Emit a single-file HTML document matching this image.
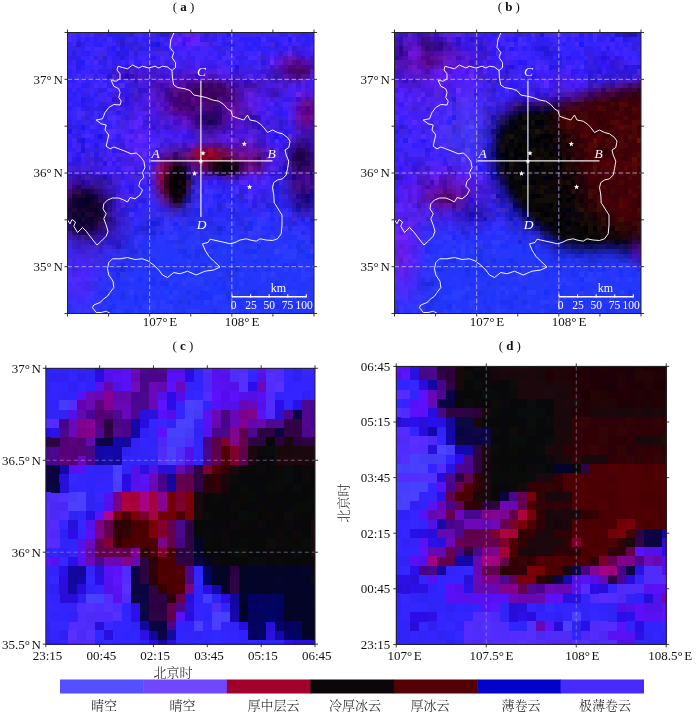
<!DOCTYPE html>
<html lang="zh"><head><meta charset="utf-8"><title>figure</title>
<style>html,body{margin:0;padding:0;background:#fff}body{width:700px;height:714px;overflow:hidden}</style></head>
<body>
<svg width="700" height="714" viewBox="0 0 700 714" style="display:block">
<rect width="700" height="714" fill="#fff"/>
<g shape-rendering="crispEdges"><path fill="#482afc" d="M67.5 32.5h4.7v4.91h-4.7zM89.51 32.5h4.7v4.91h-4.7zM67.5 37.11h4.7v4.91h-4.7zM261.18 37.11h4.7v4.91h-4.7zM291.99 37.11h4.7v4.91h-4.7zM225.96 50.93h4.7v4.91h-4.7zM256.78 50.93h4.7v4.91h-4.7zM159.94 55.53h4.7v4.91h-4.7zM221.56 55.53h4.7v4.91h-4.7zM225.96 55.53h4.7v4.91h-4.7zM247.97 55.53h4.7v4.91h-4.7zM252.38 55.53h4.7v4.91h-4.7zM93.91 60.14h4.7v4.91h-4.7zM85.11 73.96h4.7v4.91h-4.7zM76.3 78.57h4.7v4.91h-4.7zM98.31 78.57h4.7v4.91h-4.7zM93.91 83.17h4.7v4.91h-4.7zM102.71 83.17h4.7v4.91h-4.7zM107.12 87.78h4.7v4.91h-4.7zM76.3 110.81h4.7v4.91h-4.7zM107.12 115.42h4.7v4.91h-4.7zM111.52 120.02h4.7v4.91h-4.7zM89.51 124.63h4.7v4.91h-4.7zM85.11 133.84h4.7v4.91h-4.7zM247.97 189.12h4.7v4.91h-4.7zM71.9 276.65h4.7v4.91h-4.7zM85.11 276.65h4.7v4.91h-4.7zM89.51 276.65h4.7v4.91h-4.7zM80.71 290.47h4.7v4.91h-4.7z"/>
<path fill="#422afc" d="M71.9 32.5h4.7v4.91h-4.7zM80.71 32.5h4.7v4.91h-4.7zM137.93 32.5h4.7v4.91h-4.7zM287.59 32.5h4.7v4.91h-4.7zM107.12 37.11h4.7v4.91h-4.7zM217.16 37.11h4.7v4.91h-4.7zM71.9 41.71h4.7v4.91h-4.7zM85.11 46.32h4.7v4.91h-4.7zM93.91 46.32h4.7v4.91h-4.7zM98.31 46.32h4.7v4.91h-4.7zM89.51 55.53h4.7v4.91h-4.7zM85.11 60.14h4.7v4.91h-4.7zM76.3 73.96h4.7v4.91h-4.7zM76.3 106.2h4.7v4.91h-4.7zM93.91 110.81h4.7v4.91h-4.7zM76.3 115.42h4.7v4.91h-4.7zM93.91 115.42h4.7v4.91h-4.7zM98.31 120.02h4.7v4.91h-4.7zM234.77 184.52h4.7v4.91h-4.7zM247.97 198.34h4.7v4.91h-4.7zM137.93 202.94h4.7v4.91h-4.7zM89.51 267.43h4.7v4.91h-4.7zM89.51 272.04h4.7v4.91h-4.7zM67.5 281.25h4.7v4.91h-4.7zM67.5 285.86h4.7v4.91h-4.7zM85.11 290.47h4.7v4.91h-4.7zM80.71 295.07h4.7v4.91h-4.7z"/>
<path fill="#3624fc" d="M76.3 32.5h4.7v4.91h-4.7zM102.71 32.5h4.7v4.91h-4.7zM142.33 32.5h4.7v4.91h-4.7zM221.56 32.5h4.7v4.91h-4.7zM234.77 32.5h4.7v4.91h-4.7zM261.18 32.5h4.7v4.91h-4.7zM265.58 32.5h4.7v4.91h-4.7zM291.99 32.5h4.7v4.91h-4.7zM309.6 32.5h4.7v4.91h-4.7zM89.51 37.11h4.7v4.91h-4.7zM278.79 37.11h4.7v4.91h-4.7zM300.79 37.11h4.7v4.91h-4.7zM67.5 41.71h4.7v4.91h-4.7zM85.11 41.71h4.7v4.91h-4.7zM89.51 41.71h4.7v4.91h-4.7zM234.77 41.71h4.7v4.91h-4.7zM247.97 41.71h4.7v4.91h-4.7zM309.6 41.71h4.7v4.91h-4.7zM234.77 46.32h4.7v4.91h-4.7zM239.17 46.32h4.7v4.91h-4.7zM252.38 46.32h4.7v4.91h-4.7zM89.51 50.93h4.7v4.91h-4.7zM85.11 55.53h4.7v4.91h-4.7zM107.12 55.53h4.7v4.91h-4.7zM67.5 64.75h4.7v4.91h-4.7zM85.11 64.75h4.7v4.91h-4.7zM89.51 64.75h4.7v4.91h-4.7zM80.71 73.96h4.7v4.91h-4.7zM93.91 78.57h4.7v4.91h-4.7zM67.5 92.39h4.7v4.91h-4.7zM76.3 92.39h4.7v4.91h-4.7zM76.3 96.99h4.7v4.91h-4.7zM93.91 96.99h4.7v4.91h-4.7zM71.9 106.2h4.7v4.91h-4.7zM67.5 110.81h4.7v4.91h-4.7zM98.31 110.81h4.7v4.91h-4.7zM71.9 115.42h4.7v4.91h-4.7zM71.9 120.02h4.7v4.91h-4.7zM98.31 129.24h4.7v4.91h-4.7zM137.93 189.12h4.7v4.91h-4.7zM142.33 189.12h4.7v4.91h-4.7zM146.73 193.73h4.7v4.91h-4.7zM151.13 202.94h4.7v4.91h-4.7z"/>
<path fill="#3c24fc" d="M85.11 32.5h4.7v4.91h-4.7zM217.16 32.5h4.7v4.91h-4.7zM239.17 32.5h4.7v4.91h-4.7zM243.57 32.5h4.7v4.91h-4.7zM252.38 32.5h4.7v4.91h-4.7zM256.78 32.5h4.7v4.91h-4.7zM269.98 32.5h4.7v4.91h-4.7zM274.38 32.5h4.7v4.91h-4.7zM80.71 37.11h4.7v4.91h-4.7zM137.93 37.11h4.7v4.91h-4.7zM234.77 37.11h4.7v4.91h-4.7zM283.19 37.11h4.7v4.91h-4.7zM102.71 41.71h4.7v4.91h-4.7zM107.12 41.71h4.7v4.91h-4.7zM111.52 41.71h4.7v4.91h-4.7zM217.16 41.71h4.7v4.91h-4.7zM239.17 41.71h4.7v4.91h-4.7zM261.18 41.71h4.7v4.91h-4.7zM265.58 41.71h4.7v4.91h-4.7zM291.99 41.71h4.7v4.91h-4.7zM89.51 46.32h4.7v4.91h-4.7zM102.71 46.32h4.7v4.91h-4.7zM208.36 46.32h4.7v4.91h-4.7zM230.37 46.32h4.7v4.91h-4.7zM93.91 50.93h4.7v4.91h-4.7zM212.76 50.93h4.7v4.91h-4.7zM234.77 50.93h4.7v4.91h-4.7zM252.38 50.93h4.7v4.91h-4.7zM80.71 55.53h4.7v4.91h-4.7zM129.12 55.53h4.7v4.91h-4.7zM212.76 55.53h4.7v4.91h-4.7zM89.51 60.14h4.7v4.91h-4.7zM120.32 60.14h4.7v4.91h-4.7zM98.31 64.75h4.7v4.91h-4.7zM71.9 69.35h4.7v4.91h-4.7zM80.71 69.35h4.7v4.91h-4.7zM85.11 69.35h4.7v4.91h-4.7zM80.71 78.57h4.7v4.91h-4.7zM67.5 83.17h4.7v4.91h-4.7zM71.9 83.17h4.7v4.91h-4.7zM76.3 83.17h4.7v4.91h-4.7zM71.9 87.78h4.7v4.91h-4.7zM89.51 87.78h4.7v4.91h-4.7zM89.51 92.39h4.7v4.91h-4.7zM98.31 96.99h4.7v4.91h-4.7zM102.71 96.99h4.7v4.91h-4.7zM71.9 110.81h4.7v4.91h-4.7zM107.12 120.02h4.7v4.91h-4.7zM93.91 124.63h4.7v4.91h-4.7zM102.71 124.63h4.7v4.91h-4.7zM85.11 129.24h4.7v4.91h-4.7zM80.71 133.84h4.7v4.91h-4.7zM98.31 143.06h4.7v4.91h-4.7zM133.53 184.52h4.7v4.91h-4.7zM265.58 184.52h4.7v4.91h-4.7zM269.98 184.52h4.7v4.91h-4.7zM142.33 193.73h4.7v4.91h-4.7z"/>
<path fill="#361ef6" d="M93.91 32.5h4.7v4.91h-4.7zM212.76 32.5h4.7v4.91h-4.7zM155.54 37.11h4.7v4.91h-4.7zM296.39 37.11h4.7v4.91h-4.7zM265.58 50.93h4.7v4.91h-4.7zM234.77 55.53h4.7v4.91h-4.7zM239.17 60.14h4.7v4.91h-4.7zM252.38 60.14h4.7v4.91h-4.7zM120.32 64.75h4.7v4.91h-4.7zM102.71 133.84h4.7v4.91h-4.7zM111.52 138.45h4.7v4.91h-4.7zM89.51 143.06h4.7v4.91h-4.7zM67.5 147.66h4.7v4.91h-4.7zM129.12 179.91h4.7v4.91h-4.7zM256.78 189.12h4.7v4.91h-4.7z"/>
<path fill="#361eea" d="M98.31 32.5h4.7v4.91h-4.7zM159.94 41.71h4.7v4.91h-4.7zM129.12 46.32h4.7v4.91h-4.7zM151.13 46.32h4.7v4.91h-4.7zM261.18 50.93h4.7v4.91h-4.7zM98.31 60.14h4.7v4.91h-4.7zM102.71 101.6h4.7v4.91h-4.7zM107.12 106.2h4.7v4.91h-4.7zM120.32 110.81h4.7v4.91h-4.7zM261.18 189.12h4.7v4.91h-4.7zM261.18 193.73h4.7v4.91h-4.7z"/>
<path fill="#2a1ef6" d="M107.12 32.5h4.7v4.91h-4.7zM93.91 92.39h4.7v4.91h-4.7zM133.53 207.55h4.7v4.91h-4.7z"/>
<path fill="#301eea" d="M111.52 32.5h4.7v4.91h-4.7zM120.32 32.5h4.7v4.91h-4.7zM155.54 32.5h4.7v4.91h-4.7zM300.79 32.5h4.7v4.91h-4.7zM80.71 41.71h4.7v4.91h-4.7zM225.96 41.71h4.7v4.91h-4.7zM107.12 46.32h4.7v4.91h-4.7zM274.38 46.32h4.7v4.91h-4.7zM115.92 55.53h4.7v4.91h-4.7zM239.17 55.53h4.7v4.91h-4.7zM102.71 60.14h4.7v4.91h-4.7zM111.52 60.14h4.7v4.91h-4.7zM98.31 101.6h4.7v4.91h-4.7zM93.91 106.2h4.7v4.91h-4.7zM67.5 120.02h4.7v4.91h-4.7z"/>
<path fill="#2a1ef0" d="M115.92 32.5h4.7v4.91h-4.7zM124.72 46.32h4.7v4.91h-4.7zM67.5 55.53h4.7v4.91h-4.7zM261.18 198.34h4.7v4.91h-4.7z"/>
<path fill="#301ef6" d="M124.72 32.5h4.7v4.91h-4.7zM305.2 32.5h4.7v4.91h-4.7zM93.91 37.11h4.7v4.91h-4.7zM212.76 37.11h4.7v4.91h-4.7zM243.57 37.11h4.7v4.91h-4.7zM247.97 37.11h4.7v4.91h-4.7zM93.91 41.71h4.7v4.91h-4.7zM243.57 41.71h4.7v4.91h-4.7zM278.79 41.71h4.7v4.91h-4.7zM300.79 41.71h4.7v4.91h-4.7zM305.2 41.71h4.7v4.91h-4.7zM80.71 46.32h4.7v4.91h-4.7zM142.33 46.32h4.7v4.91h-4.7zM221.56 50.93h4.7v4.91h-4.7zM93.91 55.53h4.7v4.91h-4.7zM67.5 73.96h4.7v4.91h-4.7zM93.91 73.96h4.7v4.91h-4.7zM67.5 96.99h4.7v4.91h-4.7zM80.71 106.2h4.7v4.91h-4.7zM98.31 115.42h4.7v4.91h-4.7zM89.51 120.02h4.7v4.91h-4.7zM71.9 133.84h4.7v4.91h-4.7zM85.11 138.45h4.7v4.91h-4.7zM98.31 138.45h4.7v4.91h-4.7zM225.96 184.52h4.7v4.91h-4.7zM243.57 189.12h4.7v4.91h-4.7z"/>
<path fill="#2a1ed8" d="M129.12 32.5h4.7v4.91h-4.7zM102.71 55.53h4.7v4.91h-4.7zM287.59 202.94h4.7v4.91h-4.7zM124.72 207.55h4.7v4.91h-4.7zM120.32 235.19h4.7v4.91h-4.7z"/>
<path fill="#3c24f6" d="M133.53 32.5h4.7v4.91h-4.7zM247.97 32.5h4.7v4.91h-4.7zM142.33 50.93h4.7v4.91h-4.7zM146.73 50.93h4.7v4.91h-4.7zM71.9 60.14h4.7v4.91h-4.7zM107.12 64.75h4.7v4.91h-4.7zM93.91 69.35h4.7v4.91h-4.7zM111.52 83.17h4.7v4.91h-4.7zM67.5 101.6h4.7v4.91h-4.7zM93.91 101.6h4.7v4.91h-4.7zM102.71 120.02h4.7v4.91h-4.7zM133.53 189.12h4.7v4.91h-4.7zM137.93 193.73h4.7v4.91h-4.7zM151.13 198.34h4.7v4.91h-4.7z"/>
<path fill="#3624ea" d="M146.73 32.5h4.7v4.91h-4.7zM124.72 37.11h4.7v4.91h-4.7zM71.9 46.32h4.7v4.91h-4.7zM80.71 120.02h4.7v4.91h-4.7zM217.16 184.52h4.7v4.91h-4.7z"/>
<path fill="#3c24f0" d="M151.13 32.5h4.7v4.91h-4.7zM208.36 32.5h4.7v4.91h-4.7zM76.3 46.32h4.7v4.91h-4.7zM137.93 50.93h4.7v4.91h-4.7zM243.57 60.14h4.7v4.91h-4.7zM89.51 83.17h4.7v4.91h-4.7zM111.52 110.81h4.7v4.91h-4.7zM89.51 115.42h4.7v4.91h-4.7zM133.53 193.73h4.7v4.91h-4.7zM67.5 249.01h4.7v4.91h-4.7zM71.9 258.22h4.7v4.91h-4.7z"/>
<path fill="#2a18de" d="M159.94 32.5h4.7v4.91h-4.7zM164.34 32.5h4.7v4.91h-4.7zM76.3 41.71h4.7v4.91h-4.7zM120.32 55.53h4.7v4.91h-4.7zM76.3 138.45h4.7v4.91h-4.7z"/>
<path fill="#421ef0" d="M168.74 32.5h4.7v4.91h-4.7zM177.54 60.14h4.7v4.91h-4.7zM120.32 106.2h4.7v4.91h-4.7zM120.32 124.63h4.7v4.91h-4.7zM269.98 129.24h4.7v4.91h-4.7zM274.38 129.24h4.7v4.91h-4.7zM274.38 143.06h4.7v4.91h-4.7zM278.79 143.06h4.7v4.91h-4.7zM111.52 166.09h4.7v4.91h-4.7zM137.93 166.09h4.7v4.91h-4.7z"/>
<path fill="#4e24fc" d="M173.14 32.5h4.7v4.91h-4.7zM168.74 41.71h4.7v4.91h-4.7zM186.35 46.32h4.7v4.91h-4.7zM195.15 60.14h4.7v4.91h-4.7zM221.56 64.75h4.7v4.91h-4.7zM120.32 133.84h4.7v4.91h-4.7zM124.72 143.06h4.7v4.91h-4.7zM146.73 147.66h4.7v4.91h-4.7zM142.33 156.88h4.7v4.91h-4.7zM129.12 166.09h4.7v4.91h-4.7zM265.58 175.3h4.7v4.91h-4.7zM252.38 179.91h4.7v4.91h-4.7zM80.71 272.04h4.7v4.91h-4.7z"/>
<path fill="#4218fc" d="M177.54 32.5h4.7v4.91h-4.7zM129.12 138.45h4.7v4.91h-4.7zM146.73 138.45h4.7v4.91h-4.7z"/>
<path fill="#5a1ef6" d="M181.95 32.5h4.7v4.91h-4.7z"/>
<path fill="#6024ea" d="M186.35 32.5h4.7v4.91h-4.7z"/>
<path fill="#541ef0" d="M190.75 32.5h4.7v4.91h-4.7zM291.99 83.17h4.7v4.91h-4.7zM256.78 106.2h4.7v4.91h-4.7z"/>
<path fill="#5a24f6" d="M195.15 32.5h4.7v4.91h-4.7zM129.12 133.84h4.7v4.91h-4.7zM137.93 147.66h4.7v4.91h-4.7zM142.33 147.66h4.7v4.91h-4.7z"/>
<path fill="#421efc" d="M199.55 32.5h4.7v4.91h-4.7zM177.54 46.32h4.7v4.91h-4.7zM199.55 60.14h4.7v4.91h-4.7zM283.19 106.2h4.7v4.91h-4.7zM151.13 133.84h4.7v4.91h-4.7zM278.79 133.84h4.7v4.91h-4.7zM107.12 166.09h4.7v4.91h-4.7zM247.97 179.91h4.7v4.91h-4.7zM120.32 184.52h4.7v4.91h-4.7zM247.97 184.52h4.7v4.91h-4.7zM252.38 184.52h4.7v4.91h-4.7z"/>
<path fill="#3018ea" d="M203.96 32.5h4.7v4.91h-4.7zM124.72 64.75h4.7v4.91h-4.7zM115.92 110.81h4.7v4.91h-4.7zM67.5 161.48h4.7v4.91h-4.7z"/>
<path fill="#2418fc" d="M225.96 32.5h4.7v4.91h-4.7zM287.59 37.11h4.7v4.91h-4.7zM111.52 46.32h4.7v4.91h-4.7zM80.71 60.14h4.7v4.91h-4.7z"/>
<path fill="#301efc" d="M230.37 32.5h4.7v4.91h-4.7zM278.79 32.5h4.7v4.91h-4.7zM283.19 32.5h4.7v4.91h-4.7zM76.3 37.11h4.7v4.91h-4.7zM85.11 37.11h4.7v4.91h-4.7zM102.71 37.11h4.7v4.91h-4.7zM221.56 37.11h4.7v4.91h-4.7zM239.17 37.11h4.7v4.91h-4.7zM252.38 37.11h4.7v4.91h-4.7zM274.38 37.11h4.7v4.91h-4.7zM256.78 41.71h4.7v4.91h-4.7zM146.73 46.32h4.7v4.91h-4.7zM243.57 46.32h4.7v4.91h-4.7zM261.18 46.32h4.7v4.91h-4.7zM265.58 46.32h4.7v4.91h-4.7zM80.71 50.93h4.7v4.91h-4.7zM107.12 50.93h4.7v4.91h-4.7zM111.52 50.93h4.7v4.91h-4.7zM230.37 50.93h4.7v4.91h-4.7zM217.16 55.53h4.7v4.91h-4.7zM124.72 60.14h4.7v4.91h-4.7zM133.53 60.14h4.7v4.91h-4.7zM225.96 60.14h4.7v4.91h-4.7zM80.71 64.75h4.7v4.91h-4.7zM67.5 69.35h4.7v4.91h-4.7zM76.3 69.35h4.7v4.91h-4.7zM89.51 69.35h4.7v4.91h-4.7zM67.5 78.57h4.7v4.91h-4.7zM71.9 78.57h4.7v4.91h-4.7zM107.12 83.17h4.7v4.91h-4.7zM67.5 87.78h4.7v4.91h-4.7zM76.3 87.78h4.7v4.91h-4.7zM71.9 101.6h4.7v4.91h-4.7zM76.3 101.6h4.7v4.91h-4.7zM85.11 101.6h4.7v4.91h-4.7zM89.51 101.6h4.7v4.91h-4.7zM102.71 115.42h4.7v4.91h-4.7zM76.3 120.02h4.7v4.91h-4.7zM85.11 124.63h4.7v4.91h-4.7zM98.31 124.63h4.7v4.91h-4.7zM107.12 124.63h4.7v4.91h-4.7zM89.51 129.24h4.7v4.91h-4.7zM93.91 129.24h4.7v4.91h-4.7zM89.51 138.45h4.7v4.91h-4.7zM142.33 184.52h4.7v4.91h-4.7z"/>
<path fill="#3c24e4" d="M296.39 32.5h4.7v4.91h-4.7zM151.13 37.11h4.7v4.91h-4.7zM221.56 46.32h4.7v4.91h-4.7zM265.58 189.12h4.7v4.91h-4.7zM256.78 198.34h4.7v4.91h-4.7zM155.54 202.94h4.7v4.91h-4.7zM93.91 249.01h4.7v4.91h-4.7z"/>
<path fill="#3c2afc" d="M71.9 37.11h4.7v4.91h-4.7zM203.96 184.52h4.7v4.91h-4.7zM212.76 189.12h4.7v4.91h-4.7zM230.37 189.12h4.7v4.91h-4.7zM269.98 189.12h4.7v4.91h-4.7zM199.55 193.73h4.7v4.91h-4.7zM230.37 193.73h4.7v4.91h-4.7zM146.73 198.34h4.7v4.91h-4.7zM247.97 202.94h4.7v4.91h-4.7zM133.53 216.76h4.7v4.91h-4.7zM93.91 267.43h4.7v4.91h-4.7zM93.91 272.04h4.7v4.91h-4.7zM71.9 295.07h4.7v4.91h-4.7zM76.3 295.07h4.7v4.91h-4.7zM80.71 299.68h4.7v4.91h-4.7z"/>
<path fill="#3624f0" d="M98.31 37.11h4.7v4.91h-4.7zM67.5 50.93h4.7v4.91h-4.7zM71.9 73.96h4.7v4.91h-4.7zM93.91 87.78h4.7v4.91h-4.7zM85.11 110.81h4.7v4.91h-4.7zM67.5 133.84h4.7v4.91h-4.7z"/>
<path fill="#361efc" d="M111.52 37.11h4.7v4.91h-4.7zM142.33 37.11h4.7v4.91h-4.7zM265.58 37.11h4.7v4.91h-4.7zM309.6 37.11h4.7v4.91h-4.7zM287.59 41.71h4.7v4.91h-4.7zM186.35 50.93h4.7v4.91h-4.7zM133.53 55.53h4.7v4.91h-4.7zM155.54 55.53h4.7v4.91h-4.7zM67.5 60.14h4.7v4.91h-4.7zM115.92 60.14h4.7v4.91h-4.7zM137.93 60.14h4.7v4.91h-4.7zM230.37 60.14h4.7v4.91h-4.7zM85.11 78.57h4.7v4.91h-4.7zM102.71 78.57h4.7v4.91h-4.7zM107.12 92.39h4.7v4.91h-4.7zM71.9 96.99h4.7v4.91h-4.7zM102.71 110.81h4.7v4.91h-4.7zM67.5 115.42h4.7v4.91h-4.7zM80.71 129.24h4.7v4.91h-4.7zM67.5 138.45h4.7v4.91h-4.7zM93.91 138.45h4.7v4.91h-4.7zM71.9 147.66h4.7v4.91h-4.7zM102.71 147.66h4.7v4.91h-4.7zM102.71 152.27h4.7v4.91h-4.7zM137.93 184.52h4.7v4.91h-4.7zM239.17 184.52h4.7v4.91h-4.7z"/>
<path fill="#2a1eea" d="M115.92 37.11h4.7v4.91h-4.7zM71.9 50.93h4.7v4.91h-4.7zM76.3 60.14h4.7v4.91h-4.7zM85.11 96.99h4.7v4.91h-4.7zM221.56 184.52h4.7v4.91h-4.7zM199.55 189.12h4.7v4.91h-4.7zM133.53 202.94h4.7v4.91h-4.7zM129.12 207.55h4.7v4.91h-4.7z"/>
<path fill="#2a1ecc" d="M120.32 37.11h4.7v4.91h-4.7zM296.39 212.16h4.7v4.91h-4.7z"/>
<path fill="#4224de" d="M129.12 37.11h4.7v4.91h-4.7zM89.51 249.01h4.7v4.91h-4.7zM85.11 253.61h4.7v4.91h-4.7zM71.9 267.43h4.7v4.91h-4.7z"/>
<path fill="#2a1efc" d="M133.53 37.11h4.7v4.91h-4.7zM256.78 37.11h4.7v4.91h-4.7zM305.2 37.11h4.7v4.91h-4.7zM98.31 41.71h4.7v4.91h-4.7zM252.38 41.71h4.7v4.91h-4.7zM247.97 46.32h4.7v4.91h-4.7zM85.11 50.93h4.7v4.91h-4.7zM80.71 83.17h4.7v4.91h-4.7zM102.71 87.78h4.7v4.91h-4.7zM71.9 92.39h4.7v4.91h-4.7zM89.51 96.99h4.7v4.91h-4.7zM67.5 106.2h4.7v4.91h-4.7zM221.56 189.12h4.7v4.91h-4.7zM243.57 198.34h4.7v4.91h-4.7z"/>
<path fill="#3624de" d="M146.73 37.11h4.7v4.91h-4.7zM265.58 193.73h4.7v4.91h-4.7zM278.79 193.73h4.7v4.91h-4.7zM129.12 202.94h4.7v4.91h-4.7zM120.32 225.98h4.7v4.91h-4.7zM124.72 225.98h4.7v4.91h-4.7z"/>
<path fill="#4224f0" d="M159.94 37.11h4.7v4.91h-4.7zM296.39 41.71h4.7v4.91h-4.7zM115.92 46.32h4.7v4.91h-4.7zM159.94 50.93h4.7v4.91h-4.7zM173.14 55.53h4.7v4.91h-4.7zM256.78 55.53h4.7v4.91h-4.7zM221.56 60.14h4.7v4.91h-4.7zM252.38 64.75h4.7v4.91h-4.7zM98.31 92.39h4.7v4.91h-4.7zM115.92 124.63h4.7v4.91h-4.7zM80.71 152.27h4.7v4.91h-4.7zM142.33 175.3h4.7v4.91h-4.7zM71.9 262.83h4.7v4.91h-4.7zM89.51 262.83h4.7v4.91h-4.7zM85.11 285.86h4.7v4.91h-4.7z"/>
<path fill="#3c1eea" d="M164.34 37.11h4.7v4.91h-4.7zM181.95 60.14h4.7v4.91h-4.7zM208.36 60.14h4.7v4.91h-4.7zM111.52 78.57h4.7v4.91h-4.7zM278.79 129.24h4.7v4.91h-4.7zM98.31 147.66h4.7v4.91h-4.7z"/>
<path fill="#5424fc" d="M168.74 37.11h4.7v4.91h-4.7zM199.55 41.71h4.7v4.91h-4.7zM269.98 55.53h4.7v4.91h-4.7zM269.98 101.6h4.7v4.91h-4.7zM129.12 124.63h4.7v4.91h-4.7zM142.33 133.84h4.7v4.91h-4.7zM124.72 138.45h4.7v4.91h-4.7zM129.12 152.27h4.7v4.91h-4.7zM124.72 166.09h4.7v4.91h-4.7zM239.17 179.91h4.7v4.91h-4.7zM243.57 179.91h4.7v4.91h-4.7z"/>
<path fill="#541efc" d="M173.14 37.11h4.7v4.91h-4.7zM133.53 143.06h4.7v4.91h-4.7zM137.93 143.06h4.7v4.91h-4.7z"/>
<path fill="#6624fc" d="M177.54 37.11h4.7v4.91h-4.7z"/>
<path fill="#4812fc" d="M181.95 37.11h4.7v4.91h-4.7z"/>
<path fill="#5412fc" d="M186.35 37.11h4.7v4.91h-4.7z"/>
<path fill="#661efc" d="M190.75 37.11h4.7v4.91h-4.7z"/>
<path fill="#6024fc" d="M195.15 37.11h4.7v4.91h-4.7zM190.75 41.71h4.7v4.91h-4.7zM137.93 115.42h4.7v4.91h-4.7zM133.53 124.63h4.7v4.91h-4.7zM137.93 138.45h4.7v4.91h-4.7z"/>
<path fill="#3c18f6" d="M199.55 37.11h4.7v4.91h-4.7zM265.58 60.14h4.7v4.91h-4.7zM120.32 78.57h4.7v4.91h-4.7zM129.12 129.24h4.7v4.91h-4.7z"/>
<path fill="#3c18e4" d="M203.96 37.11h4.7v4.91h-4.7zM300.79 50.93h4.7v4.91h-4.7zM168.74 64.75h4.7v4.91h-4.7zM212.76 64.75h4.7v4.91h-4.7zM256.78 69.35h4.7v4.91h-4.7zM129.12 101.6h4.7v4.91h-4.7zM129.12 106.2h4.7v4.91h-4.7zM142.33 120.02h4.7v4.91h-4.7zM261.18 124.63h4.7v4.91h-4.7zM155.54 129.24h4.7v4.91h-4.7zM93.91 166.09h4.7v4.91h-4.7zM98.31 166.09h4.7v4.91h-4.7zM107.12 170.7h4.7v4.91h-4.7zM115.92 170.7h4.7v4.91h-4.7z"/>
<path fill="#3c1ee4" d="M208.36 37.11h4.7v4.91h-4.7zM208.36 41.71h4.7v4.91h-4.7zM278.79 46.32h4.7v4.91h-4.7zM296.39 46.32h4.7v4.91h-4.7zM239.17 64.75h4.7v4.91h-4.7zM247.97 64.75h4.7v4.91h-4.7zM261.18 64.75h4.7v4.91h-4.7zM247.97 69.35h4.7v4.91h-4.7zM252.38 69.35h4.7v4.91h-4.7zM120.32 115.42h4.7v4.91h-4.7zM274.38 115.42h4.7v4.91h-4.7zM274.38 124.63h4.7v4.91h-4.7zM283.19 124.63h4.7v4.91h-4.7zM115.92 143.06h4.7v4.91h-4.7zM80.71 161.48h4.7v4.91h-4.7z"/>
<path fill="#4224f6" d="M225.96 37.11h4.7v4.91h-4.7zM230.37 37.11h4.7v4.91h-4.7zM212.76 41.71h4.7v4.91h-4.7zM243.57 50.93h4.7v4.91h-4.7zM107.12 60.14h4.7v4.91h-4.7zM107.12 138.45h4.7v4.91h-4.7zM146.73 184.52h4.7v4.91h-4.7zM243.57 184.52h4.7v4.91h-4.7zM261.18 184.52h4.7v4.91h-4.7zM129.12 193.73h4.7v4.91h-4.7zM80.71 258.22h4.7v4.91h-4.7z"/>
<path fill="#301ef0" d="M269.98 37.11h4.7v4.91h-4.7zM221.56 41.71h4.7v4.91h-4.7zM256.78 46.32h4.7v4.91h-4.7zM76.3 55.53h4.7v4.91h-4.7zM111.52 55.53h4.7v4.91h-4.7zM98.31 69.35h4.7v4.91h-4.7zM85.11 83.17h4.7v4.91h-4.7zM89.51 110.81h4.7v4.91h-4.7zM76.3 124.63h4.7v4.91h-4.7zM76.3 129.24h4.7v4.91h-4.7zM93.91 133.84h4.7v4.91h-4.7zM67.5 143.06h4.7v4.91h-4.7zM252.38 198.34h4.7v4.91h-4.7z"/>
<path fill="#361ede" d="M115.92 41.71h4.7v4.91h-4.7zM155.54 46.32h4.7v4.91h-4.7zM71.9 55.53h4.7v4.91h-4.7zM85.11 115.42h4.7v4.91h-4.7zM278.79 115.42h4.7v4.91h-4.7zM274.38 175.3h4.7v4.91h-4.7zM278.79 175.3h4.7v4.91h-4.7z"/>
<path fill="#2a18d2" d="M120.32 41.71h4.7v4.91h-4.7z"/>
<path fill="#361ee4" d="M124.72 41.71h4.7v4.91h-4.7zM159.94 46.32h4.7v4.91h-4.7zM217.16 46.32h4.7v4.91h-4.7zM300.79 46.32h4.7v4.91h-4.7zM107.12 69.35h4.7v4.91h-4.7zM85.11 92.39h4.7v4.91h-4.7zM89.51 106.2h4.7v4.91h-4.7zM102.71 138.45h4.7v4.91h-4.7zM85.11 147.66h4.7v4.91h-4.7z"/>
<path fill="#301ee4" d="M129.12 41.71h4.7v4.91h-4.7zM98.31 87.78h4.7v4.91h-4.7zM98.31 106.2h4.7v4.91h-4.7zM71.9 124.63h4.7v4.91h-4.7zM93.91 147.66h4.7v4.91h-4.7zM124.72 212.16h4.7v4.91h-4.7z"/>
<path fill="#301ed8" d="M133.53 41.71h4.7v4.91h-4.7zM67.5 124.63h4.7v4.91h-4.7zM278.79 189.12h4.7v4.91h-4.7zM98.31 249.01h4.7v4.91h-4.7z"/>
<path fill="#3624e4" d="M137.93 41.71h4.7v4.91h-4.7zM93.91 253.61h4.7v4.91h-4.7z"/>
<path fill="#3624f6" d="M142.33 41.71h4.7v4.91h-4.7zM67.5 46.32h4.7v4.91h-4.7zM225.96 46.32h4.7v4.91h-4.7zM76.3 50.93h4.7v4.91h-4.7zM80.71 87.78h4.7v4.91h-4.7zM71.9 129.24h4.7v4.91h-4.7zM199.55 184.52h4.7v4.91h-4.7zM212.76 184.52h4.7v4.91h-4.7z"/>
<path fill="#361ef0" d="M146.73 41.71h4.7v4.91h-4.7zM212.76 46.32h4.7v4.91h-4.7zM269.98 46.32h4.7v4.91h-4.7zM168.74 50.93h4.7v4.91h-4.7zM217.16 50.93h4.7v4.91h-4.7zM239.17 50.93h4.7v4.91h-4.7zM124.72 55.53h4.7v4.91h-4.7zM190.75 55.53h4.7v4.91h-4.7zM243.57 55.53h4.7v4.91h-4.7zM164.34 60.14h4.7v4.91h-4.7zM102.71 64.75h4.7v4.91h-4.7zM111.52 64.75h4.7v4.91h-4.7zM102.71 69.35h4.7v4.91h-4.7zM80.71 92.39h4.7v4.91h-4.7zM107.12 143.06h4.7v4.91h-4.7zM89.51 147.66h4.7v4.91h-4.7zM269.98 175.3h4.7v4.91h-4.7zM269.98 179.91h4.7v4.91h-4.7zM124.72 184.52h4.7v4.91h-4.7zM252.38 193.73h4.7v4.91h-4.7z"/>
<path fill="#2418e4" d="M151.13 41.71h4.7v4.91h-4.7zM80.71 143.06h4.7v4.91h-4.7z"/>
<path fill="#1e12ea" d="M155.54 41.71h4.7v4.91h-4.7z"/>
<path fill="#4224fc" d="M164.34 41.71h4.7v4.91h-4.7zM283.19 41.71h4.7v4.91h-4.7zM203.96 46.32h4.7v4.91h-4.7zM177.54 50.93h4.7v4.91h-4.7zM190.75 50.93h4.7v4.91h-4.7zM195.15 50.93h4.7v4.91h-4.7zM199.55 50.93h4.7v4.91h-4.7zM203.96 50.93h4.7v4.91h-4.7zM247.97 50.93h4.7v4.91h-4.7zM269.98 50.93h4.7v4.91h-4.7zM137.93 55.53h4.7v4.91h-4.7zM142.33 55.53h4.7v4.91h-4.7zM164.34 55.53h4.7v4.91h-4.7zM199.55 55.53h4.7v4.91h-4.7zM234.77 60.14h4.7v4.91h-4.7zM71.9 64.75h4.7v4.91h-4.7zM93.91 64.75h4.7v4.91h-4.7zM98.31 73.96h4.7v4.91h-4.7zM98.31 83.17h4.7v4.91h-4.7zM115.92 83.17h4.7v4.91h-4.7zM115.92 87.78h4.7v4.91h-4.7zM102.71 92.39h4.7v4.91h-4.7zM107.12 110.81h4.7v4.91h-4.7zM115.92 115.42h4.7v4.91h-4.7zM93.91 120.02h4.7v4.91h-4.7zM111.52 124.63h4.7v4.91h-4.7zM102.71 129.24h4.7v4.91h-4.7zM89.51 133.84h4.7v4.91h-4.7zM111.52 133.84h4.7v4.91h-4.7zM71.9 138.45h4.7v4.91h-4.7zM71.9 143.06h4.7v4.91h-4.7zM102.71 143.06h4.7v4.91h-4.7zM107.12 147.66h4.7v4.91h-4.7zM67.5 152.27h4.7v4.91h-4.7zM67.5 156.88h4.7v4.91h-4.7zM133.53 179.91h4.7v4.91h-4.7zM256.78 184.52h4.7v4.91h-4.7zM124.72 189.12h4.7v4.91h-4.7zM146.73 189.12h4.7v4.91h-4.7zM252.38 189.12h4.7v4.91h-4.7z"/>
<path fill="#5a24fc" d="M173.14 41.71h4.7v4.91h-4.7zM195.15 41.71h4.7v4.91h-4.7zM133.53 120.02h4.7v4.91h-4.7zM137.93 120.02h4.7v4.91h-4.7zM124.72 133.84h4.7v4.91h-4.7zM133.53 138.45h4.7v4.91h-4.7zM142.33 138.45h4.7v4.91h-4.7zM133.53 152.27h4.7v4.91h-4.7z"/>
<path fill="#4e1efc" d="M177.54 41.71h4.7v4.91h-4.7zM221.56 69.35h4.7v4.91h-4.7zM137.93 110.81h4.7v4.91h-4.7zM287.59 110.81h4.7v4.91h-4.7zM146.73 133.84h4.7v4.91h-4.7zM129.12 143.06h4.7v4.91h-4.7zM137.93 152.27h4.7v4.91h-4.7zM137.93 156.88h4.7v4.91h-4.7z"/>
<path fill="#3c12fc" d="M181.95 41.71h4.7v4.91h-4.7zM181.95 133.84h4.7v4.91h-4.7z"/>
<path fill="#601efc" d="M186.35 41.71h4.7v4.91h-4.7z"/>
<path fill="#4e24f0" d="M203.96 41.71h4.7v4.91h-4.7zM129.12 120.02h4.7v4.91h-4.7zM155.54 143.06h4.7v4.91h-4.7zM120.32 152.27h4.7v4.91h-4.7zM133.53 156.88h4.7v4.91h-4.7z"/>
<path fill="#2a18f0" d="M230.37 41.71h4.7v4.91h-4.7zM274.38 41.71h4.7v4.91h-4.7zM120.32 46.32h4.7v4.91h-4.7zM124.72 50.93h4.7v4.91h-4.7zM151.13 55.53h4.7v4.91h-4.7zM80.71 101.6h4.7v4.91h-4.7z"/>
<path fill="#4224e4" d="M269.98 41.71h4.7v4.91h-4.7zM98.31 55.53h4.7v4.91h-4.7zM111.52 143.06h4.7v4.91h-4.7zM98.31 152.27h4.7v4.91h-4.7zM278.79 179.91h4.7v4.91h-4.7zM71.9 253.61h4.7v4.91h-4.7zM80.71 253.61h4.7v4.91h-4.7z"/>
<path fill="#3c24de" d="M133.53 46.32h4.7v4.91h-4.7zM80.71 115.42h4.7v4.91h-4.7zM133.53 198.34h4.7v4.91h-4.7zM67.5 244.4h4.7v4.91h-4.7zM102.71 244.4h4.7v4.91h-4.7zM107.12 244.4h4.7v4.91h-4.7zM71.9 249.01h4.7v4.91h-4.7z"/>
<path fill="#301ede" d="M137.93 46.32h4.7v4.91h-4.7zM133.53 50.93h4.7v4.91h-4.7zM76.3 133.84h4.7v4.91h-4.7zM278.79 184.52h4.7v4.91h-4.7zM239.17 189.12h4.7v4.91h-4.7zM159.94 207.55h4.7v4.91h-4.7z"/>
<path fill="#3018fc" d="M164.34 46.32h4.7v4.91h-4.7zM283.19 46.32h4.7v4.91h-4.7zM120.32 87.78h4.7v4.91h-4.7zM278.79 106.2h4.7v4.91h-4.7zM278.79 138.45h4.7v4.91h-4.7z"/>
<path fill="#4e2afc" d="M168.74 46.32h4.7v4.91h-4.7zM230.37 55.53h4.7v4.91h-4.7zM111.52 115.42h4.7v4.91h-4.7zM107.12 129.24h4.7v4.91h-4.7zM111.52 129.24h4.7v4.91h-4.7zM107.12 133.84h4.7v4.91h-4.7zM274.38 138.45h4.7v4.91h-4.7zM71.9 281.25h4.7v4.91h-4.7z"/>
<path fill="#3c1efc" d="M173.14 46.32h4.7v4.91h-4.7zM195.15 46.32h4.7v4.91h-4.7zM208.36 50.93h4.7v4.91h-4.7zM177.54 55.53h4.7v4.91h-4.7zM203.96 55.53h4.7v4.91h-4.7zM247.97 60.14h4.7v4.91h-4.7zM102.71 73.96h4.7v4.91h-4.7zM71.9 152.27h4.7v4.91h-4.7zM111.52 152.27h4.7v4.91h-4.7zM137.93 179.91h4.7v4.91h-4.7z"/>
<path fill="#481ef6" d="M181.95 46.32h4.7v4.91h-4.7zM287.59 87.78h4.7v4.91h-4.7zM124.72 124.63h4.7v4.91h-4.7zM146.73 161.48h4.7v4.91h-4.7z"/>
<path fill="#481efc" d="M190.75 46.32h4.7v4.91h-4.7zM265.58 101.6h4.7v4.91h-4.7zM124.72 129.24h4.7v4.91h-4.7zM146.73 129.24h4.7v4.91h-4.7zM164.34 133.84h4.7v4.91h-4.7zM177.54 133.84h4.7v4.91h-4.7zM142.33 143.06h4.7v4.91h-4.7zM146.73 143.06h4.7v4.91h-4.7zM146.73 152.27h4.7v4.91h-4.7zM146.73 156.88h4.7v4.91h-4.7zM137.93 161.48h4.7v4.91h-4.7z"/>
<path fill="#4824fc" d="M199.55 46.32h4.7v4.91h-4.7zM309.6 46.32h4.7v4.91h-4.7zM181.95 50.93h4.7v4.91h-4.7zM181.95 55.53h4.7v4.91h-4.7zM195.15 55.53h4.7v4.91h-4.7zM208.36 55.53h4.7v4.91h-4.7zM142.33 60.14h4.7v4.91h-4.7zM225.96 64.75h4.7v4.91h-4.7zM111.52 87.78h4.7v4.91h-4.7zM107.12 96.99h4.7v4.91h-4.7zM151.13 138.45h4.7v4.91h-4.7zM107.12 152.27h4.7v4.91h-4.7zM142.33 161.48h4.7v4.91h-4.7zM120.32 179.91h4.7v4.91h-4.7zM142.33 179.91h4.7v4.91h-4.7zM212.76 179.91h4.7v4.91h-4.7zM265.58 179.91h4.7v4.91h-4.7zM124.72 193.73h4.7v4.91h-4.7zM76.3 258.22h4.7v4.91h-4.7zM80.71 267.43h4.7v4.91h-4.7zM85.11 267.43h4.7v4.91h-4.7zM85.11 272.04h4.7v4.91h-4.7zM80.71 276.65h4.7v4.91h-4.7zM76.3 281.25h4.7v4.91h-4.7zM80.71 285.86h4.7v4.91h-4.7z"/>
<path fill="#4824f0" d="M287.59 46.32h4.7v4.91h-4.7zM159.94 133.84h4.7v4.91h-4.7zM115.92 152.27h4.7v4.91h-4.7zM85.11 262.83h4.7v4.91h-4.7z"/>
<path fill="#3618de" d="M291.99 46.32h4.7v4.91h-4.7zM159.94 64.75h4.7v4.91h-4.7zM129.12 83.17h4.7v4.91h-4.7zM265.58 120.02h4.7v4.91h-4.7zM283.19 120.02h4.7v4.91h-4.7zM76.3 161.48h4.7v4.91h-4.7zM93.91 161.48h4.7v4.91h-4.7zM274.38 170.7h4.7v4.91h-4.7z"/>
<path fill="#3c1ef6" d="M305.2 46.32h4.7v4.91h-4.7zM173.14 50.93h4.7v4.91h-4.7zM146.73 55.53h4.7v4.91h-4.7zM168.74 55.53h4.7v4.91h-4.7zM190.75 60.14h4.7v4.91h-4.7zM212.76 60.14h4.7v4.91h-4.7zM230.37 64.75h4.7v4.91h-4.7zM107.12 78.57h4.7v4.91h-4.7zM107.12 101.6h4.7v4.91h-4.7zM115.92 120.02h4.7v4.91h-4.7zM142.33 170.7h4.7v4.91h-4.7zM124.72 179.91h4.7v4.91h-4.7z"/>
<path fill="#4224ea" d="M98.31 50.93h4.7v4.91h-4.7zM102.71 50.93h4.7v4.91h-4.7zM129.12 50.93h4.7v4.91h-4.7zM146.73 60.14h4.7v4.91h-4.7zM256.78 60.14h4.7v4.91h-4.7zM76.3 147.66h4.7v4.91h-4.7zM89.51 152.27h4.7v4.91h-4.7zM137.93 175.3h4.7v4.91h-4.7zM203.96 179.91h4.7v4.91h-4.7zM120.32 193.73h4.7v4.91h-4.7zM256.78 193.73h4.7v4.91h-4.7zM124.72 198.34h4.7v4.91h-4.7zM76.3 253.61h4.7v4.91h-4.7zM85.11 258.22h4.7v4.91h-4.7zM76.3 267.43h4.7v4.91h-4.7zM85.11 281.25h4.7v4.91h-4.7z"/>
<path fill="#2418ea" d="M115.92 50.93h4.7v4.91h-4.7zM80.71 96.99h4.7v4.91h-4.7z"/>
<path fill="#2a1ee4" d="M120.32 50.93h4.7v4.91h-4.7zM85.11 106.2h4.7v4.91h-4.7zM137.93 198.34h4.7v4.91h-4.7zM142.33 198.34h4.7v4.91h-4.7zM283.19 198.34h4.7v4.91h-4.7zM252.38 202.94h4.7v4.91h-4.7z"/>
<path fill="#3c24ea" d="M151.13 50.93h4.7v4.91h-4.7zM89.51 78.57h4.7v4.91h-4.7zM85.11 87.78h4.7v4.91h-4.7zM85.11 120.02h4.7v4.91h-4.7zM76.3 143.06h4.7v4.91h-4.7zM199.55 179.91h4.7v4.91h-4.7zM129.12 198.34h4.7v4.91h-4.7zM67.5 253.61h4.7v4.91h-4.7zM89.51 253.61h4.7v4.91h-4.7z"/>
<path fill="#4824ea" d="M155.54 50.93h4.7v4.91h-4.7zM168.74 60.14h4.7v4.91h-4.7zM217.16 60.14h4.7v4.91h-4.7zM115.92 106.2h4.7v4.91h-4.7zM115.92 161.48h4.7v4.91h-4.7zM71.9 272.04h4.7v4.91h-4.7z"/>
<path fill="#4824e4" d="M164.34 50.93h4.7v4.91h-4.7zM159.94 138.45h4.7v4.91h-4.7zM102.71 156.88h4.7v4.91h-4.7zM120.32 202.94h4.7v4.91h-4.7z"/>
<path fill="#421eea" d="M274.38 50.93h4.7v4.91h-4.7zM309.6 50.93h4.7v4.91h-4.7zM151.13 60.14h4.7v4.91h-4.7zM186.35 60.14h4.7v4.91h-4.7zM142.33 64.75h4.7v4.91h-4.7zM164.34 64.75h4.7v4.91h-4.7zM278.79 101.6h4.7v4.91h-4.7zM265.58 115.42h4.7v4.91h-4.7zM269.98 124.63h4.7v4.91h-4.7zM155.54 133.84h4.7v4.91h-4.7zM120.32 138.45h4.7v4.91h-4.7zM124.72 147.66h4.7v4.91h-4.7zM80.71 156.88h4.7v4.91h-4.7zM278.79 156.88h4.7v4.91h-4.7zM98.31 161.48h4.7v4.91h-4.7zM120.32 161.48h4.7v4.91h-4.7zM124.72 161.48h4.7v4.91h-4.7zM129.12 161.48h4.7v4.91h-4.7z"/>
<path fill="#3618d2" d="M278.79 50.93h4.7v4.91h-4.7zM155.54 64.75h4.7v4.91h-4.7zM111.52 69.35h4.7v4.91h-4.7z"/>
<path fill="#4e1ed8" d="M283.19 50.93h4.7v4.91h-4.7zM225.96 73.96h4.7v4.91h-4.7zM142.33 92.39h4.7v4.91h-4.7zM146.73 101.6h4.7v4.91h-4.7z"/>
<path fill="#6024e4" d="M287.59 50.93h4.7v4.91h-4.7z"/>
<path fill="#4818cc" d="M291.99 50.93h4.7v4.91h-4.7zM278.79 78.57h4.7v4.91h-4.7zM261.18 83.17h4.7v4.91h-4.7zM261.18 87.78h4.7v4.91h-4.7zM159.94 115.42h4.7v4.91h-4.7zM155.54 152.27h4.7v4.91h-4.7zM239.17 175.3h4.7v4.91h-4.7z"/>
<path fill="#3c12d8" d="M296.39 50.93h4.7v4.91h-4.7zM309.6 55.53h4.7v4.91h-4.7zM230.37 73.96h4.7v4.91h-4.7zM256.78 120.02h4.7v4.91h-4.7zM291.99 120.02h4.7v4.91h-4.7z"/>
<path fill="#4218f0" d="M305.2 50.93h4.7v4.91h-4.7zM252.38 73.96h4.7v4.91h-4.7zM261.18 110.81h4.7v4.91h-4.7zM151.13 156.88h4.7v4.91h-4.7z"/>
<path fill="#421ee4" d="M186.35 55.53h4.7v4.91h-4.7zM265.58 55.53h4.7v4.91h-4.7zM181.95 64.75h4.7v4.91h-4.7zM278.79 96.99h4.7v4.91h-4.7zM115.92 101.6h4.7v4.91h-4.7zM133.53 166.09h4.7v4.91h-4.7zM146.73 166.09h4.7v4.91h-4.7zM111.52 170.7h4.7v4.91h-4.7z"/>
<path fill="#3c1ecc" d="M261.18 55.53h4.7v4.91h-4.7zM151.13 64.75h4.7v4.91h-4.7zM89.51 156.88h4.7v4.91h-4.7zM120.32 216.76h4.7v4.91h-4.7z"/>
<path fill="#4818ea" d="M274.38 55.53h4.7v4.91h-4.7zM164.34 69.35h4.7v4.91h-4.7zM269.98 83.17h4.7v4.91h-4.7zM256.78 110.81h4.7v4.91h-4.7zM261.18 120.02h4.7v4.91h-4.7zM177.54 129.24h4.7v4.91h-4.7z"/>
<path fill="#4e18cc" d="M278.79 55.53h4.7v4.91h-4.7zM151.13 87.78h4.7v4.91h-4.7zM164.34 115.42h4.7v4.91h-4.7z"/>
<path fill="#4e12c0" d="M283.19 55.53h4.7v4.91h-4.7z"/>
<path fill="#6018cc" d="M287.59 55.53h4.7v4.91h-4.7z"/>
<path fill="#6018b4" d="M291.99 55.53h4.7v4.91h-4.7z"/>
<path fill="#4e12b4" d="M296.39 55.53h4.7v4.91h-4.7zM177.54 78.57h4.7v4.91h-4.7zM243.57 106.2h4.7v4.91h-4.7zM261.18 166.09h4.7v4.91h-4.7z"/>
<path fill="#3c0cd2" d="M300.79 55.53h4.7v4.91h-4.7zM269.98 147.66h4.7v4.91h-4.7z"/>
<path fill="#4e18d8" d="M305.2 55.53h4.7v4.91h-4.7zM168.74 73.96h4.7v4.91h-4.7zM217.16 73.96h4.7v4.91h-4.7zM256.78 92.39h4.7v4.91h-4.7zM291.99 110.81h4.7v4.91h-4.7z"/>
<path fill="#542af6" d="M129.12 60.14h4.7v4.91h-4.7z"/>
<path fill="#3c1ef0" d="M155.54 60.14h4.7v4.91h-4.7zM203.96 60.14h4.7v4.91h-4.7zM243.57 64.75h4.7v4.91h-4.7zM243.57 69.35h4.7v4.91h-4.7zM111.52 106.2h4.7v4.91h-4.7zM274.38 106.2h4.7v4.91h-4.7zM124.72 110.81h4.7v4.91h-4.7zM283.19 115.42h4.7v4.91h-4.7zM287.59 124.63h4.7v4.91h-4.7zM107.12 156.88h4.7v4.91h-4.7zM120.32 156.88h4.7v4.91h-4.7zM124.72 175.3h4.7v4.91h-4.7z"/>
<path fill="#4e24f6" d="M159.94 60.14h4.7v4.91h-4.7zM173.14 60.14h4.7v4.91h-4.7zM225.96 69.35h4.7v4.91h-4.7zM287.59 115.42h4.7v4.91h-4.7zM120.32 129.24h4.7v4.91h-4.7zM155.54 138.45h4.7v4.91h-4.7zM111.52 156.88h4.7v4.91h-4.7zM107.12 161.48h4.7v4.91h-4.7zM120.32 166.09h4.7v4.91h-4.7z"/>
<path fill="#3018e4" d="M261.18 60.14h4.7v4.91h-4.7zM124.72 92.39h4.7v4.91h-4.7zM283.19 129.24h4.7v4.91h-4.7zM129.12 184.52h4.7v4.91h-4.7zM129.12 189.12h4.7v4.91h-4.7z"/>
<path fill="#662af0" d="M269.98 60.14h4.7v4.91h-4.7z"/>
<path fill="#5418de" d="M274.38 60.14h4.7v4.91h-4.7zM252.38 92.39h4.7v4.91h-4.7zM155.54 106.2h4.7v4.91h-4.7zM291.99 115.42h4.7v4.91h-4.7zM168.74 120.02h4.7v4.91h-4.7zM269.98 156.88h4.7v4.91h-4.7zM243.57 175.3h4.7v4.91h-4.7z"/>
<path fill="#6618cc" d="M278.79 60.14h4.7v4.91h-4.7z"/>
<path fill="#5a0cae" d="M283.19 60.14h4.7v4.91h-4.7zM164.34 101.6h4.7v4.91h-4.7zM305.2 124.63h4.7v4.91h-4.7z"/>
<path fill="#6612a2" d="M287.59 60.14h4.7v4.91h-4.7z"/>
<path fill="#540c96" d="M291.99 60.14h4.7v4.91h-4.7z"/>
<path fill="#4e0690" d="M296.39 60.14h4.7v4.91h-4.7zM168.74 101.6h4.7v4.91h-4.7z"/>
<path fill="#5a0ca2" d="M300.79 60.14h4.7v4.91h-4.7zM225.96 110.81h4.7v4.91h-4.7z"/>
<path fill="#540cba" d="M305.2 60.14h4.7v4.91h-4.7z"/>
<path fill="#4812b4" d="M309.6 60.14h4.7v4.91h-4.7zM239.17 87.78h4.7v4.91h-4.7zM243.57 115.42h4.7v4.91h-4.7zM199.55 129.24h4.7v4.91h-4.7z"/>
<path fill="#2a18f6" d="M76.3 64.75h4.7v4.91h-4.7z"/>
<path fill="#3018f0" d="M115.92 64.75h4.7v4.91h-4.7zM278.79 147.66h4.7v4.91h-4.7zM76.3 152.27h4.7v4.91h-4.7zM71.9 156.88h4.7v4.91h-4.7zM208.36 179.91h4.7v4.91h-4.7zM217.16 179.91h4.7v4.91h-4.7z"/>
<path fill="#3018de" d="M129.12 64.75h4.7v4.91h-4.7zM129.12 92.39h4.7v4.91h-4.7z"/>
<path fill="#421ede" d="M133.53 64.75h4.7v4.91h-4.7zM239.17 69.35h4.7v4.91h-4.7zM137.93 83.17h4.7v4.91h-4.7zM111.52 92.39h4.7v4.91h-4.7zM274.38 120.02h4.7v4.91h-4.7zM283.19 138.45h4.7v4.91h-4.7zM124.72 156.88h4.7v4.91h-4.7zM278.79 161.48h4.7v4.91h-4.7zM129.12 170.7h4.7v4.91h-4.7zM115.92 179.91h4.7v4.91h-4.7z"/>
<path fill="#3018f6" d="M137.93 64.75h4.7v4.91h-4.7zM278.79 110.81h4.7v4.91h-4.7zM111.52 147.66h4.7v4.91h-4.7z"/>
<path fill="#3c1ed8" d="M146.73 64.75h4.7v4.91h-4.7zM85.11 156.88h4.7v4.91h-4.7zM76.3 249.01h4.7v4.91h-4.7z"/>
<path fill="#4e1ef6" d="M173.14 64.75h4.7v4.91h-4.7zM291.99 87.78h4.7v4.91h-4.7zM261.18 106.2h4.7v4.91h-4.7zM133.53 110.81h4.7v4.91h-4.7zM137.93 124.63h4.7v4.91h-4.7zM142.33 129.24h4.7v4.91h-4.7z"/>
<path fill="#481eea" d="M177.54 64.75h4.7v4.91h-4.7zM217.16 64.75h4.7v4.91h-4.7zM243.57 73.96h4.7v4.91h-4.7zM151.13 147.66h4.7v4.91h-4.7zM274.38 156.88h4.7v4.91h-4.7zM274.38 166.09h4.7v4.91h-4.7z"/>
<path fill="#4218e4" d="M186.35 64.75h4.7v4.91h-4.7zM173.14 69.35h4.7v4.91h-4.7zM305.2 83.17h4.7v4.91h-4.7zM137.93 101.6h4.7v4.91h-4.7zM159.94 124.63h4.7v4.91h-4.7zM291.99 129.24h4.7v4.91h-4.7zM168.74 138.45h4.7v4.91h-4.7zM269.98 143.06h4.7v4.91h-4.7z"/>
<path fill="#4218f6" d="M190.75 64.75h4.7v4.91h-4.7zM203.96 64.75h4.7v4.91h-4.7zM164.34 129.24h4.7v4.91h-4.7z"/>
<path fill="#5424f0" d="M195.15 64.75h4.7v4.91h-4.7zM142.33 110.81h4.7v4.91h-4.7zM274.38 147.66h4.7v4.91h-4.7z"/>
<path fill="#3c18ea" d="M199.55 64.75h4.7v4.91h-4.7zM208.36 64.75h4.7v4.91h-4.7zM129.12 96.99h4.7v4.91h-4.7zM269.98 115.42h4.7v4.91h-4.7zM142.33 124.63h4.7v4.91h-4.7zM173.14 133.84h4.7v4.91h-4.7zM164.34 138.45h4.7v4.91h-4.7zM278.79 152.27h4.7v4.91h-4.7zM85.11 161.48h4.7v4.91h-4.7z"/>
<path fill="#1e12e4" d="M234.77 64.75h4.7v4.91h-4.7zM98.31 133.84h4.7v4.91h-4.7zM80.71 138.45h4.7v4.91h-4.7zM80.71 147.66h4.7v4.91h-4.7z"/>
<path fill="#4824f6" d="M256.78 64.75h4.7v4.91h-4.7zM283.19 101.6h4.7v4.91h-4.7zM115.92 129.24h4.7v4.91h-4.7zM85.11 143.06h4.7v4.91h-4.7zM76.3 262.83h4.7v4.91h-4.7zM80.71 262.83h4.7v4.91h-4.7zM76.3 272.04h4.7v4.91h-4.7zM80.71 281.25h4.7v4.91h-4.7z"/>
<path fill="#4e1eea" d="M265.58 64.75h4.7v4.91h-4.7zM300.79 83.17h4.7v4.91h-4.7zM291.99 92.39h4.7v4.91h-4.7zM261.18 115.42h4.7v4.91h-4.7zM146.73 124.63h4.7v4.91h-4.7zM137.93 129.24h4.7v4.91h-4.7zM173.14 138.45h4.7v4.91h-4.7zM265.58 138.45h4.7v4.91h-4.7zM151.13 152.27h4.7v4.91h-4.7z"/>
<path fill="#4212d2" d="M269.98 64.75h4.7v4.91h-4.7zM239.17 78.57h4.7v4.91h-4.7zM265.58 87.78h4.7v4.91h-4.7zM186.35 129.24h4.7v4.91h-4.7z"/>
<path fill="#5418c0" d="M274.38 64.75h4.7v4.91h-4.7zM243.57 87.78h4.7v4.91h-4.7zM247.97 87.78h4.7v4.91h-4.7zM164.34 147.66h4.7v4.91h-4.7z"/>
<path fill="#4e0cae" d="M278.79 64.75h4.7v4.91h-4.7zM181.95 78.57h4.7v4.91h-4.7zM155.54 83.17h4.7v4.91h-4.7zM168.74 110.81h4.7v4.91h-4.7z"/>
<path fill="#540c90" d="M283.19 64.75h4.7v4.91h-4.7zM221.56 106.2h4.7v4.91h-4.7z"/>
<path fill="#4e0684" d="M287.59 64.75h4.7v4.91h-4.7z"/>
<path fill="#4e0678" d="M291.99 64.75h4.7v4.91h-4.7zM300.79 64.75h4.7v4.91h-4.7zM252.38 156.88h4.7v4.91h-4.7z"/>
<path fill="#540c72" d="M296.39 64.75h4.7v4.91h-4.7zM217.16 96.99h4.7v4.91h-4.7z"/>
<path fill="#48068a" d="M305.2 64.75h4.7v4.91h-4.7zM230.37 92.39h4.7v4.91h-4.7z"/>
<path fill="#420ca2" d="M309.6 64.75h4.7v4.91h-4.7z"/>
<path fill="#421ed2" d="M115.92 69.35h4.7v4.91h-4.7zM155.54 124.63h4.7v4.91h-4.7zM287.59 138.45h4.7v4.91h-4.7zM129.12 156.88h4.7v4.91h-4.7zM71.9 166.09h4.7v4.91h-4.7zM146.73 175.3h4.7v4.91h-4.7zM80.71 244.4h4.7v4.91h-4.7zM89.51 244.4h4.7v4.91h-4.7z"/>
<path fill="#4218d2" d="M120.32 69.35h4.7v4.91h-4.7zM265.58 69.35h4.7v4.91h-4.7zM142.33 73.96h4.7v4.91h-4.7zM155.54 73.96h4.7v4.91h-4.7zM239.17 73.96h4.7v4.91h-4.7zM137.93 96.99h4.7v4.91h-4.7zM291.99 124.63h4.7v4.91h-4.7zM199.55 175.3h4.7v4.91h-4.7z"/>
<path fill="#3612c6" d="M124.72 69.35h4.7v4.91h-4.7z"/>
<path fill="#4e1ecc" d="M129.12 69.35h4.7v4.91h-4.7zM265.58 78.57h4.7v4.91h-4.7zM177.54 143.06h4.7v4.91h-4.7z"/>
<path fill="#3c18c6" d="M133.53 69.35h4.7v4.91h-4.7zM137.93 92.39h4.7v4.91h-4.7zM133.53 96.99h4.7v4.91h-4.7zM195.15 175.3h4.7v4.91h-4.7z"/>
<path fill="#4818de" d="M137.93 69.35h4.7v4.91h-4.7zM199.55 69.35h4.7v4.91h-4.7zM278.79 87.78h4.7v4.91h-4.7zM261.18 92.39h4.7v4.91h-4.7zM151.13 115.42h4.7v4.91h-4.7zM173.14 129.24h4.7v4.91h-4.7zM252.38 133.84h4.7v4.91h-4.7zM190.75 138.45h4.7v4.91h-4.7z"/>
<path fill="#4218d8" d="M142.33 69.35h4.7v4.91h-4.7zM142.33 106.2h4.7v4.91h-4.7zM151.13 120.02h4.7v4.91h-4.7zM164.34 120.02h4.7v4.91h-4.7zM291.99 133.84h4.7v4.91h-4.7zM159.94 143.06h4.7v4.91h-4.7zM93.91 170.7h4.7v4.91h-4.7z"/>
<path fill="#481ed2" d="M146.73 69.35h4.7v4.91h-4.7zM155.54 69.35h4.7v4.91h-4.7zM133.53 87.78h4.7v4.91h-4.7zM129.12 115.42h4.7v4.91h-4.7z"/>
<path fill="#4218c6" d="M151.13 69.35h4.7v4.91h-4.7zM283.19 83.17h4.7v4.91h-4.7zM274.38 87.78h4.7v4.91h-4.7zM115.92 96.99h4.7v4.91h-4.7zM173.14 143.06h4.7v4.91h-4.7zM76.3 170.7h4.7v4.91h-4.7zM203.96 175.3h4.7v4.91h-4.7zM208.36 175.3h4.7v4.91h-4.7z"/>
<path fill="#4218de" d="M159.94 69.35h4.7v4.91h-4.7zM269.98 96.99h4.7v4.91h-4.7zM155.54 115.42h4.7v4.91h-4.7zM181.95 138.45h4.7v4.91h-4.7z"/>
<path fill="#481ed8" d="M168.74 69.35h4.7v4.91h-4.7zM129.12 78.57h4.7v4.91h-4.7zM283.19 87.78h4.7v4.91h-4.7zM256.78 129.24h4.7v4.91h-4.7zM164.34 143.06h4.7v4.91h-4.7zM98.31 170.7h4.7v4.91h-4.7zM146.73 170.7h4.7v4.91h-4.7zM115.92 193.73h4.7v4.91h-4.7z"/>
<path fill="#3c12de" d="M177.54 69.35h4.7v4.91h-4.7zM164.34 73.96h4.7v4.91h-4.7zM243.57 129.24h4.7v4.91h-4.7z"/>
<path fill="#4818e4" d="M181.95 69.35h4.7v4.91h-4.7zM142.33 78.57h4.7v4.91h-4.7zM142.33 83.17h4.7v4.91h-4.7zM291.99 96.99h4.7v4.91h-4.7zM142.33 101.6h4.7v4.91h-4.7zM186.35 138.45h4.7v4.91h-4.7zM265.58 170.7h4.7v4.91h-4.7z"/>
<path fill="#4e18de" d="M186.35 69.35h4.7v4.91h-4.7zM305.2 78.57h4.7v4.91h-4.7zM274.38 83.17h4.7v4.91h-4.7zM146.73 92.39h4.7v4.91h-4.7zM252.38 101.6h4.7v4.91h-4.7zM234.77 133.84h4.7v4.91h-4.7zM239.17 133.84h4.7v4.91h-4.7zM265.58 143.06h4.7v4.91h-4.7z"/>
<path fill="#541ede" d="M190.75 69.35h4.7v4.91h-4.7zM203.96 69.35h4.7v4.91h-4.7zM278.79 83.17h4.7v4.91h-4.7zM120.32 96.99h4.7v4.91h-4.7zM291.99 101.6h4.7v4.91h-4.7z"/>
<path fill="#541eea" d="M195.15 69.35h4.7v4.91h-4.7zM300.79 87.78h4.7v4.91h-4.7zM265.58 96.99h4.7v4.91h-4.7zM256.78 101.6h4.7v4.91h-4.7zM181.95 129.24h4.7v4.91h-4.7zM247.97 133.84h4.7v4.91h-4.7z"/>
<path fill="#4e1ede" d="M208.36 69.35h4.7v4.91h-4.7zM212.76 69.35h4.7v4.91h-4.7zM287.59 83.17h4.7v4.91h-4.7zM146.73 110.81h4.7v4.91h-4.7z"/>
<path fill="#5a24f0" d="M217.16 69.35h4.7v4.91h-4.7z"/>
<path fill="#3618ea" d="M230.37 69.35h4.7v4.91h-4.7zM115.92 78.57h4.7v4.91h-4.7zM124.72 83.17h4.7v4.91h-4.7zM120.32 92.39h4.7v4.91h-4.7zM274.38 101.6h4.7v4.91h-4.7zM115.92 156.88h4.7v4.91h-4.7zM120.32 170.7h4.7v4.91h-4.7zM120.32 175.3h4.7v4.91h-4.7z"/>
<path fill="#3012d8" d="M234.77 69.35h4.7v4.91h-4.7zM111.52 96.99h4.7v4.91h-4.7zM124.72 101.6h4.7v4.91h-4.7z"/>
<path fill="#3618d8" d="M261.18 69.35h4.7v4.91h-4.7zM115.92 184.52h4.7v4.91h-4.7zM115.92 189.12h4.7v4.91h-4.7z"/>
<path fill="#3c12cc" d="M269.98 69.35h4.7v4.91h-4.7zM256.78 78.57h4.7v4.91h-4.7z"/>
<path fill="#4212ae" d="M274.38 69.35h4.7v4.91h-4.7z"/>
<path fill="#4e0ca8" d="M278.79 69.35h4.7v4.91h-4.7z"/>
<path fill="#4e0696" d="M283.19 69.35h4.7v4.91h-4.7z"/>
<path fill="#48007e" d="M287.59 69.35h4.7v4.91h-4.7zM186.35 87.78h4.7v4.91h-4.7zM195.15 101.6h4.7v4.91h-4.7z"/>
<path fill="#48066c" d="M291.99 69.35h4.7v4.91h-4.7z"/>
<path fill="#480666" d="M296.39 69.35h4.7v4.91h-4.7z"/>
<path fill="#420666" d="M300.79 69.35h4.7v4.91h-4.7z"/>
<path fill="#480684" d="M305.2 69.35h4.7v4.91h-4.7zM230.37 96.99h4.7v4.91h-4.7zM195.15 110.81h4.7v4.91h-4.7z"/>
<path fill="#5a18a8" d="M309.6 69.35h4.7v4.91h-4.7z"/>
<path fill="#482aea" d="M89.51 73.96h4.7v4.91h-4.7zM89.51 258.22h4.7v4.91h-4.7zM67.5 267.43h4.7v4.91h-4.7z"/>
<path fill="#2a12de" d="M107.12 73.96h4.7v4.91h-4.7z"/>
<path fill="#5424d8" d="M111.52 73.96h4.7v4.91h-4.7z"/>
<path fill="#4218cc" d="M115.92 73.96h4.7v4.91h-4.7zM146.73 73.96h4.7v4.91h-4.7zM234.77 73.96h4.7v4.91h-4.7zM269.98 78.57h4.7v4.91h-4.7zM168.74 124.63h4.7v4.91h-4.7z"/>
<path fill="#360ccc" d="M120.32 73.96h4.7v4.91h-4.7zM247.97 78.57h4.7v4.91h-4.7z"/>
<path fill="#2406ba" d="M124.72 73.96h4.7v4.91h-4.7z"/>
<path fill="#360cc6" d="M129.12 73.96h4.7v4.91h-4.7z"/>
<path fill="#4212c0" d="M133.53 73.96h4.7v4.91h-4.7zM269.98 87.78h4.7v4.91h-4.7z"/>
<path fill="#4e18d2" d="M137.93 73.96h4.7v4.91h-4.7zM291.99 106.2h4.7v4.91h-4.7zM173.14 124.63h4.7v4.91h-4.7zM265.58 166.09h4.7v4.91h-4.7z"/>
<path fill="#4818d2" d="M151.13 73.96h4.7v4.91h-4.7zM146.73 78.57h4.7v4.91h-4.7z"/>
<path fill="#3c12d2" d="M159.94 73.96h4.7v4.91h-4.7zM164.34 124.63h4.7v4.91h-4.7zM190.75 133.84h4.7v4.91h-4.7zM261.18 138.45h4.7v4.91h-4.7z"/>
<path fill="#4812d2" d="M173.14 73.96h4.7v4.91h-4.7zM146.73 83.17h4.7v4.91h-4.7z"/>
<path fill="#4812cc" d="M177.54 73.96h4.7v4.91h-4.7zM243.57 124.63h4.7v4.91h-4.7zM230.37 129.24h4.7v4.91h-4.7zM265.58 161.48h4.7v4.91h-4.7z"/>
<path fill="#5418c6" d="M181.95 73.96h4.7v4.91h-4.7zM155.54 78.57h4.7v4.91h-4.7zM296.39 129.24h4.7v4.91h-4.7zM203.96 138.45h4.7v4.91h-4.7zM217.16 138.45h4.7v4.91h-4.7z"/>
<path fill="#4812c6" d="M186.35 73.96h4.7v4.91h-4.7zM239.17 138.45h4.7v4.91h-4.7z"/>
<path fill="#4e12c6" d="M190.75 73.96h4.7v4.91h-4.7zM159.94 110.81h4.7v4.91h-4.7zM186.35 124.63h4.7v4.91h-4.7zM151.13 179.91h4.7v4.91h-4.7z"/>
<path fill="#3606d2" d="M195.15 73.96h4.7v4.91h-4.7z"/>
<path fill="#4e12cc" d="M199.55 73.96h4.7v4.91h-4.7zM225.96 129.24h4.7v4.91h-4.7z"/>
<path fill="#5a18cc" d="M203.96 73.96h4.7v4.91h-4.7zM168.74 78.57h4.7v4.91h-4.7zM151.13 92.39h4.7v4.91h-4.7zM247.97 106.2h4.7v4.91h-4.7zM168.74 115.42h4.7v4.91h-4.7z"/>
<path fill="#4812ba" d="M208.36 73.96h4.7v4.91h-4.7zM212.76 73.96h4.7v4.91h-4.7zM151.13 83.17h4.7v4.91h-4.7zM247.97 110.81h4.7v4.91h-4.7zM208.36 133.84h4.7v4.91h-4.7z"/>
<path fill="#5418e4" d="M221.56 73.96h4.7v4.91h-4.7z"/>
<path fill="#5424ea" d="M247.97 73.96h4.7v4.91h-4.7zM265.58 110.81h4.7v4.91h-4.7z"/>
<path fill="#3c18f0" d="M256.78 73.96h4.7v4.91h-4.7zM274.38 161.48h4.7v4.91h-4.7z"/>
<path fill="#5424e4" d="M261.18 73.96h4.7v4.91h-4.7z"/>
<path fill="#3612cc" d="M265.58 73.96h4.7v4.91h-4.7zM80.71 170.7h4.7v4.91h-4.7z"/>
<path fill="#4218c0" d="M269.98 73.96h4.7v4.91h-4.7zM107.12 184.52h4.7v4.91h-4.7z"/>
<path fill="#3612ae" d="M274.38 73.96h4.7v4.91h-4.7zM309.6 133.84h4.7v4.91h-4.7zM287.59 170.7h4.7v4.91h-4.7zM80.71 175.3h4.7v4.91h-4.7zM111.52 207.55h4.7v4.91h-4.7z"/>
<path fill="#4212b4" d="M278.79 73.96h4.7v4.91h-4.7zM269.98 92.39h4.7v4.91h-4.7zM256.78 143.06h4.7v4.91h-4.7zM67.5 179.91h4.7v4.91h-4.7z"/>
<path fill="#5a12ae" d="M283.19 73.96h4.7v4.91h-4.7zM173.14 83.17h4.7v4.91h-4.7zM309.6 96.99h4.7v4.91h-4.7z"/>
<path fill="#4e0c9c" d="M287.59 73.96h4.7v4.91h-4.7zM234.77 92.39h4.7v4.91h-4.7zM300.79 124.63h4.7v4.91h-4.7z"/>
<path fill="#4e0c8a" d="M291.99 73.96h4.7v4.91h-4.7zM168.74 87.78h4.7v4.91h-4.7zM217.16 143.06h4.7v4.91h-4.7z"/>
<path fill="#42067e" d="M296.39 73.96h4.7v4.91h-4.7zM190.75 83.17h4.7v4.91h-4.7zM199.55 106.2h4.7v4.91h-4.7z"/>
<path fill="#54128a" d="M300.79 73.96h4.7v4.91h-4.7z"/>
<path fill="#480ca2" d="M305.2 73.96h4.7v4.91h-4.7zM186.35 78.57h4.7v4.91h-4.7z"/>
<path fill="#5418d8" d="M309.6 73.96h4.7v4.91h-4.7zM181.95 124.63h4.7v4.91h-4.7zM239.17 124.63h4.7v4.91h-4.7z"/>
<path fill="#4e24e4" d="M124.72 78.57h4.7v4.91h-4.7zM287.59 101.6h4.7v4.91h-4.7zM133.53 106.2h4.7v4.91h-4.7zM265.58 124.63h4.7v4.91h-4.7z"/>
<path fill="#3012c6" d="M133.53 78.57h4.7v4.91h-4.7z"/>
<path fill="#5424de" d="M137.93 78.57h4.7v4.91h-4.7zM274.38 152.27h4.7v4.91h-4.7zM269.98 166.09h4.7v4.91h-4.7z"/>
<path fill="#420cc6" d="M151.13 78.57h4.7v4.91h-4.7z"/>
<path fill="#5a18c6" d="M159.94 78.57h4.7v4.91h-4.7zM159.94 106.2h4.7v4.91h-4.7z"/>
<path fill="#5412cc" d="M164.34 78.57h4.7v4.91h-4.7zM239.17 120.02h4.7v4.91h-4.7z"/>
<path fill="#480cc6" d="M173.14 78.57h4.7v4.91h-4.7zM155.54 92.39h4.7v4.91h-4.7z"/>
<path fill="#4e0c96" d="M190.75 78.57h4.7v4.91h-4.7z"/>
<path fill="#54129c" d="M195.15 78.57h4.7v4.91h-4.7zM234.77 101.6h4.7v4.91h-4.7zM243.57 170.7h4.7v4.91h-4.7z"/>
<path fill="#480c90" d="M199.55 78.57h4.7v4.91h-4.7z"/>
<path fill="#4e1290" d="M203.96 78.57h4.7v4.91h-4.7z"/>
<path fill="#420c84" d="M208.36 78.57h4.7v4.91h-4.7z"/>
<path fill="#4e128a" d="M212.76 78.57h4.7v4.91h-4.7zM168.74 152.27h4.7v4.91h-4.7z"/>
<path fill="#480c9c" d="M217.16 78.57h4.7v4.91h-4.7z"/>
<path fill="#5412a8" d="M221.56 78.57h4.7v4.91h-4.7zM225.96 143.06h4.7v4.91h-4.7z"/>
<path fill="#3c0cae" d="M225.96 78.57h4.7v4.91h-4.7zM243.57 83.17h4.7v4.91h-4.7z"/>
<path fill="#4812ae" d="M230.37 78.57h4.7v4.91h-4.7z"/>
<path fill="#4212ba" d="M234.77 78.57h4.7v4.91h-4.7zM287.59 78.57h4.7v4.91h-4.7zM296.39 78.57h4.7v4.91h-4.7zM247.97 120.02h4.7v4.91h-4.7zM190.75 129.24h4.7v4.91h-4.7z"/>
<path fill="#3006cc" d="M243.57 78.57h4.7v4.91h-4.7z"/>
<path fill="#541ed8" d="M252.38 78.57h4.7v4.91h-4.7zM252.38 110.81h4.7v4.91h-4.7zM159.94 120.02h4.7v4.91h-4.7zM247.97 129.24h4.7v4.91h-4.7z"/>
<path fill="#4818c6" d="M261.18 78.57h4.7v4.91h-4.7z"/>
<path fill="#4212c6" d="M274.38 78.57h4.7v4.91h-4.7zM243.57 120.02h4.7v4.91h-4.7zM256.78 138.45h4.7v4.91h-4.7z"/>
<path fill="#4818c0" d="M283.19 78.57h4.7v4.91h-4.7zM256.78 83.17h4.7v4.91h-4.7z"/>
<path fill="#4e18c0" d="M291.99 78.57h4.7v4.91h-4.7zM247.97 124.63h4.7v4.91h-4.7zM269.98 152.27h4.7v4.91h-4.7z"/>
<path fill="#601ecc" d="M300.79 78.57h4.7v4.91h-4.7zM265.58 147.66h4.7v4.91h-4.7z"/>
<path fill="#4818fc" d="M309.6 78.57h4.7v4.91h-4.7zM129.12 147.66h4.7v4.91h-4.7z"/>
<path fill="#542afc" d="M120.32 83.17h4.7v4.91h-4.7zM151.13 143.06h4.7v4.91h-4.7zM261.18 179.91h4.7v4.91h-4.7zM76.3 276.65h4.7v4.91h-4.7z"/>
<path fill="#3c18d2" d="M133.53 83.17h4.7v4.91h-4.7zM256.78 133.84h4.7v4.91h-4.7zM261.18 133.84h4.7v4.91h-4.7zM133.53 170.7h4.7v4.91h-4.7zM115.92 202.94h4.7v4.91h-4.7z"/>
<path fill="#4206b4" d="M159.94 83.17h4.7v4.91h-4.7z"/>
<path fill="#4e0cb4" d="M164.34 83.17h4.7v4.91h-4.7zM239.17 96.99h4.7v4.91h-4.7zM225.96 120.02h4.7v4.91h-4.7zM234.77 143.06h4.7v4.91h-4.7z"/>
<path fill="#6018ae" d="M168.74 83.17h4.7v4.91h-4.7zM239.17 110.81h4.7v4.91h-4.7z"/>
<path fill="#4e06a8" d="M177.54 83.17h4.7v4.91h-4.7zM186.35 115.42h4.7v4.91h-4.7z"/>
<path fill="#600ca2" d="M181.95 83.17h4.7v4.91h-4.7z"/>
<path fill="#420090" d="M186.35 83.17h4.7v4.91h-4.7z"/>
<path fill="#420678" d="M195.15 83.17h4.7v4.91h-4.7zM208.36 106.2h4.7v4.91h-4.7z"/>
<path fill="#360066" d="M199.55 83.17h4.7v4.91h-4.7z"/>
<path fill="#42066c" d="M203.96 83.17h4.7v4.91h-4.7zM212.76 83.17h4.7v4.91h-4.7zM256.78 161.48h4.7v4.91h-4.7z"/>
<path fill="#3c006c" d="M208.36 83.17h4.7v4.91h-4.7zM181.95 101.6h4.7v4.91h-4.7z"/>
<path fill="#36006c" d="M217.16 83.17h4.7v4.91h-4.7zM190.75 87.78h4.7v4.91h-4.7z"/>
<path fill="#3c067e" d="M221.56 83.17h4.7v4.91h-4.7zM168.74 92.39h4.7v4.91h-4.7zM305.2 170.7h4.7v4.91h-4.7z"/>
<path fill="#541290" d="M225.96 83.17h4.7v4.91h-4.7z"/>
<path fill="#3c0696" d="M230.37 83.17h4.7v4.91h-4.7zM164.34 87.78h4.7v4.91h-4.7zM164.34 92.39h4.7v4.91h-4.7z"/>
<path fill="#3c0ca8" d="M234.77 83.17h4.7v4.91h-4.7z"/>
<path fill="#4e12ba" d="M239.17 83.17h4.7v4.91h-4.7zM155.54 87.78h4.7v4.91h-4.7z"/>
<path fill="#42129c" d="M247.97 83.17h4.7v4.91h-4.7z"/>
<path fill="#4212a8" d="M252.38 83.17h4.7v4.91h-4.7zM203.96 129.24h4.7v4.91h-4.7zM195.15 170.7h4.7v4.91h-4.7z"/>
<path fill="#4e18e4" d="M265.58 83.17h4.7v4.91h-4.7zM151.13 106.2h4.7v4.91h-4.7zM151.13 110.81h4.7v4.91h-4.7zM269.98 161.48h4.7v4.91h-4.7z"/>
<path fill="#4212ea" d="M296.39 83.17h4.7v4.91h-4.7z"/>
<path fill="#481ef0" d="M309.6 83.17h4.7v4.91h-4.7zM287.59 92.39h4.7v4.91h-4.7zM287.59 106.2h4.7v4.91h-4.7zM269.98 110.81h4.7v4.91h-4.7zM142.33 115.42h4.7v4.91h-4.7zM159.94 129.24h4.7v4.91h-4.7zM102.71 166.09h4.7v4.91h-4.7zM261.18 175.3h4.7v4.91h-4.7z"/>
<path fill="#3618e4" d="M124.72 87.78h4.7v4.91h-4.7zM120.32 101.6h4.7v4.91h-4.7zM124.72 115.42h4.7v4.91h-4.7zM265.58 129.24h4.7v4.91h-4.7zM98.31 156.88h4.7v4.91h-4.7zM137.93 170.7h4.7v4.91h-4.7z"/>
<path fill="#3c1ede" d="M129.12 87.78h4.7v4.91h-4.7zM115.92 92.39h4.7v4.91h-4.7zM85.11 152.27h4.7v4.91h-4.7zM225.96 179.91h4.7v4.91h-4.7zM230.37 179.91h4.7v4.91h-4.7zM234.77 179.91h4.7v4.91h-4.7z"/>
<path fill="#3012cc" d="M137.93 87.78h4.7v4.91h-4.7zM107.12 175.3h4.7v4.91h-4.7z"/>
<path fill="#3612d2" d="M142.33 87.78h4.7v4.91h-4.7z"/>
<path fill="#4212d8" d="M146.73 87.78h4.7v4.91h-4.7zM151.13 101.6h4.7v4.91h-4.7z"/>
<path fill="#420cb4" d="M159.94 87.78h4.7v4.91h-4.7zM239.17 115.42h4.7v4.91h-4.7zM225.96 124.63h4.7v4.91h-4.7z"/>
<path fill="#5a0c96" d="M173.14 87.78h4.7v4.91h-4.7z"/>
<path fill="#5a0696" d="M177.54 87.78h4.7v4.91h-4.7z"/>
<path fill="#5a0c8a" d="M181.95 87.78h4.7v4.91h-4.7zM173.14 106.2h4.7v4.91h-4.7zM199.55 143.06h4.7v4.91h-4.7z"/>
<path fill="#30005a" d="M195.15 87.78h4.7v4.91h-4.7zM212.76 96.99h4.7v4.91h-4.7z"/>
<path fill="#3c0654" d="M199.55 87.78h4.7v4.91h-4.7z"/>
<path fill="#300060" d="M203.96 87.78h4.7v4.91h-4.7z"/>
<path fill="#3c0066" d="M208.36 87.78h4.7v4.91h-4.7zM221.56 87.78h4.7v4.91h-4.7zM221.56 92.39h4.7v4.91h-4.7zM256.78 156.88h4.7v4.91h-4.7z"/>
<path fill="#420660" d="M212.76 87.78h4.7v4.91h-4.7zM217.16 87.78h4.7v4.91h-4.7zM239.17 166.09h4.7v4.91h-4.7z"/>
<path fill="#4e0c7e" d="M225.96 87.78h4.7v4.91h-4.7z"/>
<path fill="#420690" d="M230.37 87.78h4.7v4.91h-4.7zM300.79 175.3h4.7v4.91h-4.7z"/>
<path fill="#5412a2" d="M234.77 87.78h4.7v4.91h-4.7z"/>
<path fill="#4e18c6" d="M252.38 87.78h4.7v4.91h-4.7zM195.15 133.84h4.7v4.91h-4.7zM195.15 138.45h4.7v4.91h-4.7zM261.18 170.7h4.7v4.91h-4.7z"/>
<path fill="#4212cc" d="M256.78 87.78h4.7v4.91h-4.7z"/>
<path fill="#4818f0" d="M296.39 87.78h4.7v4.91h-4.7zM309.6 87.78h4.7v4.91h-4.7zM142.33 96.99h4.7v4.91h-4.7z"/>
<path fill="#4e18ea" d="M305.2 87.78h4.7v4.91h-4.7zM261.18 96.99h4.7v4.91h-4.7z"/>
<path fill="#481ecc" d="M133.53 92.39h4.7v4.91h-4.7z"/>
<path fill="#5412ba" d="M159.94 92.39h4.7v4.91h-4.7zM239.17 106.2h4.7v4.91h-4.7zM164.34 110.81h4.7v4.91h-4.7zM252.38 170.7h4.7v4.91h-4.7z"/>
<path fill="#5a0c84" d="M173.14 92.39h4.7v4.91h-4.7z"/>
<path fill="#42007e" d="M177.54 92.39h4.7v4.91h-4.7zM173.14 101.6h4.7v4.91h-4.7zM177.54 106.2h4.7v4.91h-4.7z"/>
<path fill="#4e066c" d="M181.95 92.39h4.7v4.91h-4.7zM164.34 156.88h4.7v4.91h-4.7z"/>
<path fill="#4e0072" d="M186.35 92.39h4.7v4.91h-4.7z"/>
<path fill="#3c0072" d="M190.75 92.39h4.7v4.91h-4.7z"/>
<path fill="#3c0060" d="M195.15 92.39h4.7v4.91h-4.7zM208.36 92.39h4.7v4.91h-4.7z"/>
<path fill="#36005a" d="M199.55 92.39h4.7v4.91h-4.7z"/>
<path fill="#420066" d="M203.96 92.39h4.7v4.91h-4.7zM217.16 92.39h4.7v4.91h-4.7zM203.96 96.99h4.7v4.91h-4.7z"/>
<path fill="#360060" d="M212.76 92.39h4.7v4.91h-4.7z"/>
<path fill="#480672" d="M225.96 92.39h4.7v4.91h-4.7zM208.36 101.6h4.7v4.91h-4.7zM212.76 101.6h4.7v4.91h-4.7zM186.35 106.2h4.7v4.91h-4.7zM186.35 161.48h4.7v4.91h-4.7z"/>
<path fill="#480cb4" d="M239.17 92.39h4.7v4.91h-4.7zM159.94 152.27h4.7v4.91h-4.7z"/>
<path fill="#5a18d2" d="M243.57 92.39h4.7v4.91h-4.7z"/>
<path fill="#661ede" d="M247.97 92.39h4.7v4.91h-4.7z"/>
<path fill="#4212de" d="M265.58 92.39h4.7v4.91h-4.7z"/>
<path fill="#3612ba" d="M274.38 92.39h4.7v4.91h-4.7zM217.16 175.3h4.7v4.91h-4.7zM111.52 189.12h4.7v4.91h-4.7z"/>
<path fill="#3c18de" d="M278.79 92.39h4.7v4.91h-4.7zM155.54 120.02h4.7v4.91h-4.7zM120.32 143.06h4.7v4.91h-4.7zM102.71 170.7h4.7v4.91h-4.7z"/>
<path fill="#481ee4" d="M283.19 92.39h4.7v4.91h-4.7zM274.38 96.99h4.7v4.91h-4.7zM137.93 106.2h4.7v4.91h-4.7zM269.98 120.02h4.7v4.91h-4.7zM287.59 120.02h4.7v4.91h-4.7zM151.13 129.24h4.7v4.91h-4.7zM265.58 133.84h4.7v4.91h-4.7zM133.53 161.48h4.7v4.91h-4.7zM256.78 179.91h4.7v4.91h-4.7z"/>
<path fill="#6c24e4" d="M296.39 92.39h4.7v4.91h-4.7z"/>
<path fill="#6018d8" d="M300.79 92.39h4.7v4.91h-4.7z"/>
<path fill="#5412d8" d="M305.2 92.39h4.7v4.91h-4.7zM225.96 138.45h4.7v4.91h-4.7z"/>
<path fill="#5a18e4" d="M309.6 92.39h4.7v4.91h-4.7zM252.38 106.2h4.7v4.91h-4.7z"/>
<path fill="#3012de" d="M124.72 96.99h4.7v4.91h-4.7zM269.98 170.7h4.7v4.91h-4.7z"/>
<path fill="#601eea" d="M146.73 96.99h4.7v4.91h-4.7zM252.38 175.3h4.7v4.91h-4.7z"/>
<path fill="#5418d2" d="M151.13 96.99h4.7v4.91h-4.7zM217.16 133.84h4.7v4.91h-4.7z"/>
<path fill="#5412c0" d="M155.54 96.99h4.7v4.91h-4.7z"/>
<path fill="#5a12ba" d="M159.94 96.99h4.7v4.91h-4.7zM239.17 101.6h4.7v4.91h-4.7zM173.14 115.42h4.7v4.91h-4.7zM186.35 120.02h4.7v4.91h-4.7z"/>
<path fill="#4e06a2" d="M164.34 96.99h4.7v4.91h-4.7zM225.96 106.2h4.7v4.91h-4.7z"/>
<path fill="#36008a" d="M168.74 96.99h4.7v4.91h-4.7z"/>
<path fill="#420078" d="M173.14 96.99h4.7v4.91h-4.7z"/>
<path fill="#420072" d="M177.54 96.99h4.7v4.91h-4.7z"/>
<path fill="#4e0672" d="M181.95 96.99h4.7v4.91h-4.7z"/>
<path fill="#480078" d="M186.35 96.99h4.7v4.91h-4.7zM195.15 96.99h4.7v4.91h-4.7z"/>
<path fill="#600684" d="M190.75 96.99h4.7v4.91h-4.7zM234.77 152.27h4.7v4.91h-4.7z"/>
<path fill="#480072" d="M199.55 96.99h4.7v4.91h-4.7zM177.54 101.6h4.7v4.91h-4.7z"/>
<path fill="#42065a" d="M208.36 96.99h4.7v4.91h-4.7z"/>
<path fill="#480084" d="M221.56 96.99h4.7v4.91h-4.7z"/>
<path fill="#3c0084" d="M225.96 96.99h4.7v4.91h-4.7z"/>
<path fill="#4e129c" d="M234.77 96.99h4.7v4.91h-4.7z"/>
<path fill="#5a12cc" d="M243.57 96.99h4.7v4.91h-4.7zM243.57 101.6h4.7v4.91h-4.7z"/>
<path fill="#5a18ea" d="M247.97 96.99h4.7v4.91h-4.7zM221.56 133.84h4.7v4.91h-4.7z"/>
<path fill="#5a18f0" d="M252.38 96.99h4.7v4.91h-4.7z"/>
<path fill="#5a1ef0" d="M256.78 96.99h4.7v4.91h-4.7z"/>
<path fill="#3618f6" d="M283.19 96.99h4.7v4.91h-4.7zM287.59 129.24h4.7v4.91h-4.7zM115.92 133.84h4.7v4.91h-4.7zM269.98 133.84h4.7v4.91h-4.7zM115.92 147.66h4.7v4.91h-4.7zM111.52 161.48h4.7v4.91h-4.7zM115.92 166.09h4.7v4.91h-4.7zM142.33 166.09h4.7v4.91h-4.7z"/>
<path fill="#3618f0" d="M287.59 96.99h4.7v4.91h-4.7zM124.72 106.2h4.7v4.91h-4.7zM274.38 110.81h4.7v4.91h-4.7zM115.92 138.45h4.7v4.91h-4.7zM269.98 138.45h4.7v4.91h-4.7z"/>
<path fill="#420ccc" d="M296.39 96.99h4.7v4.91h-4.7z"/>
<path fill="#6012ba" d="M300.79 96.99h4.7v4.91h-4.7zM181.95 115.42h4.7v4.91h-4.7z"/>
<path fill="#540ca2" d="M305.2 96.99h4.7v4.91h-4.7z"/>
<path fill="#421ef6" d="M111.52 101.6h4.7v4.91h-4.7zM269.98 106.2h4.7v4.91h-4.7zM133.53 115.42h4.7v4.91h-4.7zM124.72 120.02h4.7v4.91h-4.7zM124.72 152.27h4.7v4.91h-4.7zM124.72 170.7h4.7v4.91h-4.7zM120.32 189.12h4.7v4.91h-4.7z"/>
<path fill="#4e1ee4" d="M133.53 101.6h4.7v4.91h-4.7z"/>
<path fill="#6018d2" d="M155.54 101.6h4.7v4.91h-4.7zM181.95 120.02h4.7v4.91h-4.7z"/>
<path fill="#4e0cc6" d="M159.94 101.6h4.7v4.91h-4.7zM252.38 143.06h4.7v4.91h-4.7z"/>
<path fill="#42006c" d="M186.35 101.6h4.7v4.91h-4.7z"/>
<path fill="#540678" d="M190.75 101.6h4.7v4.91h-4.7z"/>
<path fill="#540c78" d="M199.55 101.6h4.7v4.91h-4.7zM243.57 166.09h4.7v4.91h-4.7z"/>
<path fill="#48067e" d="M203.96 101.6h4.7v4.91h-4.7zM217.16 101.6h4.7v4.91h-4.7zM203.96 106.2h4.7v4.91h-4.7z"/>
<path fill="#5a0c90" d="M221.56 101.6h4.7v4.91h-4.7zM155.54 184.52h4.7v4.91h-4.7z"/>
<path fill="#600c9c" d="M225.96 101.6h4.7v4.91h-4.7zM309.6 101.6h4.7v4.91h-4.7zM234.77 147.66h4.7v4.91h-4.7z"/>
<path fill="#4e069c" d="M230.37 101.6h4.7v4.91h-4.7zM186.35 147.66h4.7v4.91h-4.7z"/>
<path fill="#661ee4" d="M247.97 101.6h4.7v4.91h-4.7z"/>
<path fill="#4818f6" d="M261.18 101.6h4.7v4.91h-4.7z"/>
<path fill="#6012c6" d="M296.39 101.6h4.7v4.91h-4.7z"/>
<path fill="#6c0c9c" d="M300.79 101.6h4.7v4.91h-4.7z"/>
<path fill="#72128a" d="M305.2 101.6h4.7v4.91h-4.7z"/>
<path fill="#2a18e4" d="M102.71 106.2h4.7v4.91h-4.7zM283.19 133.84h4.7v4.91h-4.7z"/>
<path fill="#4818d8" d="M146.73 106.2h4.7v4.91h-4.7zM256.78 175.3h4.7v4.91h-4.7z"/>
<path fill="#4806b4" d="M164.34 106.2h4.7v4.91h-4.7z"/>
<path fill="#6012a2" d="M168.74 106.2h4.7v4.91h-4.7z"/>
<path fill="#4e067e" d="M181.95 106.2h4.7v4.91h-4.7z"/>
<path fill="#360072" d="M190.75 106.2h4.7v4.91h-4.7z"/>
<path fill="#4e0c78" d="M195.15 106.2h4.7v4.91h-4.7z"/>
<path fill="#300078" d="M212.76 106.2h4.7v4.91h-4.7zM203.96 110.81h4.7v4.91h-4.7z"/>
<path fill="#36007e" d="M217.16 106.2h4.7v4.91h-4.7zM195.15 115.42h4.7v4.91h-4.7z"/>
<path fill="#6c12a8" d="M230.37 106.2h4.7v4.91h-4.7z"/>
<path fill="#5a0ca8" d="M234.77 106.2h4.7v4.91h-4.7z"/>
<path fill="#4218ea" d="M265.58 106.2h4.7v4.91h-4.7zM168.74 129.24h4.7v4.91h-4.7z"/>
<path fill="#5406ae" d="M296.39 106.2h4.7v4.91h-4.7z"/>
<path fill="#66068a" d="M300.79 106.2h4.7v4.91h-4.7z"/>
<path fill="#540084" d="M305.2 106.2h4.7v4.91h-4.7z"/>
<path fill="#600696" d="M309.6 106.2h4.7v4.91h-4.7z"/>
<path fill="#482af6" d="M80.71 110.81h4.7v4.91h-4.7zM76.3 285.86h4.7v4.91h-4.7zM76.3 290.47h4.7v4.91h-4.7z"/>
<path fill="#421ed8" d="M129.12 110.81h4.7v4.91h-4.7zM85.11 166.09h4.7v4.91h-4.7zM111.52 175.3h4.7v4.91h-4.7zM115.92 175.3h4.7v4.91h-4.7z"/>
<path fill="#4812d8" d="M155.54 110.81h4.7v4.91h-4.7zM234.77 129.24h4.7v4.91h-4.7zM151.13 161.48h4.7v4.91h-4.7z"/>
<path fill="#4806a8" d="M173.14 110.81h4.7v4.91h-4.7z"/>
<path fill="#54069c" d="M177.54 110.81h4.7v4.91h-4.7zM181.95 110.81h4.7v4.91h-4.7z"/>
<path fill="#4e0090" d="M186.35 110.81h4.7v4.91h-4.7z"/>
<path fill="#4e068a" d="M190.75 110.81h4.7v4.91h-4.7z"/>
<path fill="#360084" d="M199.55 110.81h4.7v4.91h-4.7z"/>
<path fill="#30006c" d="M208.36 110.81h4.7v4.91h-4.7z"/>
<path fill="#2a006c" d="M212.76 110.81h4.7v4.91h-4.7zM203.96 120.02h4.7v4.91h-4.7z"/>
<path fill="#300072" d="M217.16 110.81h4.7v4.91h-4.7z"/>
<path fill="#42068a" d="M221.56 110.81h4.7v4.91h-4.7z"/>
<path fill="#7218a8" d="M230.37 110.81h4.7v4.91h-4.7z"/>
<path fill="#5a12a8" d="M234.77 110.81h4.7v4.91h-4.7zM243.57 143.06h4.7v4.91h-4.7z"/>
<path fill="#4e12ae" d="M243.57 110.81h4.7v4.91h-4.7zM296.39 124.63h4.7v4.91h-4.7zM217.16 129.24h4.7v4.91h-4.7z"/>
<path fill="#3618fc" d="M283.19 110.81h4.7v4.91h-4.7z"/>
<path fill="#660cae" d="M296.39 110.81h4.7v4.91h-4.7z"/>
<path fill="#600090" d="M300.79 110.81h4.7v4.91h-4.7z"/>
<path fill="#600084" d="M305.2 110.81h4.7v4.91h-4.7z"/>
<path fill="#60068a" d="M309.6 110.81h4.7v4.91h-4.7z"/>
<path fill="#3c18d8" d="M146.73 115.42h4.7v4.91h-4.7zM146.73 120.02h4.7v4.91h-4.7zM120.32 147.66h4.7v4.91h-4.7zM155.54 147.66h4.7v4.91h-4.7zM76.3 166.09h4.7v4.91h-4.7zM89.51 166.09h4.7v4.91h-4.7zM115.92 198.34h4.7v4.91h-4.7z"/>
<path fill="#540cb4" d="M177.54 115.42h4.7v4.91h-4.7z"/>
<path fill="#420696" d="M190.75 115.42h4.7v4.91h-4.7z"/>
<path fill="#24006c" d="M199.55 115.42h4.7v4.91h-4.7z"/>
<path fill="#240060" d="M203.96 115.42h4.7v4.91h-4.7zM296.39 166.09h4.7v4.91h-4.7z"/>
<path fill="#2a065a" d="M208.36 115.42h4.7v4.91h-4.7zM212.76 115.42h4.7v4.91h-4.7zM212.76 170.7h4.7v4.91h-4.7z"/>
<path fill="#2a0072" d="M217.16 115.42h4.7v4.91h-4.7z"/>
<path fill="#4e0c90" d="M221.56 115.42h4.7v4.91h-4.7z"/>
<path fill="#5406a8" d="M225.96 115.42h4.7v4.91h-4.7z"/>
<path fill="#600cb4" d="M230.37 115.42h4.7v4.91h-4.7z"/>
<path fill="#6012ae" d="M234.77 115.42h4.7v4.91h-4.7z"/>
<path fill="#360cae" d="M247.97 115.42h4.7v4.91h-4.7z"/>
<path fill="#360cba" d="M252.38 115.42h4.7v4.91h-4.7z"/>
<path fill="#360cd2" d="M256.78 115.42h4.7v4.91h-4.7z"/>
<path fill="#6c12ae" d="M296.39 115.42h4.7v4.91h-4.7z"/>
<path fill="#6c0c90" d="M300.79 115.42h4.7v4.91h-4.7z"/>
<path fill="#6c0690" d="M305.2 115.42h4.7v4.91h-4.7z"/>
<path fill="#720c9c" d="M309.6 115.42h4.7v4.91h-4.7zM247.97 152.27h4.7v4.91h-4.7z"/>
<path fill="#4824de" d="M120.32 120.02h4.7v4.91h-4.7z"/>
<path fill="#420cd2" d="M173.14 120.02h4.7v4.91h-4.7z"/>
<path fill="#480ccc" d="M177.54 120.02h4.7v4.91h-4.7z"/>
<path fill="#480c96" d="M190.75 120.02h4.7v4.91h-4.7zM221.56 120.02h4.7v4.91h-4.7zM217.16 124.63h4.7v4.91h-4.7zM305.2 175.3h4.7v4.91h-4.7zM305.2 179.91h4.7v4.91h-4.7z"/>
<path fill="#36067e" d="M195.15 120.02h4.7v4.91h-4.7z"/>
<path fill="#300672" d="M199.55 120.02h4.7v4.91h-4.7zM186.35 166.09h4.7v4.91h-4.7z"/>
<path fill="#180060" d="M208.36 120.02h4.7v4.91h-4.7z"/>
<path fill="#240066" d="M212.76 120.02h4.7v4.91h-4.7zM291.99 152.27h4.7v4.91h-4.7z"/>
<path fill="#300678" d="M217.16 120.02h4.7v4.91h-4.7zM296.39 143.06h4.7v4.91h-4.7zM305.2 147.66h4.7v4.91h-4.7zM309.6 156.88h4.7v4.91h-4.7z"/>
<path fill="#4e0cba" d="M230.37 120.02h4.7v4.91h-4.7z"/>
<path fill="#5412c6" d="M234.77 120.02h4.7v4.91h-4.7z"/>
<path fill="#300cc0" d="M252.38 120.02h4.7v4.91h-4.7z"/>
<path fill="#3018d2" d="M278.79 120.02h4.7v4.91h-4.7zM278.79 124.63h4.7v4.91h-4.7zM283.19 143.06h4.7v4.91h-4.7zM93.91 156.88h4.7v4.91h-4.7z"/>
<path fill="#5a12b4" d="M296.39 120.02h4.7v4.91h-4.7z"/>
<path fill="#600c90" d="M300.79 120.02h4.7v4.91h-4.7zM203.96 143.06h4.7v4.91h-4.7z"/>
<path fill="#66069c" d="M305.2 120.02h4.7v4.91h-4.7z"/>
<path fill="#5406a2" d="M309.6 120.02h4.7v4.91h-4.7z"/>
<path fill="#1e18e4" d="M80.71 124.63h4.7v4.91h-4.7z"/>
<path fill="#3612de" d="M151.13 124.63h4.7v4.91h-4.7z"/>
<path fill="#5418cc" d="M177.54 124.63h4.7v4.91h-4.7zM234.77 124.63h4.7v4.91h-4.7zM186.35 143.06h4.7v4.91h-4.7z"/>
<path fill="#4e12a8" d="M190.75 124.63h4.7v4.91h-4.7z"/>
<path fill="#3c0c96" d="M195.15 124.63h4.7v4.91h-4.7z"/>
<path fill="#3c0c90" d="M199.55 124.63h4.7v4.91h-4.7zM291.99 179.91h4.7v4.91h-4.7z"/>
<path fill="#360690" d="M203.96 124.63h4.7v4.91h-4.7zM212.76 124.63h4.7v4.91h-4.7zM300.79 179.91h4.7v4.91h-4.7zM309.6 179.91h4.7v4.91h-4.7z"/>
<path fill="#3c0c84" d="M208.36 124.63h4.7v4.91h-4.7zM305.2 184.52h4.7v4.91h-4.7zM296.39 189.12h4.7v4.91h-4.7z"/>
<path fill="#420c9c" d="M221.56 124.63h4.7v4.91h-4.7z"/>
<path fill="#480cba" d="M230.37 124.63h4.7v4.91h-4.7z"/>
<path fill="#3c12c6" d="M252.38 124.63h4.7v4.91h-4.7zM261.18 143.06h4.7v4.91h-4.7z"/>
<path fill="#2a0cd8" d="M256.78 124.63h4.7v4.91h-4.7z"/>
<path fill="#4e12a2" d="M309.6 124.63h4.7v4.91h-4.7z"/>
<path fill="#1e12f6" d="M67.5 129.24h4.7v4.91h-4.7z"/>
<path fill="#4e1ef0" d="M133.53 129.24h4.7v4.91h-4.7zM133.53 133.84h4.7v4.91h-4.7zM168.74 133.84h4.7v4.91h-4.7zM177.54 138.45h4.7v4.91h-4.7z"/>
<path fill="#4e18ba" d="M195.15 129.24h4.7v4.91h-4.7zM199.55 133.84h4.7v4.91h-4.7z"/>
<path fill="#3c0ca2" d="M208.36 129.24h4.7v4.91h-4.7z"/>
<path fill="#4812a8" d="M212.76 129.24h4.7v4.91h-4.7zM300.79 133.84h4.7v4.91h-4.7zM177.54 147.66h4.7v4.91h-4.7z"/>
<path fill="#3c0cba" d="M221.56 129.24h4.7v4.91h-4.7z"/>
<path fill="#4812de" d="M239.17 129.24h4.7v4.91h-4.7z"/>
<path fill="#541ed2" d="M252.38 129.24h4.7v4.91h-4.7zM252.38 138.45h4.7v4.91h-4.7z"/>
<path fill="#3612d8" d="M261.18 129.24h4.7v4.91h-4.7z"/>
<path fill="#3c0cb4" d="M300.79 129.24h4.7v4.91h-4.7z"/>
<path fill="#480cae" d="M305.2 129.24h4.7v4.91h-4.7z"/>
<path fill="#3c12a2" d="M309.6 129.24h4.7v4.91h-4.7z"/>
<path fill="#662af6" d="M137.93 133.84h4.7v4.91h-4.7z"/>
<path fill="#3c12e4" d="M186.35 133.84h4.7v4.91h-4.7z"/>
<path fill="#4e18b4" d="M203.96 133.84h4.7v4.91h-4.7zM168.74 147.66h4.7v4.91h-4.7z"/>
<path fill="#4812c0" d="M212.76 133.84h4.7v4.91h-4.7z"/>
<path fill="#601ede" d="M225.96 133.84h4.7v4.91h-4.7z"/>
<path fill="#420cd8" d="M230.37 133.84h4.7v4.91h-4.7z"/>
<path fill="#5418ea" d="M243.57 133.84h4.7v4.91h-4.7z"/>
<path fill="#2412f6" d="M274.38 133.84h4.7v4.91h-4.7z"/>
<path fill="#5a2ae4" d="M287.59 133.84h4.7v4.91h-4.7z"/>
<path fill="#3c12c0" d="M296.39 133.84h4.7v4.91h-4.7z"/>
<path fill="#4212a2" d="M305.2 133.84h4.7v4.91h-4.7zM190.75 170.7h4.7v4.91h-4.7z"/>
<path fill="#5418ba" d="M199.55 138.45h4.7v4.91h-4.7zM151.13 166.09h4.7v4.91h-4.7z"/>
<path fill="#6018c0" d="M208.36 138.45h4.7v4.91h-4.7zM247.97 143.06h4.7v4.91h-4.7z"/>
<path fill="#5418b4" d="M212.76 138.45h4.7v4.91h-4.7z"/>
<path fill="#5a18d8" d="M221.56 138.45h4.7v4.91h-4.7z"/>
<path fill="#661ed8" d="M230.37 138.45h4.7v4.91h-4.7z"/>
<path fill="#601ed8" d="M234.77 138.45h4.7v4.91h-4.7z"/>
<path fill="#5a1ed2" d="M243.57 138.45h4.7v4.91h-4.7z"/>
<path fill="#6624de" d="M247.97 138.45h4.7v4.91h-4.7z"/>
<path fill="#4218ba" d="M291.99 138.45h4.7v4.91h-4.7z"/>
<path fill="#3c1296" d="M296.39 138.45h4.7v4.91h-4.7z"/>
<path fill="#300c90" d="M300.79 138.45h4.7v4.91h-4.7z"/>
<path fill="#360c96" d="M305.2 138.45h4.7v4.91h-4.7zM76.3 179.91h4.7v4.91h-4.7zM291.99 184.52h4.7v4.91h-4.7z"/>
<path fill="#3612a8" d="M309.6 138.45h4.7v4.91h-4.7z"/>
<path fill="#2a18ea" d="M93.91 143.06h4.7v4.91h-4.7zM93.91 152.27h4.7v4.91h-4.7z"/>
<path fill="#3c18c0" d="M168.74 143.06h4.7v4.91h-4.7zM67.5 175.3h4.7v4.91h-4.7zM67.5 235.19h4.7v4.91h-4.7z"/>
<path fill="#3c12ba" d="M181.95 143.06h4.7v4.91h-4.7zM89.51 175.3h4.7v4.91h-4.7z"/>
<path fill="#6618c6" d="M190.75 143.06h4.7v4.91h-4.7z"/>
<path fill="#60129c" d="M195.15 143.06h4.7v4.91h-4.7z"/>
<path fill="#600c8a" d="M208.36 143.06h4.7v4.91h-4.7zM252.38 166.09h4.7v4.91h-4.7z"/>
<path fill="#540c84" d="M212.76 143.06h4.7v4.91h-4.7zM256.78 152.27h4.7v4.91h-4.7zM195.15 166.09h4.7v4.91h-4.7z"/>
<path fill="#601296" d="M221.56 143.06h4.7v4.91h-4.7z"/>
<path fill="#540cc0" d="M230.37 143.06h4.7v4.91h-4.7z"/>
<path fill="#5a189c" d="M239.17 143.06h4.7v4.91h-4.7z"/>
<path fill="#2a12ba" d="M287.59 143.06h4.7v4.91h-4.7z"/>
<path fill="#360ca2" d="M291.99 143.06h4.7v4.91h-4.7z"/>
<path fill="#360c7e" d="M300.79 143.06h4.7v4.91h-4.7z"/>
<path fill="#2a0690" d="M305.2 143.06h4.7v4.91h-4.7z"/>
<path fill="#300ca8" d="M309.6 143.06h4.7v4.91h-4.7z"/>
<path fill="#602afc" d="M133.53 147.66h4.7v4.91h-4.7zM142.33 152.27h4.7v4.91h-4.7z"/>
<path fill="#541ecc" d="M159.94 147.66h4.7v4.91h-4.7z"/>
<path fill="#4e18ae" d="M173.14 147.66h4.7v4.91h-4.7z"/>
<path fill="#420ca8" d="M181.95 147.66h4.7v4.91h-4.7z"/>
<path fill="#720c7e" d="M190.75 147.66h4.7v4.91h-4.7z"/>
<path fill="#840c5a" d="M195.15 147.66h4.7v4.91h-4.7z"/>
<path fill="#7e064e" d="M199.55 147.66h4.7v4.91h-4.7z"/>
<path fill="#720042" d="M203.96 147.66h4.7v4.91h-4.7z"/>
<path fill="#900c48" d="M208.36 147.66h4.7v4.91h-4.7z"/>
<path fill="#720654" d="M212.76 147.66h4.7v4.91h-4.7z"/>
<path fill="#72125a" d="M217.16 147.66h4.7v4.91h-4.7z"/>
<path fill="#660c66" d="M221.56 147.66h4.7v4.91h-4.7z"/>
<path fill="#5a0c72" d="M225.96 147.66h4.7v4.91h-4.7z"/>
<path fill="#661290" d="M230.37 147.66h4.7v4.91h-4.7z"/>
<path fill="#5a0c9c" d="M239.17 147.66h4.7v4.91h-4.7z"/>
<path fill="#660ca2" d="M243.57 147.66h4.7v4.91h-4.7z"/>
<path fill="#6c12b4" d="M247.97 147.66h4.7v4.91h-4.7z"/>
<path fill="#6612a8" d="M252.38 147.66h4.7v4.91h-4.7z"/>
<path fill="#5a12a2" d="M256.78 147.66h4.7v4.91h-4.7zM164.34 152.27h4.7v4.91h-4.7z"/>
<path fill="#5a18b4" d="M261.18 147.66h4.7v4.91h-4.7z"/>
<path fill="#3618c6" d="M283.19 147.66h4.7v4.91h-4.7zM71.9 170.7h4.7v4.91h-4.7z"/>
<path fill="#2a0ca8" d="M287.59 147.66h4.7v4.91h-4.7zM76.3 175.3h4.7v4.91h-4.7zM85.11 179.91h4.7v4.91h-4.7z"/>
<path fill="#300c7e" d="M291.99 147.66h4.7v4.91h-4.7zM89.51 184.52h4.7v4.91h-4.7z"/>
<path fill="#2a0060" d="M296.39 147.66h4.7v4.91h-4.7zM300.79 147.66h4.7v4.91h-4.7zM305.2 152.27h4.7v4.91h-4.7z"/>
<path fill="#3c0c9c" d="M309.6 147.66h4.7v4.91h-4.7zM71.9 179.91h4.7v4.91h-4.7z"/>
<path fill="#360678" d="M173.14 152.27h4.7v4.91h-4.7zM71.9 184.52h4.7v4.91h-4.7z"/>
<path fill="#4e127e" d="M177.54 152.27h4.7v4.91h-4.7z"/>
<path fill="#5a1284" d="M181.95 152.27h4.7v4.91h-4.7z"/>
<path fill="#721278" d="M186.35 152.27h4.7v4.91h-4.7z"/>
<path fill="#7e0c54" d="M190.75 152.27h4.7v4.91h-4.7z"/>
<path fill="#960636" d="M195.15 152.27h4.7v4.91h-4.7z"/>
<path fill="#960624" d="M199.55 152.27h4.7v4.91h-4.7zM203.96 156.88h4.7v4.91h-4.7z"/>
<path fill="#84001e" d="M203.96 152.27h4.7v4.91h-4.7z"/>
<path fill="#9c0624" d="M208.36 152.27h4.7v4.91h-4.7z"/>
<path fill="#8a0030" d="M212.76 152.27h4.7v4.91h-4.7zM199.55 156.88h4.7v4.91h-4.7z"/>
<path fill="#7e003c" d="M217.16 152.27h4.7v4.91h-4.7z"/>
<path fill="#78064e" d="M221.56 152.27h4.7v4.91h-4.7z"/>
<path fill="#780c5a" d="M225.96 152.27h4.7v4.91h-4.7z"/>
<path fill="#6c0c6c" d="M230.37 152.27h4.7v4.91h-4.7z"/>
<path fill="#7e1290" d="M239.17 152.27h4.7v4.91h-4.7z"/>
<path fill="#720c90" d="M243.57 152.27h4.7v4.91h-4.7z"/>
<path fill="#6c1290" d="M252.38 152.27h4.7v4.91h-4.7z"/>
<path fill="#480ca8" d="M261.18 152.27h4.7v4.91h-4.7z"/>
<path fill="#420cba" d="M265.58 152.27h4.7v4.91h-4.7z"/>
<path fill="#421ecc" d="M283.19 152.27h4.7v4.91h-4.7zM115.92 207.55h4.7v4.91h-4.7z"/>
<path fill="#300c9c" d="M287.59 152.27h4.7v4.91h-4.7z"/>
<path fill="#18004e" d="M296.39 152.27h4.7v4.91h-4.7zM300.79 156.88h4.7v4.91h-4.7zM80.71 189.12h4.7v4.91h-4.7zM85.11 189.12h4.7v4.91h-4.7zM67.5 207.55h4.7v4.91h-4.7z"/>
<path fill="#1e004e" d="M300.79 152.27h4.7v4.91h-4.7z"/>
<path fill="#2a067e" d="M309.6 152.27h4.7v4.91h-4.7zM300.79 189.12h4.7v4.91h-4.7z"/>
<path fill="#2a12ea" d="M76.3 156.88h4.7v4.91h-4.7z"/>
<path fill="#6018c6" d="M155.54 156.88h4.7v4.91h-4.7z"/>
<path fill="#4e0c84" d="M159.94 156.88h4.7v4.91h-4.7zM256.78 166.09h4.7v4.91h-4.7z"/>
<path fill="#541260" d="M168.74 156.88h4.7v4.91h-4.7z"/>
<path fill="#36065a" d="M173.14 156.88h4.7v4.91h-4.7zM71.9 189.12h4.7v4.91h-4.7z"/>
<path fill="#420c60" d="M177.54 156.88h4.7v4.91h-4.7z"/>
<path fill="#480c6c" d="M181.95 156.88h4.7v4.91h-4.7z"/>
<path fill="#600c66" d="M186.35 156.88h4.7v4.91h-4.7z"/>
<path fill="#600054" d="M190.75 156.88h4.7v4.91h-4.7z"/>
<path fill="#84063c" d="M195.15 156.88h4.7v4.91h-4.7z"/>
<path fill="#78001e" d="M208.36 156.88h4.7v4.91h-4.7z"/>
<path fill="#7e061e" d="M212.76 156.88h4.7v4.91h-4.7z"/>
<path fill="#780c24" d="M217.16 156.88h4.7v4.91h-4.7z"/>
<path fill="#4e0030" d="M221.56 156.88h4.7v4.91h-4.7z"/>
<path fill="#4e0042" d="M225.96 156.88h4.7v4.91h-4.7z"/>
<path fill="#5a0c4e" d="M230.37 156.88h4.7v4.91h-4.7z"/>
<path fill="#600c60" d="M234.77 156.88h4.7v4.91h-4.7z"/>
<path fill="#720c6c" d="M239.17 156.88h4.7v4.91h-4.7z"/>
<path fill="#660672" d="M243.57 156.88h4.7v4.91h-4.7z"/>
<path fill="#720c84" d="M247.97 156.88h4.7v4.91h-4.7zM155.54 170.7h4.7v4.91h-4.7z"/>
<path fill="#540c9c" d="M261.18 156.88h4.7v4.91h-4.7z"/>
<path fill="#6c1ec6" d="M265.58 156.88h4.7v4.91h-4.7z"/>
<path fill="#421ec6" d="M283.19 156.88h4.7v4.91h-4.7zM111.52 179.91h4.7v4.91h-4.7zM151.13 189.12h4.7v4.91h-4.7z"/>
<path fill="#2a0c9c" d="M287.59 156.88h4.7v4.91h-4.7z"/>
<path fill="#1e0060" d="M291.99 156.88h4.7v4.91h-4.7z"/>
<path fill="#1e0048" d="M296.39 156.88h4.7v4.91h-4.7z"/>
<path fill="#30065a" d="M305.2 156.88h4.7v4.91h-4.7z"/>
<path fill="#3018d8" d="M71.9 161.48h4.7v4.91h-4.7zM278.79 166.09h4.7v4.91h-4.7z"/>
<path fill="#4824d8" d="M89.51 161.48h4.7v4.91h-4.7zM129.12 175.3h4.7v4.91h-4.7zM151.13 193.73h4.7v4.91h-4.7z"/>
<path fill="#2a12e4" d="M102.71 161.48h4.7v4.91h-4.7z"/>
<path fill="#6c18a8" d="M155.54 161.48h4.7v4.91h-4.7z"/>
<path fill="#780c72" d="M159.94 161.48h4.7v4.91h-4.7z"/>
<path fill="#660654" d="M164.34 161.48h4.7v4.91h-4.7z"/>
<path fill="#4e0c42" d="M168.74 161.48h4.7v4.91h-4.7z"/>
<path fill="#300630" d="M173.14 161.48h4.7v4.91h-4.7z"/>
<path fill="#2a0636" d="M177.54 161.48h4.7v4.91h-4.7z"/>
<path fill="#36064e" d="M181.95 161.48h4.7v4.91h-4.7z"/>
<path fill="#600c6c" d="M190.75 161.48h4.7v4.91h-4.7z"/>
<path fill="#6c0660" d="M195.15 161.48h4.7v4.91h-4.7z"/>
<path fill="#7e0c4e" d="M199.55 161.48h4.7v4.91h-4.7z"/>
<path fill="#660036" d="M203.96 161.48h4.7v4.91h-4.7z"/>
<path fill="#420024" d="M208.36 161.48h4.7v4.91h-4.7z"/>
<path fill="#240012" d="M212.76 161.48h4.7v4.91h-4.7z"/>
<path fill="#12000c" d="M217.16 161.48h4.7v4.91h-4.7zM230.37 166.09h4.7v4.91h-4.7zM173.14 170.7h4.7v4.91h-4.7z"/>
<path fill="#0c000c" d="M221.56 161.48h4.7v4.91h-4.7zM173.14 166.09h4.7v4.91h-4.7zM177.54 175.3h4.7v4.91h-4.7zM168.74 189.12h4.7v4.91h-4.7zM173.14 189.12h4.7v4.91h-4.7zM177.54 193.73h4.7v4.91h-4.7z"/>
<path fill="#180012" d="M225.96 161.48h4.7v4.91h-4.7z"/>
<path fill="#2a0618" d="M230.37 161.48h4.7v4.91h-4.7z"/>
<path fill="#240030" d="M234.77 161.48h4.7v4.91h-4.7z"/>
<path fill="#42005a" d="M239.17 161.48h4.7v4.91h-4.7z"/>
<path fill="#5a066c" d="M243.57 161.48h4.7v4.91h-4.7z"/>
<path fill="#6c0c84" d="M247.97 161.48h4.7v4.91h-4.7z"/>
<path fill="#5a0678" d="M252.38 161.48h4.7v4.91h-4.7z"/>
<path fill="#5412ae" d="M261.18 161.48h4.7v4.91h-4.7z"/>
<path fill="#3618b4" d="M283.19 161.48h4.7v4.91h-4.7zM107.12 230.58h4.7v4.91h-4.7z"/>
<path fill="#3c129c" d="M287.59 161.48h4.7v4.91h-4.7z"/>
<path fill="#300c66" d="M291.99 161.48h4.7v4.91h-4.7z"/>
<path fill="#2a064e" d="M296.39 161.48h4.7v4.91h-4.7z"/>
<path fill="#1e005a" d="M300.79 161.48h4.7v4.91h-4.7z"/>
<path fill="#1e0066" d="M305.2 161.48h4.7v4.91h-4.7z"/>
<path fill="#360c78" d="M309.6 161.48h4.7v4.91h-4.7zM291.99 166.09h4.7v4.91h-4.7zM208.36 170.7h4.7v4.91h-4.7z"/>
<path fill="#481ede" d="M67.5 166.09h4.7v4.91h-4.7zM80.71 166.09h4.7v4.91h-4.7z"/>
<path fill="#7e1890" d="M155.54 166.09h4.7v4.91h-4.7z"/>
<path fill="#840660" d="M159.94 166.09h4.7v4.91h-4.7z"/>
<path fill="#60003c" d="M164.34 166.09h4.7v4.91h-4.7z"/>
<path fill="#36061e" d="M168.74 166.09h4.7v4.91h-4.7z"/>
<path fill="#12060c" d="M177.54 166.09h4.7v4.91h-4.7zM177.54 189.12h4.7v4.91h-4.7z"/>
<path fill="#180030" d="M181.95 166.09h4.7v4.91h-4.7z"/>
<path fill="#5a128a" d="M190.75 166.09h4.7v4.91h-4.7z"/>
<path fill="#540672" d="M199.55 166.09h4.7v4.91h-4.7z"/>
<path fill="#4e0c54" d="M203.96 166.09h4.7v4.91h-4.7z"/>
<path fill="#300036" d="M208.36 166.09h4.7v4.91h-4.7z"/>
<path fill="#0c0012" d="M212.76 166.09h4.7v4.91h-4.7zM181.95 189.12h4.7v4.91h-4.7z"/>
<path fill="#18060c" d="M217.16 166.09h4.7v4.91h-4.7zM177.54 179.91h4.7v4.91h-4.7zM181.95 184.52h4.7v4.91h-4.7z"/>
<path fill="#06000c" d="M221.56 166.09h4.7v4.91h-4.7zM225.96 166.09h4.7v4.91h-4.7zM181.95 175.3h4.7v4.91h-4.7zM181.95 179.91h4.7v4.91h-4.7zM173.14 184.52h4.7v4.91h-4.7z"/>
<path fill="#180024" d="M234.77 166.09h4.7v4.91h-4.7z"/>
<path fill="#721890" d="M247.97 166.09h4.7v4.91h-4.7z"/>
<path fill="#240cba" d="M283.19 166.09h4.7v4.91h-4.7z"/>
<path fill="#4218a8" d="M287.59 166.09h4.7v4.91h-4.7zM221.56 175.3h4.7v4.91h-4.7z"/>
<path fill="#300666" d="M300.79 166.09h4.7v4.91h-4.7z"/>
<path fill="#36066c" d="M305.2 166.09h4.7v4.91h-4.7z"/>
<path fill="#3c0c72" d="M309.6 166.09h4.7v4.91h-4.7z"/>
<path fill="#3012d2" d="M67.5 170.7h4.7v4.91h-4.7z"/>
<path fill="#3012ba" d="M85.11 170.7h4.7v4.91h-4.7zM93.91 175.3h4.7v4.91h-4.7zM107.12 179.91h4.7v4.91h-4.7zM107.12 189.12h4.7v4.91h-4.7z"/>
<path fill="#3012c0" d="M89.51 170.7h4.7v4.91h-4.7z"/>
<path fill="#601eba" d="M151.13 170.7h4.7v4.91h-4.7zM151.13 175.3h4.7v4.91h-4.7z"/>
<path fill="#840054" d="M159.94 170.7h4.7v4.91h-4.7z"/>
<path fill="#5a0030" d="M164.34 170.7h4.7v4.91h-4.7z"/>
<path fill="#18000c" d="M168.74 170.7h4.7v4.91h-4.7z"/>
<path fill="#060006" d="M177.54 170.7h4.7v4.91h-4.7zM173.14 175.3h4.7v4.91h-4.7zM173.14 179.91h4.7v4.91h-4.7z"/>
<path fill="#060012" d="M181.95 170.7h4.7v4.91h-4.7z"/>
<path fill="#300c6c" d="M186.35 170.7h4.7v4.91h-4.7z"/>
<path fill="#5418a2" d="M199.55 170.7h4.7v4.91h-4.7z"/>
<path fill="#3c0c8a" d="M203.96 170.7h4.7v4.91h-4.7z"/>
<path fill="#24063c" d="M217.16 170.7h4.7v4.91h-4.7z"/>
<path fill="#0c0030" d="M221.56 170.7h4.7v4.91h-4.7zM80.71 221.37h4.7v4.91h-4.7z"/>
<path fill="#240636" d="M225.96 170.7h4.7v4.91h-4.7z"/>
<path fill="#180048" d="M230.37 170.7h4.7v4.91h-4.7zM71.9 193.73h4.7v4.91h-4.7zM71.9 221.37h4.7v4.91h-4.7z"/>
<path fill="#2a066c" d="M234.77 170.7h4.7v4.91h-4.7z"/>
<path fill="#420c8a" d="M239.17 170.7h4.7v4.91h-4.7z"/>
<path fill="#5a12c6" d="M247.97 170.7h4.7v4.91h-4.7z"/>
<path fill="#5a18ae" d="M256.78 170.7h4.7v4.91h-4.7z"/>
<path fill="#2a12d8" d="M278.79 170.7h4.7v4.91h-4.7z"/>
<path fill="#3618ba" d="M283.19 170.7h4.7v4.91h-4.7zM98.31 239.8h4.7v4.91h-4.7z"/>
<path fill="#360684" d="M291.99 170.7h4.7v4.91h-4.7z"/>
<path fill="#420c7e" d="M296.39 170.7h4.7v4.91h-4.7z"/>
<path fill="#3c0684" d="M300.79 170.7h4.7v4.91h-4.7z"/>
<path fill="#240078" d="M309.6 170.7h4.7v4.91h-4.7z"/>
<path fill="#3612b4" d="M71.9 175.3h4.7v4.91h-4.7z"/>
<path fill="#4218ae" d="M85.11 175.3h4.7v4.91h-4.7zM164.34 202.94h4.7v4.91h-4.7z"/>
<path fill="#3012b4" d="M98.31 175.3h4.7v4.91h-4.7z"/>
<path fill="#240cb4" d="M102.71 175.3h4.7v4.91h-4.7z"/>
<path fill="#4824d2" d="M133.53 175.3h4.7v4.91h-4.7z"/>
<path fill="#720684" d="M155.54 175.3h4.7v4.91h-4.7z"/>
<path fill="#900648" d="M159.94 175.3h4.7v4.91h-4.7z"/>
<path fill="#3c001e" d="M164.34 175.3h4.7v4.91h-4.7z"/>
<path fill="#0c0006" d="M168.74 175.3h4.7v4.91h-4.7zM168.74 184.52h4.7v4.91h-4.7z"/>
<path fill="#180654" d="M186.35 175.3h4.7v4.91h-4.7zM71.9 225.98h4.7v4.91h-4.7z"/>
<path fill="#3618a8" d="M190.75 175.3h4.7v4.91h-4.7z"/>
<path fill="#3c18cc" d="M212.76 175.3h4.7v4.91h-4.7z"/>
<path fill="#4218a2" d="M225.96 175.3h4.7v4.91h-4.7z"/>
<path fill="#4818a2" d="M230.37 175.3h4.7v4.91h-4.7z"/>
<path fill="#300cae" d="M234.77 175.3h4.7v4.91h-4.7z"/>
<path fill="#4e18f0" d="M247.97 175.3h4.7v4.91h-4.7z"/>
<path fill="#2a12c0" d="M283.19 175.3h4.7v4.91h-4.7z"/>
<path fill="#300ca2" d="M287.59 175.3h4.7v4.91h-4.7zM102.71 189.12h4.7v4.91h-4.7z"/>
<path fill="#1e0084" d="M291.99 175.3h4.7v4.91h-4.7z"/>
<path fill="#36068a" d="M296.39 175.3h4.7v4.91h-4.7zM309.6 175.3h4.7v4.91h-4.7z"/>
<path fill="#240696" d="M80.71 179.91h4.7v4.91h-4.7zM309.6 189.12h4.7v4.91h-4.7z"/>
<path fill="#3c12ae" d="M89.51 179.91h4.7v4.91h-4.7zM102.71 184.52h4.7v4.91h-4.7z"/>
<path fill="#36129c" d="M93.91 179.91h4.7v4.91h-4.7z"/>
<path fill="#30129c" d="M98.31 179.91h4.7v4.91h-4.7zM107.12 225.98h4.7v4.91h-4.7z"/>
<path fill="#3c18a8" d="M102.71 179.91h4.7v4.91h-4.7zM291.99 193.73h4.7v4.91h-4.7z"/>
<path fill="#3012e4" d="M146.73 179.91h4.7v4.91h-4.7z"/>
<path fill="#781284" d="M155.54 179.91h4.7v4.91h-4.7z"/>
<path fill="#720048" d="M159.94 179.91h4.7v4.91h-4.7z"/>
<path fill="#36001e" d="M164.34 179.91h4.7v4.91h-4.7z"/>
<path fill="#000006" d="M168.74 179.91h4.7v4.91h-4.7z"/>
<path fill="#30124e" d="M186.35 179.91h4.7v4.91h-4.7z"/>
<path fill="#2412ae" d="M190.75 179.91h4.7v4.91h-4.7z"/>
<path fill="#361ed8" d="M195.15 179.91h4.7v4.91h-4.7zM221.56 179.91h4.7v4.91h-4.7z"/>
<path fill="#2a18d8" d="M274.38 179.91h4.7v4.91h-4.7zM120.32 207.55h4.7v4.91h-4.7z"/>
<path fill="#361ed2" d="M283.19 179.91h4.7v4.91h-4.7zM164.34 207.55h4.7v4.91h-4.7z"/>
<path fill="#3c18ae" d="M287.59 179.91h4.7v4.91h-4.7zM76.3 239.8h4.7v4.91h-4.7z"/>
<path fill="#480c84" d="M296.39 179.91h4.7v4.91h-4.7z"/>
<path fill="#48129c" d="M67.5 184.52h4.7v4.91h-4.7z"/>
<path fill="#1e006c" d="M76.3 184.52h4.7v4.91h-4.7z"/>
<path fill="#300c72" d="M80.71 184.52h4.7v4.91h-4.7z"/>
<path fill="#300c78" d="M85.11 184.52h4.7v4.91h-4.7z"/>
<path fill="#3c127e" d="M93.91 184.52h4.7v4.91h-4.7z"/>
<path fill="#361290" d="M98.31 184.52h4.7v4.91h-4.7z"/>
<path fill="#3618c0" d="M111.52 184.52h4.7v4.91h-4.7z"/>
<path fill="#541eba" d="M151.13 184.52h4.7v4.91h-4.7z"/>
<path fill="#72065a" d="M159.94 184.52h4.7v4.91h-4.7z"/>
<path fill="#360024" d="M164.34 184.52h4.7v4.91h-4.7z"/>
<path fill="#00000c" d="M177.54 184.52h4.7v4.91h-4.7zM173.14 193.73h4.7v4.91h-4.7z"/>
<path fill="#301260" d="M186.35 184.52h4.7v4.91h-4.7z"/>
<path fill="#3c24c6" d="M190.75 184.52h4.7v4.91h-4.7z"/>
<path fill="#3024ea" d="M195.15 184.52h4.7v4.91h-4.7z"/>
<path fill="#3024fc" d="M208.36 184.52h4.7v4.91h-4.7zM230.37 184.52h4.7v4.91h-4.7zM239.17 202.94h4.7v4.91h-4.7zM133.53 212.16h4.7v4.91h-4.7zM137.93 212.16h4.7v4.91h-4.7z"/>
<path fill="#1e18d8" d="M274.38 184.52h4.7v4.91h-4.7z"/>
<path fill="#3c1ec6" d="M283.19 184.52h4.7v4.91h-4.7z"/>
<path fill="#3618ae" d="M287.59 184.52h4.7v4.91h-4.7zM300.79 207.55h4.7v4.91h-4.7zM85.11 239.8h4.7v4.91h-4.7z"/>
<path fill="#48127e" d="M296.39 184.52h4.7v4.91h-4.7z"/>
<path fill="#30067e" d="M300.79 184.52h4.7v4.91h-4.7z"/>
<path fill="#421296" d="M309.6 184.52h4.7v4.91h-4.7z"/>
<path fill="#3c0c78" d="M67.5 189.12h4.7v4.91h-4.7z"/>
<path fill="#300c4e" d="M76.3 189.12h4.7v4.91h-4.7z"/>
<path fill="#1e0654" d="M89.51 189.12h4.7v4.91h-4.7zM93.91 225.98h4.7v4.91h-4.7z"/>
<path fill="#2a0c60" d="M93.91 189.12h4.7v4.91h-4.7zM102.71 216.76h4.7v4.91h-4.7z"/>
<path fill="#2a0c7e" d="M98.31 189.12h4.7v4.91h-4.7z"/>
<path fill="#5a18a2" d="M155.54 189.12h4.7v4.91h-4.7z"/>
<path fill="#540666" d="M159.94 189.12h4.7v4.91h-4.7z"/>
<path fill="#420630" d="M164.34 189.12h4.7v4.91h-4.7z"/>
<path fill="#2a1278" d="M186.35 189.12h4.7v4.91h-4.7z"/>
<path fill="#2418cc" d="M190.75 189.12h4.7v4.91h-4.7z"/>
<path fill="#422ae4" d="M195.15 189.12h4.7v4.91h-4.7z"/>
<path fill="#4830fc" d="M203.96 189.12h4.7v4.91h-4.7zM234.77 189.12h4.7v4.91h-4.7zM129.12 212.16h4.7v4.91h-4.7zM67.5 276.65h4.7v4.91h-4.7z"/>
<path fill="#4230fc" d="M208.36 189.12h4.7v4.91h-4.7zM93.91 276.65h4.7v4.91h-4.7zM89.51 290.47h4.7v4.91h-4.7zM85.11 295.07h4.7v4.91h-4.7z"/>
<path fill="#362af0" d="M217.16 189.12h4.7v4.91h-4.7zM195.15 198.34h4.7v4.91h-4.7zM146.73 207.55h4.7v4.91h-4.7zM93.91 281.25h4.7v4.91h-4.7z"/>
<path fill="#3024f0" d="M225.96 189.12h4.7v4.91h-4.7zM155.54 207.55h4.7v4.91h-4.7zM296.39 216.76h4.7v4.91h-4.7z"/>
<path fill="#2a1ede" d="M274.38 189.12h4.7v4.91h-4.7zM283.19 202.94h4.7v4.91h-4.7z"/>
<path fill="#3018c6" d="M283.19 189.12h4.7v4.91h-4.7zM111.52 235.19h4.7v4.91h-4.7z"/>
<path fill="#3018ae" d="M287.59 189.12h4.7v4.91h-4.7z"/>
<path fill="#361296" d="M291.99 189.12h4.7v4.91h-4.7zM107.12 212.16h4.7v4.91h-4.7zM93.91 235.19h4.7v4.91h-4.7z"/>
<path fill="#3c0c7e" d="M305.2 189.12h4.7v4.91h-4.7z"/>
<path fill="#3c0c60" d="M67.5 193.73h4.7v4.91h-4.7z"/>
<path fill="#1e0636" d="M76.3 193.73h4.7v4.91h-4.7zM93.91 221.37h4.7v4.91h-4.7z"/>
<path fill="#180630" d="M80.71 193.73h4.7v4.91h-4.7zM93.91 198.34h4.7v4.91h-4.7zM80.71 207.55h4.7v4.91h-4.7zM76.3 212.16h4.7v4.91h-4.7zM80.71 216.76h4.7v4.91h-4.7zM93.91 216.76h4.7v4.91h-4.7z"/>
<path fill="#0c002a" d="M85.11 193.73h4.7v4.91h-4.7zM76.3 198.34h4.7v4.91h-4.7zM89.51 207.55h4.7v4.91h-4.7zM93.91 207.55h4.7v4.91h-4.7z"/>
<path fill="#060036" d="M89.51 193.73h4.7v4.91h-4.7z"/>
<path fill="#0c0048" d="M93.91 193.73h4.7v4.91h-4.7z"/>
<path fill="#24066c" d="M98.31 193.73h4.7v4.91h-4.7zM89.51 230.58h4.7v4.91h-4.7z"/>
<path fill="#300c8a" d="M102.71 193.73h4.7v4.91h-4.7z"/>
<path fill="#301290" d="M107.12 193.73h4.7v4.91h-4.7zM296.39 198.34h4.7v4.91h-4.7zM107.12 221.37h4.7v4.91h-4.7zM76.3 235.19h4.7v4.91h-4.7z"/>
<path fill="#2a12ae" d="M111.52 193.73h4.7v4.91h-4.7z"/>
<path fill="#4818ae" d="M155.54 193.73h4.7v4.91h-4.7z"/>
<path fill="#60188a" d="M159.94 193.73h4.7v4.91h-4.7z"/>
<path fill="#480c4e" d="M164.34 193.73h4.7v4.91h-4.7z"/>
<path fill="#180018" d="M168.74 193.73h4.7v4.91h-4.7z"/>
<path fill="#1e0c24" d="M181.95 193.73h4.7v4.91h-4.7z"/>
<path fill="#1e1284" d="M186.35 193.73h4.7v4.91h-4.7z"/>
<path fill="#3624d2" d="M190.75 193.73h4.7v4.91h-4.7zM173.14 212.16h4.7v4.91h-4.7zM291.99 212.16h4.7v4.91h-4.7z"/>
<path fill="#2a24ea" d="M195.15 193.73h4.7v4.91h-4.7zM221.56 198.34h4.7v4.91h-4.7zM278.79 202.94h4.7v4.91h-4.7zM159.94 216.76h4.7v4.91h-4.7z"/>
<path fill="#302afc" d="M203.96 193.73h4.7v4.91h-4.7zM203.96 198.34h4.7v4.91h-4.7zM212.76 198.34h4.7v4.91h-4.7zM225.96 198.34h4.7v4.91h-4.7zM212.76 202.94h4.7v4.91h-4.7zM230.37 202.94h4.7v4.91h-4.7zM256.78 212.16h4.7v4.91h-4.7zM177.54 216.76h4.7v4.91h-4.7zM296.39 221.37h4.7v4.91h-4.7zM305.2 225.98h4.7v4.91h-4.7z"/>
<path fill="#362afc" d="M208.36 193.73h4.7v4.91h-4.7zM221.56 193.73h4.7v4.91h-4.7zM269.98 193.73h4.7v4.91h-4.7zM199.55 198.34h4.7v4.91h-4.7zM146.73 202.94h4.7v4.91h-4.7zM208.36 202.94h4.7v4.91h-4.7zM243.57 202.94h4.7v4.91h-4.7zM287.59 212.16h4.7v4.91h-4.7zM133.53 221.37h4.7v4.91h-4.7zM76.3 299.68h4.7v4.91h-4.7z"/>
<path fill="#2424fc" d="M212.76 193.73h4.7v4.91h-4.7z"/>
<path fill="#1e1efc" d="M217.16 193.73h4.7v4.91h-4.7zM230.37 198.34h4.7v4.91h-4.7z"/>
<path fill="#2a24fc" d="M225.96 193.73h4.7v4.91h-4.7z"/>
<path fill="#2a24e4" d="M234.77 193.73h4.7v4.91h-4.7zM239.17 198.34h4.7v4.91h-4.7zM190.75 207.55h4.7v4.91h-4.7z"/>
<path fill="#3024c6" d="M239.17 193.73h4.7v4.91h-4.7z"/>
<path fill="#422af6" d="M243.57 193.73h4.7v4.91h-4.7zM67.5 262.83h4.7v4.91h-4.7zM67.5 290.47h4.7v4.91h-4.7zM71.9 290.47h4.7v4.91h-4.7z"/>
<path fill="#4e30fc" d="M247.97 193.73h4.7v4.91h-4.7z"/>
<path fill="#241ef0" d="M274.38 193.73h4.7v4.91h-4.7z"/>
<path fill="#3624d8" d="M283.19 193.73h4.7v4.91h-4.7zM120.32 239.8h4.7v4.91h-4.7z"/>
<path fill="#3018c0" d="M287.59 193.73h4.7v4.91h-4.7z"/>
<path fill="#240690" d="M296.39 193.73h4.7v4.91h-4.7z"/>
<path fill="#240678" d="M300.79 193.73h4.7v4.91h-4.7z"/>
<path fill="#12007e" d="M305.2 193.73h4.7v4.91h-4.7z"/>
<path fill="#1e069c" d="M309.6 193.73h4.7v4.91h-4.7z"/>
<path fill="#24064e" d="M67.5 198.34h4.7v4.91h-4.7z"/>
<path fill="#120036" d="M71.9 198.34h4.7v4.91h-4.7zM98.31 212.16h4.7v4.91h-4.7zM71.9 216.76h4.7v4.91h-4.7zM76.3 221.37h4.7v4.91h-4.7zM85.11 221.37h4.7v4.91h-4.7zM89.51 221.37h4.7v4.91h-4.7z"/>
<path fill="#06002a" d="M80.71 198.34h4.7v4.91h-4.7zM76.3 202.94h4.7v4.91h-4.7zM80.71 202.94h4.7v4.91h-4.7z"/>
<path fill="#00002a" d="M85.11 198.34h4.7v4.91h-4.7z"/>
<path fill="#12002a" d="M89.51 198.34h4.7v4.91h-4.7zM85.11 207.55h4.7v4.91h-4.7zM93.91 212.16h4.7v4.91h-4.7z"/>
<path fill="#2a0c54" d="M98.31 198.34h4.7v4.91h-4.7z"/>
<path fill="#240c72" d="M102.71 198.34h4.7v4.91h-4.7z"/>
<path fill="#240c7e" d="M107.12 198.34h4.7v4.91h-4.7zM300.79 198.34h4.7v4.91h-4.7zM107.12 216.76h4.7v4.91h-4.7zM102.71 221.37h4.7v4.91h-4.7z"/>
<path fill="#3012a2" d="M111.52 198.34h4.7v4.91h-4.7zM98.31 235.19h4.7v4.91h-4.7z"/>
<path fill="#4e24ea" d="M120.32 198.34h4.7v4.91h-4.7z"/>
<path fill="#4824cc" d="M155.54 198.34h4.7v4.91h-4.7z"/>
<path fill="#5418ae" d="M159.94 198.34h4.7v4.91h-4.7z"/>
<path fill="#54127e" d="M164.34 198.34h4.7v4.91h-4.7z"/>
<path fill="#300c42" d="M168.74 198.34h4.7v4.91h-4.7z"/>
<path fill="#120018" d="M173.14 198.34h4.7v4.91h-4.7z"/>
<path fill="#18061e" d="M177.54 198.34h4.7v4.91h-4.7z"/>
<path fill="#1e0c5a" d="M181.95 198.34h4.7v4.91h-4.7z"/>
<path fill="#1812a2" d="M186.35 198.34h4.7v4.91h-4.7z"/>
<path fill="#3024d8" d="M190.75 198.34h4.7v4.91h-4.7zM177.54 212.16h4.7v4.91h-4.7zM124.72 221.37h4.7v4.91h-4.7zM120.32 230.58h4.7v4.91h-4.7z"/>
<path fill="#3c30fc" d="M208.36 198.34h4.7v4.91h-4.7zM203.96 202.94h4.7v4.91h-4.7zM261.18 212.16h4.7v4.91h-4.7zM164.34 216.76h4.7v4.91h-4.7zM89.51 295.07h4.7v4.91h-4.7zM71.9 299.68h4.7v4.91h-4.7zM85.11 299.68h4.7v4.91h-4.7zM76.3 304.29h4.7v4.91h-4.7z"/>
<path fill="#2a24f6" d="M217.16 198.34h4.7v4.91h-4.7zM129.12 216.76h4.7v4.91h-4.7z"/>
<path fill="#302aea" d="M234.77 198.34h4.7v4.91h-4.7zM190.75 202.94h4.7v4.91h-4.7zM221.56 202.94h4.7v4.91h-4.7zM212.76 207.55h4.7v4.91h-4.7zM142.33 216.76h4.7v4.91h-4.7zM146.73 216.76h4.7v4.91h-4.7zM137.93 230.58h4.7v4.91h-4.7z"/>
<path fill="#362aea" d="M265.58 198.34h4.7v4.91h-4.7zM256.78 202.94h4.7v4.91h-4.7zM142.33 207.55h4.7v4.91h-4.7zM159.94 212.16h4.7v4.91h-4.7zM129.12 221.37h4.7v4.91h-4.7zM102.71 249.01h4.7v4.91h-4.7zM111.52 249.01h4.7v4.91h-4.7zM102.71 258.22h4.7v4.91h-4.7z"/>
<path fill="#362ade" d="M269.98 198.34h4.7v4.91h-4.7zM124.72 230.58h4.7v4.91h-4.7z"/>
<path fill="#241eea" d="M274.38 198.34h4.7v4.91h-4.7z"/>
<path fill="#3024e4" d="M278.79 198.34h4.7v4.91h-4.7z"/>
<path fill="#3018cc" d="M287.59 198.34h4.7v4.91h-4.7zM115.92 212.16h4.7v4.91h-4.7zM120.32 212.16h4.7v4.91h-4.7z"/>
<path fill="#2a12a8" d="M291.99 198.34h4.7v4.91h-4.7zM102.71 235.19h4.7v4.91h-4.7z"/>
<path fill="#18067e" d="M305.2 198.34h4.7v4.91h-4.7z"/>
<path fill="#240c9c" d="M309.6 198.34h4.7v4.91h-4.7z"/>
<path fill="#1e064e" d="M67.5 202.94h4.7v4.91h-4.7z"/>
<path fill="#120030" d="M71.9 202.94h4.7v4.91h-4.7zM76.3 207.55h4.7v4.91h-4.7zM71.9 212.16h4.7v4.91h-4.7zM85.11 216.76h4.7v4.91h-4.7z"/>
<path fill="#120024" d="M85.11 202.94h4.7v4.91h-4.7z"/>
<path fill="#120624" d="M89.51 202.94h4.7v4.91h-4.7z"/>
<path fill="#18062a" d="M93.91 202.94h4.7v4.91h-4.7z"/>
<path fill="#180042" d="M98.31 202.94h4.7v4.91h-4.7z"/>
<path fill="#240660" d="M102.71 202.94h4.7v4.91h-4.7z"/>
<path fill="#2a0c84" d="M107.12 202.94h4.7v4.91h-4.7z"/>
<path fill="#3012ae" d="M111.52 202.94h4.7v4.91h-4.7zM89.51 239.8h4.7v4.91h-4.7z"/>
<path fill="#3c1ed2" d="M124.72 202.94h4.7v4.91h-4.7zM85.11 244.4h4.7v4.91h-4.7zM80.71 249.01h4.7v4.91h-4.7z"/>
<path fill="#3024f6" d="M142.33 202.94h4.7v4.91h-4.7zM137.93 207.55h4.7v4.91h-4.7z"/>
<path fill="#421ec0" d="M159.94 202.94h4.7v4.91h-4.7z"/>
<path fill="#36127e" d="M168.74 202.94h4.7v4.91h-4.7z"/>
<path fill="#36125a" d="M173.14 202.94h4.7v4.91h-4.7z"/>
<path fill="#2a1266" d="M177.54 202.94h4.7v4.91h-4.7z"/>
<path fill="#24189c" d="M181.95 202.94h4.7v4.91h-4.7z"/>
<path fill="#3c2acc" d="M186.35 202.94h4.7v4.91h-4.7z"/>
<path fill="#3630fc" d="M195.15 202.94h4.7v4.91h-4.7zM203.96 207.55h4.7v4.91h-4.7zM278.79 212.16h4.7v4.91h-4.7zM283.19 212.16h4.7v4.91h-4.7zM247.97 216.76h4.7v4.91h-4.7zM274.38 216.76h4.7v4.91h-4.7zM291.99 225.98h4.7v4.91h-4.7zM300.79 225.98h4.7v4.91h-4.7zM107.12 258.22h4.7v4.91h-4.7zM102.71 276.65h4.7v4.91h-4.7zM93.91 290.47h4.7v4.91h-4.7zM67.5 299.68h4.7v4.91h-4.7zM89.51 299.68h4.7v4.91h-4.7zM93.91 299.68h4.7v4.91h-4.7zM71.9 304.29h4.7v4.91h-4.7zM80.71 304.29h4.7v4.91h-4.7zM85.11 304.29h4.7v4.91h-4.7zM80.71 308.89h4.7v4.91h-4.7z"/>
<path fill="#302af0" d="M199.55 202.94h4.7v4.91h-4.7zM256.78 207.55h4.7v4.91h-4.7zM261.18 207.55h4.7v4.91h-4.7zM203.96 212.16h4.7v4.91h-4.7zM168.74 216.76h4.7v4.91h-4.7zM102.71 253.61h4.7v4.91h-4.7zM102.71 262.83h4.7v4.91h-4.7z"/>
<path fill="#2424de" d="M217.16 202.94h4.7v4.91h-4.7zM217.16 207.55h4.7v4.91h-4.7zM124.72 239.8h4.7v4.91h-4.7z"/>
<path fill="#4236fc" d="M225.96 202.94h4.7v4.91h-4.7z"/>
<path fill="#362af6" d="M234.77 202.94h4.7v4.91h-4.7zM283.19 207.55h4.7v4.91h-4.7zM98.31 267.43h4.7v4.91h-4.7zM93.91 285.86h4.7v4.91h-4.7zM67.5 295.07h4.7v4.91h-4.7z"/>
<path fill="#3c2af0" d="M261.18 202.94h4.7v4.91h-4.7zM107.12 249.01h4.7v4.91h-4.7zM93.91 262.83h4.7v4.91h-4.7zM98.31 262.83h4.7v4.91h-4.7z"/>
<path fill="#241ede" d="M265.58 202.94h4.7v4.91h-4.7z"/>
<path fill="#2a24d8" d="M269.98 202.94h4.7v4.91h-4.7zM120.32 244.4h4.7v4.91h-4.7z"/>
<path fill="#2424f0" d="M274.38 202.94h4.7v4.91h-4.7zM269.98 207.55h4.7v4.91h-4.7zM208.36 212.16h4.7v4.91h-4.7zM305.2 221.37h4.7v4.91h-4.7zM133.53 225.98h4.7v4.91h-4.7z"/>
<path fill="#2a18b4" d="M291.99 202.94h4.7v4.91h-4.7z"/>
<path fill="#1e0c90" d="M296.39 202.94h4.7v4.91h-4.7z"/>
<path fill="#2a1290" d="M300.79 202.94h4.7v4.91h-4.7z"/>
<path fill="#240c96" d="M305.2 202.94h4.7v4.91h-4.7zM102.71 230.58h4.7v4.91h-4.7z"/>
<path fill="#2412a8" d="M309.6 202.94h4.7v4.91h-4.7z"/>
<path fill="#240c30" d="M71.9 207.55h4.7v4.91h-4.7z"/>
<path fill="#0c0036" d="M98.31 207.55h4.7v4.91h-4.7z"/>
<path fill="#1e0660" d="M102.71 207.55h4.7v4.91h-4.7z"/>
<path fill="#2a0c8a" d="M107.12 207.55h4.7v4.91h-4.7z"/>
<path fill="#3c2ae4" d="M151.13 207.55h4.7v4.91h-4.7zM164.34 212.16h4.7v4.91h-4.7zM291.99 216.76h4.7v4.91h-4.7zM305.2 216.76h4.7v4.91h-4.7zM93.91 258.22h4.7v4.91h-4.7z"/>
<path fill="#3c1eb4" d="M168.74 207.55h4.7v4.91h-4.7z"/>
<path fill="#3c1ea2" d="M173.14 207.55h4.7v4.91h-4.7z"/>
<path fill="#3c24a8" d="M177.54 207.55h4.7v4.91h-4.7z"/>
<path fill="#2a1eb4" d="M181.95 207.55h4.7v4.91h-4.7z"/>
<path fill="#2a24cc" d="M186.35 207.55h4.7v4.91h-4.7z"/>
<path fill="#1e24f6" d="M195.15 207.55h4.7v4.91h-4.7z"/>
<path fill="#302ae4" d="M199.55 207.55h4.7v4.91h-4.7zM146.73 212.16h4.7v4.91h-4.7zM142.33 221.37h4.7v4.91h-4.7zM129.12 230.58h4.7v4.91h-4.7z"/>
<path fill="#1e24fc" d="M208.36 207.55h4.7v4.91h-4.7zM173.14 221.37h4.7v4.91h-4.7z"/>
<path fill="#2a2af6" d="M221.56 207.55h4.7v4.91h-4.7zM225.96 212.16h4.7v4.91h-4.7zM239.17 212.16h4.7v4.91h-4.7zM243.57 212.16h4.7v4.91h-4.7zM283.19 216.76h4.7v4.91h-4.7zM212.76 221.37h4.7v4.91h-4.7zM98.31 276.65h4.7v4.91h-4.7z"/>
<path fill="#2a2afc" d="M225.96 207.55h4.7v4.91h-4.7zM239.17 207.55h4.7v4.91h-4.7zM243.57 207.55h4.7v4.91h-4.7zM265.58 207.55h4.7v4.91h-4.7zM274.38 207.55h4.7v4.91h-4.7zM278.79 207.55h4.7v4.91h-4.7zM217.16 212.16h4.7v4.91h-4.7zM221.56 212.16h4.7v4.91h-4.7zM269.98 212.16h4.7v4.91h-4.7zM300.79 221.37h4.7v4.91h-4.7z"/>
<path fill="#1e24e4" d="M230.37 207.55h4.7v4.91h-4.7z"/>
<path fill="#3630ea" d="M234.77 207.55h4.7v4.91h-4.7zM199.55 212.16h4.7v4.91h-4.7zM181.95 216.76h4.7v4.91h-4.7z"/>
<path fill="#2424f6" d="M247.97 207.55h4.7v4.91h-4.7zM195.15 212.16h4.7v4.91h-4.7zM278.79 216.76h4.7v4.91h-4.7z"/>
<path fill="#3c2aea" d="M252.38 207.55h4.7v4.91h-4.7zM89.51 285.86h4.7v4.91h-4.7z"/>
<path fill="#2a24f0" d="M287.59 207.55h4.7v4.91h-4.7zM287.59 216.76h4.7v4.91h-4.7z"/>
<path fill="#2418c6" d="M291.99 207.55h4.7v4.91h-4.7z"/>
<path fill="#1812ae" d="M296.39 207.55h4.7v4.91h-4.7z"/>
<path fill="#2a12b4" d="M305.2 207.55h4.7v4.91h-4.7z"/>
<path fill="#361eba" d="M309.6 207.55h4.7v4.91h-4.7z"/>
<path fill="#1e0648" d="M67.5 212.16h4.7v4.91h-4.7z"/>
<path fill="#000030" d="M80.71 212.16h4.7v4.91h-4.7z"/>
<path fill="#1e0630" d="M85.11 212.16h4.7v4.91h-4.7zM89.51 212.16h4.7v4.91h-4.7z"/>
<path fill="#240c60" d="M102.71 212.16h4.7v4.91h-4.7z"/>
<path fill="#4218b4" d="M111.52 212.16h4.7v4.91h-4.7z"/>
<path fill="#362ae4" d="M142.33 212.16h4.7v4.91h-4.7zM151.13 212.16h4.7v4.91h-4.7zM129.12 225.98h4.7v4.91h-4.7zM98.31 258.22h4.7v4.91h-4.7z"/>
<path fill="#3c30f6" d="M155.54 212.16h4.7v4.91h-4.7z"/>
<path fill="#422acc" d="M168.74 212.16h4.7v4.91h-4.7z"/>
<path fill="#1e1ed2" d="M181.95 212.16h4.7v4.91h-4.7z"/>
<path fill="#2a24de" d="M186.35 212.16h4.7v4.91h-4.7zM124.72 235.19h4.7v4.91h-4.7z"/>
<path fill="#2a2ae4" d="M190.75 212.16h4.7v4.91h-4.7z"/>
<path fill="#242af6" d="M212.76 212.16h4.7v4.91h-4.7zM195.15 221.37h4.7v4.91h-4.7zM177.54 225.98h4.7v4.91h-4.7zM203.96 225.98h4.7v4.91h-4.7zM111.52 267.43h4.7v4.91h-4.7z"/>
<path fill="#2424e4" d="M230.37 212.16h4.7v4.91h-4.7zM155.54 216.76h4.7v4.91h-4.7zM291.99 221.37h4.7v4.91h-4.7zM309.6 221.37h4.7v4.91h-4.7zM137.93 225.98h4.7v4.91h-4.7zM309.6 225.98h4.7v4.91h-4.7zM133.53 230.58h4.7v4.91h-4.7z"/>
<path fill="#242aea" d="M234.77 212.16h4.7v4.91h-4.7zM203.96 221.37h4.7v4.91h-4.7zM151.13 225.98h4.7v4.91h-4.7zM287.59 225.98h4.7v4.91h-4.7zM217.16 230.58h4.7v4.91h-4.7zM115.92 267.43h4.7v4.91h-4.7z"/>
<path fill="#2a2af0" d="M247.97 212.16h4.7v4.91h-4.7zM186.35 216.76h4.7v4.91h-4.7zM199.55 216.76h4.7v4.91h-4.7zM208.36 216.76h4.7v4.91h-4.7zM137.93 221.37h4.7v4.91h-4.7zM159.94 221.37h4.7v4.91h-4.7zM278.79 221.37h4.7v4.91h-4.7zM98.31 290.47h4.7v4.91h-4.7z"/>
<path fill="#302af6" d="M252.38 212.16h4.7v4.91h-4.7zM137.93 216.76h4.7v4.91h-4.7zM107.12 253.61h4.7v4.91h-4.7zM102.71 267.43h4.7v4.91h-4.7z"/>
<path fill="#3c36fc" d="M265.58 212.16h4.7v4.91h-4.7zM164.34 221.37h4.7v4.91h-4.7zM168.74 225.98h4.7v4.91h-4.7zM89.51 304.29h4.7v4.91h-4.7z"/>
<path fill="#3030fc" d="M274.38 212.16h4.7v4.91h-4.7zM212.76 216.76h4.7v4.91h-4.7zM217.16 216.76h4.7v4.91h-4.7zM221.56 216.76h4.7v4.91h-4.7zM265.58 216.76h4.7v4.91h-4.7zM168.74 221.37h4.7v4.91h-4.7zM225.96 221.37h4.7v4.91h-4.7zM265.58 221.37h4.7v4.91h-4.7zM186.35 225.98h4.7v4.91h-4.7zM296.39 225.98h4.7v4.91h-4.7zM137.93 239.8h4.7v4.91h-4.7zM111.52 253.61h4.7v4.91h-4.7zM111.52 258.22h4.7v4.91h-4.7zM107.12 262.83h4.7v4.91h-4.7zM102.71 272.04h4.7v4.91h-4.7zM98.31 285.86h4.7v4.91h-4.7zM102.71 285.86h4.7v4.91h-4.7zM93.91 295.07h4.7v4.91h-4.7zM93.91 304.29h4.7v4.91h-4.7zM71.9 308.89h4.7v4.91h-4.7z"/>
<path fill="#361ec6" d="M300.79 212.16h4.7v4.91h-4.7zM305.2 212.16h4.7v4.91h-4.7zM102.71 239.8h4.7v4.91h-4.7zM98.31 244.4h4.7v4.91h-4.7z"/>
<path fill="#3624c0" d="M309.6 212.16h4.7v4.91h-4.7z"/>
<path fill="#240654" d="M67.5 216.76h4.7v4.91h-4.7z"/>
<path fill="#060030" d="M76.3 216.76h4.7v4.91h-4.7z"/>
<path fill="#000036" d="M89.51 216.76h4.7v4.91h-4.7z"/>
<path fill="#240642" d="M98.31 216.76h4.7v4.91h-4.7z"/>
<path fill="#2a129c" d="M111.52 216.76h4.7v4.91h-4.7z"/>
<path fill="#3c1ec0" d="M115.92 216.76h4.7v4.91h-4.7z"/>
<path fill="#3c24d8" d="M124.72 216.76h4.7v4.91h-4.7z"/>
<path fill="#2a2aea" d="M151.13 216.76h4.7v4.91h-4.7zM203.96 216.76h4.7v4.91h-4.7zM239.17 216.76h4.7v4.91h-4.7zM283.19 221.37h4.7v4.91h-4.7zM309.6 230.58h4.7v4.91h-4.7zM129.12 239.8h4.7v4.91h-4.7z"/>
<path fill="#3630f6" d="M173.14 216.76h4.7v4.91h-4.7zM177.54 221.37h4.7v4.91h-4.7zM98.31 272.04h4.7v4.91h-4.7z"/>
<path fill="#2a2ade" d="M190.75 216.76h4.7v4.91h-4.7zM129.12 235.19h4.7v4.91h-4.7zM115.92 249.01h4.7v4.91h-4.7z"/>
<path fill="#3030f0" d="M195.15 216.76h4.7v4.91h-4.7zM274.38 221.37h4.7v4.91h-4.7zM159.94 225.98h4.7v4.91h-4.7zM305.2 230.58h4.7v4.91h-4.7zM115.92 253.61h4.7v4.91h-4.7zM120.32 253.61h4.7v4.91h-4.7zM98.31 295.07h4.7v4.91h-4.7z"/>
<path fill="#242afc" d="M225.96 216.76h4.7v4.91h-4.7zM230.37 216.76h4.7v4.91h-4.7zM269.98 225.98h4.7v4.91h-4.7zM107.12 267.43h4.7v4.91h-4.7z"/>
<path fill="#242af0" d="M234.77 216.76h4.7v4.91h-4.7zM186.35 221.37h4.7v4.91h-4.7zM309.6 235.19h4.7v4.91h-4.7zM129.12 244.4h4.7v4.91h-4.7zM124.72 253.61h4.7v4.91h-4.7z"/>
<path fill="#3630f0" d="M243.57 216.76h4.7v4.91h-4.7zM98.31 281.25h4.7v4.91h-4.7z"/>
<path fill="#2a30fc" d="M252.38 216.76h4.7v4.91h-4.7zM217.16 221.37h4.7v4.91h-4.7zM221.56 221.37h4.7v4.91h-4.7zM252.38 221.37h4.7v4.91h-4.7zM173.14 225.98h4.7v4.91h-4.7zM195.15 225.98h4.7v4.91h-4.7zM234.77 225.98h4.7v4.91h-4.7zM265.58 225.98h4.7v4.91h-4.7zM278.79 225.98h4.7v4.91h-4.7zM168.74 230.58h4.7v4.91h-4.7zM181.95 230.58h4.7v4.91h-4.7zM221.56 230.58h4.7v4.91h-4.7zM225.96 230.58h4.7v4.91h-4.7zM265.58 230.58h4.7v4.91h-4.7zM269.98 230.58h4.7v4.91h-4.7zM274.38 230.58h4.7v4.91h-4.7zM283.19 230.58h4.7v4.91h-4.7zM287.59 230.58h4.7v4.91h-4.7zM142.33 235.19h4.7v4.91h-4.7zM146.73 235.19h4.7v4.91h-4.7zM107.12 281.25h4.7v4.91h-4.7zM67.5 304.29h4.7v4.91h-4.7zM67.5 308.89h4.7v4.91h-4.7z"/>
<path fill="#3636fc" d="M256.78 216.76h4.7v4.91h-4.7zM261.18 216.76h4.7v4.91h-4.7zM230.37 221.37h4.7v4.91h-4.7zM256.78 221.37h4.7v4.91h-4.7zM164.34 225.98h4.7v4.91h-4.7zM252.38 225.98h4.7v4.91h-4.7zM283.19 225.98h4.7v4.91h-4.7zM296.39 230.58h4.7v4.91h-4.7zM173.14 235.19h4.7v4.91h-4.7zM111.52 262.83h4.7v4.91h-4.7zM107.12 276.65h4.7v4.91h-4.7zM76.3 308.89h4.7v4.91h-4.7zM85.11 308.89h4.7v4.91h-4.7z"/>
<path fill="#1e2afc" d="M269.98 216.76h4.7v4.91h-4.7zM247.97 221.37h4.7v4.91h-4.7zM159.94 230.58h4.7v4.91h-4.7zM300.79 230.58h4.7v4.91h-4.7z"/>
<path fill="#241ee4" d="M300.79 216.76h4.7v4.91h-4.7z"/>
<path fill="#1e1ecc" d="M309.6 216.76h4.7v4.91h-4.7z"/>
<path fill="#240c6c" d="M67.5 221.37h4.7v4.91h-4.7z"/>
<path fill="#300c5a" d="M98.31 221.37h4.7v4.91h-4.7z"/>
<path fill="#2a1296" d="M111.52 221.37h4.7v4.91h-4.7z"/>
<path fill="#3018ba" d="M115.92 221.37h4.7v4.91h-4.7z"/>
<path fill="#301ed2" d="M120.32 221.37h4.7v4.91h-4.7zM111.52 244.4h4.7v4.91h-4.7z"/>
<path fill="#181ede" d="M146.73 221.37h4.7v4.91h-4.7zM151.13 221.37h4.7v4.91h-4.7z"/>
<path fill="#1e24de" d="M155.54 221.37h4.7v4.91h-4.7zM146.73 225.98h4.7v4.91h-4.7z"/>
<path fill="#3030e4" d="M181.95 221.37h4.7v4.91h-4.7zM155.54 225.98h4.7v4.91h-4.7z"/>
<path fill="#1e2aea" d="M190.75 221.37h4.7v4.91h-4.7zM120.32 262.83h4.7v4.91h-4.7zM115.92 272.04h4.7v4.91h-4.7z"/>
<path fill="#1e2af0" d="M199.55 221.37h4.7v4.91h-4.7z"/>
<path fill="#242ade" d="M208.36 221.37h4.7v4.91h-4.7zM239.17 221.37h4.7v4.91h-4.7zM146.73 230.58h4.7v4.91h-4.7zM124.72 244.4h4.7v4.91h-4.7z"/>
<path fill="#2a30ea" d="M234.77 221.37h4.7v4.91h-4.7zM199.55 230.58h4.7v4.91h-4.7zM124.72 249.01h4.7v4.91h-4.7zM115.92 262.83h4.7v4.91h-4.7z"/>
<path fill="#3630e4" d="M243.57 221.37h4.7v4.91h-4.7z"/>
<path fill="#3036fc" d="M261.18 221.37h4.7v4.91h-4.7zM190.75 225.98h4.7v4.91h-4.7zM225.96 225.98h4.7v4.91h-4.7zM164.34 230.58h4.7v4.91h-4.7zM173.14 230.58h4.7v4.91h-4.7zM195.15 230.58h4.7v4.91h-4.7zM252.38 230.58h4.7v4.91h-4.7zM256.78 230.58h4.7v4.91h-4.7zM261.18 230.58h4.7v4.91h-4.7zM291.99 230.58h4.7v4.91h-4.7zM137.93 235.19h4.7v4.91h-4.7zM230.37 235.19h4.7v4.91h-4.7zM247.97 235.19h4.7v4.91h-4.7zM296.39 235.19h4.7v4.91h-4.7zM146.73 239.8h4.7v4.91h-4.7zM107.12 272.04h4.7v4.91h-4.7zM107.12 285.86h4.7v4.91h-4.7zM111.52 285.86h4.7v4.91h-4.7zM89.51 308.89h4.7v4.91h-4.7z"/>
<path fill="#2a30f6" d="M269.98 221.37h4.7v4.91h-4.7zM274.38 225.98h4.7v4.91h-4.7zM155.54 230.58h4.7v4.91h-4.7zM186.35 235.19h4.7v4.91h-4.7zM283.19 235.19h4.7v4.91h-4.7zM133.53 253.61h4.7v4.91h-4.7zM124.72 258.22h4.7v4.91h-4.7zM124.72 262.83h4.7v4.91h-4.7zM111.52 272.04h4.7v4.91h-4.7zM98.31 304.29h4.7v4.91h-4.7z"/>
<path fill="#2a2ad8" d="M287.59 221.37h4.7v4.91h-4.7z"/>
<path fill="#1e0c6c" d="M67.5 225.98h4.7v4.91h-4.7z"/>
<path fill="#120042" d="M76.3 225.98h4.7v4.91h-4.7z"/>
<path fill="#18063c" d="M80.71 225.98h4.7v4.91h-4.7z"/>
<path fill="#1e0642" d="M85.11 225.98h4.7v4.91h-4.7z"/>
<path fill="#120048" d="M89.51 225.98h4.7v4.91h-4.7z"/>
<path fill="#2a0c6c" d="M98.31 225.98h4.7v4.91h-4.7z"/>
<path fill="#301284" d="M102.71 225.98h4.7v4.91h-4.7zM85.11 235.19h4.7v4.91h-4.7z"/>
<path fill="#3018a8" d="M111.52 225.98h4.7v4.91h-4.7z"/>
<path fill="#361ecc" d="M115.92 225.98h4.7v4.91h-4.7zM115.92 235.19h4.7v4.91h-4.7zM71.9 244.4h4.7v4.91h-4.7z"/>
<path fill="#1e24d8" d="M142.33 225.98h4.7v4.91h-4.7zM217.16 225.98h4.7v4.91h-4.7z"/>
<path fill="#2a30f0" d="M181.95 225.98h4.7v4.91h-4.7zM208.36 225.98h4.7v4.91h-4.7zM208.36 230.58h4.7v4.91h-4.7zM177.54 235.19h4.7v4.91h-4.7zM129.12 258.22h4.7v4.91h-4.7zM107.12 290.47h4.7v4.91h-4.7z"/>
<path fill="#2430f6" d="M199.55 225.98h4.7v4.91h-4.7zM199.55 235.19h4.7v4.91h-4.7zM239.17 235.19h4.7v4.91h-4.7zM261.18 235.19h4.7v4.91h-4.7zM287.59 235.19h4.7v4.91h-4.7zM168.74 239.8h4.7v4.91h-4.7zM173.14 239.8h4.7v4.91h-4.7zM181.95 239.8h4.7v4.91h-4.7zM296.39 239.8h4.7v4.91h-4.7zM142.33 244.4h4.7v4.91h-4.7zM146.73 244.4h4.7v4.91h-4.7zM305.2 244.4h4.7v4.91h-4.7zM142.33 253.61h4.7v4.91h-4.7zM129.12 262.83h4.7v4.91h-4.7zM133.53 262.83h4.7v4.91h-4.7zM111.52 276.65h4.7v4.91h-4.7zM115.92 281.25h4.7v4.91h-4.7zM120.32 281.25h4.7v4.91h-4.7zM107.12 295.07h4.7v4.91h-4.7zM102.71 299.68h4.7v4.91h-4.7z"/>
<path fill="#2a30e4" d="M212.76 225.98h4.7v4.91h-4.7z"/>
<path fill="#1e2af6" d="M221.56 225.98h4.7v4.91h-4.7zM247.97 225.98h4.7v4.91h-4.7z"/>
<path fill="#2430fc" d="M230.37 225.98h4.7v4.91h-4.7zM261.18 225.98h4.7v4.91h-4.7zM177.54 230.58h4.7v4.91h-4.7zM190.75 230.58h4.7v4.91h-4.7zM230.37 230.58h4.7v4.91h-4.7zM243.57 230.58h4.7v4.91h-4.7zM203.96 235.19h4.7v4.91h-4.7zM243.57 235.19h4.7v4.91h-4.7zM265.58 235.19h4.7v4.91h-4.7zM274.38 235.19h4.7v4.91h-4.7zM291.99 235.19h4.7v4.91h-4.7zM142.33 239.8h4.7v4.91h-4.7zM151.13 239.8h4.7v4.91h-4.7zM164.34 239.8h4.7v4.91h-4.7zM247.97 239.8h4.7v4.91h-4.7zM283.19 239.8h4.7v4.91h-4.7zM133.53 258.22h4.7v4.91h-4.7zM115.92 285.86h4.7v4.91h-4.7zM107.12 304.29h4.7v4.91h-4.7z"/>
<path fill="#3030ea" d="M239.17 225.98h4.7v4.91h-4.7zM120.32 249.01h4.7v4.91h-4.7z"/>
<path fill="#1e2ae4" d="M243.57 225.98h4.7v4.91h-4.7z"/>
<path fill="#363cfc" d="M256.78 225.98h4.7v4.91h-4.7zM247.97 230.58h4.7v4.91h-4.7zM168.74 235.19h4.7v4.91h-4.7zM269.98 235.19h4.7v4.91h-4.7zM256.78 239.8h4.7v4.91h-4.7z"/>
<path fill="#3c1896" d="M67.5 230.58h4.7v4.91h-4.7z"/>
<path fill="#2a0c72" d="M71.9 230.58h4.7v4.91h-4.7z"/>
<path fill="#1e0666" d="M76.3 230.58h4.7v4.91h-4.7z"/>
<path fill="#180666" d="M80.71 230.58h4.7v4.91h-4.7zM85.11 230.58h4.7v4.91h-4.7z"/>
<path fill="#240c78" d="M93.91 230.58h4.7v4.91h-4.7z"/>
<path fill="#240c8a" d="M98.31 230.58h4.7v4.91h-4.7z"/>
<path fill="#361ec0" d="M111.52 230.58h4.7v4.91h-4.7z"/>
<path fill="#301ecc" d="M115.92 230.58h4.7v4.91h-4.7z"/>
<path fill="#302ade" d="M142.33 230.58h4.7v4.91h-4.7z"/>
<path fill="#1824ea" d="M151.13 230.58h4.7v4.91h-4.7z"/>
<path fill="#2430f0" d="M186.35 230.58h4.7v4.91h-4.7zM151.13 235.19h4.7v4.91h-4.7zM137.93 244.4h4.7v4.91h-4.7zM208.36 244.4h4.7v4.91h-4.7zM181.95 253.61h4.7v4.91h-4.7zM151.13 262.83h4.7v4.91h-4.7zM151.13 267.43h4.7v4.91h-4.7zM309.6 276.65h4.7v4.91h-4.7zM102.71 290.47h4.7v4.91h-4.7zM199.55 295.07h4.7v4.91h-4.7zM102.71 308.89h4.7v4.91h-4.7z"/>
<path fill="#3036ea" d="M203.96 230.58h4.7v4.91h-4.7zM137.93 249.01h4.7v4.91h-4.7zM120.32 272.04h4.7v4.91h-4.7z"/>
<path fill="#2430ea" d="M212.76 230.58h4.7v4.91h-4.7zM177.54 239.8h4.7v4.91h-4.7zM146.73 262.83h4.7v4.91h-4.7zM124.72 267.43h4.7v4.91h-4.7zM230.37 267.43h4.7v4.91h-4.7zM225.96 272.04h4.7v4.91h-4.7zM102.71 295.07h4.7v4.91h-4.7zM98.31 308.89h4.7v4.91h-4.7z"/>
<path fill="#2a36fc" d="M234.77 230.58h4.7v4.91h-4.7zM239.17 230.58h4.7v4.91h-4.7zM278.79 230.58h4.7v4.91h-4.7zM155.54 235.19h4.7v4.91h-4.7zM159.94 235.19h4.7v4.91h-4.7zM164.34 235.19h4.7v4.91h-4.7zM190.75 235.19h4.7v4.91h-4.7zM195.15 235.19h4.7v4.91h-4.7zM208.36 235.19h4.7v4.91h-4.7zM212.76 235.19h4.7v4.91h-4.7zM221.56 235.19h4.7v4.91h-4.7zM225.96 235.19h4.7v4.91h-4.7zM234.77 235.19h4.7v4.91h-4.7zM252.38 235.19h4.7v4.91h-4.7zM256.78 235.19h4.7v4.91h-4.7zM278.79 235.19h4.7v4.91h-4.7zM155.54 239.8h4.7v4.91h-4.7zM159.94 239.8h4.7v4.91h-4.7zM186.35 239.8h4.7v4.91h-4.7zM190.75 239.8h4.7v4.91h-4.7zM208.36 239.8h4.7v4.91h-4.7zM212.76 239.8h4.7v4.91h-4.7zM234.77 239.8h4.7v4.91h-4.7zM265.58 239.8h4.7v4.91h-4.7zM274.38 239.8h4.7v4.91h-4.7zM291.99 239.8h4.7v4.91h-4.7zM199.55 244.4h4.7v4.91h-4.7zM252.38 244.4h4.7v4.91h-4.7zM265.58 244.4h4.7v4.91h-4.7zM274.38 244.4h4.7v4.91h-4.7zM278.79 244.4h4.7v4.91h-4.7zM291.99 244.4h4.7v4.91h-4.7zM146.73 249.01h4.7v4.91h-4.7zM151.13 249.01h4.7v4.91h-4.7zM159.94 249.01h4.7v4.91h-4.7zM151.13 253.61h4.7v4.91h-4.7zM155.54 253.61h4.7v4.91h-4.7zM177.54 253.61h4.7v4.91h-4.7zM274.38 253.61h4.7v4.91h-4.7zM173.14 258.22h4.7v4.91h-4.7zM177.54 258.22h4.7v4.91h-4.7zM278.79 258.22h4.7v4.91h-4.7zM283.19 258.22h4.7v4.91h-4.7zM287.59 258.22h4.7v4.91h-4.7zM137.93 262.83h4.7v4.91h-4.7zM142.33 262.83h4.7v4.91h-4.7zM164.34 262.83h4.7v4.91h-4.7zM186.35 262.83h4.7v4.91h-4.7zM274.38 262.83h4.7v4.91h-4.7zM133.53 267.43h4.7v4.91h-4.7zM243.57 267.43h4.7v4.91h-4.7zM133.53 272.04h4.7v4.91h-4.7zM142.33 272.04h4.7v4.91h-4.7zM164.34 272.04h4.7v4.91h-4.7zM265.58 272.04h4.7v4.91h-4.7zM309.6 272.04h4.7v4.91h-4.7zM124.72 276.65h4.7v4.91h-4.7zM142.33 276.65h4.7v4.91h-4.7zM155.54 276.65h4.7v4.91h-4.7zM164.34 276.65h4.7v4.91h-4.7zM212.76 276.65h4.7v4.91h-4.7zM287.59 276.65h4.7v4.91h-4.7zM111.52 281.25h4.7v4.91h-4.7zM142.33 281.25h4.7v4.91h-4.7zM190.75 281.25h4.7v4.91h-4.7zM225.96 281.25h4.7v4.91h-4.7zM256.78 281.25h4.7v4.91h-4.7zM291.99 281.25h4.7v4.91h-4.7zM129.12 285.86h4.7v4.91h-4.7zM151.13 285.86h4.7v4.91h-4.7zM159.94 285.86h4.7v4.91h-4.7zM186.35 285.86h4.7v4.91h-4.7zM265.58 285.86h4.7v4.91h-4.7zM261.18 290.47h4.7v4.91h-4.7zM309.6 290.47h4.7v4.91h-4.7zM129.12 295.07h4.7v4.91h-4.7zM173.14 295.07h4.7v4.91h-4.7zM221.56 295.07h4.7v4.91h-4.7zM247.97 295.07h4.7v4.91h-4.7zM261.18 295.07h4.7v4.91h-4.7zM274.38 295.07h4.7v4.91h-4.7zM305.2 295.07h4.7v4.91h-4.7zM107.12 299.68h4.7v4.91h-4.7zM115.92 299.68h4.7v4.91h-4.7zM190.75 299.68h4.7v4.91h-4.7zM115.92 304.29h4.7v4.91h-4.7zM120.32 304.29h4.7v4.91h-4.7zM124.72 304.29h4.7v4.91h-4.7zM133.53 304.29h4.7v4.91h-4.7zM217.16 304.29h4.7v4.91h-4.7zM234.77 304.29h4.7v4.91h-4.7zM305.2 304.29h4.7v4.91h-4.7zM120.32 308.89h4.7v4.91h-4.7zM247.97 308.89h4.7v4.91h-4.7zM291.99 308.89h4.7v4.91h-4.7z"/>
<path fill="#36189c" d="M71.9 235.19h4.7v4.91h-4.7z"/>
<path fill="#3c1890" d="M80.71 235.19h4.7v4.91h-4.7z"/>
<path fill="#30128a" d="M89.51 235.19h4.7v4.91h-4.7z"/>
<path fill="#2a18ba" d="M107.12 235.19h4.7v4.91h-4.7z"/>
<path fill="#3030f6" d="M133.53 235.19h4.7v4.91h-4.7zM115.92 258.22h4.7v4.91h-4.7zM120.32 258.22h4.7v4.91h-4.7zM102.71 281.25h4.7v4.91h-4.7z"/>
<path fill="#1e30f0" d="M181.95 235.19h4.7v4.91h-4.7zM243.57 239.8h4.7v4.91h-4.7zM212.76 244.4h4.7v4.91h-4.7zM296.39 244.4h4.7v4.91h-4.7zM142.33 249.01h4.7v4.91h-4.7zM199.55 249.01h4.7v4.91h-4.7zM243.57 249.01h4.7v4.91h-4.7zM296.39 249.01h4.7v4.91h-4.7zM208.36 253.61h4.7v4.91h-4.7zM203.96 262.83h4.7v4.91h-4.7zM146.73 267.43h4.7v4.91h-4.7zM115.92 276.65h4.7v4.91h-4.7zM217.16 276.65h4.7v4.91h-4.7zM151.13 281.25h4.7v4.91h-4.7zM221.56 281.25h4.7v4.91h-4.7zM225.96 290.47h4.7v4.91h-4.7zM195.15 295.07h4.7v4.91h-4.7zM225.96 295.07h4.7v4.91h-4.7zM269.98 295.07h4.7v4.91h-4.7zM278.79 304.29h4.7v4.91h-4.7zM124.72 308.89h4.7v4.91h-4.7z"/>
<path fill="#2436fc" d="M217.16 235.19h4.7v4.91h-4.7zM199.55 239.8h4.7v4.91h-4.7zM217.16 239.8h4.7v4.91h-4.7zM225.96 239.8h4.7v4.91h-4.7zM252.38 239.8h4.7v4.91h-4.7zM261.18 239.8h4.7v4.91h-4.7zM269.98 239.8h4.7v4.91h-4.7zM278.79 239.8h4.7v4.91h-4.7zM287.59 239.8h4.7v4.91h-4.7zM151.13 244.4h4.7v4.91h-4.7zM155.54 244.4h4.7v4.91h-4.7zM159.94 244.4h4.7v4.91h-4.7zM164.34 244.4h4.7v4.91h-4.7zM168.74 244.4h4.7v4.91h-4.7zM195.15 244.4h4.7v4.91h-4.7zM217.16 244.4h4.7v4.91h-4.7zM221.56 244.4h4.7v4.91h-4.7zM230.37 244.4h4.7v4.91h-4.7zM269.98 244.4h4.7v4.91h-4.7zM155.54 249.01h4.7v4.91h-4.7zM164.34 249.01h4.7v4.91h-4.7zM168.74 249.01h4.7v4.91h-4.7zM173.14 249.01h4.7v4.91h-4.7zM203.96 249.01h4.7v4.91h-4.7zM212.76 249.01h4.7v4.91h-4.7zM217.16 249.01h4.7v4.91h-4.7zM225.96 249.01h4.7v4.91h-4.7zM230.37 249.01h4.7v4.91h-4.7zM234.77 249.01h4.7v4.91h-4.7zM239.17 249.01h4.7v4.91h-4.7zM305.2 249.01h4.7v4.91h-4.7zM146.73 253.61h4.7v4.91h-4.7zM159.94 253.61h4.7v4.91h-4.7zM164.34 253.61h4.7v4.91h-4.7zM168.74 253.61h4.7v4.91h-4.7zM173.14 253.61h4.7v4.91h-4.7zM217.16 253.61h4.7v4.91h-4.7zM225.96 253.61h4.7v4.91h-4.7zM239.17 253.61h4.7v4.91h-4.7zM256.78 253.61h4.7v4.91h-4.7zM265.58 253.61h4.7v4.91h-4.7zM269.98 253.61h4.7v4.91h-4.7zM278.79 253.61h4.7v4.91h-4.7zM300.79 253.61h4.7v4.91h-4.7zM137.93 258.22h4.7v4.91h-4.7zM142.33 258.22h4.7v4.91h-4.7zM155.54 258.22h4.7v4.91h-4.7zM159.94 258.22h4.7v4.91h-4.7zM164.34 258.22h4.7v4.91h-4.7zM190.75 258.22h4.7v4.91h-4.7zM195.15 258.22h4.7v4.91h-4.7zM203.96 258.22h4.7v4.91h-4.7zM217.16 258.22h4.7v4.91h-4.7zM239.17 258.22h4.7v4.91h-4.7zM243.57 258.22h4.7v4.91h-4.7zM269.98 258.22h4.7v4.91h-4.7zM291.99 258.22h4.7v4.91h-4.7zM296.39 258.22h4.7v4.91h-4.7zM300.79 258.22h4.7v4.91h-4.7zM305.2 258.22h4.7v4.91h-4.7zM309.6 258.22h4.7v4.91h-4.7zM155.54 262.83h4.7v4.91h-4.7zM168.74 262.83h4.7v4.91h-4.7zM181.95 262.83h4.7v4.91h-4.7zM195.15 262.83h4.7v4.91h-4.7zM212.76 262.83h4.7v4.91h-4.7zM221.56 262.83h4.7v4.91h-4.7zM243.57 262.83h4.7v4.91h-4.7zM256.78 262.83h4.7v4.91h-4.7zM269.98 262.83h4.7v4.91h-4.7zM278.79 262.83h4.7v4.91h-4.7zM300.79 262.83h4.7v4.91h-4.7zM305.2 262.83h4.7v4.91h-4.7zM309.6 262.83h4.7v4.91h-4.7zM137.93 267.43h4.7v4.91h-4.7zM142.33 267.43h4.7v4.91h-4.7zM155.54 267.43h4.7v4.91h-4.7zM159.94 267.43h4.7v4.91h-4.7zM173.14 267.43h4.7v4.91h-4.7zM177.54 267.43h4.7v4.91h-4.7zM186.35 267.43h4.7v4.91h-4.7zM190.75 267.43h4.7v4.91h-4.7zM208.36 267.43h4.7v4.91h-4.7zM256.78 267.43h4.7v4.91h-4.7zM269.98 267.43h4.7v4.91h-4.7zM274.38 267.43h4.7v4.91h-4.7zM278.79 267.43h4.7v4.91h-4.7zM305.2 267.43h4.7v4.91h-4.7zM309.6 267.43h4.7v4.91h-4.7zM129.12 272.04h4.7v4.91h-4.7zM137.93 272.04h4.7v4.91h-4.7zM146.73 272.04h4.7v4.91h-4.7zM151.13 272.04h4.7v4.91h-4.7zM155.54 272.04h4.7v4.91h-4.7zM159.94 272.04h4.7v4.91h-4.7zM168.74 272.04h4.7v4.91h-4.7zM173.14 272.04h4.7v4.91h-4.7zM177.54 272.04h4.7v4.91h-4.7zM186.35 272.04h4.7v4.91h-4.7zM190.75 272.04h4.7v4.91h-4.7zM212.76 272.04h4.7v4.91h-4.7zM221.56 272.04h4.7v4.91h-4.7zM243.57 272.04h4.7v4.91h-4.7zM247.97 272.04h4.7v4.91h-4.7zM252.38 272.04h4.7v4.91h-4.7zM256.78 272.04h4.7v4.91h-4.7zM274.38 272.04h4.7v4.91h-4.7zM278.79 272.04h4.7v4.91h-4.7zM283.19 272.04h4.7v4.91h-4.7zM287.59 272.04h4.7v4.91h-4.7zM291.99 272.04h4.7v4.91h-4.7zM296.39 272.04h4.7v4.91h-4.7zM133.53 276.65h4.7v4.91h-4.7zM159.94 276.65h4.7v4.91h-4.7zM168.74 276.65h4.7v4.91h-4.7zM177.54 276.65h4.7v4.91h-4.7zM181.95 276.65h4.7v4.91h-4.7zM203.96 276.65h4.7v4.91h-4.7zM239.17 276.65h4.7v4.91h-4.7zM243.57 276.65h4.7v4.91h-4.7zM265.58 276.65h4.7v4.91h-4.7zM274.38 276.65h4.7v4.91h-4.7zM278.79 276.65h4.7v4.91h-4.7zM283.19 276.65h4.7v4.91h-4.7zM296.39 276.65h4.7v4.91h-4.7zM305.2 276.65h4.7v4.91h-4.7zM129.12 281.25h4.7v4.91h-4.7zM133.53 281.25h4.7v4.91h-4.7zM137.93 281.25h4.7v4.91h-4.7zM177.54 281.25h4.7v4.91h-4.7zM186.35 281.25h4.7v4.91h-4.7zM208.36 281.25h4.7v4.91h-4.7zM230.37 281.25h4.7v4.91h-4.7zM247.97 281.25h4.7v4.91h-4.7zM252.38 281.25h4.7v4.91h-4.7zM261.18 281.25h4.7v4.91h-4.7zM278.79 281.25h4.7v4.91h-4.7zM296.39 281.25h4.7v4.91h-4.7zM309.6 281.25h4.7v4.91h-4.7zM133.53 285.86h4.7v4.91h-4.7zM137.93 285.86h4.7v4.91h-4.7zM142.33 285.86h4.7v4.91h-4.7zM146.73 285.86h4.7v4.91h-4.7zM155.54 285.86h4.7v4.91h-4.7zM168.74 285.86h4.7v4.91h-4.7zM177.54 285.86h4.7v4.91h-4.7zM181.95 285.86h4.7v4.91h-4.7zM190.75 285.86h4.7v4.91h-4.7zM195.15 285.86h4.7v4.91h-4.7zM199.55 285.86h4.7v4.91h-4.7zM208.36 285.86h4.7v4.91h-4.7zM212.76 285.86h4.7v4.91h-4.7zM239.17 285.86h4.7v4.91h-4.7zM243.57 285.86h4.7v4.91h-4.7zM247.97 285.86h4.7v4.91h-4.7zM252.38 285.86h4.7v4.91h-4.7zM261.18 285.86h4.7v4.91h-4.7zM269.98 285.86h4.7v4.91h-4.7zM274.38 285.86h4.7v4.91h-4.7zM287.59 285.86h4.7v4.91h-4.7zM291.99 285.86h4.7v4.91h-4.7zM296.39 285.86h4.7v4.91h-4.7zM300.79 285.86h4.7v4.91h-4.7zM309.6 285.86h4.7v4.91h-4.7zM133.53 290.47h4.7v4.91h-4.7zM146.73 290.47h4.7v4.91h-4.7zM151.13 290.47h4.7v4.91h-4.7zM159.94 290.47h4.7v4.91h-4.7zM177.54 290.47h4.7v4.91h-4.7zM181.95 290.47h4.7v4.91h-4.7zM195.15 290.47h4.7v4.91h-4.7zM212.76 290.47h4.7v4.91h-4.7zM221.56 290.47h4.7v4.91h-4.7zM230.37 290.47h4.7v4.91h-4.7zM239.17 290.47h4.7v4.91h-4.7zM296.39 290.47h4.7v4.91h-4.7zM300.79 290.47h4.7v4.91h-4.7zM111.52 295.07h4.7v4.91h-4.7zM115.92 295.07h4.7v4.91h-4.7zM146.73 295.07h4.7v4.91h-4.7zM151.13 295.07h4.7v4.91h-4.7zM155.54 295.07h4.7v4.91h-4.7zM159.94 295.07h4.7v4.91h-4.7zM164.34 295.07h4.7v4.91h-4.7zM230.37 295.07h4.7v4.91h-4.7zM234.77 295.07h4.7v4.91h-4.7zM278.79 295.07h4.7v4.91h-4.7zM300.79 295.07h4.7v4.91h-4.7zM111.52 299.68h4.7v4.91h-4.7zM120.32 299.68h4.7v4.91h-4.7zM124.72 299.68h4.7v4.91h-4.7zM129.12 299.68h4.7v4.91h-4.7zM142.33 299.68h4.7v4.91h-4.7zM146.73 299.68h4.7v4.91h-4.7zM155.54 299.68h4.7v4.91h-4.7zM164.34 299.68h4.7v4.91h-4.7zM173.14 299.68h4.7v4.91h-4.7zM195.15 299.68h4.7v4.91h-4.7zM208.36 299.68h4.7v4.91h-4.7zM217.16 299.68h4.7v4.91h-4.7zM221.56 299.68h4.7v4.91h-4.7zM230.37 299.68h4.7v4.91h-4.7zM256.78 299.68h4.7v4.91h-4.7zM261.18 299.68h4.7v4.91h-4.7zM265.58 299.68h4.7v4.91h-4.7zM269.98 299.68h4.7v4.91h-4.7zM278.79 299.68h4.7v4.91h-4.7zM287.59 299.68h4.7v4.91h-4.7zM291.99 299.68h4.7v4.91h-4.7zM300.79 299.68h4.7v4.91h-4.7zM129.12 304.29h4.7v4.91h-4.7zM155.54 304.29h4.7v4.91h-4.7zM181.95 304.29h4.7v4.91h-4.7zM186.35 304.29h4.7v4.91h-4.7zM190.75 304.29h4.7v4.91h-4.7zM195.15 304.29h4.7v4.91h-4.7zM199.55 304.29h4.7v4.91h-4.7zM203.96 304.29h4.7v4.91h-4.7zM212.76 304.29h4.7v4.91h-4.7zM252.38 304.29h4.7v4.91h-4.7zM256.78 304.29h4.7v4.91h-4.7zM261.18 304.29h4.7v4.91h-4.7zM265.58 304.29h4.7v4.91h-4.7zM269.98 304.29h4.7v4.91h-4.7zM296.39 304.29h4.7v4.91h-4.7zM300.79 304.29h4.7v4.91h-4.7zM309.6 304.29h4.7v4.91h-4.7zM137.93 308.89h4.7v4.91h-4.7zM142.33 308.89h4.7v4.91h-4.7zM151.13 308.89h4.7v4.91h-4.7zM155.54 308.89h4.7v4.91h-4.7zM159.94 308.89h4.7v4.91h-4.7zM164.34 308.89h4.7v4.91h-4.7zM173.14 308.89h4.7v4.91h-4.7zM177.54 308.89h4.7v4.91h-4.7zM199.55 308.89h4.7v4.91h-4.7zM203.96 308.89h4.7v4.91h-4.7zM217.16 308.89h4.7v4.91h-4.7zM225.96 308.89h4.7v4.91h-4.7zM239.17 308.89h4.7v4.91h-4.7zM261.18 308.89h4.7v4.91h-4.7zM265.58 308.89h4.7v4.91h-4.7zM278.79 308.89h4.7v4.91h-4.7zM283.19 308.89h4.7v4.91h-4.7zM296.39 308.89h4.7v4.91h-4.7zM309.6 308.89h4.7v4.91h-4.7z"/>
<path fill="#3636f6" d="M300.79 235.19h4.7v4.91h-4.7zM133.53 239.8h4.7v4.91h-4.7z"/>
<path fill="#3636f0" d="M305.2 235.19h4.7v4.91h-4.7z"/>
<path fill="#4224d8" d="M67.5 239.8h4.7v4.91h-4.7zM85.11 249.01h4.7v4.91h-4.7z"/>
<path fill="#3c1eba" d="M71.9 239.8h4.7v4.91h-4.7z"/>
<path fill="#3c18b4" d="M80.71 239.8h4.7v4.91h-4.7z"/>
<path fill="#3018b4" d="M93.91 239.8h4.7v4.91h-4.7z"/>
<path fill="#2a18cc" d="M107.12 239.8h4.7v4.91h-4.7z"/>
<path fill="#2a18c6" d="M111.52 239.8h4.7v4.91h-4.7zM115.92 239.8h4.7v4.91h-4.7z"/>
<path fill="#303cfc" d="M195.15 239.8h4.7v4.91h-4.7zM190.75 244.4h4.7v4.91h-4.7zM283.19 244.4h4.7v4.91h-4.7zM291.99 253.61h4.7v4.91h-4.7zM217.16 262.83h4.7v4.91h-4.7zM300.79 267.43h4.7v4.91h-4.7zM269.98 272.04h4.7v4.91h-4.7zM129.12 276.65h4.7v4.91h-4.7zM181.95 281.25h4.7v4.91h-4.7zM129.12 290.47h4.7v4.91h-4.7zM291.99 295.07h4.7v4.91h-4.7zM247.97 304.29h4.7v4.91h-4.7zM190.75 308.89h4.7v4.91h-4.7z"/>
<path fill="#1e30fc" d="M203.96 239.8h4.7v4.91h-4.7zM234.77 244.4h4.7v4.91h-4.7zM151.13 258.22h4.7v4.91h-4.7zM252.38 258.22h4.7v4.91h-4.7zM199.55 262.83h4.7v4.91h-4.7zM129.12 267.43h4.7v4.91h-4.7zM168.74 267.43h4.7v4.91h-4.7zM195.15 267.43h4.7v4.91h-4.7zM252.38 267.43h4.7v4.91h-4.7zM137.93 276.65h4.7v4.91h-4.7zM124.72 281.25h4.7v4.91h-4.7zM212.76 281.25h4.7v4.91h-4.7zM221.56 285.86h4.7v4.91h-4.7zM199.55 290.47h4.7v4.91h-4.7zM203.96 290.47h4.7v4.91h-4.7zM274.38 290.47h4.7v4.91h-4.7zM278.79 290.47h4.7v4.91h-4.7zM142.33 295.07h4.7v4.91h-4.7zM203.96 295.07h4.7v4.91h-4.7zM208.36 295.07h4.7v4.91h-4.7zM133.53 299.68h4.7v4.91h-4.7zM168.74 299.68h4.7v4.91h-4.7zM137.93 304.29h4.7v4.91h-4.7zM239.17 304.29h4.7v4.91h-4.7z"/>
<path fill="#1e36fc" d="M221.56 239.8h4.7v4.91h-4.7zM225.96 244.4h4.7v4.91h-4.7zM287.59 244.4h4.7v4.91h-4.7zM269.98 249.01h4.7v4.91h-4.7zM203.96 253.61h4.7v4.91h-4.7zM230.37 253.61h4.7v4.91h-4.7zM168.74 258.22h4.7v4.91h-4.7zM199.55 258.22h4.7v4.91h-4.7zM225.96 258.22h4.7v4.91h-4.7zM256.78 258.22h4.7v4.91h-4.7zM274.38 258.22h4.7v4.91h-4.7zM159.94 262.83h4.7v4.91h-4.7zM173.14 262.83h4.7v4.91h-4.7zM177.54 262.83h4.7v4.91h-4.7zM190.75 262.83h4.7v4.91h-4.7zM164.34 267.43h4.7v4.91h-4.7zM181.95 267.43h4.7v4.91h-4.7zM212.76 267.43h4.7v4.91h-4.7zM217.16 267.43h4.7v4.91h-4.7zM221.56 267.43h4.7v4.91h-4.7zM239.17 267.43h4.7v4.91h-4.7zM296.39 267.43h4.7v4.91h-4.7zM181.95 272.04h4.7v4.91h-4.7zM195.15 272.04h4.7v4.91h-4.7zM234.77 276.65h4.7v4.91h-4.7zM247.97 276.65h4.7v4.91h-4.7zM291.99 276.65h4.7v4.91h-4.7zM173.14 281.25h4.7v4.91h-4.7zM203.96 281.25h4.7v4.91h-4.7zM234.77 281.25h4.7v4.91h-4.7zM243.57 281.25h4.7v4.91h-4.7zM300.79 281.25h4.7v4.91h-4.7zM164.34 285.86h4.7v4.91h-4.7zM173.14 285.86h4.7v4.91h-4.7zM217.16 285.86h4.7v4.91h-4.7zM234.77 285.86h4.7v4.91h-4.7zM256.78 285.86h4.7v4.91h-4.7zM283.19 285.86h4.7v4.91h-4.7zM168.74 290.47h4.7v4.91h-4.7zM208.36 290.47h4.7v4.91h-4.7zM217.16 290.47h4.7v4.91h-4.7zM247.97 290.47h4.7v4.91h-4.7zM283.19 295.07h4.7v4.91h-4.7zM296.39 295.07h4.7v4.91h-4.7zM199.55 299.68h4.7v4.91h-4.7zM225.96 299.68h4.7v4.91h-4.7zM234.77 299.68h4.7v4.91h-4.7zM274.38 299.68h4.7v4.91h-4.7zM173.14 304.29h4.7v4.91h-4.7zM287.59 304.29h4.7v4.91h-4.7zM291.99 304.29h4.7v4.91h-4.7zM129.12 308.89h4.7v4.91h-4.7zM181.95 308.89h4.7v4.91h-4.7zM243.57 308.89h4.7v4.91h-4.7zM287.59 308.89h4.7v4.91h-4.7z"/>
<path fill="#2a3cfc" d="M230.37 239.8h4.7v4.91h-4.7zM208.36 249.01h4.7v4.91h-4.7zM221.56 249.01h4.7v4.91h-4.7zM278.79 249.01h4.7v4.91h-4.7zM283.19 249.01h4.7v4.91h-4.7zM287.59 249.01h4.7v4.91h-4.7zM291.99 249.01h4.7v4.91h-4.7zM252.38 253.61h4.7v4.91h-4.7zM283.19 253.61h4.7v4.91h-4.7zM287.59 253.61h4.7v4.91h-4.7zM186.35 258.22h4.7v4.91h-4.7zM208.36 262.83h4.7v4.91h-4.7zM239.17 262.83h4.7v4.91h-4.7zM296.39 262.83h4.7v4.91h-4.7zM283.19 267.43h4.7v4.91h-4.7zM291.99 267.43h4.7v4.91h-4.7zM217.16 272.04h4.7v4.91h-4.7zM239.17 272.04h4.7v4.91h-4.7zM261.18 272.04h4.7v4.91h-4.7zM300.79 272.04h4.7v4.91h-4.7zM305.2 272.04h4.7v4.91h-4.7zM146.73 276.65h4.7v4.91h-4.7zM186.35 276.65h4.7v4.91h-4.7zM190.75 276.65h4.7v4.91h-4.7zM199.55 276.65h4.7v4.91h-4.7zM261.18 276.65h4.7v4.91h-4.7zM300.79 276.65h4.7v4.91h-4.7zM168.74 281.25h4.7v4.91h-4.7zM195.15 281.25h4.7v4.91h-4.7zM239.17 281.25h4.7v4.91h-4.7zM283.19 281.25h4.7v4.91h-4.7zM278.79 285.86h4.7v4.91h-4.7zM173.14 290.47h4.7v4.91h-4.7zM234.77 290.47h4.7v4.91h-4.7zM283.19 290.47h4.7v4.91h-4.7zM287.59 290.47h4.7v4.91h-4.7zM291.99 290.47h4.7v4.91h-4.7zM305.2 290.47h4.7v4.91h-4.7zM168.74 295.07h4.7v4.91h-4.7zM212.76 295.07h4.7v4.91h-4.7zM217.16 295.07h4.7v4.91h-4.7zM256.78 295.07h4.7v4.91h-4.7zM151.13 299.68h4.7v4.91h-4.7zM159.94 299.68h4.7v4.91h-4.7zM203.96 299.68h4.7v4.91h-4.7zM212.76 299.68h4.7v4.91h-4.7zM283.19 299.68h4.7v4.91h-4.7zM296.39 299.68h4.7v4.91h-4.7zM142.33 304.29h4.7v4.91h-4.7zM146.73 304.29h4.7v4.91h-4.7zM151.13 304.29h4.7v4.91h-4.7zM159.94 304.29h4.7v4.91h-4.7zM164.34 304.29h4.7v4.91h-4.7zM168.74 304.29h4.7v4.91h-4.7zM230.37 304.29h4.7v4.91h-4.7zM243.57 304.29h4.7v4.91h-4.7zM115.92 308.89h4.7v4.91h-4.7zM133.53 308.89h4.7v4.91h-4.7zM146.73 308.89h4.7v4.91h-4.7zM168.74 308.89h4.7v4.91h-4.7zM195.15 308.89h4.7v4.91h-4.7zM230.37 308.89h4.7v4.91h-4.7zM234.77 308.89h4.7v4.91h-4.7zM252.38 308.89h4.7v4.91h-4.7zM256.78 308.89h4.7v4.91h-4.7zM269.98 308.89h4.7v4.91h-4.7zM274.38 308.89h4.7v4.91h-4.7z"/>
<path fill="#2a36ea" d="M239.17 239.8h4.7v4.91h-4.7z"/>
<path fill="#1e30f6" d="M300.79 239.8h4.7v4.91h-4.7zM177.54 249.01h4.7v4.91h-4.7zM195.15 249.01h4.7v4.91h-4.7zM247.97 249.01h4.7v4.91h-4.7zM300.79 249.01h4.7v4.91h-4.7zM186.35 253.61h4.7v4.91h-4.7zM309.6 253.61h4.7v4.91h-4.7zM146.73 258.22h4.7v4.91h-4.7zM265.58 258.22h4.7v4.91h-4.7zM291.99 262.83h4.7v4.91h-4.7zM225.96 267.43h4.7v4.91h-4.7zM265.58 267.43h4.7v4.91h-4.7zM151.13 276.65h4.7v4.91h-4.7zM159.94 281.25h4.7v4.91h-4.7zM164.34 281.25h4.7v4.91h-4.7zM274.38 281.25h4.7v4.91h-4.7zM120.32 290.47h4.7v4.91h-4.7zM186.35 290.47h4.7v4.91h-4.7zM252.38 290.47h4.7v4.91h-4.7zM120.32 295.07h4.7v4.91h-4.7zM177.54 299.68h4.7v4.91h-4.7zM186.35 299.68h4.7v4.91h-4.7zM247.97 299.68h4.7v4.91h-4.7zM252.38 299.68h4.7v4.91h-4.7zM111.52 304.29h4.7v4.91h-4.7zM274.38 304.29h4.7v4.91h-4.7zM212.76 308.89h4.7v4.91h-4.7z"/>
<path fill="#3036f6" d="M305.2 239.8h4.7v4.91h-4.7zM173.14 244.4h4.7v4.91h-4.7zM98.31 299.68h4.7v4.91h-4.7z"/>
<path fill="#182aea" d="M309.6 239.8h4.7v4.91h-4.7z"/>
<path fill="#3618cc" d="M76.3 244.4h4.7v4.91h-4.7z"/>
<path fill="#4224d2" d="M93.91 244.4h4.7v4.91h-4.7z"/>
<path fill="#1e18c6" d="M115.92 244.4h4.7v4.91h-4.7z"/>
<path fill="#3036f0" d="M133.53 244.4h4.7v4.91h-4.7z"/>
<path fill="#2a36f0" d="M177.54 244.4h4.7v4.91h-4.7zM300.79 244.4h4.7v4.91h-4.7zM309.6 244.4h4.7v4.91h-4.7zM221.56 253.61h4.7v4.91h-4.7zM230.37 285.86h4.7v4.91h-4.7z"/>
<path fill="#2a36f6" d="M181.95 244.4h4.7v4.91h-4.7zM203.96 244.4h4.7v4.91h-4.7zM239.17 244.4h4.7v4.91h-4.7zM247.97 244.4h4.7v4.91h-4.7zM261.18 244.4h4.7v4.91h-4.7zM186.35 249.01h4.7v4.91h-4.7zM190.75 249.01h4.7v4.91h-4.7zM137.93 253.61h4.7v4.91h-4.7zM199.55 253.61h4.7v4.91h-4.7zM234.77 253.61h4.7v4.91h-4.7zM243.57 253.61h4.7v4.91h-4.7zM261.18 267.43h4.7v4.91h-4.7zM124.72 272.04h4.7v4.91h-4.7zM208.36 272.04h4.7v4.91h-4.7zM230.37 276.65h4.7v4.91h-4.7zM256.78 276.65h4.7v4.91h-4.7zM124.72 285.86h4.7v4.91h-4.7zM111.52 290.47h4.7v4.91h-4.7zM137.93 290.47h4.7v4.91h-4.7zM269.98 290.47h4.7v4.91h-4.7zM243.57 299.68h4.7v4.91h-4.7zM102.71 304.29h4.7v4.91h-4.7z"/>
<path fill="#2436f6" d="M186.35 244.4h4.7v4.91h-4.7zM243.57 244.4h4.7v4.91h-4.7zM256.78 249.01h4.7v4.91h-4.7zM212.76 253.61h4.7v4.91h-4.7zM247.97 253.61h4.7v4.91h-4.7zM296.39 253.61h4.7v4.91h-4.7zM181.95 258.22h4.7v4.91h-4.7zM212.76 258.22h4.7v4.91h-4.7zM221.56 258.22h4.7v4.91h-4.7zM234.77 258.22h4.7v4.91h-4.7zM247.97 258.22h4.7v4.91h-4.7zM261.18 258.22h4.7v4.91h-4.7zM225.96 262.83h4.7v4.91h-4.7zM234.77 262.83h4.7v4.91h-4.7zM247.97 262.83h4.7v4.91h-4.7zM252.38 262.83h4.7v4.91h-4.7zM199.55 267.43h4.7v4.91h-4.7zM247.97 267.43h4.7v4.91h-4.7zM287.59 267.43h4.7v4.91h-4.7zM203.96 272.04h4.7v4.91h-4.7zM234.77 272.04h4.7v4.91h-4.7zM120.32 276.65h4.7v4.91h-4.7zM208.36 276.65h4.7v4.91h-4.7zM252.38 276.65h4.7v4.91h-4.7zM269.98 276.65h4.7v4.91h-4.7zM155.54 281.25h4.7v4.91h-4.7zM217.16 281.25h4.7v4.91h-4.7zM265.58 281.25h4.7v4.91h-4.7zM287.59 281.25h4.7v4.91h-4.7zM305.2 281.25h4.7v4.91h-4.7zM120.32 285.86h4.7v4.91h-4.7zM305.2 285.86h4.7v4.91h-4.7zM115.92 290.47h4.7v4.91h-4.7zM124.72 290.47h4.7v4.91h-4.7zM142.33 290.47h4.7v4.91h-4.7zM190.75 290.47h4.7v4.91h-4.7zM243.57 290.47h4.7v4.91h-4.7zM256.78 290.47h4.7v4.91h-4.7zM265.58 290.47h4.7v4.91h-4.7zM137.93 295.07h4.7v4.91h-4.7zM177.54 295.07h4.7v4.91h-4.7zM186.35 295.07h4.7v4.91h-4.7zM239.17 295.07h4.7v4.91h-4.7zM243.57 295.07h4.7v4.91h-4.7zM252.38 295.07h4.7v4.91h-4.7zM265.58 295.07h4.7v4.91h-4.7zM309.6 295.07h4.7v4.91h-4.7zM137.93 299.68h4.7v4.91h-4.7zM239.17 299.68h4.7v4.91h-4.7zM305.2 299.68h4.7v4.91h-4.7zM309.6 299.68h4.7v4.91h-4.7zM177.54 304.29h4.7v4.91h-4.7zM208.36 304.29h4.7v4.91h-4.7zM283.19 304.29h4.7v4.91h-4.7zM111.52 308.89h4.7v4.91h-4.7zM208.36 308.89h4.7v4.91h-4.7zM300.79 308.89h4.7v4.91h-4.7zM305.2 308.89h4.7v4.91h-4.7z"/>
<path fill="#1830f6" d="M256.78 244.4h4.7v4.91h-4.7zM181.95 249.01h4.7v4.91h-4.7z"/>
<path fill="#242ae4" d="M129.12 249.01h4.7v4.91h-4.7zM133.53 249.01h4.7v4.91h-4.7z"/>
<path fill="#1830fc" d="M252.38 249.01h4.7v4.91h-4.7zM305.2 253.61h4.7v4.91h-4.7zM230.37 258.22h4.7v4.91h-4.7zM283.19 262.83h4.7v4.91h-4.7zM146.73 281.25h4.7v4.91h-4.7zM133.53 295.07h4.7v4.91h-4.7z"/>
<path fill="#2436f0" d="M261.18 249.01h4.7v4.91h-4.7zM265.58 249.01h4.7v4.91h-4.7zM190.75 253.61h4.7v4.91h-4.7zM261.18 253.61h4.7v4.91h-4.7zM208.36 258.22h4.7v4.91h-4.7zM230.37 262.83h4.7v4.91h-4.7zM261.18 262.83h4.7v4.91h-4.7zM265.58 262.83h4.7v4.91h-4.7zM287.59 262.83h4.7v4.91h-4.7zM203.96 267.43h4.7v4.91h-4.7zM225.96 276.65h4.7v4.91h-4.7zM269.98 281.25h4.7v4.91h-4.7zM225.96 285.86h4.7v4.91h-4.7zM124.72 295.07h4.7v4.91h-4.7zM181.95 295.07h4.7v4.91h-4.7zM190.75 295.07h4.7v4.91h-4.7zM181.95 299.68h4.7v4.91h-4.7z"/>
<path fill="#3042fc" d="M274.38 249.01h4.7v4.91h-4.7z"/>
<path fill="#303cf6" d="M309.6 249.01h4.7v4.91h-4.7z"/>
<path fill="#3c2ade" d="M98.31 253.61h4.7v4.91h-4.7z"/>
<path fill="#2430e4" d="M129.12 253.61h4.7v4.91h-4.7z"/>
<path fill="#1e30ea" d="M195.15 253.61h4.7v4.91h-4.7z"/>
<path fill="#422aea" d="M67.5 258.22h4.7v4.91h-4.7zM89.51 281.25h4.7v4.91h-4.7z"/>
<path fill="#1e2ade" d="M120.32 267.43h4.7v4.91h-4.7z"/>
<path fill="#1830f0" d="M234.77 267.43h4.7v4.91h-4.7z"/>
<path fill="#482af0" d="M67.5 272.04h4.7v4.91h-4.7zM71.9 285.86h4.7v4.91h-4.7z"/>
<path fill="#1e36f6" d="M199.55 272.04h4.7v4.91h-4.7z"/>
<path fill="#2436e4" d="M230.37 272.04h4.7v4.91h-4.7z"/>
<path fill="#243cfc" d="M173.14 276.65h4.7v4.91h-4.7zM195.15 276.65h4.7v4.91h-4.7zM199.55 281.25h4.7v4.91h-4.7zM203.96 285.86h4.7v4.91h-4.7zM155.54 290.47h4.7v4.91h-4.7zM164.34 290.47h4.7v4.91h-4.7zM287.59 295.07h4.7v4.91h-4.7zM221.56 304.29h4.7v4.91h-4.7zM225.96 304.29h4.7v4.91h-4.7zM186.35 308.89h4.7v4.91h-4.7zM221.56 308.89h4.7v4.91h-4.7z"/>
<path fill="#2436ea" d="M221.56 276.65h4.7v4.91h-4.7z"/>
<path fill="#3636ea" d="M93.91 308.89h4.7v4.91h-4.7z"/>
<path fill="#1e30e4" d="M107.12 308.89h4.7v4.91h-4.7z"/></g>
<g shape-rendering="crispEdges"><path fill="#4218cc" d="M394.5 32.5h4.7v4.91h-4.7zM552.96 92.39h4.7v4.91h-4.7zM473.73 193.73h4.7v4.91h-4.7zM438.52 212.16h4.7v4.91h-4.7z"/>
<path fill="#3c12c0" d="M398.9 32.5h4.7v4.91h-4.7zM412.11 78.57h4.7v4.91h-4.7zM557.37 92.39h4.7v4.91h-4.7z"/>
<path fill="#3c12c6" d="M403.3 32.5h4.7v4.91h-4.7z"/>
<path fill="#5a1ed2" d="M407.71 32.5h4.7v4.91h-4.7z"/>
<path fill="#4812d2" d="M412.11 32.5h4.7v4.91h-4.7z"/>
<path fill="#300cba" d="M416.51 32.5h4.7v4.91h-4.7z"/>
<path fill="#3c12a2" d="M420.91 32.5h4.7v4.91h-4.7z"/>
<path fill="#4212b4" d="M425.31 32.5h4.7v4.91h-4.7zM583.78 87.78h4.7v4.91h-4.7zM632.2 253.61h4.7v4.91h-4.7z"/>
<path fill="#4e18c0" d="M429.71 32.5h4.7v4.91h-4.7zM451.72 46.32h4.7v4.91h-4.7zM420.91 175.3h4.7v4.91h-4.7z"/>
<path fill="#3c0cc6" d="M434.12 32.5h4.7v4.91h-4.7z"/>
<path fill="#4e18d8" d="M438.52 32.5h4.7v4.91h-4.7zM464.93 179.91h4.7v4.91h-4.7z"/>
<path fill="#541ef0" d="M442.92 32.5h4.7v4.91h-4.7zM570.57 78.57h4.7v4.91h-4.7zM398.9 184.52h4.7v4.91h-4.7zM398.9 198.34h4.7v4.91h-4.7zM403.3 198.34h4.7v4.91h-4.7zM425.31 207.55h4.7v4.91h-4.7zM398.9 212.16h4.7v4.91h-4.7z"/>
<path fill="#541eea" d="M447.32 32.5h4.7v4.91h-4.7zM425.31 170.7h4.7v4.91h-4.7zM398.9 216.76h4.7v4.91h-4.7zM403.3 272.04h4.7v4.91h-4.7z"/>
<path fill="#541efc" d="M451.72 32.5h4.7v4.91h-4.7zM456.12 73.96h4.7v4.91h-4.7zM398.9 87.78h4.7v4.91h-4.7zM425.31 96.99h4.7v4.91h-4.7zM434.12 166.09h4.7v4.91h-4.7z"/>
<path fill="#5424fc" d="M456.12 32.5h4.7v4.91h-4.7zM579.38 78.57h4.7v4.91h-4.7zM464.93 87.78h4.7v4.91h-4.7zM469.33 87.78h4.7v4.91h-4.7zM394.5 92.39h4.7v4.91h-4.7zM456.12 92.39h4.7v4.91h-4.7zM398.9 96.99h4.7v4.91h-4.7zM403.3 101.6h4.7v4.91h-4.7zM438.52 101.6h4.7v4.91h-4.7zM403.3 110.81h4.7v4.91h-4.7zM434.12 161.48h4.7v4.91h-4.7zM447.32 161.48h4.7v4.91h-4.7zM394.5 202.94h4.7v4.91h-4.7zM394.5 272.04h4.7v4.91h-4.7zM398.9 276.65h4.7v4.91h-4.7z"/>
<path fill="#481efc" d="M460.53 32.5h4.7v4.91h-4.7zM574.97 78.57h4.7v4.91h-4.7zM394.5 96.99h4.7v4.91h-4.7zM403.3 96.99h4.7v4.91h-4.7zM394.5 101.6h4.7v4.91h-4.7zM442.92 101.6h4.7v4.91h-4.7zM398.9 106.2h4.7v4.91h-4.7zM403.3 106.2h4.7v4.91h-4.7zM438.52 161.48h4.7v4.91h-4.7zM394.5 189.12h4.7v4.91h-4.7z"/>
<path fill="#3c18f6" d="M464.93 32.5h4.7v4.91h-4.7zM486.94 41.71h4.7v4.91h-4.7zM491.34 60.14h4.7v4.91h-4.7zM486.94 64.75h4.7v4.91h-4.7z"/>
<path fill="#481ed8" d="M469.33 32.5h4.7v4.91h-4.7zM561.77 87.78h4.7v4.91h-4.7zM478.13 193.73h4.7v4.91h-4.7zM482.54 193.73h4.7v4.91h-4.7zM434.12 212.16h4.7v4.91h-4.7z"/>
<path fill="#4824e4" d="M473.73 32.5h4.7v4.91h-4.7zM596.98 73.96h4.7v4.91h-4.7zM482.54 92.39h4.7v4.91h-4.7zM425.31 115.42h4.7v4.91h-4.7zM425.31 120.02h4.7v4.91h-4.7zM412.11 249.01h4.7v4.91h-4.7z"/>
<path fill="#3c1efc" d="M478.13 32.5h4.7v4.91h-4.7zM486.94 32.5h4.7v4.91h-4.7zM491.34 37.11h4.7v4.91h-4.7zM508.95 37.11h4.7v4.91h-4.7zM495.74 46.32h4.7v4.91h-4.7zM618.99 50.93h4.7v4.91h-4.7zM500.14 55.53h4.7v4.91h-4.7zM491.34 64.75h4.7v4.91h-4.7zM491.34 69.35h4.7v4.91h-4.7zM539.76 69.35h4.7v4.91h-4.7zM548.56 69.35h4.7v4.91h-4.7zM544.16 73.96h4.7v4.91h-4.7zM530.96 78.57h4.7v4.91h-4.7zM482.54 83.17h4.7v4.91h-4.7zM495.74 83.17h4.7v4.91h-4.7zM500.14 83.17h4.7v4.91h-4.7zM504.54 92.39h4.7v4.91h-4.7zM398.9 115.42h4.7v4.91h-4.7zM416.51 138.45h4.7v4.91h-4.7zM425.31 138.45h4.7v4.91h-4.7zM416.51 143.06h4.7v4.91h-4.7zM438.52 152.27h4.7v4.91h-4.7zM478.13 170.7h4.7v4.91h-4.7z"/>
<path fill="#3618fc" d="M482.54 32.5h4.7v4.91h-4.7zM601.38 64.75h4.7v4.91h-4.7z"/>
<path fill="#3018fc" d="M491.34 32.5h4.7v4.91h-4.7zM495.74 41.71h4.7v4.91h-4.7zM508.95 78.57h4.7v4.91h-4.7zM508.95 83.17h4.7v4.91h-4.7zM398.9 166.09h4.7v4.91h-4.7z"/>
<path fill="#361efc" d="M495.74 32.5h4.7v4.91h-4.7zM513.35 32.5h4.7v4.91h-4.7zM504.54 37.11h4.7v4.91h-4.7zM601.38 37.11h4.7v4.91h-4.7zM513.35 41.71h4.7v4.91h-4.7zM614.59 41.71h4.7v4.91h-4.7zM513.35 46.32h4.7v4.91h-4.7zM592.58 46.32h4.7v4.91h-4.7zM614.59 46.32h4.7v4.91h-4.7zM618.99 46.32h4.7v4.91h-4.7zM610.19 50.93h4.7v4.91h-4.7zM495.74 55.53h4.7v4.91h-4.7zM530.96 55.53h4.7v4.91h-4.7zM627.79 55.53h4.7v4.91h-4.7zM636.6 55.53h4.7v4.91h-4.7zM500.14 60.14h4.7v4.91h-4.7zM513.35 60.14h4.7v4.91h-4.7zM570.57 60.14h4.7v4.91h-4.7zM522.15 64.75h4.7v4.91h-4.7zM530.96 64.75h4.7v4.91h-4.7zM522.15 73.96h4.7v4.91h-4.7zM579.38 73.96h4.7v4.91h-4.7zM526.55 78.57h4.7v4.91h-4.7zM495.74 87.78h4.7v4.91h-4.7zM500.14 87.78h4.7v4.91h-4.7zM394.5 138.45h4.7v4.91h-4.7zM412.11 143.06h4.7v4.91h-4.7zM429.71 143.06h4.7v4.91h-4.7zM394.5 147.66h4.7v4.91h-4.7zM398.9 147.66h4.7v4.91h-4.7zM429.71 147.66h4.7v4.91h-4.7z"/>
<path fill="#4224fc" d="M500.14 32.5h4.7v4.91h-4.7zM508.95 32.5h4.7v4.91h-4.7zM548.56 32.5h4.7v4.91h-4.7zM500.14 37.11h4.7v4.91h-4.7zM552.96 37.11h4.7v4.91h-4.7zM500.14 41.71h4.7v4.91h-4.7zM504.54 41.71h4.7v4.91h-4.7zM610.19 41.71h4.7v4.91h-4.7zM610.19 46.32h4.7v4.91h-4.7zM623.39 46.32h4.7v4.91h-4.7zM504.54 50.93h4.7v4.91h-4.7zM522.15 55.53h4.7v4.91h-4.7zM623.39 55.53h4.7v4.91h-4.7zM632.2 55.53h4.7v4.91h-4.7zM539.76 60.14h4.7v4.91h-4.7zM574.97 60.14h4.7v4.91h-4.7zM632.2 60.14h4.7v4.91h-4.7zM517.75 64.75h4.7v4.91h-4.7zM539.76 64.75h4.7v4.91h-4.7zM570.57 64.75h4.7v4.91h-4.7zM526.55 69.35h4.7v4.91h-4.7zM544.16 69.35h4.7v4.91h-4.7zM495.74 92.39h4.7v4.91h-4.7zM478.13 96.99h4.7v4.91h-4.7zM442.92 110.81h4.7v4.91h-4.7zM438.52 120.02h4.7v4.91h-4.7zM416.51 124.63h4.7v4.91h-4.7zM416.51 129.24h4.7v4.91h-4.7zM403.3 133.84h4.7v4.91h-4.7zM425.31 133.84h4.7v4.91h-4.7zM398.9 138.45h4.7v4.91h-4.7zM407.71 143.06h4.7v4.91h-4.7zM425.31 143.06h4.7v4.91h-4.7zM407.71 147.66h4.7v4.91h-4.7zM412.11 147.66h4.7v4.91h-4.7zM407.71 152.27h4.7v4.91h-4.7zM416.51 152.27h4.7v4.91h-4.7zM434.12 152.27h4.7v4.91h-4.7zM442.92 152.27h4.7v4.91h-4.7zM451.72 161.48h4.7v4.91h-4.7z"/>
<path fill="#4224f6" d="M504.54 32.5h4.7v4.91h-4.7zM544.16 32.5h4.7v4.91h-4.7zM618.99 37.11h4.7v4.91h-4.7zM583.78 73.96h4.7v4.91h-4.7zM513.35 87.78h4.7v4.91h-4.7zM429.71 115.42h4.7v4.91h-4.7zM403.3 147.66h4.7v4.91h-4.7zM420.91 147.66h4.7v4.91h-4.7zM394.5 161.48h4.7v4.91h-4.7z"/>
<path fill="#2a1ef0" d="M517.75 32.5h4.7v4.91h-4.7zM636.6 32.5h4.7v4.91h-4.7zM539.76 37.11h4.7v4.91h-4.7zM552.96 46.32h4.7v4.91h-4.7z"/>
<path fill="#3c24de" d="M522.15 32.5h4.7v4.91h-4.7z"/>
<path fill="#2a1efc" d="M526.55 32.5h4.7v4.91h-4.7zM588.18 32.5h4.7v4.91h-4.7zM544.16 37.11h4.7v4.91h-4.7zM596.98 37.11h4.7v4.91h-4.7zM561.77 41.71h4.7v4.91h-4.7zM557.37 50.93h4.7v4.91h-4.7z"/>
<path fill="#482afc" d="M530.96 32.5h4.7v4.91h-4.7zM570.57 32.5h4.7v4.91h-4.7zM592.58 32.5h4.7v4.91h-4.7zM561.77 37.11h4.7v4.91h-4.7zM522.15 41.71h4.7v4.91h-4.7zM574.97 41.71h4.7v4.91h-4.7zM544.16 64.75h4.7v4.91h-4.7zM566.17 64.75h4.7v4.91h-4.7zM517.75 73.96h4.7v4.91h-4.7zM473.73 96.99h4.7v4.91h-4.7zM478.13 101.6h4.7v4.91h-4.7zM469.33 106.2h4.7v4.91h-4.7zM442.92 120.02h4.7v4.91h-4.7zM434.12 133.84h4.7v4.91h-4.7zM442.92 133.84h4.7v4.91h-4.7zM429.71 138.45h4.7v4.91h-4.7zM434.12 138.45h4.7v4.91h-4.7zM438.52 143.06h4.7v4.91h-4.7zM464.93 161.48h4.7v4.91h-4.7zM416.51 253.61h4.7v4.91h-4.7zM416.51 258.22h4.7v4.91h-4.7zM412.11 276.65h4.7v4.91h-4.7zM407.71 281.25h4.7v4.91h-4.7zM398.9 290.47h4.7v4.91h-4.7z"/>
<path fill="#3624d8" d="M535.36 32.5h4.7v4.91h-4.7z"/>
<path fill="#1e12de" d="M539.76 32.5h4.7v4.91h-4.7z"/>
<path fill="#422afc" d="M552.96 32.5h4.7v4.91h-4.7zM592.58 37.11h4.7v4.91h-4.7zM517.75 41.71h4.7v4.91h-4.7zM557.37 46.32h4.7v4.91h-4.7zM535.36 60.14h4.7v4.91h-4.7zM438.52 138.45h4.7v4.91h-4.7zM478.13 156.88h4.7v4.91h-4.7zM420.91 230.58h4.7v4.91h-4.7zM412.11 281.25h4.7v4.91h-4.7zM407.71 285.86h4.7v4.91h-4.7z"/>
<path fill="#4e30fc" d="M557.37 32.5h4.7v4.91h-4.7zM579.38 64.75h4.7v4.91h-4.7zM460.53 101.6h4.7v4.91h-4.7zM464.93 106.2h4.7v4.91h-4.7zM473.73 106.2h4.7v4.91h-4.7zM473.73 110.81h4.7v4.91h-4.7zM442.92 129.24h4.7v4.91h-4.7zM438.52 133.84h4.7v4.91h-4.7z"/>
<path fill="#3c24fc" d="M561.77 32.5h4.7v4.91h-4.7zM566.17 32.5h4.7v4.91h-4.7zM583.78 32.5h4.7v4.91h-4.7zM522.15 37.11h4.7v4.91h-4.7zM570.57 37.11h4.7v4.91h-4.7zM614.59 37.11h4.7v4.91h-4.7zM557.37 41.71h4.7v4.91h-4.7zM583.78 41.71h4.7v4.91h-4.7zM596.98 41.71h4.7v4.91h-4.7zM601.38 41.71h4.7v4.91h-4.7zM605.79 41.71h4.7v4.91h-4.7zM618.99 41.71h4.7v4.91h-4.7zM517.75 46.32h4.7v4.91h-4.7zM561.77 46.32h4.7v4.91h-4.7zM574.97 46.32h4.7v4.91h-4.7zM579.38 46.32h4.7v4.91h-4.7zM517.75 50.93h4.7v4.91h-4.7zM522.15 50.93h4.7v4.91h-4.7zM526.55 50.93h4.7v4.91h-4.7zM566.17 50.93h4.7v4.91h-4.7zM579.38 50.93h4.7v4.91h-4.7zM623.39 50.93h4.7v4.91h-4.7zM513.35 55.53h4.7v4.91h-4.7zM517.75 55.53h4.7v4.91h-4.7zM535.36 55.53h4.7v4.91h-4.7zM526.55 60.14h4.7v4.91h-4.7zM530.96 60.14h4.7v4.91h-4.7zM526.55 64.75h4.7v4.91h-4.7zM513.35 69.35h4.7v4.91h-4.7zM517.75 69.35h4.7v4.91h-4.7zM522.15 69.35h4.7v4.91h-4.7zM535.36 69.35h4.7v4.91h-4.7zM513.35 73.96h4.7v4.91h-4.7zM522.15 78.57h4.7v4.91h-4.7zM447.32 115.42h4.7v4.91h-4.7zM407.71 133.84h4.7v4.91h-4.7zM394.5 143.06h4.7v4.91h-4.7zM398.9 143.06h4.7v4.91h-4.7zM416.51 147.66h4.7v4.91h-4.7zM442.92 147.66h4.7v4.91h-4.7z"/>
<path fill="#422af6" d="M574.97 32.5h4.7v4.91h-4.7zM451.72 110.81h4.7v4.91h-4.7zM447.32 152.27h4.7v4.91h-4.7zM416.51 249.01h4.7v4.91h-4.7z"/>
<path fill="#2a18f6" d="M579.38 32.5h4.7v4.91h-4.7zM566.17 55.53h4.7v4.91h-4.7zM522.15 60.14h4.7v4.91h-4.7zM583.78 60.14h4.7v4.91h-4.7z"/>
<path fill="#3624fc" d="M596.98 32.5h4.7v4.91h-4.7zM548.56 37.11h4.7v4.91h-4.7zM557.37 37.11h4.7v4.91h-4.7zM583.78 37.11h4.7v4.91h-4.7zM526.55 41.71h4.7v4.91h-4.7zM566.17 41.71h4.7v4.91h-4.7zM570.57 41.71h4.7v4.91h-4.7zM588.18 41.71h4.7v4.91h-4.7zM592.58 41.71h4.7v4.91h-4.7zM526.55 46.32h4.7v4.91h-4.7zM570.57 46.32h4.7v4.91h-4.7zM530.96 50.93h4.7v4.91h-4.7zM561.77 50.93h4.7v4.91h-4.7zM632.2 50.93h4.7v4.91h-4.7zM526.55 55.53h4.7v4.91h-4.7zM552.96 55.53h4.7v4.91h-4.7zM579.38 60.14h4.7v4.91h-4.7zM574.97 64.75h4.7v4.91h-4.7zM473.73 101.6h4.7v4.91h-4.7z"/>
<path fill="#301efc" d="M601.38 32.5h4.7v4.91h-4.7zM526.55 37.11h4.7v4.91h-4.7zM566.17 37.11h4.7v4.91h-4.7zM574.97 37.11h4.7v4.91h-4.7zM579.38 37.11h4.7v4.91h-4.7zM588.18 37.11h4.7v4.91h-4.7zM636.6 37.11h4.7v4.91h-4.7zM623.39 41.71h4.7v4.91h-4.7zM596.98 46.32h4.7v4.91h-4.7zM535.36 50.93h4.7v4.91h-4.7zM570.57 50.93h4.7v4.91h-4.7zM574.97 50.93h4.7v4.91h-4.7zM636.6 50.93h4.7v4.91h-4.7zM570.57 55.53h4.7v4.91h-4.7zM574.97 55.53h4.7v4.91h-4.7zM579.38 55.53h4.7v4.91h-4.7zM508.95 87.78h4.7v4.91h-4.7zM500.14 92.39h4.7v4.91h-4.7zM394.5 156.88h4.7v4.91h-4.7z"/>
<path fill="#301ef0" d="M605.79 32.5h4.7v4.91h-4.7zM535.36 37.11h4.7v4.91h-4.7zM539.76 41.71h4.7v4.91h-4.7zM530.96 46.32h4.7v4.91h-4.7zM583.78 46.32h4.7v4.91h-4.7zM588.18 46.32h4.7v4.91h-4.7zM574.97 69.35h4.7v4.91h-4.7z"/>
<path fill="#3624f6" d="M610.19 32.5h4.7v4.91h-4.7z"/>
<path fill="#1e12e4" d="M614.59 32.5h4.7v4.91h-4.7z"/>
<path fill="#2a18d2" d="M618.99 32.5h4.7v4.91h-4.7zM504.54 69.35h4.7v4.91h-4.7zM491.34 198.34h4.7v4.91h-4.7zM460.53 216.76h4.7v4.91h-4.7z"/>
<path fill="#2a12c0" d="M623.39 32.5h4.7v4.91h-4.7z"/>
<path fill="#1e12b4" d="M627.79 32.5h4.7v4.91h-4.7zM500.14 198.34h4.7v4.91h-4.7z"/>
<path fill="#1e12c0" d="M632.2 32.5h4.7v4.91h-4.7zM486.94 170.7h4.7v4.91h-4.7z"/>
<path fill="#3c12ba" d="M394.5 37.11h4.7v4.91h-4.7z"/>
<path fill="#360cb4" d="M398.9 37.11h4.7v4.91h-4.7zM464.93 202.94h4.7v4.91h-4.7z"/>
<path fill="#4e18c6" d="M403.3 37.11h4.7v4.91h-4.7zM447.32 170.7h4.7v4.91h-4.7zM469.33 193.73h4.7v4.91h-4.7zM416.51 198.34h4.7v4.91h-4.7zM447.32 207.55h4.7v4.91h-4.7z"/>
<path fill="#5a18cc" d="M407.71 37.11h4.7v4.91h-4.7zM407.71 69.35h4.7v4.91h-4.7z"/>
<path fill="#4e12cc" d="M412.11 37.11h4.7v4.91h-4.7z"/>
<path fill="#4212a2" d="M416.51 37.11h4.7v4.91h-4.7z"/>
<path fill="#3c0c84" d="M420.91 37.11h4.7v4.91h-4.7zM429.71 46.32h4.7v4.91h-4.7z"/>
<path fill="#3c0c96" d="M425.31 37.11h4.7v4.91h-4.7z"/>
<path fill="#4212a8" d="M429.71 37.11h4.7v4.91h-4.7z"/>
<path fill="#360cae" d="M434.12 37.11h4.7v4.91h-4.7z"/>
<path fill="#3c0ca8" d="M438.52 37.11h4.7v4.91h-4.7zM398.9 41.71h4.7v4.91h-4.7zM442.92 41.71h4.7v4.91h-4.7zM548.56 96.99h4.7v4.91h-4.7z"/>
<path fill="#4212ba" d="M442.92 37.11h4.7v4.91h-4.7zM623.39 78.57h4.7v4.91h-4.7z"/>
<path fill="#541ed2" d="M447.32 37.11h4.7v4.91h-4.7z"/>
<path fill="#4818e4" d="M451.72 37.11h4.7v4.91h-4.7zM447.32 83.17h4.7v4.91h-4.7zM429.71 87.78h4.7v4.91h-4.7zM403.3 216.76h4.7v4.91h-4.7zM398.9 221.37h4.7v4.91h-4.7z"/>
<path fill="#3012d2" d="M456.12 37.11h4.7v4.91h-4.7zM469.33 37.11h4.7v4.91h-4.7zM544.16 92.39h4.7v4.91h-4.7zM456.12 212.16h4.7v4.91h-4.7z"/>
<path fill="#481ee4" d="M460.53 37.11h4.7v4.91h-4.7zM473.73 50.93h4.7v4.91h-4.7zM566.17 87.78h4.7v4.91h-4.7zM442.92 92.39h4.7v4.91h-4.7zM456.12 166.09h4.7v4.91h-4.7zM394.5 193.73h4.7v4.91h-4.7z"/>
<path fill="#3618de" d="M464.93 37.11h4.7v4.91h-4.7zM478.13 37.11h4.7v4.91h-4.7zM486.94 50.93h4.7v4.91h-4.7zM596.98 78.57h4.7v4.91h-4.7zM425.31 106.2h4.7v4.91h-4.7zM486.94 189.12h4.7v4.91h-4.7z"/>
<path fill="#3618d8" d="M473.73 37.11h4.7v4.91h-4.7zM614.59 64.75h4.7v4.91h-4.7zM416.51 161.48h4.7v4.91h-4.7zM394.5 170.7h4.7v4.91h-4.7zM482.54 189.12h4.7v4.91h-4.7z"/>
<path fill="#421ede" d="M482.54 37.11h4.7v4.91h-4.7zM482.54 73.96h4.7v4.91h-4.7zM632.2 73.96h4.7v4.91h-4.7zM398.9 170.7h4.7v4.91h-4.7z"/>
<path fill="#3618f0" d="M486.94 37.11h4.7v4.91h-4.7zM491.34 46.32h4.7v4.91h-4.7z"/>
<path fill="#4824fc" d="M495.74 37.11h4.7v4.91h-4.7zM504.54 46.32h4.7v4.91h-4.7zM601.38 46.32h4.7v4.91h-4.7zM508.95 50.93h4.7v4.91h-4.7zM614.59 50.93h4.7v4.91h-4.7zM504.54 55.53h4.7v4.91h-4.7zM508.95 55.53h4.7v4.91h-4.7zM495.74 64.75h4.7v4.91h-4.7zM566.17 69.35h4.7v4.91h-4.7zM526.55 73.96h4.7v4.91h-4.7zM535.36 78.57h4.7v4.91h-4.7zM539.76 83.17h4.7v4.91h-4.7zM460.53 87.78h4.7v4.91h-4.7zM442.92 106.2h4.7v4.91h-4.7zM398.9 110.81h4.7v4.91h-4.7zM407.71 115.42h4.7v4.91h-4.7zM434.12 115.42h4.7v4.91h-4.7zM438.52 115.42h4.7v4.91h-4.7zM403.3 120.02h4.7v4.91h-4.7zM407.71 120.02h4.7v4.91h-4.7zM416.51 120.02h4.7v4.91h-4.7zM407.71 124.63h4.7v4.91h-4.7zM412.11 129.24h4.7v4.91h-4.7zM412.11 133.84h4.7v4.91h-4.7zM416.51 133.84h4.7v4.91h-4.7zM429.71 133.84h4.7v4.91h-4.7zM412.11 138.45h4.7v4.91h-4.7zM403.3 143.06h4.7v4.91h-4.7zM412.11 152.27h4.7v4.91h-4.7zM420.91 152.27h4.7v4.91h-4.7zM429.71 152.27h4.7v4.91h-4.7zM434.12 156.88h4.7v4.91h-4.7zM438.52 156.88h4.7v4.91h-4.7z"/>
<path fill="#2418fc" d="M513.35 37.11h4.7v4.91h-4.7zM508.95 46.32h4.7v4.91h-4.7zM557.37 55.53h4.7v4.91h-4.7z"/>
<path fill="#4e2afc" d="M517.75 37.11h4.7v4.91h-4.7zM495.74 50.93h4.7v4.91h-4.7zM513.35 50.93h4.7v4.91h-4.7zM535.36 64.75h4.7v4.91h-4.7zM504.54 87.78h4.7v4.91h-4.7zM447.32 106.2h4.7v4.91h-4.7zM442.92 115.42h4.7v4.91h-4.7zM434.12 129.24h4.7v4.91h-4.7zM438.52 129.24h4.7v4.91h-4.7zM407.71 138.45h4.7v4.91h-4.7zM460.53 161.48h4.7v4.91h-4.7zM394.5 281.25h4.7v4.91h-4.7zM398.9 285.86h4.7v4.91h-4.7zM403.3 285.86h4.7v4.91h-4.7z"/>
<path fill="#3c24f6" d="M530.96 37.11h4.7v4.91h-4.7zM552.96 41.71h4.7v4.91h-4.7zM627.79 41.71h4.7v4.91h-4.7zM627.79 50.93h4.7v4.91h-4.7zM636.6 60.14h4.7v4.91h-4.7zM522.15 83.17h4.7v4.91h-4.7zM394.5 133.84h4.7v4.91h-4.7zM438.52 147.66h4.7v4.91h-4.7zM394.5 152.27h4.7v4.91h-4.7zM478.13 161.48h4.7v4.91h-4.7z"/>
<path fill="#4224ea" d="M605.79 37.11h4.7v4.91h-4.7zM486.94 92.39h4.7v4.91h-4.7zM456.12 156.88h4.7v4.91h-4.7zM482.54 170.7h4.7v4.91h-4.7zM416.51 239.8h4.7v4.91h-4.7z"/>
<path fill="#2418f0" d="M610.19 37.11h4.7v4.91h-4.7z"/>
<path fill="#2a18ea" d="M623.39 37.11h4.7v4.91h-4.7zM500.14 46.32h4.7v4.91h-4.7zM425.31 147.66h4.7v4.91h-4.7z"/>
<path fill="#301ee4" d="M627.79 37.11h4.7v4.91h-4.7zM636.6 41.71h4.7v4.91h-4.7zM632.2 46.32h4.7v4.91h-4.7zM544.16 55.53h4.7v4.91h-4.7zM557.37 64.75h4.7v4.91h-4.7zM491.34 207.55h4.7v4.91h-4.7z"/>
<path fill="#361ef0" d="M632.2 37.11h4.7v4.91h-4.7zM544.16 41.71h4.7v4.91h-4.7zM539.76 50.93h4.7v4.91h-4.7zM592.58 50.93h4.7v4.91h-4.7zM513.35 78.57h4.7v4.91h-4.7zM526.55 83.17h4.7v4.91h-4.7zM495.74 96.99h4.7v4.91h-4.7zM420.91 129.24h4.7v4.91h-4.7zM442.92 156.88h4.7v4.91h-4.7zM442.92 216.76h4.7v4.91h-4.7z"/>
<path fill="#4812b4" d="M394.5 41.71h4.7v4.91h-4.7zM403.3 64.75h4.7v4.91h-4.7zM632.2 78.57h4.7v4.91h-4.7z"/>
<path fill="#5418c0" d="M403.3 41.71h4.7v4.91h-4.7zM451.72 50.93h4.7v4.91h-4.7zM394.5 64.75h4.7v4.91h-4.7zM403.3 69.35h4.7v4.91h-4.7z"/>
<path fill="#4e12c0" d="M407.71 41.71h4.7v4.91h-4.7z"/>
<path fill="#5a12c6" d="M412.11 41.71h4.7v4.91h-4.7z"/>
<path fill="#480ca2" d="M416.51 41.71h4.7v4.91h-4.7zM442.92 179.91h4.7v4.91h-4.7z"/>
<path fill="#3c0c7e" d="M420.91 41.71h4.7v4.91h-4.7z"/>
<path fill="#360c84" d="M425.31 41.71h4.7v4.91h-4.7zM429.71 41.71h4.7v4.91h-4.7zM557.37 96.99h4.7v4.91h-4.7z"/>
<path fill="#360c8a" d="M434.12 41.71h4.7v4.91h-4.7z"/>
<path fill="#2a068a" d="M438.52 41.71h4.7v4.91h-4.7z"/>
<path fill="#4812ba" d="M447.32 41.71h4.7v4.91h-4.7zM398.9 69.35h4.7v4.91h-4.7zM420.91 179.91h4.7v4.91h-4.7z"/>
<path fill="#4212cc" d="M451.72 41.71h4.7v4.91h-4.7zM394.5 73.96h4.7v4.91h-4.7z"/>
<path fill="#300ccc" d="M456.12 41.71h4.7v4.91h-4.7z"/>
<path fill="#3c18ea" d="M460.53 41.71h4.7v4.91h-4.7zM570.57 73.96h4.7v4.91h-4.7z"/>
<path fill="#3618e4" d="M464.93 41.71h4.7v4.91h-4.7z"/>
<path fill="#4218e4" d="M469.33 41.71h4.7v4.91h-4.7zM478.13 69.35h4.7v4.91h-4.7zM412.11 170.7h4.7v4.91h-4.7zM394.5 198.34h4.7v4.91h-4.7z"/>
<path fill="#4e24d8" d="M473.73 41.71h4.7v4.91h-4.7z"/>
<path fill="#3018cc" d="M478.13 41.71h4.7v4.91h-4.7zM618.99 69.35h4.7v4.91h-4.7zM605.79 73.96h4.7v4.91h-4.7zM491.34 87.78h4.7v4.91h-4.7z"/>
<path fill="#421ed2" d="M482.54 41.71h4.7v4.91h-4.7zM500.14 101.6h4.7v4.91h-4.7zM412.11 106.2h4.7v4.91h-4.7z"/>
<path fill="#421ef0" d="M491.34 41.71h4.7v4.91h-4.7zM504.54 60.14h4.7v4.91h-4.7zM623.39 60.14h4.7v4.91h-4.7zM486.94 69.35h4.7v4.91h-4.7zM491.34 73.96h4.7v4.91h-4.7zM583.78 78.57h4.7v4.91h-4.7zM412.11 110.81h4.7v4.91h-4.7zM407.71 161.48h4.7v4.91h-4.7zM482.54 175.3h4.7v4.91h-4.7z"/>
<path fill="#482af0" d="M508.95 41.71h4.7v4.91h-4.7zM486.94 101.6h4.7v4.91h-4.7zM456.12 106.2h4.7v4.91h-4.7zM412.11 267.43h4.7v4.91h-4.7z"/>
<path fill="#301ef6" d="M530.96 41.71h4.7v4.91h-4.7zM548.56 41.71h4.7v4.91h-4.7zM522.15 46.32h4.7v4.91h-4.7zM548.56 60.14h4.7v4.91h-4.7zM552.96 60.14h4.7v4.91h-4.7zM583.78 64.75h4.7v4.91h-4.7z"/>
<path fill="#301eea" d="M535.36 41.71h4.7v4.91h-4.7zM539.76 55.53h4.7v4.91h-4.7z"/>
<path fill="#1e18fc" d="M579.38 41.71h4.7v4.91h-4.7z"/>
<path fill="#361eea" d="M632.2 41.71h4.7v4.91h-4.7zM583.78 50.93h4.7v4.91h-4.7zM500.14 69.35h4.7v4.91h-4.7zM517.75 83.17h4.7v4.91h-4.7zM504.54 96.99h4.7v4.91h-4.7zM407.71 129.24h4.7v4.91h-4.7zM403.3 152.27h4.7v4.91h-4.7zM425.31 152.27h4.7v4.91h-4.7z"/>
<path fill="#420cae" d="M394.5 46.32h4.7v4.91h-4.7zM447.32 46.32h4.7v4.91h-4.7z"/>
<path fill="#2a0690" d="M398.9 46.32h4.7v4.91h-4.7z"/>
<path fill="#4e12a8" d="M403.3 46.32h4.7v4.91h-4.7z"/>
<path fill="#5412ba" d="M407.71 46.32h4.7v4.91h-4.7zM460.53 184.52h4.7v4.91h-4.7zM429.71 202.94h4.7v4.91h-4.7z"/>
<path fill="#6612d8" d="M412.11 46.32h4.7v4.91h-4.7z"/>
<path fill="#6012c0" d="M416.51 46.32h4.7v4.91h-4.7zM412.11 60.14h4.7v4.91h-4.7z"/>
<path fill="#480c90" d="M420.91 46.32h4.7v4.91h-4.7z"/>
<path fill="#36067e" d="M425.31 46.32h4.7v4.91h-4.7z"/>
<path fill="#360690" d="M434.12 46.32h4.7v4.91h-4.7z"/>
<path fill="#300696" d="M438.52 46.32h4.7v4.91h-4.7z"/>
<path fill="#4812a8" d="M442.92 46.32h4.7v4.91h-4.7z"/>
<path fill="#4212d2" d="M456.12 46.32h4.7v4.91h-4.7z"/>
<path fill="#4212e4" d="M460.53 46.32h4.7v4.91h-4.7z"/>
<path fill="#3c12de" d="M464.93 46.32h4.7v4.91h-4.7z"/>
<path fill="#3c18de" d="M469.33 46.32h4.7v4.91h-4.7zM473.73 64.75h4.7v4.91h-4.7z"/>
<path fill="#4218de" d="M473.73 46.32h4.7v4.91h-4.7zM473.73 55.53h4.7v4.91h-4.7z"/>
<path fill="#2a12d8" d="M478.13 46.32h4.7v4.91h-4.7z"/>
<path fill="#3618d2" d="M482.54 46.32h4.7v4.91h-4.7zM618.99 73.96h4.7v4.91h-4.7zM623.39 73.96h4.7v4.91h-4.7zM508.95 96.99h4.7v4.91h-4.7zM486.94 179.91h4.7v4.91h-4.7zM451.72 212.16h4.7v4.91h-4.7z"/>
<path fill="#481eea" d="M486.94 46.32h4.7v4.91h-4.7zM442.92 96.99h4.7v4.91h-4.7zM447.32 96.99h4.7v4.91h-4.7zM412.11 101.6h4.7v4.91h-4.7zM429.71 101.6h4.7v4.91h-4.7zM416.51 106.2h4.7v4.91h-4.7zM429.71 106.2h4.7v4.91h-4.7zM412.11 244.4h4.7v4.91h-4.7z"/>
<path fill="#2a18e4" d="M535.36 46.32h4.7v4.91h-4.7zM592.58 60.14h4.7v4.91h-4.7zM552.96 64.75h4.7v4.91h-4.7z"/>
<path fill="#1e18e4" d="M539.76 46.32h4.7v4.91h-4.7z"/>
<path fill="#2418de" d="M544.16 46.32h4.7v4.91h-4.7z"/>
<path fill="#3624de" d="M548.56 46.32h4.7v4.91h-4.7zM456.12 221.37h4.7v4.91h-4.7zM460.53 221.37h4.7v4.91h-4.7zM478.13 221.37h4.7v4.91h-4.7z"/>
<path fill="#3024fc" d="M566.17 46.32h4.7v4.91h-4.7zM447.32 120.02h4.7v4.91h-4.7z"/>
<path fill="#2a18fc" d="M605.79 46.32h4.7v4.91h-4.7zM548.56 55.53h4.7v4.91h-4.7zM403.3 138.45h4.7v4.91h-4.7zM420.91 138.45h4.7v4.91h-4.7zM478.13 166.09h4.7v4.91h-4.7z"/>
<path fill="#3c24ea" d="M627.79 46.32h4.7v4.91h-4.7zM636.6 46.32h4.7v4.91h-4.7zM451.72 106.2h4.7v4.91h-4.7zM447.32 147.66h4.7v4.91h-4.7z"/>
<path fill="#420ca2" d="M394.5 50.93h4.7v4.91h-4.7zM398.9 55.53h4.7v4.91h-4.7z"/>
<path fill="#30068a" d="M398.9 50.93h4.7v4.91h-4.7z"/>
<path fill="#4206ae" d="M403.3 50.93h4.7v4.91h-4.7z"/>
<path fill="#7218d2" d="M407.71 50.93h4.7v4.91h-4.7z"/>
<path fill="#7212de" d="M412.11 50.93h4.7v4.91h-4.7z"/>
<path fill="#6c12c6" d="M416.51 50.93h4.7v4.91h-4.7z"/>
<path fill="#5a129c" d="M420.91 50.93h4.7v4.91h-4.7z"/>
<path fill="#4e0c8a" d="M425.31 50.93h4.7v4.91h-4.7z"/>
<path fill="#4806a2" d="M429.71 50.93h4.7v4.91h-4.7z"/>
<path fill="#4e0ca8" d="M434.12 50.93h4.7v4.91h-4.7zM460.53 189.12h4.7v4.91h-4.7zM460.53 193.73h4.7v4.91h-4.7z"/>
<path fill="#4e0cb4" d="M438.52 50.93h4.7v4.91h-4.7zM403.3 55.53h4.7v4.91h-4.7z"/>
<path fill="#5a12ba" d="M442.92 50.93h4.7v4.91h-4.7zM434.12 64.75h4.7v4.91h-4.7zM420.91 69.35h4.7v4.91h-4.7zM425.31 198.34h4.7v4.91h-4.7z"/>
<path fill="#5a12c0" d="M447.32 50.93h4.7v4.91h-4.7z"/>
<path fill="#5418c6" d="M456.12 50.93h4.7v4.91h-4.7zM420.91 73.96h4.7v4.91h-4.7zM464.93 184.52h4.7v4.91h-4.7zM469.33 189.12h4.7v4.91h-4.7zM442.92 207.55h4.7v4.91h-4.7z"/>
<path fill="#5418de" d="M460.53 50.93h4.7v4.91h-4.7zM464.93 50.93h4.7v4.91h-4.7zM464.93 60.14h4.7v4.91h-4.7zM403.3 73.96h4.7v4.91h-4.7zM407.71 184.52h4.7v4.91h-4.7z"/>
<path fill="#4818de" d="M469.33 50.93h4.7v4.91h-4.7zM469.33 55.53h4.7v4.91h-4.7zM398.9 83.17h4.7v4.91h-4.7zM403.3 83.17h4.7v4.91h-4.7zM407.71 83.17h4.7v4.91h-4.7zM420.91 87.78h4.7v4.91h-4.7zM442.92 87.78h4.7v4.91h-4.7zM429.71 92.39h4.7v4.91h-4.7z"/>
<path fill="#3c18d2" d="M478.13 50.93h4.7v4.91h-4.7zM478.13 55.53h4.7v4.91h-4.7zM482.54 55.53h4.7v4.91h-4.7zM614.59 60.14h4.7v4.91h-4.7zM539.76 92.39h4.7v4.91h-4.7zM478.13 184.52h4.7v4.91h-4.7z"/>
<path fill="#3618c6" d="M482.54 50.93h4.7v4.91h-4.7zM500.14 106.2h4.7v4.91h-4.7zM398.9 175.3h4.7v4.91h-4.7zM478.13 202.94h4.7v4.91h-4.7zM460.53 212.16h4.7v4.91h-4.7z"/>
<path fill="#3018f0" d="M491.34 50.93h4.7v4.91h-4.7zM583.78 69.35h4.7v4.91h-4.7zM513.35 83.17h4.7v4.91h-4.7zM522.15 87.78h4.7v4.91h-4.7zM412.11 161.48h4.7v4.91h-4.7z"/>
<path fill="#3c1ef0" d="M500.14 50.93h4.7v4.91h-4.7zM508.95 60.14h4.7v4.91h-4.7zM552.96 69.35h4.7v4.91h-4.7zM601.38 69.35h4.7v4.91h-4.7zM495.74 73.96h4.7v4.91h-4.7zM478.13 87.78h4.7v4.91h-4.7zM429.71 124.63h4.7v4.91h-4.7zM420.91 143.06h4.7v4.91h-4.7zM425.31 156.88h4.7v4.91h-4.7zM447.32 216.76h4.7v4.91h-4.7z"/>
<path fill="#2418d8" d="M544.16 50.93h4.7v4.91h-4.7z"/>
<path fill="#2a18d8" d="M548.56 50.93h4.7v4.91h-4.7zM632.2 64.75h4.7v4.91h-4.7zM627.79 69.35h4.7v4.91h-4.7zM588.18 73.96h4.7v4.91h-4.7z"/>
<path fill="#2a1ef6" d="M552.96 50.93h4.7v4.91h-4.7zM451.72 115.42h4.7v4.91h-4.7z"/>
<path fill="#361ede" d="M588.18 50.93h4.7v4.91h-4.7zM592.58 64.75h4.7v4.91h-4.7zM592.58 73.96h4.7v4.91h-4.7zM491.34 92.39h4.7v4.91h-4.7zM491.34 96.99h4.7v4.91h-4.7zM491.34 106.2h4.7v4.91h-4.7zM482.54 166.09h4.7v4.91h-4.7z"/>
<path fill="#361ef6" d="M596.98 50.93h4.7v4.91h-4.7zM605.79 50.93h4.7v4.91h-4.7zM566.17 60.14h4.7v4.91h-4.7zM513.35 64.75h4.7v4.91h-4.7zM561.77 64.75h4.7v4.91h-4.7zM530.96 69.35h4.7v4.91h-4.7zM504.54 83.17h4.7v4.91h-4.7zM398.9 120.02h4.7v4.91h-4.7zM473.73 161.48h4.7v4.91h-4.7z"/>
<path fill="#3018e4" d="M601.38 50.93h4.7v4.91h-4.7zM596.98 64.75h4.7v4.91h-4.7zM627.79 64.75h4.7v4.91h-4.7zM592.58 69.35h4.7v4.91h-4.7z"/>
<path fill="#3006a8" d="M394.5 55.53h4.7v4.91h-4.7z"/>
<path fill="#6012cc" d="M407.71 55.53h4.7v4.91h-4.7zM438.52 64.75h4.7v4.91h-4.7z"/>
<path fill="#6c12d2" d="M412.11 55.53h4.7v4.91h-4.7z"/>
<path fill="#660cba" d="M416.51 55.53h4.7v4.91h-4.7zM429.71 189.12h4.7v4.91h-4.7z"/>
<path fill="#4e069c" d="M420.91 55.53h4.7v4.91h-4.7z"/>
<path fill="#4e0684" d="M425.31 55.53h4.7v4.91h-4.7zM425.31 60.14h4.7v4.91h-4.7z"/>
<path fill="#600c90" d="M429.71 55.53h4.7v4.91h-4.7z"/>
<path fill="#600ca2" d="M434.12 55.53h4.7v4.91h-4.7z"/>
<path fill="#6612ae" d="M438.52 55.53h4.7v4.91h-4.7z"/>
<path fill="#6c18ba" d="M442.92 55.53h4.7v4.91h-4.7z"/>
<path fill="#5a12cc" d="M447.32 55.53h4.7v4.91h-4.7z"/>
<path fill="#6018d2" d="M451.72 55.53h4.7v4.91h-4.7zM451.72 60.14h4.7v4.91h-4.7z"/>
<path fill="#420cc6" d="M456.12 55.53h4.7v4.91h-4.7z"/>
<path fill="#4e12d2" d="M460.53 55.53h4.7v4.91h-4.7zM425.31 175.3h4.7v4.91h-4.7z"/>
<path fill="#5a1ed8" d="M464.93 55.53h4.7v4.91h-4.7z"/>
<path fill="#4e24e4" d="M486.94 55.53h4.7v4.91h-4.7zM460.53 83.17h4.7v4.91h-4.7z"/>
<path fill="#3c1ef6" d="M491.34 55.53h4.7v4.91h-4.7zM579.38 69.35h4.7v4.91h-4.7zM517.75 78.57h4.7v4.91h-4.7zM526.55 87.78h4.7v4.91h-4.7zM394.5 124.63h4.7v4.91h-4.7zM420.91 124.63h4.7v4.91h-4.7z"/>
<path fill="#3624f0" d="M561.77 55.53h4.7v4.91h-4.7zM420.91 225.98h4.7v4.91h-4.7zM425.31 225.98h4.7v4.91h-4.7z"/>
<path fill="#3c24f0" d="M583.78 55.53h4.7v4.91h-4.7zM544.16 60.14h4.7v4.91h-4.7zM561.77 60.14h4.7v4.91h-4.7zM482.54 101.6h4.7v4.91h-4.7zM398.9 133.84h4.7v4.91h-4.7zM434.12 143.06h4.7v4.91h-4.7z"/>
<path fill="#361ee4" d="M588.18 55.53h4.7v4.91h-4.7zM486.94 96.99h4.7v4.91h-4.7zM403.3 124.63h4.7v4.91h-4.7zM403.3 156.88h4.7v4.91h-4.7zM407.71 156.88h4.7v4.91h-4.7zM491.34 202.94h4.7v4.91h-4.7z"/>
<path fill="#3018ea" d="M592.58 55.53h4.7v4.91h-4.7zM596.98 55.53h4.7v4.91h-4.7zM605.79 69.35h4.7v4.91h-4.7zM530.96 87.78h4.7v4.91h-4.7zM473.73 92.39h4.7v4.91h-4.7z"/>
<path fill="#2412d8" d="M601.38 55.53h4.7v4.91h-4.7z"/>
<path fill="#3012e4" d="M605.79 55.53h4.7v4.91h-4.7zM610.19 60.14h4.7v4.91h-4.7z"/>
<path fill="#421eea" d="M610.19 55.53h4.7v4.91h-4.7zM539.76 73.96h4.7v4.91h-4.7zM473.73 87.78h4.7v4.91h-4.7zM530.96 92.39h4.7v4.91h-4.7zM420.91 101.6h4.7v4.91h-4.7zM420.91 156.88h4.7v4.91h-4.7zM394.5 166.09h4.7v4.91h-4.7zM407.71 166.09h4.7v4.91h-4.7zM394.5 179.91h4.7v4.91h-4.7zM416.51 221.37h4.7v4.91h-4.7z"/>
<path fill="#3012ea" d="M614.59 55.53h4.7v4.91h-4.7z"/>
<path fill="#3618f6" d="M618.99 55.53h4.7v4.91h-4.7zM535.36 73.96h4.7v4.91h-4.7zM403.3 161.48h4.7v4.91h-4.7z"/>
<path fill="#5412b4" d="M394.5 60.14h4.7v4.91h-4.7zM398.9 60.14h4.7v4.91h-4.7z"/>
<path fill="#5412ae" d="M403.3 60.14h4.7v4.91h-4.7zM420.91 193.73h4.7v4.91h-4.7zM460.53 198.34h4.7v4.91h-4.7z"/>
<path fill="#540cb4" d="M407.71 60.14h4.7v4.91h-4.7zM438.52 60.14h4.7v4.91h-4.7zM438.52 179.91h4.7v4.91h-4.7z"/>
<path fill="#600cae" d="M416.51 60.14h4.7v4.91h-4.7z"/>
<path fill="#600c9c" d="M420.91 60.14h4.7v4.91h-4.7z"/>
<path fill="#4e068a" d="M429.71 60.14h4.7v4.91h-4.7z"/>
<path fill="#540c96" d="M434.12 60.14h4.7v4.91h-4.7z"/>
<path fill="#6618cc" d="M442.92 60.14h4.7v4.91h-4.7z"/>
<path fill="#6618d8" d="M447.32 60.14h4.7v4.91h-4.7zM456.12 179.91h4.7v4.91h-4.7z"/>
<path fill="#5412d2" d="M456.12 60.14h4.7v4.91h-4.7z"/>
<path fill="#5418d8" d="M460.53 60.14h4.7v4.91h-4.7zM451.72 64.75h4.7v4.91h-4.7z"/>
<path fill="#3c12cc" d="M469.33 60.14h4.7v4.91h-4.7zM574.97 87.78h4.7v4.91h-4.7zM451.72 170.7h4.7v4.91h-4.7z"/>
<path fill="#4e1ed2" d="M473.73 60.14h4.7v4.91h-4.7zM416.51 170.7h4.7v4.91h-4.7zM416.51 207.55h4.7v4.91h-4.7z"/>
<path fill="#3c18e4" d="M478.13 60.14h4.7v4.91h-4.7zM420.91 161.48h4.7v4.91h-4.7zM429.71 212.16h4.7v4.91h-4.7z"/>
<path fill="#481ef6" d="M482.54 60.14h4.7v4.91h-4.7zM473.73 73.96h4.7v4.91h-4.7zM566.17 73.96h4.7v4.91h-4.7zM566.17 83.17h4.7v4.91h-4.7zM526.55 92.39h4.7v4.91h-4.7zM425.31 110.81h4.7v4.91h-4.7zM407.71 170.7h4.7v4.91h-4.7z"/>
<path fill="#3618ea" d="M486.94 60.14h4.7v4.91h-4.7zM596.98 60.14h4.7v4.91h-4.7zM548.56 87.78h4.7v4.91h-4.7zM522.15 92.39h4.7v4.91h-4.7z"/>
<path fill="#421efc" d="M495.74 60.14h4.7v4.91h-4.7zM495.74 69.35h4.7v4.91h-4.7zM539.76 78.57h4.7v4.91h-4.7zM434.12 106.2h4.7v4.91h-4.7zM394.5 110.81h4.7v4.91h-4.7zM407.71 110.81h4.7v4.91h-4.7zM416.51 110.81h4.7v4.91h-4.7zM420.91 110.81h4.7v4.91h-4.7zM438.52 110.81h4.7v4.91h-4.7zM403.3 115.42h4.7v4.91h-4.7zM412.11 115.42h4.7v4.91h-4.7zM416.51 115.42h4.7v4.91h-4.7zM420.91 115.42h4.7v4.91h-4.7zM429.71 120.02h4.7v4.91h-4.7zM412.11 124.63h4.7v4.91h-4.7zM429.71 156.88h4.7v4.91h-4.7zM398.9 161.48h4.7v4.91h-4.7z"/>
<path fill="#2418f6" d="M517.75 60.14h4.7v4.91h-4.7z"/>
<path fill="#2a1eea" d="M557.37 60.14h4.7v4.91h-4.7z"/>
<path fill="#3c1ee4" d="M588.18 60.14h4.7v4.91h-4.7zM486.94 73.96h4.7v4.91h-4.7zM530.96 83.17h4.7v4.91h-4.7zM482.54 179.91h4.7v4.91h-4.7z"/>
<path fill="#3012f6" d="M601.38 60.14h4.7v4.91h-4.7z"/>
<path fill="#3c18f0" d="M605.79 60.14h4.7v4.91h-4.7zM442.92 161.48h4.7v4.91h-4.7z"/>
<path fill="#3c1ede" d="M618.99 60.14h4.7v4.91h-4.7zM614.59 73.96h4.7v4.91h-4.7zM486.94 193.73h4.7v4.91h-4.7zM425.31 216.76h4.7v4.91h-4.7zM438.52 216.76h4.7v4.91h-4.7z"/>
<path fill="#4224f0" d="M627.79 60.14h4.7v4.91h-4.7zM561.77 69.35h4.7v4.91h-4.7zM508.95 73.96h4.7v4.91h-4.7zM434.12 124.63h4.7v4.91h-4.7zM398.9 152.27h4.7v4.91h-4.7zM416.51 225.98h4.7v4.91h-4.7z"/>
<path fill="#4e12ba" d="M398.9 64.75h4.7v4.91h-4.7zM420.91 198.34h4.7v4.91h-4.7z"/>
<path fill="#6018b4" d="M407.71 64.75h4.7v4.91h-4.7z"/>
<path fill="#6c18c6" d="M412.11 64.75h4.7v4.91h-4.7z"/>
<path fill="#540cc0" d="M416.51 64.75h4.7v4.91h-4.7z"/>
<path fill="#5a0cae" d="M420.91 64.75h4.7v4.91h-4.7zM438.52 184.52h4.7v4.91h-4.7z"/>
<path fill="#5a12a2" d="M425.31 64.75h4.7v4.91h-4.7z"/>
<path fill="#540ca8" d="M429.71 64.75h4.7v4.91h-4.7zM429.71 198.34h4.7v4.91h-4.7z"/>
<path fill="#5a12d2" d="M442.92 64.75h4.7v4.91h-4.7z"/>
<path fill="#5412cc" d="M447.32 64.75h4.7v4.91h-4.7z"/>
<path fill="#661ee4" d="M456.12 64.75h4.7v4.91h-4.7zM398.9 253.61h4.7v4.91h-4.7z"/>
<path fill="#5418e4" d="M460.53 64.75h4.7v4.91h-4.7zM425.31 78.57h4.7v4.91h-4.7zM412.11 202.94h4.7v4.91h-4.7z"/>
<path fill="#6024e4" d="M464.93 64.75h4.7v4.91h-4.7zM442.92 166.09h4.7v4.91h-4.7z"/>
<path fill="#4e18cc" d="M469.33 64.75h4.7v4.91h-4.7zM407.71 78.57h4.7v4.91h-4.7zM416.51 78.57h4.7v4.91h-4.7zM412.11 83.17h4.7v4.91h-4.7z"/>
<path fill="#3c12f0" d="M478.13 64.75h4.7v4.91h-4.7z"/>
<path fill="#602afc" d="M482.54 64.75h4.7v4.91h-4.7zM544.16 78.57h4.7v4.91h-4.7zM478.13 175.3h4.7v4.91h-4.7z"/>
<path fill="#421ef6" d="M500.14 64.75h4.7v4.91h-4.7zM548.56 73.96h4.7v4.91h-4.7zM574.97 73.96h4.7v4.91h-4.7zM451.72 92.39h4.7v4.91h-4.7zM416.51 101.6h4.7v4.91h-4.7z"/>
<path fill="#2a18de" d="M504.54 64.75h4.7v4.91h-4.7zM588.18 69.35h4.7v4.91h-4.7zM513.35 92.39h4.7v4.91h-4.7zM451.72 96.99h4.7v4.91h-4.7zM486.94 207.55h4.7v4.91h-4.7z"/>
<path fill="#2412e4" d="M508.95 64.75h4.7v4.91h-4.7zM623.39 64.75h4.7v4.91h-4.7z"/>
<path fill="#2418e4" d="M548.56 64.75h4.7v4.91h-4.7z"/>
<path fill="#361ed8" d="M588.18 64.75h4.7v4.91h-4.7zM504.54 73.96h4.7v4.91h-4.7zM500.14 78.57h4.7v4.91h-4.7zM495.74 101.6h4.7v4.91h-4.7zM486.94 198.34h4.7v4.91h-4.7z"/>
<path fill="#3012fc" d="M605.79 64.75h4.7v4.91h-4.7z"/>
<path fill="#3012d8" d="M610.19 64.75h4.7v4.91h-4.7z"/>
<path fill="#3c1eea" d="M618.99 64.75h4.7v4.91h-4.7zM557.37 69.35h4.7v4.91h-4.7zM517.75 87.78h4.7v4.91h-4.7zM544.16 87.78h4.7v4.91h-4.7zM508.95 92.39h4.7v4.91h-4.7zM412.11 156.88h4.7v4.91h-4.7z"/>
<path fill="#2412ea" d="M636.6 64.75h4.7v4.91h-4.7z"/>
<path fill="#4212c0" d="M394.5 69.35h4.7v4.91h-4.7z"/>
<path fill="#6618d2" d="M412.11 69.35h4.7v4.91h-4.7zM416.51 69.35h4.7v4.91h-4.7z"/>
<path fill="#480cb4" d="M425.31 69.35h4.7v4.91h-4.7z"/>
<path fill="#5a12d8" d="M429.71 69.35h4.7v4.91h-4.7z"/>
<path fill="#6618e4" d="M434.12 69.35h4.7v4.91h-4.7z"/>
<path fill="#6c1ee4" d="M438.52 69.35h4.7v4.91h-4.7zM434.12 175.3h4.7v4.91h-4.7z"/>
<path fill="#5a12de" d="M442.92 69.35h4.7v4.91h-4.7z"/>
<path fill="#4e12de" d="M447.32 69.35h4.7v4.91h-4.7z"/>
<path fill="#5a18ea" d="M451.72 69.35h4.7v4.91h-4.7zM460.53 175.3h4.7v4.91h-4.7z"/>
<path fill="#5a18fc" d="M456.12 69.35h4.7v4.91h-4.7zM398.9 230.58h4.7v4.91h-4.7z"/>
<path fill="#5a1ef6" d="M460.53 69.35h4.7v4.91h-4.7zM438.52 166.09h4.7v4.91h-4.7zM403.3 193.73h4.7v4.91h-4.7zM407.71 207.55h4.7v4.91h-4.7zM403.3 221.37h4.7v4.91h-4.7zM407.71 258.22h4.7v4.91h-4.7z"/>
<path fill="#4818ea" d="M464.93 69.35h4.7v4.91h-4.7z"/>
<path fill="#6024f6" d="M469.33 69.35h4.7v4.91h-4.7zM398.9 202.94h4.7v4.91h-4.7zM407.71 202.94h4.7v4.91h-4.7z"/>
<path fill="#4e1eea" d="M473.73 69.35h4.7v4.91h-4.7zM451.72 83.17h4.7v4.91h-4.7zM561.77 83.17h4.7v4.91h-4.7zM416.51 87.78h4.7v4.91h-4.7zM416.51 92.39h4.7v4.91h-4.7zM447.32 92.39h4.7v4.91h-4.7zM429.71 166.09h4.7v4.91h-4.7zM394.5 212.16h4.7v4.91h-4.7zM394.5 216.76h4.7v4.91h-4.7z"/>
<path fill="#5424f0" d="M482.54 69.35h4.7v4.91h-4.7zM429.71 161.48h4.7v4.91h-4.7zM407.71 267.43h4.7v4.91h-4.7z"/>
<path fill="#3c24e4" d="M508.95 69.35h4.7v4.91h-4.7zM486.94 202.94h4.7v4.91h-4.7zM429.71 221.37h4.7v4.91h-4.7z"/>
<path fill="#3018f6" d="M570.57 69.35h4.7v4.91h-4.7zM530.96 73.96h4.7v4.91h-4.7zM394.5 129.24h4.7v4.91h-4.7z"/>
<path fill="#2a12e4" d="M596.98 69.35h4.7v4.91h-4.7z"/>
<path fill="#3018de" d="M610.19 69.35h4.7v4.91h-4.7zM601.38 73.96h4.7v4.91h-4.7zM535.36 87.78h4.7v4.91h-4.7z"/>
<path fill="#3018d8" d="M614.59 69.35h4.7v4.91h-4.7zM632.2 69.35h4.7v4.91h-4.7zM610.19 73.96h4.7v4.91h-4.7zM495.74 78.57h4.7v4.91h-4.7zM517.75 92.39h4.7v4.91h-4.7z"/>
<path fill="#3018d2" d="M623.39 69.35h4.7v4.91h-4.7zM486.94 78.57h4.7v4.91h-4.7zM398.9 124.63h4.7v4.91h-4.7zM491.34 189.12h4.7v4.91h-4.7z"/>
<path fill="#4824f0" d="M636.6 69.35h4.7v4.91h-4.7zM486.94 83.17h4.7v4.91h-4.7zM478.13 92.39h4.7v4.91h-4.7zM416.51 230.58h4.7v4.91h-4.7z"/>
<path fill="#4812cc" d="M398.9 73.96h4.7v4.91h-4.7z"/>
<path fill="#5412de" d="M407.71 73.96h4.7v4.91h-4.7zM416.51 193.73h4.7v4.91h-4.7z"/>
<path fill="#5418cc" d="M412.11 73.96h4.7v4.91h-4.7zM416.51 73.96h4.7v4.91h-4.7zM451.72 175.3h4.7v4.91h-4.7z"/>
<path fill="#5418ba" d="M425.31 73.96h4.7v4.91h-4.7z"/>
<path fill="#5a18d8" d="M429.71 73.96h4.7v4.91h-4.7zM420.91 78.57h4.7v4.91h-4.7z"/>
<path fill="#6018ea" d="M434.12 73.96h4.7v4.91h-4.7z"/>
<path fill="#6018f0" d="M438.52 73.96h4.7v4.91h-4.7zM442.92 73.96h4.7v4.91h-4.7zM412.11 193.73h4.7v4.91h-4.7z"/>
<path fill="#661ef0" d="M447.32 73.96h4.7v4.91h-4.7zM398.9 239.8h4.7v4.91h-4.7zM403.3 239.8h4.7v4.91h-4.7zM403.3 244.4h4.7v4.91h-4.7zM403.3 262.83h4.7v4.91h-4.7z"/>
<path fill="#5418fc" d="M451.72 73.96h4.7v4.91h-4.7z"/>
<path fill="#4e18fc" d="M460.53 73.96h4.7v4.91h-4.7z"/>
<path fill="#541ef6" d="M464.93 73.96h4.7v4.91h-4.7zM456.12 83.17h4.7v4.91h-4.7zM429.71 96.99h4.7v4.91h-4.7zM412.11 175.3h4.7v4.91h-4.7zM403.3 207.55h4.7v4.91h-4.7z"/>
<path fill="#6c2afc" d="M469.33 73.96h4.7v4.91h-4.7zM407.71 225.98h4.7v4.91h-4.7z"/>
<path fill="#421ecc" d="M478.13 73.96h4.7v4.91h-4.7zM557.37 87.78h4.7v4.91h-4.7zM486.94 184.52h4.7v4.91h-4.7z"/>
<path fill="#3c1ed8" d="M500.14 73.96h4.7v4.91h-4.7zM491.34 83.17h4.7v4.91h-4.7zM486.94 87.78h4.7v4.91h-4.7zM416.51 156.88h4.7v4.91h-4.7zM451.72 216.76h4.7v4.91h-4.7z"/>
<path fill="#421ee4" d="M552.96 73.96h4.7v4.91h-4.7zM535.36 83.17h4.7v4.91h-4.7zM539.76 87.78h4.7v4.91h-4.7zM425.31 124.63h4.7v4.91h-4.7z"/>
<path fill="#481ede" d="M557.37 73.96h4.7v4.91h-4.7zM583.78 83.17h4.7v4.91h-4.7zM447.32 87.78h4.7v4.91h-4.7z"/>
<path fill="#481ef0" d="M561.77 73.96h4.7v4.91h-4.7zM403.3 166.09h4.7v4.91h-4.7zM403.3 170.7h4.7v4.91h-4.7zM420.91 212.16h4.7v4.91h-4.7zM412.11 230.58h4.7v4.91h-4.7z"/>
<path fill="#2412de" d="M627.79 73.96h4.7v4.91h-4.7z"/>
<path fill="#421ed8" d="M636.6 73.96h4.7v4.91h-4.7z"/>
<path fill="#4e1ed8" d="M394.5 78.57h4.7v4.91h-4.7zM570.57 87.78h4.7v4.91h-4.7zM420.91 166.09h4.7v4.91h-4.7zM420.91 170.7h4.7v4.91h-4.7z"/>
<path fill="#4818c6" d="M398.9 78.57h4.7v4.91h-4.7zM579.38 87.78h4.7v4.91h-4.7zM416.51 175.3h4.7v4.91h-4.7z"/>
<path fill="#360ccc" d="M403.3 78.57h4.7v4.91h-4.7z"/>
<path fill="#661eea" d="M429.71 78.57h4.7v4.91h-4.7zM456.12 175.3h4.7v4.91h-4.7z"/>
<path fill="#5a1eea" d="M434.12 78.57h4.7v4.91h-4.7zM403.3 202.94h4.7v4.91h-4.7zM407.71 244.4h4.7v4.91h-4.7zM407.71 249.01h4.7v4.91h-4.7zM398.9 262.83h4.7v4.91h-4.7zM403.3 267.43h4.7v4.91h-4.7z"/>
<path fill="#4812ea" d="M438.52 78.57h4.7v4.91h-4.7z"/>
<path fill="#601ef6" d="M442.92 78.57h4.7v4.91h-4.7zM398.9 225.98h4.7v4.91h-4.7zM407.71 235.19h4.7v4.91h-4.7z"/>
<path fill="#541ee4" d="M447.32 78.57h4.7v4.91h-4.7zM403.3 87.78h4.7v4.91h-4.7zM412.11 87.78h4.7v4.91h-4.7zM438.52 87.78h4.7v4.91h-4.7zM429.71 207.55h4.7v4.91h-4.7zM403.3 212.16h4.7v4.91h-4.7zM394.5 221.37h4.7v4.91h-4.7z"/>
<path fill="#4e1ee4" d="M451.72 78.57h4.7v4.91h-4.7zM438.52 92.39h4.7v4.91h-4.7zM478.13 179.91h4.7v4.91h-4.7zM407.71 212.16h4.7v4.91h-4.7zM442.92 212.16h4.7v4.91h-4.7zM447.32 212.16h4.7v4.91h-4.7z"/>
<path fill="#4e1ef6" d="M456.12 78.57h4.7v4.91h-4.7zM574.97 83.17h4.7v4.91h-4.7zM407.71 92.39h4.7v4.91h-4.7zM412.11 92.39h4.7v4.91h-4.7zM412.11 96.99h4.7v4.91h-4.7zM460.53 170.7h4.7v4.91h-4.7zM398.9 189.12h4.7v4.91h-4.7zM412.11 225.98h4.7v4.91h-4.7z"/>
<path fill="#4e1efc" d="M460.53 78.57h4.7v4.91h-4.7zM469.33 78.57h4.7v4.91h-4.7z"/>
<path fill="#5a24f6" d="M464.93 78.57h4.7v4.91h-4.7zM412.11 207.55h4.7v4.91h-4.7z"/>
<path fill="#4218fc" d="M473.73 78.57h4.7v4.91h-4.7zM548.56 83.17h4.7v4.91h-4.7zM403.3 92.39h4.7v4.91h-4.7zM394.5 184.52h4.7v4.91h-4.7z"/>
<path fill="#4824de" d="M478.13 78.57h4.7v4.91h-4.7zM482.54 78.57h4.7v4.91h-4.7zM504.54 78.57h4.7v4.91h-4.7zM491.34 101.6h4.7v4.91h-4.7zM425.31 129.24h4.7v4.91h-4.7zM429.71 216.76h4.7v4.91h-4.7z"/>
<path fill="#4824c6" d="M491.34 78.57h4.7v4.91h-4.7z"/>
<path fill="#3c12fc" d="M548.56 78.57h4.7v4.91h-4.7z"/>
<path fill="#4218d8" d="M552.96 78.57h4.7v4.91h-4.7zM552.96 83.17h4.7v4.91h-4.7zM416.51 166.09h4.7v4.91h-4.7zM478.13 189.12h4.7v4.91h-4.7z"/>
<path fill="#4818d2" d="M557.37 78.57h4.7v4.91h-4.7zM473.73 184.52h4.7v4.91h-4.7z"/>
<path fill="#4818f6" d="M561.77 78.57h4.7v4.91h-4.7z"/>
<path fill="#4818f0" d="M566.17 78.57h4.7v4.91h-4.7zM469.33 175.3h4.7v4.91h-4.7z"/>
<path fill="#3618c0" d="M588.18 78.57h4.7v4.91h-4.7z"/>
<path fill="#2a12cc" d="M592.58 78.57h4.7v4.91h-4.7z"/>
<path fill="#3c18d8" d="M601.38 78.57h4.7v4.91h-4.7zM425.31 166.09h4.7v4.91h-4.7zM478.13 198.34h4.7v4.91h-4.7z"/>
<path fill="#3618ba" d="M605.79 78.57h4.7v4.91h-4.7zM636.6 258.22h4.7v4.91h-4.7z"/>
<path fill="#3012ba" d="M610.19 78.57h4.7v4.91h-4.7zM517.75 96.99h4.7v4.91h-4.7z"/>
<path fill="#3c18c6" d="M614.59 78.57h4.7v4.91h-4.7z"/>
<path fill="#4218ba" d="M618.99 78.57h4.7v4.91h-4.7zM535.36 96.99h4.7v4.91h-4.7z"/>
<path fill="#4e18ba" d="M627.79 78.57h4.7v4.91h-4.7zM438.52 207.55h4.7v4.91h-4.7z"/>
<path fill="#3c129c" d="M636.6 78.57h4.7v4.91h-4.7z"/>
<path fill="#6024d2" d="M394.5 83.17h4.7v4.91h-4.7z"/>
<path fill="#4212de" d="M416.51 83.17h4.7v4.91h-4.7z"/>
<path fill="#4e18de" d="M420.91 83.17h4.7v4.91h-4.7zM425.31 87.78h4.7v4.91h-4.7zM469.33 179.91h4.7v4.91h-4.7zM403.3 184.52h4.7v4.91h-4.7zM407.71 193.73h4.7v4.91h-4.7z"/>
<path fill="#5418ea" d="M425.31 83.17h4.7v4.91h-4.7z"/>
<path fill="#5418f0" d="M429.71 83.17h4.7v4.91h-4.7zM412.11 179.91h4.7v4.91h-4.7z"/>
<path fill="#5a1ef0" d="M434.12 83.17h4.7v4.91h-4.7zM456.12 170.7h4.7v4.91h-4.7zM403.3 189.12h4.7v4.91h-4.7z"/>
<path fill="#6624ea" d="M438.52 83.17h4.7v4.91h-4.7zM398.9 267.43h4.7v4.91h-4.7z"/>
<path fill="#4e18f0" d="M442.92 83.17h4.7v4.91h-4.7zM407.71 189.12h4.7v4.91h-4.7z"/>
<path fill="#4e24f6" d="M464.93 83.17h4.7v4.91h-4.7zM473.73 175.3h4.7v4.91h-4.7zM420.91 216.76h4.7v4.91h-4.7zM412.11 262.83h4.7v4.91h-4.7zM407.71 272.04h4.7v4.91h-4.7zM403.3 281.25h4.7v4.91h-4.7z"/>
<path fill="#4e24fc" d="M469.33 83.17h4.7v4.91h-4.7zM478.13 83.17h4.7v4.91h-4.7zM460.53 92.39h4.7v4.91h-4.7zM394.5 106.2h4.7v4.91h-4.7zM438.52 106.2h4.7v4.91h-4.7zM460.53 166.09h4.7v4.91h-4.7zM473.73 170.7h4.7v4.91h-4.7z"/>
<path fill="#542afc" d="M473.73 83.17h4.7v4.91h-4.7zM464.93 92.39h4.7v4.91h-4.7zM447.32 101.6h4.7v4.91h-4.7zM394.5 115.42h4.7v4.91h-4.7zM434.12 120.02h4.7v4.91h-4.7zM420.91 133.84h4.7v4.91h-4.7zM394.5 276.65h4.7v4.91h-4.7zM398.9 281.25h4.7v4.91h-4.7z"/>
<path fill="#5a2afc" d="M544.16 83.17h4.7v4.91h-4.7zM412.11 120.02h4.7v4.91h-4.7zM412.11 258.22h4.7v4.91h-4.7z"/>
<path fill="#481ecc" d="M557.37 83.17h4.7v4.91h-4.7z"/>
<path fill="#4218f0" d="M570.57 83.17h4.7v4.91h-4.7zM451.72 87.78h4.7v4.91h-4.7z"/>
<path fill="#4218f6" d="M579.38 83.17h4.7v4.91h-4.7zM394.5 87.78h4.7v4.91h-4.7zM420.91 96.99h4.7v4.91h-4.7z"/>
<path fill="#3612ba" d="M588.18 83.17h4.7v4.91h-4.7z"/>
<path fill="#481eba" d="M592.58 83.17h4.7v4.91h-4.7z"/>
<path fill="#4218c0" d="M596.98 83.17h4.7v4.91h-4.7zM530.96 96.99h4.7v4.91h-4.7z"/>
<path fill="#3612a8" d="M601.38 83.17h4.7v4.91h-4.7z"/>
<path fill="#421290" d="M605.79 83.17h4.7v4.91h-4.7z"/>
<path fill="#360c90" d="M610.19 83.17h4.7v4.91h-4.7z"/>
<path fill="#4e1296" d="M614.59 83.17h4.7v4.91h-4.7z"/>
<path fill="#4e128a" d="M618.99 83.17h4.7v4.91h-4.7z"/>
<path fill="#480c7e" d="M623.39 83.17h4.7v4.91h-4.7z"/>
<path fill="#360672" d="M627.79 83.17h4.7v4.91h-4.7z"/>
<path fill="#480c6c" d="M632.2 83.17h4.7v4.91h-4.7z"/>
<path fill="#3c0c60" d="M636.6 83.17h4.7v4.91h-4.7z"/>
<path fill="#4818d8" d="M407.71 87.78h4.7v4.91h-4.7z"/>
<path fill="#5a1ee4" d="M434.12 87.78h4.7v4.91h-4.7z"/>
<path fill="#6630fc" d="M456.12 87.78h4.7v4.91h-4.7z"/>
<path fill="#4224de" d="M482.54 87.78h4.7v4.91h-4.7zM451.72 101.6h4.7v4.91h-4.7zM398.9 129.24h4.7v4.91h-4.7zM403.3 129.24h4.7v4.91h-4.7z"/>
<path fill="#481ed2" d="M552.96 87.78h4.7v4.91h-4.7zM548.56 92.39h4.7v4.91h-4.7zM482.54 184.52h4.7v4.91h-4.7zM473.73 198.34h4.7v4.91h-4.7z"/>
<path fill="#3c0ca2" d="M588.18 87.78h4.7v4.91h-4.7z"/>
<path fill="#3c0c90" d="M592.58 87.78h4.7v4.91h-4.7z"/>
<path fill="#480c8a" d="M596.98 87.78h4.7v4.91h-4.7z"/>
<path fill="#300072" d="M601.38 87.78h4.7v4.91h-4.7z"/>
<path fill="#4e1260" d="M605.79 87.78h4.7v4.91h-4.7z"/>
<path fill="#480c66" d="M610.19 87.78h4.7v4.91h-4.7z"/>
<path fill="#420660" d="M614.59 87.78h4.7v4.91h-4.7z"/>
<path fill="#36004e" d="M618.99 87.78h4.7v4.91h-4.7z"/>
<path fill="#3c0048" d="M623.39 87.78h4.7v4.91h-4.7z"/>
<path fill="#360048" d="M627.79 87.78h4.7v4.91h-4.7z"/>
<path fill="#42063c" d="M632.2 87.78h4.7v4.91h-4.7z"/>
<path fill="#2a0036" d="M636.6 87.78h4.7v4.91h-4.7z"/>
<path fill="#5a24fc" d="M398.9 92.39h4.7v4.91h-4.7zM407.71 96.99h4.7v4.91h-4.7zM394.5 207.55h4.7v4.91h-4.7zM407.71 262.83h4.7v4.91h-4.7z"/>
<path fill="#6024f0" d="M420.91 92.39h4.7v4.91h-4.7zM398.9 272.04h4.7v4.91h-4.7z"/>
<path fill="#4218ea" d="M425.31 92.39h4.7v4.91h-4.7zM403.3 175.3h4.7v4.91h-4.7zM398.9 179.91h4.7v4.91h-4.7z"/>
<path fill="#5424de" d="M434.12 92.39h4.7v4.91h-4.7zM425.31 101.6h4.7v4.91h-4.7z"/>
<path fill="#542af0" d="M469.33 92.39h4.7v4.91h-4.7zM456.12 96.99h4.7v4.91h-4.7z"/>
<path fill="#2a12d2" d="M535.36 92.39h4.7v4.91h-4.7z"/>
<path fill="#4218a8" d="M561.77 92.39h4.7v4.91h-4.7z"/>
<path fill="#4e18ae" d="M566.17 92.39h4.7v4.91h-4.7zM460.53 202.94h4.7v4.91h-4.7z"/>
<path fill="#4812ae" d="M570.57 92.39h4.7v4.91h-4.7z"/>
<path fill="#480c9c" d="M574.97 92.39h4.7v4.91h-4.7zM636.6 249.01h4.7v4.91h-4.7z"/>
<path fill="#420c8a" d="M579.38 92.39h4.7v4.91h-4.7z"/>
<path fill="#480c72" d="M583.78 92.39h4.7v4.91h-4.7z"/>
<path fill="#360066" d="M588.18 92.39h4.7v4.91h-4.7z"/>
<path fill="#420654" d="M592.58 92.39h4.7v4.91h-4.7z"/>
<path fill="#48064e" d="M596.98 92.39h4.7v4.91h-4.7z"/>
<path fill="#3c0042" d="M601.38 92.39h4.7v4.91h-4.7zM583.78 96.99h4.7v4.91h-4.7z"/>
<path fill="#3c003c" d="M605.79 92.39h4.7v4.91h-4.7z"/>
<path fill="#480630" d="M610.19 92.39h4.7v4.91h-4.7z"/>
<path fill="#36002a" d="M614.59 92.39h4.7v4.91h-4.7z"/>
<path fill="#300024" d="M618.99 92.39h4.7v4.91h-4.7zM561.77 106.2h4.7v4.91h-4.7z"/>
<path fill="#360024" d="M623.39 92.39h4.7v4.91h-4.7z"/>
<path fill="#3c001e" d="M627.79 92.39h4.7v4.91h-4.7z"/>
<path fill="#300018" d="M632.2 92.39h4.7v4.91h-4.7z"/>
<path fill="#360618" d="M636.6 92.39h4.7v4.91h-4.7z"/>
<path fill="#602af0" d="M416.51 96.99h4.7v4.91h-4.7z"/>
<path fill="#4e1ef0" d="M434.12 96.99h4.7v4.91h-4.7zM438.52 96.99h4.7v4.91h-4.7zM464.93 170.7h4.7v4.91h-4.7zM398.9 193.73h4.7v4.91h-4.7zM412.11 212.16h4.7v4.91h-4.7z"/>
<path fill="#5a30fc" d="M460.53 96.99h4.7v4.91h-4.7zM464.93 96.99h4.7v4.91h-4.7zM473.73 166.09h4.7v4.91h-4.7z"/>
<path fill="#4e2af6" d="M469.33 96.99h4.7v4.91h-4.7zM434.12 110.81h4.7v4.91h-4.7zM416.51 244.4h4.7v4.91h-4.7z"/>
<path fill="#4e2af0" d="M482.54 96.99h4.7v4.91h-4.7z"/>
<path fill="#4224e4" d="M500.14 96.99h4.7v4.91h-4.7zM434.12 216.76h4.7v4.91h-4.7z"/>
<path fill="#3012c0" d="M513.35 96.99h4.7v4.91h-4.7zM473.73 202.94h4.7v4.91h-4.7z"/>
<path fill="#240cc0" d="M522.15 96.99h4.7v4.91h-4.7z"/>
<path fill="#4818cc" d="M526.55 96.99h4.7v4.91h-4.7z"/>
<path fill="#3c12b4" d="M539.76 96.99h4.7v4.91h-4.7z"/>
<path fill="#3c12ae" d="M544.16 96.99h4.7v4.91h-4.7z"/>
<path fill="#300c90" d="M552.96 96.99h4.7v4.91h-4.7z"/>
<path fill="#360c78" d="M561.77 96.99h4.7v4.91h-4.7z"/>
<path fill="#3c0672" d="M566.17 96.99h4.7v4.91h-4.7z"/>
<path fill="#4e126c" d="M570.57 96.99h4.7v4.91h-4.7z"/>
<path fill="#480c60" d="M574.97 96.99h4.7v4.91h-4.7z"/>
<path fill="#4e0c4e" d="M579.38 96.99h4.7v4.91h-4.7z"/>
<path fill="#420636" d="M588.18 96.99h4.7v4.91h-4.7z"/>
<path fill="#30002a" d="M592.58 96.99h4.7v4.91h-4.7zM574.97 101.6h4.7v4.91h-4.7z"/>
<path fill="#3c0624" d="M596.98 96.99h4.7v4.91h-4.7z"/>
<path fill="#48061e" d="M601.38 96.99h4.7v4.91h-4.7z"/>
<path fill="#420018" d="M605.79 96.99h4.7v4.91h-4.7z"/>
<path fill="#240012" d="M610.19 96.99h4.7v4.91h-4.7z"/>
<path fill="#300012" d="M614.59 96.99h4.7v4.91h-4.7z"/>
<path fill="#420012" d="M618.99 96.99h4.7v4.91h-4.7z"/>
<path fill="#42000c" d="M623.39 96.99h4.7v4.91h-4.7z"/>
<path fill="#36000c" d="M627.79 96.99h4.7v4.91h-4.7zM636.6 96.99h4.7v4.91h-4.7zM601.38 101.6h4.7v4.91h-4.7zM561.77 110.81h4.7v4.91h-4.7z"/>
<path fill="#3c000c" d="M632.2 96.99h4.7v4.91h-4.7zM592.58 101.6h4.7v4.91h-4.7zM596.98 101.6h4.7v4.91h-4.7zM579.38 106.2h4.7v4.91h-4.7zM583.78 106.2h4.7v4.91h-4.7zM566.17 110.81h4.7v4.91h-4.7zM570.57 110.81h4.7v4.91h-4.7z"/>
<path fill="#3c18fc" d="M398.9 101.6h4.7v4.91h-4.7z"/>
<path fill="#4e24f0" d="M407.71 101.6h4.7v4.91h-4.7zM420.91 106.2h4.7v4.91h-4.7zM420.91 120.02h4.7v4.91h-4.7zM469.33 170.7h4.7v4.91h-4.7zM412.11 235.19h4.7v4.91h-4.7z"/>
<path fill="#5424f6" d="M434.12 101.6h4.7v4.91h-4.7zM416.51 216.76h4.7v4.91h-4.7zM412.11 239.8h4.7v4.91h-4.7z"/>
<path fill="#4e2ae4" d="M456.12 101.6h4.7v4.91h-4.7zM451.72 156.88h4.7v4.91h-4.7z"/>
<path fill="#5430fc" d="M464.93 101.6h4.7v4.91h-4.7zM447.32 110.81h4.7v4.91h-4.7zM438.52 124.63h4.7v4.91h-4.7zM442.92 124.63h4.7v4.91h-4.7zM442.92 143.06h4.7v4.91h-4.7z"/>
<path fill="#4e30f6" d="M469.33 101.6h4.7v4.91h-4.7zM460.53 110.81h4.7v4.91h-4.7zM447.32 124.63h4.7v4.91h-4.7z"/>
<path fill="#3012c6" d="M504.54 101.6h4.7v4.91h-4.7z"/>
<path fill="#3012ae" d="M508.95 101.6h4.7v4.91h-4.7z"/>
<path fill="#421890" d="M513.35 101.6h4.7v4.91h-4.7z"/>
<path fill="#361284" d="M517.75 101.6h4.7v4.91h-4.7zM508.95 106.2h4.7v4.91h-4.7z"/>
<path fill="#24067e" d="M522.15 101.6h4.7v4.91h-4.7z"/>
<path fill="#2a067e" d="M526.55 101.6h4.7v4.91h-4.7z"/>
<path fill="#2a0c78" d="M530.96 101.6h4.7v4.91h-4.7z"/>
<path fill="#360c7e" d="M535.36 101.6h4.7v4.91h-4.7z"/>
<path fill="#361278" d="M539.76 101.6h4.7v4.91h-4.7z"/>
<path fill="#300c6c" d="M544.16 101.6h4.7v4.91h-4.7z"/>
<path fill="#360c6c" d="M548.56 101.6h4.7v4.91h-4.7z"/>
<path fill="#24065a" d="M552.96 101.6h4.7v4.91h-4.7z"/>
<path fill="#300654" d="M557.37 101.6h4.7v4.91h-4.7z"/>
<path fill="#360648" d="M561.77 101.6h4.7v4.91h-4.7z"/>
<path fill="#3c0642" d="M566.17 101.6h4.7v4.91h-4.7z"/>
<path fill="#360036" d="M570.57 101.6h4.7v4.91h-4.7z"/>
<path fill="#3c061e" d="M579.38 101.6h4.7v4.91h-4.7z"/>
<path fill="#3c0018" d="M583.78 101.6h4.7v4.91h-4.7z"/>
<path fill="#3c0012" d="M588.18 101.6h4.7v4.91h-4.7z"/>
<path fill="#360006" d="M605.79 101.6h4.7v4.91h-4.7zM605.79 106.2h4.7v4.91h-4.7zM623.39 106.2h4.7v4.91h-4.7zM588.18 110.81h4.7v4.91h-4.7zM627.79 110.81h4.7v4.91h-4.7zM601.38 115.42h4.7v4.91h-4.7zM579.38 120.02h4.7v4.91h-4.7zM601.38 120.02h4.7v4.91h-4.7zM574.97 124.63h4.7v4.91h-4.7zM627.79 129.24h4.7v4.91h-4.7zM601.38 133.84h4.7v4.91h-4.7zM605.79 133.84h4.7v4.91h-4.7zM623.39 138.45h4.7v4.91h-4.7zM605.79 147.66h4.7v4.91h-4.7zM623.39 147.66h4.7v4.91h-4.7zM605.79 152.27h4.7v4.91h-4.7zM623.39 152.27h4.7v4.91h-4.7zM623.39 156.88h4.7v4.91h-4.7zM588.18 161.48h4.7v4.91h-4.7zM583.78 166.09h4.7v4.91h-4.7zM614.59 175.3h4.7v4.91h-4.7zM592.58 179.91h4.7v4.91h-4.7zM592.58 184.52h4.7v4.91h-4.7zM605.79 189.12h4.7v4.91h-4.7zM623.39 189.12h4.7v4.91h-4.7zM592.58 193.73h4.7v4.91h-4.7zM614.59 193.73h4.7v4.91h-4.7zM592.58 198.34h4.7v4.91h-4.7zM614.59 198.34h4.7v4.91h-4.7zM636.6 198.34h4.7v4.91h-4.7zM605.79 202.94h4.7v4.91h-4.7zM636.6 202.94h4.7v4.91h-4.7zM605.79 207.55h4.7v4.91h-4.7zM610.19 212.16h4.7v4.91h-4.7zM632.2 216.76h4.7v4.91h-4.7zM636.6 216.76h4.7v4.91h-4.7z"/>
<path fill="#420606" d="M610.19 101.6h4.7v4.91h-4.7zM583.78 110.81h4.7v4.91h-4.7zM632.2 110.81h4.7v4.91h-4.7zM570.57 120.02h4.7v4.91h-4.7zM610.19 133.84h4.7v4.91h-4.7zM627.79 138.45h4.7v4.91h-4.7zM618.99 152.27h4.7v4.91h-4.7zM583.78 156.88h4.7v4.91h-4.7zM583.78 170.7h4.7v4.91h-4.7zM592.58 189.12h4.7v4.91h-4.7zM610.19 189.12h4.7v4.91h-4.7zM601.38 202.94h4.7v4.91h-4.7zM636.6 212.16h4.7v4.91h-4.7zM636.6 221.37h4.7v4.91h-4.7z"/>
<path fill="#420006" d="M614.59 101.6h4.7v4.91h-4.7zM574.97 110.81h4.7v4.91h-4.7zM579.38 110.81h4.7v4.91h-4.7zM592.58 110.81h4.7v4.91h-4.7zM601.38 110.81h4.7v4.91h-4.7zM610.19 110.81h4.7v4.91h-4.7zM618.99 115.42h4.7v4.91h-4.7zM627.79 115.42h4.7v4.91h-4.7zM574.97 120.02h4.7v4.91h-4.7zM583.78 120.02h4.7v4.91h-4.7zM588.18 120.02h4.7v4.91h-4.7zM592.58 120.02h4.7v4.91h-4.7zM588.18 124.63h4.7v4.91h-4.7zM592.58 124.63h4.7v4.91h-4.7zM583.78 129.24h4.7v4.91h-4.7zM588.18 129.24h4.7v4.91h-4.7zM596.98 129.24h4.7v4.91h-4.7zM610.19 129.24h4.7v4.91h-4.7zM614.59 129.24h4.7v4.91h-4.7zM636.6 129.24h4.7v4.91h-4.7zM588.18 133.84h4.7v4.91h-4.7zM614.59 133.84h4.7v4.91h-4.7zM623.39 133.84h4.7v4.91h-4.7zM588.18 138.45h4.7v4.91h-4.7zM632.2 138.45h4.7v4.91h-4.7zM601.38 143.06h4.7v4.91h-4.7zM605.79 143.06h4.7v4.91h-4.7zM614.59 143.06h4.7v4.91h-4.7zM636.6 143.06h4.7v4.91h-4.7zM592.58 147.66h4.7v4.91h-4.7zM596.98 147.66h4.7v4.91h-4.7zM632.2 147.66h4.7v4.91h-4.7zM636.6 147.66h4.7v4.91h-4.7zM610.19 152.27h4.7v4.91h-4.7zM596.98 156.88h4.7v4.91h-4.7zM610.19 156.88h4.7v4.91h-4.7zM618.99 156.88h4.7v4.91h-4.7zM614.59 161.48h4.7v4.91h-4.7zM627.79 166.09h4.7v4.91h-4.7zM636.6 166.09h4.7v4.91h-4.7zM601.38 170.7h4.7v4.91h-4.7zM610.19 170.7h4.7v4.91h-4.7zM614.59 170.7h4.7v4.91h-4.7zM623.39 170.7h4.7v4.91h-4.7zM636.6 170.7h4.7v4.91h-4.7zM588.18 175.3h4.7v4.91h-4.7zM592.58 175.3h4.7v4.91h-4.7zM623.39 175.3h4.7v4.91h-4.7zM632.2 175.3h4.7v4.91h-4.7zM596.98 179.91h4.7v4.91h-4.7zM605.79 179.91h4.7v4.91h-4.7zM627.79 179.91h4.7v4.91h-4.7zM632.2 179.91h4.7v4.91h-4.7zM636.6 179.91h4.7v4.91h-4.7zM605.79 184.52h4.7v4.91h-4.7zM610.19 184.52h4.7v4.91h-4.7zM618.99 184.52h4.7v4.91h-4.7zM632.2 184.52h4.7v4.91h-4.7zM601.38 189.12h4.7v4.91h-4.7zM614.59 189.12h4.7v4.91h-4.7zM632.2 189.12h4.7v4.91h-4.7zM636.6 189.12h4.7v4.91h-4.7zM601.38 193.73h4.7v4.91h-4.7zM618.99 193.73h4.7v4.91h-4.7zM627.79 193.73h4.7v4.91h-4.7zM601.38 198.34h4.7v4.91h-4.7zM610.19 198.34h4.7v4.91h-4.7zM614.59 202.94h4.7v4.91h-4.7zM627.79 202.94h4.7v4.91h-4.7zM632.2 202.94h4.7v4.91h-4.7zM614.59 207.55h4.7v4.91h-4.7zM623.39 207.55h4.7v4.91h-4.7zM614.59 212.16h4.7v4.91h-4.7zM618.99 212.16h4.7v4.91h-4.7zM632.2 212.16h4.7v4.91h-4.7zM623.39 216.76h4.7v4.91h-4.7z"/>
<path fill="#540606" d="M618.99 101.6h4.7v4.91h-4.7zM632.2 120.02h4.7v4.91h-4.7zM623.39 124.63h4.7v4.91h-4.7zM592.58 143.06h4.7v4.91h-4.7zM592.58 156.88h4.7v4.91h-4.7zM605.79 161.48h4.7v4.91h-4.7zM623.39 166.09h4.7v4.91h-4.7zM618.99 170.7h4.7v4.91h-4.7zM618.99 202.94h4.7v4.91h-4.7zM636.6 207.55h4.7v4.91h-4.7z"/>
<path fill="#4e0606" d="M623.39 101.6h4.7v4.91h-4.7zM596.98 106.2h4.7v4.91h-4.7zM632.2 106.2h4.7v4.91h-4.7zM623.39 115.42h4.7v4.91h-4.7zM566.17 120.02h4.7v4.91h-4.7zM610.19 120.02h4.7v4.91h-4.7zM614.59 120.02h4.7v4.91h-4.7zM636.6 120.02h4.7v4.91h-4.7zM632.2 124.63h4.7v4.91h-4.7zM605.79 129.24h4.7v4.91h-4.7zM579.38 133.84h4.7v4.91h-4.7zM583.78 133.84h4.7v4.91h-4.7zM596.98 133.84h4.7v4.91h-4.7zM605.79 138.45h4.7v4.91h-4.7zM618.99 138.45h4.7v4.91h-4.7zM588.18 143.06h4.7v4.91h-4.7zM618.99 143.06h4.7v4.91h-4.7zM588.18 147.66h4.7v4.91h-4.7zM614.59 147.66h4.7v4.91h-4.7zM636.6 152.27h4.7v4.91h-4.7zM636.6 161.48h4.7v4.91h-4.7zM610.19 166.09h4.7v4.91h-4.7zM614.59 166.09h4.7v4.91h-4.7zM632.2 166.09h4.7v4.91h-4.7zM592.58 170.7h4.7v4.91h-4.7zM632.2 170.7h4.7v4.91h-4.7zM610.19 175.3h4.7v4.91h-4.7zM627.79 175.3h4.7v4.91h-4.7zM601.38 184.52h4.7v4.91h-4.7zM627.79 189.12h4.7v4.91h-4.7zM632.2 193.73h4.7v4.91h-4.7zM618.99 198.34h4.7v4.91h-4.7z"/>
<path fill="#3c0006" d="M627.79 101.6h4.7v4.91h-4.7zM632.2 101.6h4.7v4.91h-4.7zM588.18 106.2h4.7v4.91h-4.7zM592.58 106.2h4.7v4.91h-4.7zM610.19 106.2h4.7v4.91h-4.7zM627.79 106.2h4.7v4.91h-4.7zM605.79 110.81h4.7v4.91h-4.7zM623.39 110.81h4.7v4.91h-4.7zM566.17 115.42h4.7v4.91h-4.7zM570.57 115.42h4.7v4.91h-4.7zM588.18 115.42h4.7v4.91h-4.7zM596.98 115.42h4.7v4.91h-4.7zM605.79 115.42h4.7v4.91h-4.7zM610.19 115.42h4.7v4.91h-4.7zM614.59 115.42h4.7v4.91h-4.7zM632.2 115.42h4.7v4.91h-4.7zM561.77 120.02h4.7v4.91h-4.7zM605.79 120.02h4.7v4.91h-4.7zM623.39 120.02h4.7v4.91h-4.7zM627.79 120.02h4.7v4.91h-4.7zM596.98 124.63h4.7v4.91h-4.7zM601.38 124.63h4.7v4.91h-4.7zM610.19 124.63h4.7v4.91h-4.7zM636.6 124.63h4.7v4.91h-4.7zM574.97 129.24h4.7v4.91h-4.7zM579.38 129.24h4.7v4.91h-4.7zM592.58 133.84h4.7v4.91h-4.7zM583.78 138.45h4.7v4.91h-4.7zM601.38 138.45h4.7v4.91h-4.7zM614.59 138.45h4.7v4.91h-4.7zM583.78 143.06h4.7v4.91h-4.7zM596.98 143.06h4.7v4.91h-4.7zM627.79 143.06h4.7v4.91h-4.7zM632.2 143.06h4.7v4.91h-4.7zM610.19 147.66h4.7v4.91h-4.7zM618.99 147.66h4.7v4.91h-4.7zM627.79 147.66h4.7v4.91h-4.7zM627.79 152.27h4.7v4.91h-4.7zM588.18 156.88h4.7v4.91h-4.7zM588.18 166.09h4.7v4.91h-4.7zM596.98 166.09h4.7v4.91h-4.7zM588.18 170.7h4.7v4.91h-4.7zM596.98 175.3h4.7v4.91h-4.7zM588.18 179.91h4.7v4.91h-4.7zM601.38 179.91h4.7v4.91h-4.7zM610.19 179.91h4.7v4.91h-4.7zM623.39 179.91h4.7v4.91h-4.7zM614.59 184.52h4.7v4.91h-4.7zM623.39 184.52h4.7v4.91h-4.7zM618.99 189.12h4.7v4.91h-4.7zM605.79 193.73h4.7v4.91h-4.7zM610.19 193.73h4.7v4.91h-4.7zM623.39 193.73h4.7v4.91h-4.7zM636.6 193.73h4.7v4.91h-4.7zM632.2 198.34h4.7v4.91h-4.7zM610.19 207.55h4.7v4.91h-4.7zM632.2 207.55h4.7v4.91h-4.7zM627.79 212.16h4.7v4.91h-4.7zM627.79 216.76h4.7v4.91h-4.7z"/>
<path fill="#480006" d="M636.6 101.6h4.7v4.91h-4.7zM618.99 110.81h4.7v4.91h-4.7zM636.6 110.81h4.7v4.91h-4.7zM636.6 115.42h4.7v4.91h-4.7zM618.99 120.02h4.7v4.91h-4.7zM579.38 124.63h4.7v4.91h-4.7zM583.78 124.63h4.7v4.91h-4.7zM623.39 129.24h4.7v4.91h-4.7zM636.6 133.84h4.7v4.91h-4.7zM610.19 143.06h4.7v4.91h-4.7zM588.18 152.27h4.7v4.91h-4.7zM592.58 152.27h4.7v4.91h-4.7zM596.98 152.27h4.7v4.91h-4.7zM614.59 152.27h4.7v4.91h-4.7zM632.2 152.27h4.7v4.91h-4.7zM601.38 156.88h4.7v4.91h-4.7zM605.79 156.88h4.7v4.91h-4.7zM627.79 156.88h4.7v4.91h-4.7zM636.6 156.88h4.7v4.91h-4.7zM596.98 161.48h4.7v4.91h-4.7zM610.19 161.48h4.7v4.91h-4.7zM618.99 161.48h4.7v4.91h-4.7zM605.79 166.09h4.7v4.91h-4.7zM618.99 166.09h4.7v4.91h-4.7zM596.98 170.7h4.7v4.91h-4.7zM627.79 170.7h4.7v4.91h-4.7zM601.38 175.3h4.7v4.91h-4.7zM605.79 175.3h4.7v4.91h-4.7zM618.99 175.3h4.7v4.91h-4.7zM636.6 175.3h4.7v4.91h-4.7zM614.59 179.91h4.7v4.91h-4.7zM627.79 184.52h4.7v4.91h-4.7zM623.39 198.34h4.7v4.91h-4.7zM627.79 198.34h4.7v4.91h-4.7zM610.19 202.94h4.7v4.91h-4.7zM618.99 207.55h4.7v4.91h-4.7zM623.39 212.16h4.7v4.91h-4.7z"/>
<path fill="#4e24ea" d="M407.71 106.2h4.7v4.91h-4.7zM425.31 161.48h4.7v4.91h-4.7z"/>
<path fill="#4830fc" d="M460.53 106.2h4.7v4.91h-4.7zM469.33 152.27h4.7v4.91h-4.7zM464.93 156.88h4.7v4.91h-4.7zM469.33 156.88h4.7v4.91h-4.7zM403.3 290.47h4.7v4.91h-4.7zM403.3 295.07h4.7v4.91h-4.7z"/>
<path fill="#422af0" d="M478.13 106.2h4.7v4.91h-4.7zM456.12 110.81h4.7v4.91h-4.7zM478.13 110.81h4.7v4.91h-4.7zM442.92 138.45h4.7v4.91h-4.7z"/>
<path fill="#3c24cc" d="M482.54 106.2h4.7v4.91h-4.7z"/>
<path fill="#301ede" d="M486.94 106.2h4.7v4.91h-4.7z"/>
<path fill="#2a18cc" d="M495.74 106.2h4.7v4.91h-4.7zM478.13 216.76h4.7v4.91h-4.7z"/>
<path fill="#3012a8" d="M504.54 106.2h4.7v4.91h-4.7z"/>
<path fill="#2a0c66" d="M513.35 106.2h4.7v4.91h-4.7z"/>
<path fill="#18065a" d="M517.75 106.2h4.7v4.91h-4.7z"/>
<path fill="#18064e" d="M522.15 106.2h4.7v4.91h-4.7z"/>
<path fill="#180c48" d="M526.55 106.2h4.7v4.91h-4.7zM500.14 175.3h4.7v4.91h-4.7z"/>
<path fill="#120648" d="M530.96 106.2h4.7v4.91h-4.7zM535.36 106.2h4.7v4.91h-4.7z"/>
<path fill="#240c48" d="M539.76 106.2h4.7v4.91h-4.7z"/>
<path fill="#120642" d="M544.16 106.2h4.7v4.91h-4.7z"/>
<path fill="#120036" d="M548.56 106.2h4.7v4.91h-4.7z"/>
<path fill="#240630" d="M552.96 106.2h4.7v4.91h-4.7z"/>
<path fill="#30062a" d="M557.37 106.2h4.7v4.91h-4.7z"/>
<path fill="#420618" d="M566.17 106.2h4.7v4.91h-4.7z"/>
<path fill="#480618" d="M570.57 106.2h4.7v4.91h-4.7z"/>
<path fill="#480612" d="M574.97 106.2h4.7v4.91h-4.7z"/>
<path fill="#480606" d="M601.38 106.2h4.7v4.91h-4.7zM618.99 106.2h4.7v4.91h-4.7zM614.59 110.81h4.7v4.91h-4.7zM579.38 115.42h4.7v4.91h-4.7zM583.78 115.42h4.7v4.91h-4.7zM566.17 124.63h4.7v4.91h-4.7zM570.57 124.63h4.7v4.91h-4.7zM627.79 124.63h4.7v4.91h-4.7zM601.38 129.24h4.7v4.91h-4.7zM632.2 129.24h4.7v4.91h-4.7zM618.99 133.84h4.7v4.91h-4.7zM632.2 133.84h4.7v4.91h-4.7zM610.19 138.45h4.7v4.91h-4.7zM623.39 143.06h4.7v4.91h-4.7zM583.78 147.66h4.7v4.91h-4.7zM592.58 161.48h4.7v4.91h-4.7zM605.79 170.7h4.7v4.91h-4.7zM618.99 179.91h4.7v4.91h-4.7zM596.98 184.52h4.7v4.91h-4.7zM636.6 184.52h4.7v4.91h-4.7zM596.98 193.73h4.7v4.91h-4.7zM596.98 198.34h4.7v4.91h-4.7z"/>
<path fill="#300006" d="M614.59 106.2h4.7v4.91h-4.7zM596.98 110.81h4.7v4.91h-4.7zM557.37 115.42h4.7v4.91h-4.7zM574.97 115.42h4.7v4.91h-4.7zM592.58 115.42h4.7v4.91h-4.7zM570.57 129.24h4.7v4.91h-4.7zM592.58 129.24h4.7v4.91h-4.7zM574.97 133.84h4.7v4.91h-4.7zM574.97 143.06h4.7v4.91h-4.7zM574.97 147.66h4.7v4.91h-4.7zM579.38 147.66h4.7v4.91h-4.7zM601.38 147.66h4.7v4.91h-4.7zM579.38 152.27h4.7v4.91h-4.7zM583.78 152.27h4.7v4.91h-4.7zM601.38 152.27h4.7v4.91h-4.7zM579.38 156.88h4.7v4.91h-4.7zM583.78 161.48h4.7v4.91h-4.7zM583.78 175.3h4.7v4.91h-4.7zM610.19 216.76h4.7v4.91h-4.7zM623.39 221.37h4.7v4.91h-4.7zM627.79 221.37h4.7v4.91h-4.7z"/>
<path fill="#4e0006" d="M636.6 106.2h4.7v4.91h-4.7zM614.59 124.63h4.7v4.91h-4.7zM618.99 129.24h4.7v4.91h-4.7zM596.98 138.45h4.7v4.91h-4.7zM614.59 156.88h4.7v4.91h-4.7zM601.38 161.48h4.7v4.91h-4.7zM623.39 161.48h4.7v4.91h-4.7zM627.79 161.48h4.7v4.91h-4.7zM601.38 166.09h4.7v4.91h-4.7zM605.79 198.34h4.7v4.91h-4.7zM623.39 202.94h4.7v4.91h-4.7zM627.79 207.55h4.7v4.91h-4.7z"/>
<path fill="#5424ea" d="M429.71 110.81h4.7v4.91h-4.7zM425.31 212.16h4.7v4.91h-4.7zM412.11 216.76h4.7v4.91h-4.7zM403.3 276.65h4.7v4.91h-4.7z"/>
<path fill="#4e36fc" d="M464.93 110.81h4.7v4.91h-4.7zM464.93 115.42h4.7v4.91h-4.7zM464.93 152.27h4.7v4.91h-4.7z"/>
<path fill="#4830f0" d="M469.33 110.81h4.7v4.91h-4.7zM478.13 120.02h4.7v4.91h-4.7zM460.53 152.27h4.7v4.91h-4.7z"/>
<path fill="#422ac6" d="M482.54 110.81h4.7v4.91h-4.7z"/>
<path fill="#361ec6" d="M486.94 110.81h4.7v4.91h-4.7zM482.54 212.16h4.7v4.91h-4.7zM632.2 258.22h4.7v4.91h-4.7z"/>
<path fill="#361ecc" d="M491.34 110.81h4.7v4.91h-4.7zM482.54 202.94h4.7v4.91h-4.7zM486.94 212.16h4.7v4.91h-4.7zM456.12 216.76h4.7v4.91h-4.7z"/>
<path fill="#2a18b4" d="M495.74 110.81h4.7v4.91h-4.7z"/>
<path fill="#36189c" d="M500.14 110.81h4.7v4.91h-4.7z"/>
<path fill="#240c84" d="M504.54 110.81h4.7v4.91h-4.7z"/>
<path fill="#240c66" d="M508.95 110.81h4.7v4.91h-4.7z"/>
<path fill="#12064e" d="M513.35 110.81h4.7v4.91h-4.7z"/>
<path fill="#000036" d="M517.75 110.81h4.7v4.91h-4.7z"/>
<path fill="#0c062a" d="M522.15 110.81h4.7v4.91h-4.7zM504.54 179.91h4.7v4.91h-4.7zM557.37 235.19h4.7v4.91h-4.7z"/>
<path fill="#000024" d="M526.55 110.81h4.7v4.91h-4.7z"/>
<path fill="#0c061e" d="M530.96 110.81h4.7v4.91h-4.7zM552.96 230.58h4.7v4.91h-4.7zM618.99 239.8h4.7v4.91h-4.7z"/>
<path fill="#00001e" d="M535.36 110.81h4.7v4.91h-4.7zM513.35 193.73h4.7v4.91h-4.7z"/>
<path fill="#120c18" d="M539.76 110.81h4.7v4.91h-4.7z"/>
<path fill="#0c0018" d="M544.16 110.81h4.7v4.91h-4.7z"/>
<path fill="#180612" d="M548.56 110.81h4.7v4.91h-4.7z"/>
<path fill="#240612" d="M552.96 110.81h4.7v4.91h-4.7zM627.79 235.19h4.7v4.91h-4.7z"/>
<path fill="#360612" d="M557.37 110.81h4.7v4.91h-4.7z"/>
<path fill="#4230f0" d="M456.12 115.42h4.7v4.91h-4.7zM473.73 120.02h4.7v4.91h-4.7zM451.72 133.84h4.7v4.91h-4.7zM451.72 138.45h4.7v4.91h-4.7z"/>
<path fill="#4230fc" d="M460.53 115.42h4.7v4.91h-4.7zM473.73 152.27h4.7v4.91h-4.7zM394.5 290.47h4.7v4.91h-4.7zM394.5 295.07h4.7v4.91h-4.7zM398.9 295.07h4.7v4.91h-4.7zM403.3 299.68h4.7v4.91h-4.7z"/>
<path fill="#4230e4" d="M469.33 115.42h4.7v4.91h-4.7zM460.53 147.66h4.7v4.91h-4.7z"/>
<path fill="#3c30fc" d="M473.73 115.42h4.7v4.91h-4.7zM464.93 133.84h4.7v4.91h-4.7zM473.73 143.06h4.7v4.91h-4.7zM469.33 147.66h4.7v4.91h-4.7zM447.32 225.98h4.7v4.91h-4.7zM425.31 230.58h4.7v4.91h-4.7zM420.91 244.4h4.7v4.91h-4.7zM420.91 249.01h4.7v4.91h-4.7zM412.11 285.86h4.7v4.91h-4.7z"/>
<path fill="#4830f6" d="M478.13 115.42h4.7v4.91h-4.7zM451.72 120.02h4.7v4.91h-4.7z"/>
<path fill="#422ade" d="M482.54 115.42h4.7v4.91h-4.7z"/>
<path fill="#3624c0" d="M486.94 115.42h4.7v4.91h-4.7z"/>
<path fill="#1e12ae" d="M491.34 115.42h4.7v4.91h-4.7z"/>
<path fill="#301896" d="M495.74 115.42h4.7v4.91h-4.7z"/>
<path fill="#1e1272" d="M500.14 115.42h4.7v4.91h-4.7z"/>
<path fill="#1e0c5a" d="M504.54 115.42h4.7v4.91h-4.7z"/>
<path fill="#0c063c" d="M508.95 115.42h4.7v4.91h-4.7z"/>
<path fill="#0c0c24" d="M513.35 115.42h4.7v4.91h-4.7zM574.97 239.8h4.7v4.91h-4.7z"/>
<path fill="#000012" d="M517.75 115.42h4.7v4.91h-4.7zM500.14 152.27h4.7v4.91h-4.7z"/>
<path fill="#120c0c" d="M522.15 115.42h4.7v4.91h-4.7zM530.96 120.02h4.7v4.91h-4.7zM539.76 129.24h4.7v4.91h-4.7zM504.54 133.84h4.7v4.91h-4.7zM504.54 138.45h4.7v4.91h-4.7zM508.95 166.09h4.7v4.91h-4.7zM530.96 170.7h4.7v4.91h-4.7zM513.35 175.3h4.7v4.91h-4.7zM517.75 175.3h4.7v4.91h-4.7zM557.37 175.3h4.7v4.91h-4.7zM530.96 184.52h4.7v4.91h-4.7zM544.16 184.52h4.7v4.91h-4.7zM544.16 193.73h4.7v4.91h-4.7zM548.56 193.73h4.7v4.91h-4.7zM544.16 198.34h4.7v4.91h-4.7zM552.96 202.94h4.7v4.91h-4.7zM552.96 207.55h4.7v4.91h-4.7zM535.36 212.16h4.7v4.91h-4.7zM570.57 216.76h4.7v4.91h-4.7zM566.17 235.19h4.7v4.91h-4.7z"/>
<path fill="#06060c" d="M526.55 115.42h4.7v4.91h-4.7zM513.35 120.02h4.7v4.91h-4.7zM517.75 120.02h4.7v4.91h-4.7zM508.95 124.63h4.7v4.91h-4.7zM535.36 124.63h4.7v4.91h-4.7zM539.76 124.63h4.7v4.91h-4.7zM504.54 129.24h4.7v4.91h-4.7zM522.15 129.24h4.7v4.91h-4.7zM513.35 133.84h4.7v4.91h-4.7zM535.36 133.84h4.7v4.91h-4.7zM522.15 138.45h4.7v4.91h-4.7zM504.54 143.06h4.7v4.91h-4.7zM522.15 156.88h4.7v4.91h-4.7zM517.75 161.48h4.7v4.91h-4.7zM513.35 166.09h4.7v4.91h-4.7zM530.96 166.09h4.7v4.91h-4.7zM522.15 170.7h4.7v4.91h-4.7zM522.15 175.3h4.7v4.91h-4.7zM526.55 175.3h4.7v4.91h-4.7zM508.95 179.91h4.7v4.91h-4.7zM526.55 179.91h4.7v4.91h-4.7zM544.16 179.91h4.7v4.91h-4.7zM517.75 189.12h4.7v4.91h-4.7zM544.16 189.12h4.7v4.91h-4.7zM522.15 198.34h4.7v4.91h-4.7zM526.55 198.34h4.7v4.91h-4.7zM570.57 207.55h4.7v4.91h-4.7zM566.17 216.76h4.7v4.91h-4.7zM552.96 221.37h4.7v4.91h-4.7zM552.96 225.98h4.7v4.91h-4.7zM561.77 230.58h4.7v4.91h-4.7z"/>
<path fill="#0c0606" d="M530.96 115.42h4.7v4.91h-4.7zM539.76 115.42h4.7v4.91h-4.7zM544.16 129.24h4.7v4.91h-4.7zM517.75 133.84h4.7v4.91h-4.7zM539.76 138.45h4.7v4.91h-4.7zM544.16 138.45h4.7v4.91h-4.7zM513.35 143.06h4.7v4.91h-4.7zM539.76 143.06h4.7v4.91h-4.7zM522.15 147.66h4.7v4.91h-4.7zM535.36 147.66h4.7v4.91h-4.7zM548.56 147.66h4.7v4.91h-4.7zM535.36 152.27h4.7v4.91h-4.7zM539.76 152.27h4.7v4.91h-4.7zM552.96 152.27h4.7v4.91h-4.7zM557.37 152.27h4.7v4.91h-4.7zM530.96 156.88h4.7v4.91h-4.7zM544.16 156.88h4.7v4.91h-4.7zM513.35 161.48h4.7v4.91h-4.7zM552.96 161.48h4.7v4.91h-4.7zM517.75 166.09h4.7v4.91h-4.7zM544.16 166.09h4.7v4.91h-4.7zM548.56 170.7h4.7v4.91h-4.7zM535.36 175.3h4.7v4.91h-4.7zM535.36 179.91h4.7v4.91h-4.7zM548.56 189.12h4.7v4.91h-4.7zM552.96 189.12h4.7v4.91h-4.7zM561.77 189.12h4.7v4.91h-4.7zM557.37 193.73h4.7v4.91h-4.7zM561.77 193.73h4.7v4.91h-4.7zM530.96 198.34h4.7v4.91h-4.7zM561.77 198.34h4.7v4.91h-4.7zM530.96 202.94h4.7v4.91h-4.7zM557.37 202.94h4.7v4.91h-4.7zM561.77 202.94h4.7v4.91h-4.7zM548.56 207.55h4.7v4.91h-4.7zM557.37 212.16h4.7v4.91h-4.7zM579.38 212.16h4.7v4.91h-4.7zM561.77 221.37h4.7v4.91h-4.7zM583.78 221.37h4.7v4.91h-4.7zM570.57 225.98h4.7v4.91h-4.7zM588.18 235.19h4.7v4.91h-4.7zM592.58 235.19h4.7v4.91h-4.7z"/>
<path fill="#0c0c0c" d="M535.36 115.42h4.7v4.91h-4.7zM530.96 133.84h4.7v4.91h-4.7zM513.35 138.45h4.7v4.91h-4.7zM517.75 156.88h4.7v4.91h-4.7zM526.55 170.7h4.7v4.91h-4.7zM535.36 189.12h4.7v4.91h-4.7zM566.17 225.98h4.7v4.91h-4.7zM557.37 230.58h4.7v4.91h-4.7zM570.57 235.19h4.7v4.91h-4.7z"/>
<path fill="#120606" d="M544.16 115.42h4.7v4.91h-4.7zM548.56 124.63h4.7v4.91h-4.7zM552.96 129.24h4.7v4.91h-4.7zM561.77 161.48h4.7v4.91h-4.7zM548.56 166.09h4.7v4.91h-4.7zM561.77 166.09h4.7v4.91h-4.7zM561.77 170.7h4.7v4.91h-4.7zM552.96 179.91h4.7v4.91h-4.7zM561.77 179.91h4.7v4.91h-4.7zM566.17 193.73h4.7v4.91h-4.7zM570.57 198.34h4.7v4.91h-4.7zM570.57 202.94h4.7v4.91h-4.7zM592.58 230.58h4.7v4.91h-4.7z"/>
<path fill="#0c0006" d="M548.56 115.42h4.7v4.91h-4.7zM561.77 175.3h4.7v4.91h-4.7zM566.17 175.3h4.7v4.91h-4.7zM566.17 184.52h4.7v4.91h-4.7zM592.58 216.76h4.7v4.91h-4.7z"/>
<path fill="#240606" d="M552.96 115.42h4.7v4.91h-4.7zM552.96 124.63h4.7v4.91h-4.7zM561.77 138.45h4.7v4.91h-4.7zM566.17 147.66h4.7v4.91h-4.7zM566.17 161.48h4.7v4.91h-4.7zM570.57 161.48h4.7v4.91h-4.7zM574.97 175.3h4.7v4.91h-4.7zM574.97 179.91h4.7v4.91h-4.7zM583.78 198.34h4.7v4.91h-4.7zM618.99 230.58h4.7v4.91h-4.7z"/>
<path fill="#5a0c06" d="M561.77 115.42h4.7v4.91h-4.7zM592.58 138.45h4.7v4.91h-4.7zM632.2 156.88h4.7v4.91h-4.7z"/>
<path fill="#4824f6" d="M394.5 120.02h4.7v4.91h-4.7zM398.9 156.88h4.7v4.91h-4.7zM412.11 253.61h4.7v4.91h-4.7zM407.71 276.65h4.7v4.91h-4.7z"/>
<path fill="#4830ea" d="M456.12 120.02h4.7v4.91h-4.7zM447.32 143.06h4.7v4.91h-4.7z"/>
<path fill="#4836ea" d="M460.53 120.02h4.7v4.91h-4.7zM460.53 124.63h4.7v4.91h-4.7zM473.73 138.45h4.7v4.91h-4.7z"/>
<path fill="#3c30ea" d="M464.93 120.02h4.7v4.91h-4.7zM456.12 129.24h4.7v4.91h-4.7z"/>
<path fill="#4e36ea" d="M469.33 120.02h4.7v4.91h-4.7z"/>
<path fill="#3624d2" d="M482.54 120.02h4.7v4.91h-4.7zM464.93 221.37h4.7v4.91h-4.7z"/>
<path fill="#422ac0" d="M486.94 120.02h4.7v4.91h-4.7z"/>
<path fill="#1e18ae" d="M491.34 120.02h4.7v4.91h-4.7zM513.35 212.16h4.7v4.91h-4.7z"/>
<path fill="#18128a" d="M495.74 120.02h4.7v4.91h-4.7zM491.34 138.45h4.7v4.91h-4.7zM517.75 212.16h4.7v4.91h-4.7z"/>
<path fill="#1e125a" d="M500.14 120.02h4.7v4.91h-4.7z"/>
<path fill="#120c30" d="M504.54 120.02h4.7v4.91h-4.7zM500.14 170.7h4.7v4.91h-4.7z"/>
<path fill="#000018" d="M508.95 120.02h4.7v4.91h-4.7zM508.95 184.52h4.7v4.91h-4.7zM526.55 207.55h4.7v4.91h-4.7z"/>
<path fill="#000006" d="M522.15 120.02h4.7v4.91h-4.7zM539.76 133.84h4.7v4.91h-4.7zM544.16 133.84h4.7v4.91h-4.7zM535.36 138.45h4.7v4.91h-4.7zM548.56 138.45h4.7v4.91h-4.7zM517.75 143.06h4.7v4.91h-4.7zM544.16 143.06h4.7v4.91h-4.7zM504.54 147.66h4.7v4.91h-4.7zM513.35 147.66h4.7v4.91h-4.7zM526.55 147.66h4.7v4.91h-4.7zM504.54 152.27h4.7v4.91h-4.7zM557.37 156.88h4.7v4.91h-4.7zM539.76 161.48h4.7v4.91h-4.7zM557.37 161.48h4.7v4.91h-4.7zM522.15 166.09h4.7v4.91h-4.7zM535.36 166.09h4.7v4.91h-4.7zM552.96 166.09h4.7v4.91h-4.7zM561.77 184.52h4.7v4.91h-4.7zM530.96 193.73h4.7v4.91h-4.7zM535.36 193.73h4.7v4.91h-4.7zM570.57 193.73h4.7v4.91h-4.7zM557.37 198.34h4.7v4.91h-4.7zM566.17 198.34h4.7v4.91h-4.7zM548.56 202.94h4.7v4.91h-4.7zM535.36 207.55h4.7v4.91h-4.7zM539.76 207.55h4.7v4.91h-4.7zM557.37 207.55h4.7v4.91h-4.7zM544.16 212.16h4.7v4.91h-4.7zM561.77 212.16h4.7v4.91h-4.7zM557.37 216.76h4.7v4.91h-4.7zM557.37 225.98h4.7v4.91h-4.7zM583.78 230.58h4.7v4.91h-4.7z"/>
<path fill="#000606" d="M526.55 120.02h4.7v4.91h-4.7zM530.96 138.45h4.7v4.91h-4.7zM504.54 156.88h4.7v4.91h-4.7zM526.55 193.73h4.7v4.91h-4.7z"/>
<path fill="#00000c" d="M535.36 120.02h4.7v4.91h-4.7zM539.76 120.02h4.7v4.91h-4.7zM513.35 124.63h4.7v4.91h-4.7zM526.55 124.63h4.7v4.91h-4.7zM522.15 133.84h4.7v4.91h-4.7zM526.55 133.84h4.7v4.91h-4.7zM508.95 138.45h4.7v4.91h-4.7zM526.55 138.45h4.7v4.91h-4.7zM526.55 143.06h4.7v4.91h-4.7zM513.35 152.27h4.7v4.91h-4.7zM517.75 152.27h4.7v4.91h-4.7zM513.35 156.88h4.7v4.91h-4.7zM526.55 156.88h4.7v4.91h-4.7zM504.54 161.48h4.7v4.91h-4.7zM504.54 166.09h4.7v4.91h-4.7zM544.16 175.3h4.7v4.91h-4.7zM548.56 175.3h4.7v4.91h-4.7zM522.15 179.91h4.7v4.91h-4.7zM530.96 179.91h4.7v4.91h-4.7zM566.17 207.55h4.7v4.91h-4.7zM548.56 221.37h4.7v4.91h-4.7zM566.17 221.37h4.7v4.91h-4.7z"/>
<path fill="#0c060c" d="M544.16 120.02h4.7v4.91h-4.7zM517.75 124.63h4.7v4.91h-4.7zM513.35 129.24h4.7v4.91h-4.7zM526.55 129.24h4.7v4.91h-4.7zM508.95 147.66h4.7v4.91h-4.7zM508.95 170.7h4.7v4.91h-4.7zM517.75 170.7h4.7v4.91h-4.7zM552.96 175.3h4.7v4.91h-4.7zM548.56 179.91h4.7v4.91h-4.7zM535.36 184.52h4.7v4.91h-4.7zM530.96 189.12h4.7v4.91h-4.7zM517.75 193.73h4.7v4.91h-4.7zM539.76 193.73h4.7v4.91h-4.7zM530.96 207.55h4.7v4.91h-4.7zM544.16 207.55h4.7v4.91h-4.7zM566.17 212.16h4.7v4.91h-4.7zM570.57 212.16h4.7v4.91h-4.7zM574.97 212.16h4.7v4.91h-4.7zM539.76 216.76h4.7v4.91h-4.7zM579.38 216.76h4.7v4.91h-4.7zM570.57 230.58h4.7v4.91h-4.7zM574.97 230.58h4.7v4.91h-4.7zM596.98 235.19h4.7v4.91h-4.7z"/>
<path fill="#180606" d="M548.56 120.02h4.7v4.91h-4.7zM561.77 147.66h4.7v4.91h-4.7zM566.17 170.7h4.7v4.91h-4.7zM570.57 175.3h4.7v4.91h-4.7zM574.97 184.52h4.7v4.91h-4.7zM574.97 189.12h4.7v4.91h-4.7zM574.97 193.73h4.7v4.91h-4.7zM579.38 202.94h4.7v4.91h-4.7zM588.18 216.76h4.7v4.91h-4.7zM592.58 221.37h4.7v4.91h-4.7zM601.38 230.58h4.7v4.91h-4.7zM618.99 235.19h4.7v4.91h-4.7z"/>
<path fill="#180006" d="M552.96 120.02h4.7v4.91h-4.7zM561.77 133.84h4.7v4.91h-4.7zM566.17 152.27h4.7v4.91h-4.7zM579.38 184.52h4.7v4.91h-4.7zM579.38 193.73h4.7v4.91h-4.7zM592.58 212.16h4.7v4.91h-4.7zM605.79 216.76h4.7v4.91h-4.7zM614.59 230.58h4.7v4.91h-4.7z"/>
<path fill="#300606" d="M557.37 120.02h4.7v4.91h-4.7zM557.37 124.63h4.7v4.91h-4.7zM574.97 152.27h4.7v4.91h-4.7zM574.97 166.09h4.7v4.91h-4.7zM588.18 202.94h4.7v4.91h-4.7zM592.58 207.55h4.7v4.91h-4.7zM614.59 221.37h4.7v4.91h-4.7zM618.99 221.37h4.7v4.91h-4.7zM618.99 225.98h4.7v4.91h-4.7zM623.39 225.98h4.7v4.91h-4.7z"/>
<path fill="#2a0006" d="M596.98 120.02h4.7v4.91h-4.7zM605.79 124.63h4.7v4.91h-4.7zM570.57 138.45h4.7v4.91h-4.7zM574.97 138.45h4.7v4.91h-4.7zM579.38 138.45h4.7v4.91h-4.7zM574.97 156.88h4.7v4.91h-4.7zM579.38 166.09h4.7v4.91h-4.7zM583.78 179.91h4.7v4.91h-4.7zM588.18 184.52h4.7v4.91h-4.7zM583.78 189.12h4.7v4.91h-4.7zM596.98 189.12h4.7v4.91h-4.7zM632.2 225.98h4.7v4.91h-4.7z"/>
<path fill="#3c2ad8" d="M451.72 124.63h4.7v4.91h-4.7zM495.74 207.55h4.7v4.91h-4.7z"/>
<path fill="#4230d8" d="M456.12 124.63h4.7v4.91h-4.7z"/>
<path fill="#4e3cfc" d="M464.93 124.63h4.7v4.91h-4.7zM469.33 138.45h4.7v4.91h-4.7z"/>
<path fill="#5a42fc" d="M469.33 124.63h4.7v4.91h-4.7z"/>
<path fill="#4236fc" d="M473.73 124.63h4.7v4.91h-4.7z"/>
<path fill="#3c30f0" d="M478.13 124.63h4.7v4.91h-4.7zM456.12 133.84h4.7v4.91h-4.7z"/>
<path fill="#362ad2" d="M482.54 124.63h4.7v4.91h-4.7z"/>
<path fill="#2a1ec0" d="M486.94 124.63h4.7v4.91h-4.7z"/>
<path fill="#301ea2" d="M491.34 124.63h4.7v4.91h-4.7z"/>
<path fill="#120c72" d="M495.74 124.63h4.7v4.91h-4.7z"/>
<path fill="#06063c" d="M500.14 124.63h4.7v4.91h-4.7zM517.75 202.94h4.7v4.91h-4.7z"/>
<path fill="#0c0618" d="M504.54 124.63h4.7v4.91h-4.7zM500.14 138.45h4.7v4.91h-4.7zM548.56 225.98h4.7v4.91h-4.7z"/>
<path fill="#18120c" d="M522.15 124.63h4.7v4.91h-4.7zM508.95 133.84h4.7v4.91h-4.7zM526.55 184.52h4.7v4.91h-4.7z"/>
<path fill="#060606" d="M530.96 124.63h4.7v4.91h-4.7zM517.75 129.24h4.7v4.91h-4.7zM517.75 138.45h4.7v4.91h-4.7zM522.15 143.06h4.7v4.91h-4.7zM530.96 143.06h4.7v4.91h-4.7zM535.36 143.06h4.7v4.91h-4.7zM517.75 147.66h4.7v4.91h-4.7zM544.16 147.66h4.7v4.91h-4.7zM522.15 152.27h4.7v4.91h-4.7zM508.95 156.88h4.7v4.91h-4.7zM522.15 161.48h4.7v4.91h-4.7zM526.55 161.48h4.7v4.91h-4.7zM530.96 161.48h4.7v4.91h-4.7zM526.55 166.09h4.7v4.91h-4.7zM539.76 166.09h4.7v4.91h-4.7zM535.36 170.7h4.7v4.91h-4.7zM552.96 170.7h4.7v4.91h-4.7zM530.96 175.3h4.7v4.91h-4.7zM539.76 175.3h4.7v4.91h-4.7zM513.35 179.91h4.7v4.91h-4.7zM539.76 179.91h4.7v4.91h-4.7zM513.35 184.52h4.7v4.91h-4.7zM517.75 184.52h4.7v4.91h-4.7zM548.56 184.52h4.7v4.91h-4.7zM552.96 184.52h4.7v4.91h-4.7zM535.36 202.94h4.7v4.91h-4.7zM539.76 202.94h4.7v4.91h-4.7zM544.16 202.94h4.7v4.91h-4.7zM561.77 207.55h4.7v4.91h-4.7zM539.76 212.16h4.7v4.91h-4.7zM548.56 212.16h4.7v4.91h-4.7zM552.96 212.16h4.7v4.91h-4.7zM552.96 216.76h4.7v4.91h-4.7zM561.77 216.76h4.7v4.91h-4.7zM557.37 221.37h4.7v4.91h-4.7zM570.57 221.37h4.7v4.91h-4.7zM561.77 225.98h4.7v4.91h-4.7zM574.97 225.98h4.7v4.91h-4.7zM579.38 225.98h4.7v4.91h-4.7zM566.17 230.58h4.7v4.91h-4.7zM579.38 230.58h4.7v4.91h-4.7zM579.38 235.19h4.7v4.91h-4.7z"/>
<path fill="#180c0c" d="M544.16 124.63h4.7v4.91h-4.7zM539.76 189.12h4.7v4.91h-4.7zM574.97 207.55h4.7v4.91h-4.7zM601.38 235.19h4.7v4.91h-4.7z"/>
<path fill="#360606" d="M561.77 124.63h4.7v4.91h-4.7zM566.17 129.24h4.7v4.91h-4.7zM570.57 133.84h4.7v4.91h-4.7zM579.38 161.48h4.7v4.91h-4.7zM579.38 170.7h4.7v4.91h-4.7zM601.38 207.55h4.7v4.91h-4.7z"/>
<path fill="#54060c" d="M618.99 124.63h4.7v4.91h-4.7z"/>
<path fill="#482af6" d="M429.71 129.24h4.7v4.91h-4.7zM434.12 147.66h4.7v4.91h-4.7zM469.33 161.48h4.7v4.91h-4.7zM412.11 272.04h4.7v4.91h-4.7zM394.5 285.86h4.7v4.91h-4.7z"/>
<path fill="#4e30f0" d="M447.32 129.24h4.7v4.91h-4.7zM447.32 133.84h4.7v4.91h-4.7z"/>
<path fill="#3c2ade" d="M451.72 129.24h4.7v4.91h-4.7zM478.13 143.06h4.7v4.91h-4.7z"/>
<path fill="#4836f0" d="M460.53 129.24h4.7v4.91h-4.7z"/>
<path fill="#4836fc" d="M464.93 129.24h4.7v4.91h-4.7z"/>
<path fill="#3c36fc" d="M469.33 129.24h4.7v4.91h-4.7zM398.9 304.29h4.7v4.91h-4.7z"/>
<path fill="#4e36e4" d="M473.73 129.24h4.7v4.91h-4.7z"/>
<path fill="#362ad8" d="M478.13 129.24h4.7v4.91h-4.7z"/>
<path fill="#3024c0" d="M482.54 129.24h4.7v4.91h-4.7z"/>
<path fill="#2a1eae" d="M486.94 129.24h4.7v4.91h-4.7z"/>
<path fill="#120c84" d="M491.34 129.24h4.7v4.91h-4.7zM495.74 175.3h4.7v4.91h-4.7z"/>
<path fill="#120c5a" d="M495.74 129.24h4.7v4.91h-4.7z"/>
<path fill="#00002a" d="M500.14 129.24h4.7v4.91h-4.7z"/>
<path fill="#00060c" d="M508.95 129.24h4.7v4.91h-4.7zM508.95 143.06h4.7v4.91h-4.7zM513.35 170.7h4.7v4.91h-4.7zM508.95 175.3h4.7v4.91h-4.7zM517.75 179.91h4.7v4.91h-4.7zM526.55 202.94h4.7v4.91h-4.7zM574.97 235.19h4.7v4.91h-4.7z"/>
<path fill="#0c0c06" d="M530.96 129.24h4.7v4.91h-4.7zM526.55 152.27h4.7v4.91h-4.7zM539.76 170.7h4.7v4.91h-4.7zM544.16 170.7h4.7v4.91h-4.7zM522.15 189.12h4.7v4.91h-4.7zM526.55 189.12h4.7v4.91h-4.7z"/>
<path fill="#1e120c" d="M535.36 129.24h4.7v4.91h-4.7z"/>
<path fill="#180c06" d="M548.56 129.24h4.7v4.91h-4.7zM552.96 156.88h4.7v4.91h-4.7zM557.37 179.91h4.7v4.91h-4.7zM539.76 184.52h4.7v4.91h-4.7zM557.37 184.52h4.7v4.91h-4.7zM552.96 193.73h4.7v4.91h-4.7zM548.56 216.76h4.7v4.91h-4.7zM583.78 216.76h4.7v4.91h-4.7zM579.38 221.37h4.7v4.91h-4.7zM588.18 221.37h4.7v4.91h-4.7zM588.18 225.98h4.7v4.91h-4.7z"/>
<path fill="#1e0006" d="M557.37 129.24h4.7v4.91h-4.7zM574.97 161.48h4.7v4.91h-4.7zM574.97 170.7h4.7v4.91h-4.7zM579.38 175.3h4.7v4.91h-4.7zM579.38 179.91h4.7v4.91h-4.7zM583.78 202.94h4.7v4.91h-4.7zM605.79 221.37h4.7v4.91h-4.7z"/>
<path fill="#2a0606" d="M561.77 129.24h4.7v4.91h-4.7zM570.57 147.66h4.7v4.91h-4.7zM579.38 189.12h4.7v4.91h-4.7zM588.18 207.55h4.7v4.91h-4.7zM596.98 212.16h4.7v4.91h-4.7zM601.38 212.16h4.7v4.91h-4.7zM610.19 221.37h4.7v4.91h-4.7zM627.79 225.98h4.7v4.91h-4.7zM623.39 230.58h4.7v4.91h-4.7z"/>
<path fill="#543ce4" d="M460.53 133.84h4.7v4.91h-4.7z"/>
<path fill="#4836f6" d="M469.33 133.84h4.7v4.91h-4.7z"/>
<path fill="#4836de" d="M473.73 133.84h4.7v4.91h-4.7z"/>
<path fill="#4230d2" d="M478.13 133.84h4.7v4.91h-4.7z"/>
<path fill="#3024cc" d="M482.54 133.84h4.7v4.91h-4.7zM504.54 207.55h4.7v4.91h-4.7z"/>
<path fill="#2a1ec6" d="M486.94 133.84h4.7v4.91h-4.7z"/>
<path fill="#241884" d="M491.34 133.84h4.7v4.91h-4.7z"/>
<path fill="#00004e" d="M495.74 133.84h4.7v4.91h-4.7z"/>
<path fill="#06061e" d="M500.14 133.84h4.7v4.91h-4.7zM500.14 161.48h4.7v4.91h-4.7zM579.38 239.8h4.7v4.91h-4.7zM583.78 239.8h4.7v4.91h-4.7zM588.18 239.8h4.7v4.91h-4.7zM592.58 239.8h4.7v4.91h-4.7z"/>
<path fill="#060006" d="M548.56 133.84h4.7v4.91h-4.7zM552.96 133.84h4.7v4.91h-4.7zM548.56 152.27h4.7v4.91h-4.7zM557.37 166.09h4.7v4.91h-4.7zM570.57 179.91h4.7v4.91h-4.7zM557.37 189.12h4.7v4.91h-4.7zM566.17 189.12h4.7v4.91h-4.7zM574.97 221.37h4.7v4.91h-4.7zM583.78 225.98h4.7v4.91h-4.7zM592.58 225.98h4.7v4.91h-4.7z"/>
<path fill="#240c06" d="M557.37 133.84h4.7v4.91h-4.7zM566.17 166.09h4.7v4.91h-4.7z"/>
<path fill="#240006" d="M566.17 133.84h4.7v4.91h-4.7zM570.57 143.06h4.7v4.91h-4.7zM570.57 152.27h4.7v4.91h-4.7zM583.78 184.52h4.7v4.91h-4.7zM583.78 193.73h4.7v4.91h-4.7zM588.18 198.34h4.7v4.91h-4.7zM592.58 202.94h4.7v4.91h-4.7zM605.79 212.16h4.7v4.91h-4.7z"/>
<path fill="#4e0c06" d="M627.79 133.84h4.7v4.91h-4.7z"/>
<path fill="#4230ea" d="M447.32 138.45h4.7v4.91h-4.7z"/>
<path fill="#4230f6" d="M456.12 138.45h4.7v4.91h-4.7zM473.73 147.66h4.7v4.91h-4.7z"/>
<path fill="#3c30e4" d="M460.53 138.45h4.7v4.91h-4.7z"/>
<path fill="#4236f0" d="M464.93 138.45h4.7v4.91h-4.7z"/>
<path fill="#3c30de" d="M478.13 138.45h4.7v4.91h-4.7z"/>
<path fill="#362ae4" d="M482.54 138.45h4.7v4.91h-4.7zM464.93 225.98h4.7v4.91h-4.7z"/>
<path fill="#2a1ed2" d="M486.94 138.45h4.7v4.91h-4.7z"/>
<path fill="#120c42" d="M495.74 138.45h4.7v4.91h-4.7z"/>
<path fill="#1e0c0c" d="M552.96 138.45h4.7v4.91h-4.7z"/>
<path fill="#12060c" d="M557.37 138.45h4.7v4.91h-4.7zM548.56 143.06h4.7v4.91h-4.7zM557.37 147.66h4.7v4.91h-4.7zM557.37 170.7h4.7v4.91h-4.7zM566.17 202.94h4.7v4.91h-4.7zM574.97 216.76h4.7v4.91h-4.7zM605.79 235.19h4.7v4.91h-4.7zM610.19 235.19h4.7v4.91h-4.7zM614.59 235.19h4.7v4.91h-4.7z"/>
<path fill="#300c06" d="M566.17 138.45h4.7v4.91h-4.7z"/>
<path fill="#661206" d="M636.6 138.45h4.7v4.91h-4.7z"/>
<path fill="#4e30e4" d="M451.72 143.06h4.7v4.91h-4.7z"/>
<path fill="#3c30f6" d="M456.12 143.06h4.7v4.91h-4.7zM412.11 295.07h4.7v4.91h-4.7z"/>
<path fill="#362ade" d="M460.53 143.06h4.7v4.91h-4.7z"/>
<path fill="#4836e4" d="M464.93 143.06h4.7v4.91h-4.7z"/>
<path fill="#3630fc" d="M469.33 143.06h4.7v4.91h-4.7zM491.34 221.37h4.7v4.91h-4.7zM495.74 221.37h4.7v4.91h-4.7zM491.34 225.98h4.7v4.91h-4.7zM429.71 230.58h4.7v4.91h-4.7zM425.31 235.19h4.7v4.91h-4.7zM420.91 253.61h4.7v4.91h-4.7zM420.91 258.22h4.7v4.91h-4.7zM420.91 262.83h4.7v4.91h-4.7zM420.91 272.04h4.7v4.91h-4.7zM398.9 299.68h4.7v4.91h-4.7zM407.71 299.68h4.7v4.91h-4.7zM403.3 304.29h4.7v4.91h-4.7z"/>
<path fill="#3024d8" d="M482.54 143.06h4.7v4.91h-4.7zM482.54 152.27h4.7v4.91h-4.7zM500.14 212.16h4.7v4.91h-4.7zM636.6 262.83h4.7v4.91h-4.7z"/>
<path fill="#1818ba" d="M486.94 143.06h4.7v4.91h-4.7zM508.95 212.16h4.7v4.91h-4.7z"/>
<path fill="#18127e" d="M491.34 143.06h4.7v4.91h-4.7zM504.54 193.73h4.7v4.91h-4.7z"/>
<path fill="#060642" d="M495.74 143.06h4.7v4.91h-4.7z"/>
<path fill="#120c12" d="M500.14 143.06h4.7v4.91h-4.7zM500.14 147.66h4.7v4.91h-4.7z"/>
<path fill="#06000c" d="M552.96 143.06h4.7v4.91h-4.7zM552.96 147.66h4.7v4.91h-4.7z"/>
<path fill="#18060c" d="M557.37 143.06h4.7v4.91h-4.7zM596.98 230.58h4.7v4.91h-4.7z"/>
<path fill="#1e0606" d="M561.77 143.06h4.7v4.91h-4.7zM561.77 152.27h4.7v4.91h-4.7zM570.57 166.09h4.7v4.91h-4.7zM574.97 198.34h4.7v4.91h-4.7zM583.78 207.55h4.7v4.91h-4.7zM588.18 212.16h4.7v4.91h-4.7zM596.98 216.76h4.7v4.91h-4.7zM596.98 221.37h4.7v4.91h-4.7zM605.79 225.98h4.7v4.91h-4.7zM605.79 230.58h4.7v4.91h-4.7zM610.19 230.58h4.7v4.91h-4.7z"/>
<path fill="#120006" d="M566.17 143.06h4.7v4.91h-4.7zM566.17 156.88h4.7v4.91h-4.7zM570.57 170.7h4.7v4.91h-4.7zM570.57 184.52h4.7v4.91h-4.7zM579.38 198.34h4.7v4.91h-4.7zM601.38 225.98h4.7v4.91h-4.7zM610.19 225.98h4.7v4.91h-4.7z"/>
<path fill="#3c0606" d="M579.38 143.06h4.7v4.91h-4.7zM614.59 216.76h4.7v4.91h-4.7zM632.2 221.37h4.7v4.91h-4.7z"/>
<path fill="#3c2ae4" d="M451.72 147.66h4.7v4.91h-4.7zM456.12 147.66h4.7v4.91h-4.7zM473.73 221.37h4.7v4.91h-4.7z"/>
<path fill="#5a3cf6" d="M464.93 147.66h4.7v4.91h-4.7z"/>
<path fill="#4830d8" d="M478.13 147.66h4.7v4.91h-4.7z"/>
<path fill="#241ec6" d="M482.54 147.66h4.7v4.91h-4.7z"/>
<path fill="#2418a8" d="M486.94 147.66h4.7v4.91h-4.7z"/>
<path fill="#181278" d="M491.34 147.66h4.7v4.91h-4.7z"/>
<path fill="#00003c" d="M495.74 147.66h4.7v4.91h-4.7zM495.74 152.27h4.7v4.91h-4.7z"/>
<path fill="#181206" d="M530.96 147.66h4.7v4.91h-4.7zM522.15 184.52h4.7v4.91h-4.7z"/>
<path fill="#120c06" d="M539.76 147.66h4.7v4.91h-4.7zM508.95 152.27h4.7v4.91h-4.7zM530.96 152.27h4.7v4.91h-4.7zM544.16 152.27h4.7v4.91h-4.7zM539.76 156.88h4.7v4.91h-4.7zM548.56 156.88h4.7v4.91h-4.7zM535.36 161.48h4.7v4.91h-4.7zM544.16 161.48h4.7v4.91h-4.7zM548.56 161.48h4.7v4.91h-4.7zM522.15 193.73h4.7v4.91h-4.7zM535.36 198.34h4.7v4.91h-4.7zM539.76 198.34h4.7v4.91h-4.7zM548.56 198.34h4.7v4.91h-4.7zM552.96 198.34h4.7v4.91h-4.7zM544.16 216.76h4.7v4.91h-4.7zM588.18 230.58h4.7v4.91h-4.7zM583.78 235.19h4.7v4.91h-4.7z"/>
<path fill="#422aea" d="M451.72 152.27h4.7v4.91h-4.7zM416.51 267.43h4.7v4.91h-4.7z"/>
<path fill="#422ae4" d="M456.12 152.27h4.7v4.91h-4.7zM425.31 221.37h4.7v4.91h-4.7zM438.52 221.37h4.7v4.91h-4.7z"/>
<path fill="#3c2af6" d="M478.13 152.27h4.7v4.91h-4.7zM420.91 235.19h4.7v4.91h-4.7zM416.51 262.83h4.7v4.91h-4.7zM407.71 290.47h4.7v4.91h-4.7z"/>
<path fill="#1e18a2" d="M486.94 152.27h4.7v4.91h-4.7z"/>
<path fill="#060c78" d="M491.34 152.27h4.7v4.91h-4.7z"/>
<path fill="#482ae4" d="M447.32 156.88h4.7v4.91h-4.7z"/>
<path fill="#603cfc" d="M460.53 156.88h4.7v4.91h-4.7z"/>
<path fill="#3c2afc" d="M473.73 156.88h4.7v4.91h-4.7zM447.32 221.37h4.7v4.91h-4.7z"/>
<path fill="#2a1ecc" d="M482.54 156.88h4.7v4.91h-4.7zM495.74 202.94h4.7v4.91h-4.7z"/>
<path fill="#1e12a2" d="M486.94 156.88h4.7v4.91h-4.7z"/>
<path fill="#1e127e" d="M491.34 156.88h4.7v4.91h-4.7zM500.14 184.52h4.7v4.91h-4.7zM627.79 249.01h4.7v4.91h-4.7z"/>
<path fill="#000648" d="M495.74 156.88h4.7v4.91h-4.7z"/>
<path fill="#060618" d="M500.14 156.88h4.7v4.91h-4.7zM522.15 202.94h4.7v4.91h-4.7zM561.77 235.19h4.7v4.91h-4.7z"/>
<path fill="#1e1206" d="M535.36 156.88h4.7v4.91h-4.7zM508.95 161.48h4.7v4.91h-4.7z"/>
<path fill="#1e0c06" d="M561.77 156.88h4.7v4.91h-4.7zM566.17 179.91h4.7v4.91h-4.7zM574.97 202.94h4.7v4.91h-4.7zM583.78 212.16h4.7v4.91h-4.7zM596.98 225.98h4.7v4.91h-4.7z"/>
<path fill="#360c06" d="M570.57 156.88h4.7v4.91h-4.7zM601.38 216.76h4.7v4.91h-4.7zM614.59 225.98h4.7v4.91h-4.7z"/>
<path fill="#4824ea" d="M456.12 161.48h4.7v4.91h-4.7z"/>
<path fill="#361ed2" d="M482.54 161.48h4.7v4.91h-4.7z"/>
<path fill="#2a18ae" d="M486.94 161.48h4.7v4.91h-4.7z"/>
<path fill="#1e1290" d="M491.34 161.48h4.7v4.91h-4.7z"/>
<path fill="#120c54" d="M495.74 161.48h4.7v4.91h-4.7z"/>
<path fill="#5a0606" d="M632.2 161.48h4.7v4.91h-4.7z"/>
<path fill="#3612de" d="M412.11 166.09h4.7v4.91h-4.7z"/>
<path fill="#3c12d8" d="M447.32 166.09h4.7v4.91h-4.7z"/>
<path fill="#4e1ede" d="M451.72 166.09h4.7v4.91h-4.7zM473.73 179.91h4.7v4.91h-4.7z"/>
<path fill="#542aea" d="M464.93 166.09h4.7v4.91h-4.7z"/>
<path fill="#4e2aea" d="M469.33 166.09h4.7v4.91h-4.7z"/>
<path fill="#2a18ba" d="M486.94 166.09h4.7v4.91h-4.7zM491.34 179.91h4.7v4.91h-4.7zM495.74 189.12h4.7v4.91h-4.7zM478.13 207.55h4.7v4.91h-4.7z"/>
<path fill="#18129c" d="M491.34 166.09h4.7v4.91h-4.7z"/>
<path fill="#06065a" d="M495.74 166.09h4.7v4.91h-4.7zM522.15 212.16h4.7v4.91h-4.7z"/>
<path fill="#120c1e" d="M500.14 166.09h4.7v4.91h-4.7zM504.54 175.3h4.7v4.91h-4.7zM517.75 198.34h4.7v4.91h-4.7zM530.96 212.16h4.7v4.91h-4.7z"/>
<path fill="#540c06" d="M592.58 166.09h4.7v4.91h-4.7z"/>
<path fill="#6c24fc" d="M429.71 170.7h4.7v4.91h-4.7z"/>
<path fill="#601efc" d="M434.12 170.7h4.7v4.91h-4.7zM403.3 225.98h4.7v4.91h-4.7zM394.5 239.8h4.7v4.91h-4.7zM407.71 239.8h4.7v4.91h-4.7z"/>
<path fill="#5a18f6" d="M438.52 170.7h4.7v4.91h-4.7z"/>
<path fill="#5a18de" d="M442.92 170.7h4.7v4.91h-4.7zM398.9 258.22h4.7v4.91h-4.7z"/>
<path fill="#120ca2" d="M491.34 170.7h4.7v4.91h-4.7z"/>
<path fill="#06066c" d="M495.74 170.7h4.7v4.91h-4.7z"/>
<path fill="#0c0612" d="M504.54 170.7h4.7v4.91h-4.7zM513.35 189.12h4.7v4.91h-4.7zM544.16 221.37h4.7v4.91h-4.7z"/>
<path fill="#2a12c6" d="M394.5 175.3h4.7v4.91h-4.7z"/>
<path fill="#4818fc" d="M407.71 175.3h4.7v4.91h-4.7z"/>
<path fill="#6018e4" d="M429.71 175.3h4.7v4.91h-4.7zM398.9 244.4h4.7v4.91h-4.7z"/>
<path fill="#4e0cd2" d="M438.52 175.3h4.7v4.91h-4.7z"/>
<path fill="#4e12b4" d="M442.92 175.3h4.7v4.91h-4.7zM464.93 189.12h4.7v4.91h-4.7z"/>
<path fill="#5a18b4" d="M447.32 175.3h4.7v4.91h-4.7zM425.31 179.91h4.7v4.91h-4.7z"/>
<path fill="#6024ea" d="M464.93 175.3h4.7v4.91h-4.7zM394.5 262.83h4.7v4.91h-4.7z"/>
<path fill="#361ec0" d="M486.94 175.3h4.7v4.91h-4.7z"/>
<path fill="#120ca8" d="M491.34 175.3h4.7v4.91h-4.7z"/>
<path fill="#4e18f6" d="M403.3 179.91h4.7v4.91h-4.7zM407.71 179.91h4.7v4.91h-4.7z"/>
<path fill="#4212c6" d="M416.51 179.91h4.7v4.91h-4.7zM416.51 202.94h4.7v4.91h-4.7z"/>
<path fill="#4206c6" d="M429.71 179.91h4.7v4.91h-4.7z"/>
<path fill="#6c18cc" d="M434.12 179.91h4.7v4.91h-4.7z"/>
<path fill="#5a12b4" d="M447.32 179.91h4.7v4.91h-4.7z"/>
<path fill="#6618c6" d="M451.72 179.91h4.7v4.91h-4.7z"/>
<path fill="#661ede" d="M460.53 179.91h4.7v4.91h-4.7zM425.31 202.94h4.7v4.91h-4.7z"/>
<path fill="#241896" d="M495.74 179.91h4.7v4.91h-4.7z"/>
<path fill="#0c0660" d="M500.14 179.91h4.7v4.91h-4.7z"/>
<path fill="#601ee4" d="M412.11 184.52h4.7v4.91h-4.7z"/>
<path fill="#6018de" d="M416.51 184.52h4.7v4.91h-4.7z"/>
<path fill="#5412c6" d="M420.91 184.52h4.7v4.91h-4.7zM420.91 189.12h4.7v4.91h-4.7z"/>
<path fill="#4806b4" d="M425.31 184.52h4.7v4.91h-4.7z"/>
<path fill="#5a0cc0" d="M429.71 184.52h4.7v4.91h-4.7z"/>
<path fill="#600cc0" d="M434.12 184.52h4.7v4.91h-4.7z"/>
<path fill="#5406a8" d="M442.92 184.52h4.7v4.91h-4.7z"/>
<path fill="#6012ae" d="M447.32 184.52h4.7v4.91h-4.7z"/>
<path fill="#6012b4" d="M451.72 184.52h4.7v4.91h-4.7z"/>
<path fill="#6618c0" d="M456.12 184.52h4.7v4.91h-4.7z"/>
<path fill="#5418d2" d="M469.33 184.52h4.7v4.91h-4.7zM420.91 202.94h4.7v4.91h-4.7z"/>
<path fill="#3018ba" d="M491.34 184.52h4.7v4.91h-4.7z"/>
<path fill="#2412ae" d="M495.74 184.52h4.7v4.91h-4.7zM473.73 212.16h4.7v4.91h-4.7z"/>
<path fill="#120c48" d="M504.54 184.52h4.7v4.91h-4.7z"/>
<path fill="#6618fc" d="M412.11 189.12h4.7v4.91h-4.7z"/>
<path fill="#5412e4" d="M416.51 189.12h4.7v4.91h-4.7z"/>
<path fill="#6618b4" d="M425.31 189.12h4.7v4.91h-4.7z"/>
<path fill="#6612a2" d="M434.12 189.12h4.7v4.91h-4.7z"/>
<path fill="#6c1296" d="M438.52 189.12h4.7v4.91h-4.7z"/>
<path fill="#54068a" d="M442.92 189.12h4.7v4.91h-4.7z"/>
<path fill="#600c8a" d="M447.32 189.12h4.7v4.91h-4.7z"/>
<path fill="#660ca2" d="M451.72 189.12h4.7v4.91h-4.7z"/>
<path fill="#6c12b4" d="M456.12 189.12h4.7v4.91h-4.7z"/>
<path fill="#4e1ecc" d="M473.73 189.12h4.7v4.91h-4.7z"/>
<path fill="#181296" d="M500.14 189.12h4.7v4.91h-4.7z"/>
<path fill="#120c60" d="M504.54 189.12h4.7v4.91h-4.7zM614.59 244.4h4.7v4.91h-4.7z"/>
<path fill="#06062a" d="M508.95 189.12h4.7v4.91h-4.7z"/>
<path fill="#2a1206" d="M570.57 189.12h4.7v4.91h-4.7zM579.38 207.55h4.7v4.91h-4.7z"/>
<path fill="#3c0c06" d="M588.18 189.12h4.7v4.91h-4.7zM588.18 193.73h4.7v4.91h-4.7zM596.98 207.55h4.7v4.91h-4.7z"/>
<path fill="#5a12a8" d="M425.31 193.73h4.7v4.91h-4.7z"/>
<path fill="#6612a8" d="M429.71 193.73h4.7v4.91h-4.7zM442.92 202.94h4.7v4.91h-4.7z"/>
<path fill="#5a0690" d="M434.12 193.73h4.7v4.91h-4.7z"/>
<path fill="#54067e" d="M438.52 193.73h4.7v4.91h-4.7z"/>
<path fill="#5a0c6c" d="M442.92 193.73h4.7v4.91h-4.7z"/>
<path fill="#4e0072" d="M447.32 193.73h4.7v4.91h-4.7z"/>
<path fill="#600690" d="M451.72 193.73h4.7v4.91h-4.7z"/>
<path fill="#7212a8" d="M456.12 193.73h4.7v4.91h-4.7z"/>
<path fill="#480cae" d="M464.93 193.73h4.7v4.91h-4.7z"/>
<path fill="#482ad2" d="M491.34 193.73h4.7v4.91h-4.7z"/>
<path fill="#120cae" d="M495.74 193.73h4.7v4.91h-4.7z"/>
<path fill="#1812a2" d="M500.14 193.73h4.7v4.91h-4.7z"/>
<path fill="#0c0c48" d="M508.95 193.73h4.7v4.91h-4.7zM552.96 235.19h4.7v4.91h-4.7zM561.77 239.8h4.7v4.91h-4.7z"/>
<path fill="#4e18e4" d="M407.71 198.34h4.7v4.91h-4.7z"/>
<path fill="#601ede" d="M412.11 198.34h4.7v4.91h-4.7zM394.5 253.61h4.7v4.91h-4.7z"/>
<path fill="#540696" d="M434.12 198.34h4.7v4.91h-4.7z"/>
<path fill="#540678" d="M438.52 198.34h4.7v4.91h-4.7zM442.92 198.34h4.7v4.91h-4.7z"/>
<path fill="#480078" d="M447.32 198.34h4.7v4.91h-4.7z"/>
<path fill="#5a068a" d="M451.72 198.34h4.7v4.91h-4.7z"/>
<path fill="#6012a8" d="M456.12 198.34h4.7v4.91h-4.7zM434.12 202.94h4.7v4.91h-4.7z"/>
<path fill="#4812c6" d="M464.93 198.34h4.7v4.91h-4.7zM434.12 207.55h4.7v4.91h-4.7z"/>
<path fill="#300cd8" d="M469.33 198.34h4.7v4.91h-4.7z"/>
<path fill="#3c1ed2" d="M482.54 198.34h4.7v4.91h-4.7z"/>
<path fill="#361eb4" d="M495.74 198.34h4.7v4.91h-4.7z"/>
<path fill="#2418a2" d="M504.54 198.34h4.7v4.91h-4.7z"/>
<path fill="#181272" d="M508.95 198.34h4.7v4.91h-4.7z"/>
<path fill="#0c0c42" d="M513.35 198.34h4.7v4.91h-4.7zM548.56 230.58h4.7v4.91h-4.7z"/>
<path fill="#5a0c9c" d="M438.52 202.94h4.7v4.91h-4.7z"/>
<path fill="#66129c" d="M447.32 202.94h4.7v4.91h-4.7z"/>
<path fill="#420696" d="M451.72 202.94h4.7v4.91h-4.7z"/>
<path fill="#5418a8" d="M456.12 202.94h4.7v4.91h-4.7z"/>
<path fill="#3c18c0" d="M469.33 202.94h4.7v4.91h-4.7z"/>
<path fill="#1e18cc" d="M500.14 202.94h4.7v4.91h-4.7z"/>
<path fill="#241ec0" d="M504.54 202.94h4.7v4.91h-4.7z"/>
<path fill="#2a1e96" d="M508.95 202.94h4.7v4.91h-4.7z"/>
<path fill="#000060" d="M513.35 202.94h4.7v4.91h-4.7z"/>
<path fill="#420c06" d="M596.98 202.94h4.7v4.91h-4.7z"/>
<path fill="#6024fc" d="M398.9 207.55h4.7v4.91h-4.7zM407.71 230.58h4.7v4.91h-4.7z"/>
<path fill="#541ede" d="M420.91 207.55h4.7v4.91h-4.7z"/>
<path fill="#4212ae" d="M451.72 207.55h4.7v4.91h-4.7zM636.6 253.61h4.7v4.91h-4.7z"/>
<path fill="#4e1eb4" d="M456.12 207.55h4.7v4.91h-4.7z"/>
<path fill="#3612b4" d="M460.53 207.55h4.7v4.91h-4.7z"/>
<path fill="#3012b4" d="M464.93 207.55h4.7v4.91h-4.7z"/>
<path fill="#3018b4" d="M469.33 207.55h4.7v4.91h-4.7z"/>
<path fill="#2412b4" d="M473.73 207.55h4.7v4.91h-4.7z"/>
<path fill="#3018c6" d="M482.54 207.55h4.7v4.91h-4.7z"/>
<path fill="#3c2ac6" d="M500.14 207.55h4.7v4.91h-4.7z"/>
<path fill="#1e18a8" d="M508.95 207.55h4.7v4.91h-4.7z"/>
<path fill="#0c0c8a" d="M513.35 207.55h4.7v4.91h-4.7z"/>
<path fill="#121266" d="M517.75 207.55h4.7v4.91h-4.7z"/>
<path fill="#000636" d="M522.15 207.55h4.7v4.91h-4.7z"/>
<path fill="#5424e4" d="M416.51 212.16h4.7v4.91h-4.7z"/>
<path fill="#2a12ba" d="M464.93 212.16h4.7v4.91h-4.7z"/>
<path fill="#180cb4" d="M469.33 212.16h4.7v4.91h-4.7z"/>
<path fill="#2412ba" d="M478.13 212.16h4.7v4.91h-4.7z"/>
<path fill="#3024d2" d="M491.34 212.16h4.7v4.91h-4.7z"/>
<path fill="#241ede" d="M495.74 212.16h4.7v4.91h-4.7z"/>
<path fill="#1e1ec6" d="M504.54 212.16h4.7v4.91h-4.7z"/>
<path fill="#0c0c3c" d="M526.55 212.16h4.7v4.91h-4.7z"/>
<path fill="#5a24e4" d="M407.71 216.76h4.7v4.91h-4.7z"/>
<path fill="#3018c0" d="M464.93 216.76h4.7v4.91h-4.7z"/>
<path fill="#1e12c6" d="M469.33 216.76h4.7v4.91h-4.7z"/>
<path fill="#301ed2" d="M473.73 216.76h4.7v4.91h-4.7z"/>
<path fill="#1812c6" d="M482.54 216.76h4.7v4.91h-4.7z"/>
<path fill="#3024de" d="M486.94 216.76h4.7v4.91h-4.7zM482.54 221.37h4.7v4.91h-4.7z"/>
<path fill="#2a24de" d="M491.34 216.76h4.7v4.91h-4.7z"/>
<path fill="#362af6" d="M495.74 216.76h4.7v4.91h-4.7zM434.12 225.98h4.7v4.91h-4.7zM451.72 225.98h4.7v4.91h-4.7z"/>
<path fill="#302af0" d="M500.14 216.76h4.7v4.91h-4.7zM438.52 225.98h4.7v4.91h-4.7zM469.33 225.98h4.7v4.91h-4.7zM482.54 225.98h4.7v4.91h-4.7zM416.51 281.25h4.7v4.91h-4.7z"/>
<path fill="#2424d2" d="M504.54 216.76h4.7v4.91h-4.7z"/>
<path fill="#1218c6" d="M508.95 216.76h4.7v4.91h-4.7z"/>
<path fill="#2a24cc" d="M513.35 216.76h4.7v4.91h-4.7z"/>
<path fill="#241eb4" d="M517.75 216.76h4.7v4.91h-4.7z"/>
<path fill="#181890" d="M522.15 216.76h4.7v4.91h-4.7z"/>
<path fill="#000672" d="M526.55 216.76h4.7v4.91h-4.7z"/>
<path fill="#181242" d="M530.96 216.76h4.7v4.91h-4.7z"/>
<path fill="#00061e" d="M535.36 216.76h4.7v4.91h-4.7z"/>
<path fill="#480c06" d="M618.99 216.76h4.7v4.91h-4.7z"/>
<path fill="#6624fc" d="M407.71 221.37h4.7v4.91h-4.7zM394.5 225.98h4.7v4.91h-4.7zM394.5 230.58h4.7v4.91h-4.7z"/>
<path fill="#5a24ea" d="M412.11 221.37h4.7v4.91h-4.7z"/>
<path fill="#482aea" d="M420.91 221.37h4.7v4.91h-4.7zM416.51 235.19h4.7v4.91h-4.7z"/>
<path fill="#3024f0" d="M434.12 221.37h4.7v4.91h-4.7zM429.71 225.98h4.7v4.91h-4.7z"/>
<path fill="#3624ea" d="M442.92 221.37h4.7v4.91h-4.7zM451.72 221.37h4.7v4.91h-4.7z"/>
<path fill="#2a1ee4" d="M469.33 221.37h4.7v4.91h-4.7z"/>
<path fill="#2424f6" d="M486.94 221.37h4.7v4.91h-4.7z"/>
<path fill="#3630f0" d="M500.14 221.37h4.7v4.91h-4.7zM456.12 230.58h4.7v4.91h-4.7zM469.33 230.58h4.7v4.91h-4.7zM412.11 290.47h4.7v4.91h-4.7zM416.51 290.47h4.7v4.91h-4.7z"/>
<path fill="#302ad8" d="M504.54 221.37h4.7v4.91h-4.7z"/>
<path fill="#302ad2" d="M508.95 221.37h4.7v4.91h-4.7zM627.79 258.22h4.7v4.91h-4.7z"/>
<path fill="#181ee4" d="M513.35 221.37h4.7v4.91h-4.7z"/>
<path fill="#2a24d8" d="M517.75 221.37h4.7v4.91h-4.7zM460.53 225.98h4.7v4.91h-4.7z"/>
<path fill="#241eba" d="M522.15 221.37h4.7v4.91h-4.7z"/>
<path fill="#1e189c" d="M526.55 221.37h4.7v4.91h-4.7z"/>
<path fill="#1e186c" d="M530.96 221.37h4.7v4.91h-4.7z"/>
<path fill="#060648" d="M535.36 221.37h4.7v4.91h-4.7z"/>
<path fill="#120c24" d="M539.76 221.37h4.7v4.91h-4.7z"/>
<path fill="#2a0c06" d="M601.38 221.37h4.7v4.91h-4.7z"/>
<path fill="#302aea" d="M442.92 225.98h4.7v4.91h-4.7zM416.51 285.86h4.7v4.91h-4.7z"/>
<path fill="#302ae4" d="M456.12 225.98h4.7v4.91h-4.7zM632.2 262.83h4.7v4.91h-4.7z"/>
<path fill="#2a24e4" d="M473.73 225.98h4.7v4.91h-4.7zM478.13 225.98h4.7v4.91h-4.7z"/>
<path fill="#242afc" d="M486.94 225.98h4.7v4.91h-4.7zM500.14 225.98h4.7v4.91h-4.7zM504.54 230.58h4.7v4.91h-4.7zM425.31 244.4h4.7v4.91h-4.7zM425.31 249.01h4.7v4.91h-4.7z"/>
<path fill="#3030fc" d="M495.74 225.98h4.7v4.91h-4.7zM434.12 230.58h4.7v4.91h-4.7zM442.92 230.58h4.7v4.91h-4.7zM482.54 230.58h4.7v4.91h-4.7zM429.71 235.19h4.7v4.91h-4.7zM434.12 235.19h4.7v4.91h-4.7zM438.52 235.19h4.7v4.91h-4.7zM429.71 239.8h4.7v4.91h-4.7zM412.11 299.68h4.7v4.91h-4.7zM403.3 308.89h4.7v4.91h-4.7zM407.71 308.89h4.7v4.91h-4.7z"/>
<path fill="#2a2aea" d="M504.54 225.98h4.7v4.91h-4.7z"/>
<path fill="#2a2ad2" d="M508.95 225.98h4.7v4.91h-4.7z"/>
<path fill="#242ae4" d="M513.35 225.98h4.7v4.91h-4.7zM420.91 281.25h4.7v4.91h-4.7z"/>
<path fill="#242ad8" d="M517.75 225.98h4.7v4.91h-4.7zM548.56 249.01h4.7v4.91h-4.7z"/>
<path fill="#2a24c0" d="M522.15 225.98h4.7v4.91h-4.7z"/>
<path fill="#1e1eae" d="M526.55 225.98h4.7v4.91h-4.7z"/>
<path fill="#18189c" d="M530.96 225.98h4.7v4.91h-4.7z"/>
<path fill="#121278" d="M535.36 225.98h4.7v4.91h-4.7z"/>
<path fill="#06064e" d="M539.76 225.98h4.7v4.91h-4.7z"/>
<path fill="#060630" d="M544.16 225.98h4.7v4.91h-4.7z"/>
<path fill="#3c060c" d="M636.6 225.98h4.7v4.91h-4.7z"/>
<path fill="#661efc" d="M403.3 230.58h4.7v4.91h-4.7z"/>
<path fill="#3030f6" d="M438.52 230.58h4.7v4.91h-4.7zM460.53 235.19h4.7v4.91h-4.7z"/>
<path fill="#302af6" d="M447.32 230.58h4.7v4.91h-4.7zM425.31 239.8h4.7v4.91h-4.7z"/>
<path fill="#2a2afc" d="M451.72 230.58h4.7v4.91h-4.7z"/>
<path fill="#2424de" d="M460.53 230.58h4.7v4.91h-4.7z"/>
<path fill="#2424ea" d="M464.93 230.58h4.7v4.91h-4.7z"/>
<path fill="#242ade" d="M473.73 230.58h4.7v4.91h-4.7zM526.55 230.58h4.7v4.91h-4.7zM566.17 253.61h4.7v4.91h-4.7z"/>
<path fill="#242af0" d="M478.13 230.58h4.7v4.91h-4.7zM636.6 267.43h4.7v4.91h-4.7z"/>
<path fill="#3036fc" d="M486.94 230.58h4.7v4.91h-4.7zM495.74 230.58h4.7v4.91h-4.7zM500.14 230.58h4.7v4.91h-4.7zM442.92 235.19h4.7v4.91h-4.7zM473.73 235.19h4.7v4.91h-4.7zM434.12 239.8h4.7v4.91h-4.7zM438.52 239.8h4.7v4.91h-4.7zM478.13 239.8h4.7v4.91h-4.7zM425.31 272.04h4.7v4.91h-4.7zM429.71 272.04h4.7v4.91h-4.7zM420.91 295.07h4.7v4.91h-4.7zM412.11 304.29h4.7v4.91h-4.7zM420.91 308.89h4.7v4.91h-4.7z"/>
<path fill="#2a30fc" d="M491.34 230.58h4.7v4.91h-4.7zM456.12 235.19h4.7v4.91h-4.7zM486.94 235.19h4.7v4.91h-4.7zM495.74 235.19h4.7v4.91h-4.7zM500.14 235.19h4.7v4.91h-4.7zM442.92 239.8h4.7v4.91h-4.7zM482.54 239.8h4.7v4.91h-4.7zM513.35 239.8h4.7v4.91h-4.7zM434.12 244.4h4.7v4.91h-4.7zM425.31 258.22h4.7v4.91h-4.7zM425.31 267.43h4.7v4.91h-4.7z"/>
<path fill="#2a30f0" d="M508.95 230.58h4.7v4.91h-4.7zM473.73 244.4h4.7v4.91h-4.7zM627.79 262.83h4.7v4.91h-4.7z"/>
<path fill="#1e2aea" d="M513.35 230.58h4.7v4.91h-4.7zM530.96 239.8h4.7v4.91h-4.7zM530.96 244.4h4.7v4.91h-4.7zM539.76 244.4h4.7v4.91h-4.7z"/>
<path fill="#3030e4" d="M517.75 230.58h4.7v4.91h-4.7z"/>
<path fill="#1e24e4" d="M522.15 230.58h4.7v4.91h-4.7z"/>
<path fill="#1e24cc" d="M530.96 230.58h4.7v4.91h-4.7z"/>
<path fill="#2424ae" d="M535.36 230.58h4.7v4.91h-4.7z"/>
<path fill="#181884" d="M539.76 230.58h4.7v4.91h-4.7z"/>
<path fill="#181260" d="M544.16 230.58h4.7v4.91h-4.7z"/>
<path fill="#1e000c" d="M627.79 230.58h4.7v4.91h-4.7z"/>
<path fill="#300612" d="M632.2 230.58h4.7v4.91h-4.7z"/>
<path fill="#360c12" d="M636.6 230.58h4.7v4.91h-4.7z"/>
<path fill="#7224fc" d="M394.5 235.19h4.7v4.91h-4.7zM398.9 235.19h4.7v4.91h-4.7zM403.3 235.19h4.7v4.91h-4.7z"/>
<path fill="#3636fc" d="M447.32 235.19h4.7v4.91h-4.7zM504.54 235.19h4.7v4.91h-4.7zM425.31 253.61h4.7v4.91h-4.7zM425.31 262.83h4.7v4.91h-4.7zM416.51 295.07h4.7v4.91h-4.7zM416.51 299.68h4.7v4.91h-4.7zM407.71 304.29h4.7v4.91h-4.7zM398.9 308.89h4.7v4.91h-4.7zM412.11 308.89h4.7v4.91h-4.7z"/>
<path fill="#1e2afc" d="M451.72 235.19h4.7v4.91h-4.7z"/>
<path fill="#1e2af6" d="M464.93 235.19h4.7v4.91h-4.7z"/>
<path fill="#2a30f6" d="M469.33 235.19h4.7v4.91h-4.7zM513.35 235.19h4.7v4.91h-4.7zM526.55 239.8h4.7v4.91h-4.7zM420.91 290.47h4.7v4.91h-4.7z"/>
<path fill="#2430fc" d="M478.13 235.19h4.7v4.91h-4.7zM482.54 235.19h4.7v4.91h-4.7zM491.34 235.19h4.7v4.91h-4.7zM508.95 235.19h4.7v4.91h-4.7zM456.12 239.8h4.7v4.91h-4.7zM469.33 239.8h4.7v4.91h-4.7zM473.73 239.8h4.7v4.91h-4.7zM486.94 239.8h4.7v4.91h-4.7zM504.54 239.8h4.7v4.91h-4.7zM429.71 244.4h4.7v4.91h-4.7zM438.52 244.4h4.7v4.91h-4.7zM451.72 244.4h4.7v4.91h-4.7zM464.93 244.4h4.7v4.91h-4.7zM434.12 249.01h4.7v4.91h-4.7zM456.12 249.01h4.7v4.91h-4.7zM535.36 249.01h4.7v4.91h-4.7z"/>
<path fill="#2a30e4" d="M517.75 235.19h4.7v4.91h-4.7z"/>
<path fill="#242aea" d="M522.15 235.19h4.7v4.91h-4.7z"/>
<path fill="#2a30ea" d="M526.55 235.19h4.7v4.91h-4.7zM522.15 239.8h4.7v4.91h-4.7zM420.91 285.86h4.7v4.91h-4.7z"/>
<path fill="#3030de" d="M530.96 235.19h4.7v4.91h-4.7z"/>
<path fill="#2a2ad8" d="M535.36 235.19h4.7v4.91h-4.7z"/>
<path fill="#181eae" d="M539.76 235.19h4.7v4.91h-4.7zM623.39 253.61h4.7v4.91h-4.7z"/>
<path fill="#121290" d="M544.16 235.19h4.7v4.91h-4.7z"/>
<path fill="#0c1278" d="M548.56 235.19h4.7v4.91h-4.7z"/>
<path fill="#1e060c" d="M623.39 235.19h4.7v4.91h-4.7z"/>
<path fill="#2a0624" d="M632.2 235.19h4.7v4.91h-4.7z"/>
<path fill="#240624" d="M636.6 235.19h4.7v4.91h-4.7z"/>
<path fill="#4e36f0" d="M420.91 239.8h4.7v4.91h-4.7z"/>
<path fill="#2a36fc" d="M447.32 239.8h4.7v4.91h-4.7zM460.53 239.8h4.7v4.91h-4.7zM464.93 239.8h4.7v4.91h-4.7zM500.14 239.8h4.7v4.91h-4.7zM442.92 244.4h4.7v4.91h-4.7zM447.32 244.4h4.7v4.91h-4.7zM456.12 244.4h4.7v4.91h-4.7zM469.33 244.4h4.7v4.91h-4.7zM491.34 244.4h4.7v4.91h-4.7zM495.74 244.4h4.7v4.91h-4.7zM438.52 249.01h4.7v4.91h-4.7zM442.92 249.01h4.7v4.91h-4.7zM500.14 249.01h4.7v4.91h-4.7zM504.54 249.01h4.7v4.91h-4.7zM429.71 253.61h4.7v4.91h-4.7zM434.12 253.61h4.7v4.91h-4.7zM438.52 253.61h4.7v4.91h-4.7zM495.74 253.61h4.7v4.91h-4.7zM504.54 253.61h4.7v4.91h-4.7zM508.95 253.61h4.7v4.91h-4.7zM429.71 258.22h4.7v4.91h-4.7zM469.33 258.22h4.7v4.91h-4.7zM429.71 262.83h4.7v4.91h-4.7zM623.39 262.83h4.7v4.91h-4.7zM429.71 267.43h4.7v4.91h-4.7zM482.54 267.43h4.7v4.91h-4.7zM544.16 267.43h4.7v4.91h-4.7zM610.19 267.43h4.7v4.91h-4.7zM500.14 272.04h4.7v4.91h-4.7zM522.15 272.04h4.7v4.91h-4.7zM530.96 272.04h4.7v4.91h-4.7zM535.36 272.04h4.7v4.91h-4.7zM451.72 276.65h4.7v4.91h-4.7zM456.12 276.65h4.7v4.91h-4.7zM508.95 276.65h4.7v4.91h-4.7zM513.35 276.65h4.7v4.91h-4.7zM522.15 276.65h4.7v4.91h-4.7zM530.96 276.65h4.7v4.91h-4.7zM610.19 276.65h4.7v4.91h-4.7zM623.39 276.65h4.7v4.91h-4.7zM636.6 276.65h4.7v4.91h-4.7zM447.32 281.25h4.7v4.91h-4.7zM456.12 281.25h4.7v4.91h-4.7zM473.73 281.25h4.7v4.91h-4.7zM478.13 281.25h4.7v4.91h-4.7zM482.54 281.25h4.7v4.91h-4.7zM544.16 281.25h4.7v4.91h-4.7zM570.57 281.25h4.7v4.91h-4.7zM592.58 281.25h4.7v4.91h-4.7zM438.52 285.86h4.7v4.91h-4.7zM456.12 285.86h4.7v4.91h-4.7zM539.76 285.86h4.7v4.91h-4.7zM614.59 285.86h4.7v4.91h-4.7zM632.2 285.86h4.7v4.91h-4.7zM425.31 290.47h4.7v4.91h-4.7zM605.79 290.47h4.7v4.91h-4.7zM610.19 290.47h4.7v4.91h-4.7zM636.6 290.47h4.7v4.91h-4.7zM495.74 295.07h4.7v4.91h-4.7zM526.55 295.07h4.7v4.91h-4.7zM548.56 295.07h4.7v4.91h-4.7zM420.91 299.68h4.7v4.91h-4.7zM456.12 299.68h4.7v4.91h-4.7zM548.56 299.68h4.7v4.91h-4.7zM557.37 299.68h4.7v4.91h-4.7zM618.99 299.68h4.7v4.91h-4.7zM420.91 304.29h4.7v4.91h-4.7zM478.13 304.29h4.7v4.91h-4.7zM416.51 308.89h4.7v4.91h-4.7zM601.38 308.89h4.7v4.91h-4.7zM618.99 308.89h4.7v4.91h-4.7z"/>
<path fill="#3036f6" d="M451.72 239.8h4.7v4.91h-4.7z"/>
<path fill="#303cfc" d="M491.34 239.8h4.7v4.91h-4.7zM495.74 239.8h4.7v4.91h-4.7zM460.53 244.4h4.7v4.91h-4.7zM460.53 249.01h4.7v4.91h-4.7zM469.33 249.01h4.7v4.91h-4.7zM491.34 249.01h4.7v4.91h-4.7zM434.12 272.04h4.7v4.91h-4.7zM500.14 285.86h4.7v4.91h-4.7zM579.38 290.47h4.7v4.91h-4.7zM557.37 304.29h4.7v4.91h-4.7z"/>
<path fill="#2430f6" d="M508.95 239.8h4.7v4.91h-4.7zM486.94 244.4h4.7v4.91h-4.7zM429.71 249.01h4.7v4.91h-4.7zM539.76 249.01h4.7v4.91h-4.7zM632.2 267.43h4.7v4.91h-4.7zM429.71 276.65h4.7v4.91h-4.7zM429.71 308.89h4.7v4.91h-4.7z"/>
<path fill="#1824ea" d="M517.75 239.8h4.7v4.91h-4.7z"/>
<path fill="#1e2ae4" d="M535.36 239.8h4.7v4.91h-4.7zM429.71 281.25h4.7v4.91h-4.7z"/>
<path fill="#2424c6" d="M539.76 239.8h4.7v4.91h-4.7z"/>
<path fill="#181eb4" d="M544.16 239.8h4.7v4.91h-4.7z"/>
<path fill="#181ea2" d="M548.56 239.8h4.7v4.91h-4.7zM583.78 249.01h4.7v4.91h-4.7zM596.98 249.01h4.7v4.91h-4.7zM601.38 249.01h4.7v4.91h-4.7z"/>
<path fill="#12187e" d="M552.96 239.8h4.7v4.91h-4.7z"/>
<path fill="#060c60" d="M557.37 239.8h4.7v4.91h-4.7z"/>
<path fill="#120c36" d="M566.17 239.8h4.7v4.91h-4.7z"/>
<path fill="#0c0c2a" d="M570.57 239.8h4.7v4.91h-4.7z"/>
<path fill="#0c0624" d="M596.98 239.8h4.7v4.91h-4.7z"/>
<path fill="#12062a" d="M601.38 239.8h4.7v4.91h-4.7zM610.19 239.8h4.7v4.91h-4.7z"/>
<path fill="#180c2a" d="M605.79 239.8h4.7v4.91h-4.7z"/>
<path fill="#060024" d="M614.59 239.8h4.7v4.91h-4.7z"/>
<path fill="#0c001e" d="M623.39 239.8h4.7v4.91h-4.7z"/>
<path fill="#180624" d="M627.79 239.8h4.7v4.91h-4.7z"/>
<path fill="#30063c" d="M632.2 239.8h4.7v4.91h-4.7z"/>
<path fill="#2a0642" d="M636.6 239.8h4.7v4.91h-4.7z"/>
<path fill="#601ef0" d="M394.5 244.4h4.7v4.91h-4.7z"/>
<path fill="#2a36f0" d="M478.13 244.4h4.7v4.91h-4.7zM535.36 244.4h4.7v4.91h-4.7zM473.73 258.22h4.7v4.91h-4.7zM522.15 267.43h4.7v4.91h-4.7zM561.77 267.43h4.7v4.91h-4.7zM513.35 272.04h4.7v4.91h-4.7zM636.6 272.04h4.7v4.91h-4.7zM522.15 281.25h4.7v4.91h-4.7zM517.75 299.68h4.7v4.91h-4.7z"/>
<path fill="#2430f0" d="M482.54 244.4h4.7v4.91h-4.7zM473.73 249.01h4.7v4.91h-4.7zM548.56 253.61h4.7v4.91h-4.7zM610.19 258.22h4.7v4.91h-4.7zM535.36 262.83h4.7v4.91h-4.7zM579.38 262.83h4.7v4.91h-4.7zM592.58 262.83h4.7v4.91h-4.7zM425.31 285.86h4.7v4.91h-4.7zM478.13 290.47h4.7v4.91h-4.7zM429.71 295.07h4.7v4.91h-4.7zM429.71 304.29h4.7v4.91h-4.7zM425.31 308.89h4.7v4.91h-4.7zM552.96 308.89h4.7v4.91h-4.7z"/>
<path fill="#1e30fc" d="M500.14 244.4h4.7v4.91h-4.7zM504.54 244.4h4.7v4.91h-4.7zM522.15 249.01h4.7v4.91h-4.7zM513.35 262.83h4.7v4.91h-4.7zM557.37 262.83h4.7v4.91h-4.7zM434.12 267.43h4.7v4.91h-4.7zM478.13 267.43h4.7v4.91h-4.7zM500.14 267.43h4.7v4.91h-4.7zM539.76 267.43h4.7v4.91h-4.7zM552.96 267.43h4.7v4.91h-4.7zM570.57 267.43h4.7v4.91h-4.7zM618.99 267.43h4.7v4.91h-4.7zM544.16 272.04h4.7v4.91h-4.7zM574.97 272.04h4.7v4.91h-4.7zM618.99 272.04h4.7v4.91h-4.7zM632.2 272.04h4.7v4.91h-4.7zM469.33 281.25h4.7v4.91h-4.7zM500.14 281.25h4.7v4.91h-4.7zM579.38 285.86h4.7v4.91h-4.7zM434.12 290.47h4.7v4.91h-4.7zM557.37 290.47h4.7v4.91h-4.7zM464.93 295.07h4.7v4.91h-4.7zM482.54 299.68h4.7v4.91h-4.7zM486.94 304.29h4.7v4.91h-4.7zM548.56 308.89h4.7v4.91h-4.7zM574.97 308.89h4.7v4.91h-4.7z"/>
<path fill="#2436fc" d="M508.95 244.4h4.7v4.91h-4.7zM513.35 244.4h4.7v4.91h-4.7zM526.55 244.4h4.7v4.91h-4.7zM447.32 249.01h4.7v4.91h-4.7zM464.93 249.01h4.7v4.91h-4.7zM495.74 249.01h4.7v4.91h-4.7zM508.95 249.01h4.7v4.91h-4.7zM513.35 249.01h4.7v4.91h-4.7zM526.55 249.01h4.7v4.91h-4.7zM456.12 253.61h4.7v4.91h-4.7zM464.93 253.61h4.7v4.91h-4.7zM482.54 253.61h4.7v4.91h-4.7zM486.94 253.61h4.7v4.91h-4.7zM491.34 253.61h4.7v4.91h-4.7zM517.75 253.61h4.7v4.91h-4.7zM522.15 253.61h4.7v4.91h-4.7zM526.55 253.61h4.7v4.91h-4.7zM535.36 253.61h4.7v4.91h-4.7zM539.76 253.61h4.7v4.91h-4.7zM544.16 253.61h4.7v4.91h-4.7zM434.12 258.22h4.7v4.91h-4.7zM438.52 258.22h4.7v4.91h-4.7zM456.12 258.22h4.7v4.91h-4.7zM522.15 258.22h4.7v4.91h-4.7zM530.96 258.22h4.7v4.91h-4.7zM434.12 262.83h4.7v4.91h-4.7zM451.72 262.83h4.7v4.91h-4.7zM486.94 262.83h4.7v4.91h-4.7zM491.34 262.83h4.7v4.91h-4.7zM495.74 262.83h4.7v4.91h-4.7zM539.76 262.83h4.7v4.91h-4.7zM544.16 262.83h4.7v4.91h-4.7zM548.56 262.83h4.7v4.91h-4.7zM552.96 262.83h4.7v4.91h-4.7zM570.57 262.83h4.7v4.91h-4.7zM447.32 267.43h4.7v4.91h-4.7zM451.72 267.43h4.7v4.91h-4.7zM456.12 267.43h4.7v4.91h-4.7zM460.53 267.43h4.7v4.91h-4.7zM469.33 267.43h4.7v4.91h-4.7zM486.94 267.43h4.7v4.91h-4.7zM491.34 267.43h4.7v4.91h-4.7zM495.74 267.43h4.7v4.91h-4.7zM526.55 267.43h4.7v4.91h-4.7zM530.96 267.43h4.7v4.91h-4.7zM574.97 267.43h4.7v4.91h-4.7zM579.38 267.43h4.7v4.91h-4.7zM592.58 267.43h4.7v4.91h-4.7zM623.39 267.43h4.7v4.91h-4.7zM627.79 267.43h4.7v4.91h-4.7zM438.52 272.04h4.7v4.91h-4.7zM442.92 272.04h4.7v4.91h-4.7zM451.72 272.04h4.7v4.91h-4.7zM456.12 272.04h4.7v4.91h-4.7zM460.53 272.04h4.7v4.91h-4.7zM486.94 272.04h4.7v4.91h-4.7zM491.34 272.04h4.7v4.91h-4.7zM495.74 272.04h4.7v4.91h-4.7zM548.56 272.04h4.7v4.91h-4.7zM566.17 272.04h4.7v4.91h-4.7zM592.58 272.04h4.7v4.91h-4.7zM601.38 272.04h4.7v4.91h-4.7zM605.79 272.04h4.7v4.91h-4.7zM614.59 272.04h4.7v4.91h-4.7zM623.39 272.04h4.7v4.91h-4.7zM434.12 276.65h4.7v4.91h-4.7zM438.52 276.65h4.7v4.91h-4.7zM442.92 276.65h4.7v4.91h-4.7zM447.32 276.65h4.7v4.91h-4.7zM469.33 276.65h4.7v4.91h-4.7zM473.73 276.65h4.7v4.91h-4.7zM478.13 276.65h4.7v4.91h-4.7zM482.54 276.65h4.7v4.91h-4.7zM486.94 276.65h4.7v4.91h-4.7zM504.54 276.65h4.7v4.91h-4.7zM526.55 276.65h4.7v4.91h-4.7zM539.76 276.65h4.7v4.91h-4.7zM548.56 276.65h4.7v4.91h-4.7zM552.96 276.65h4.7v4.91h-4.7zM557.37 276.65h4.7v4.91h-4.7zM566.17 276.65h4.7v4.91h-4.7zM596.98 276.65h4.7v4.91h-4.7zM601.38 276.65h4.7v4.91h-4.7zM618.99 276.65h4.7v4.91h-4.7zM632.2 276.65h4.7v4.91h-4.7zM434.12 281.25h4.7v4.91h-4.7zM442.92 281.25h4.7v4.91h-4.7zM451.72 281.25h4.7v4.91h-4.7zM460.53 281.25h4.7v4.91h-4.7zM464.93 281.25h4.7v4.91h-4.7zM504.54 281.25h4.7v4.91h-4.7zM508.95 281.25h4.7v4.91h-4.7zM513.35 281.25h4.7v4.91h-4.7zM517.75 281.25h4.7v4.91h-4.7zM526.55 281.25h4.7v4.91h-4.7zM530.96 281.25h4.7v4.91h-4.7zM539.76 281.25h4.7v4.91h-4.7zM548.56 281.25h4.7v4.91h-4.7zM552.96 281.25h4.7v4.91h-4.7zM561.77 281.25h4.7v4.91h-4.7zM574.97 281.25h4.7v4.91h-4.7zM579.38 281.25h4.7v4.91h-4.7zM583.78 281.25h4.7v4.91h-4.7zM588.18 281.25h4.7v4.91h-4.7zM596.98 281.25h4.7v4.91h-4.7zM601.38 281.25h4.7v4.91h-4.7zM605.79 281.25h4.7v4.91h-4.7zM614.59 281.25h4.7v4.91h-4.7zM618.99 281.25h4.7v4.91h-4.7zM623.39 281.25h4.7v4.91h-4.7zM627.79 281.25h4.7v4.91h-4.7zM632.2 281.25h4.7v4.91h-4.7zM636.6 281.25h4.7v4.91h-4.7zM451.72 285.86h4.7v4.91h-4.7zM460.53 285.86h4.7v4.91h-4.7zM469.33 285.86h4.7v4.91h-4.7zM495.74 285.86h4.7v4.91h-4.7zM504.54 285.86h4.7v4.91h-4.7zM508.95 285.86h4.7v4.91h-4.7zM517.75 285.86h4.7v4.91h-4.7zM526.55 285.86h4.7v4.91h-4.7zM530.96 285.86h4.7v4.91h-4.7zM535.36 285.86h4.7v4.91h-4.7zM544.16 285.86h4.7v4.91h-4.7zM552.96 285.86h4.7v4.91h-4.7zM566.17 285.86h4.7v4.91h-4.7zM570.57 285.86h4.7v4.91h-4.7zM574.97 285.86h4.7v4.91h-4.7zM583.78 285.86h4.7v4.91h-4.7zM588.18 285.86h4.7v4.91h-4.7zM592.58 285.86h4.7v4.91h-4.7zM601.38 285.86h4.7v4.91h-4.7zM605.79 285.86h4.7v4.91h-4.7zM610.19 285.86h4.7v4.91h-4.7zM618.99 285.86h4.7v4.91h-4.7zM623.39 285.86h4.7v4.91h-4.7zM627.79 285.86h4.7v4.91h-4.7zM636.6 285.86h4.7v4.91h-4.7zM438.52 290.47h4.7v4.91h-4.7zM442.92 290.47h4.7v4.91h-4.7zM464.93 290.47h4.7v4.91h-4.7zM469.33 290.47h4.7v4.91h-4.7zM486.94 290.47h4.7v4.91h-4.7zM508.95 290.47h4.7v4.91h-4.7zM513.35 290.47h4.7v4.91h-4.7zM517.75 290.47h4.7v4.91h-4.7zM539.76 290.47h4.7v4.91h-4.7zM548.56 290.47h4.7v4.91h-4.7zM561.77 290.47h4.7v4.91h-4.7zM566.17 290.47h4.7v4.91h-4.7zM570.57 290.47h4.7v4.91h-4.7zM574.97 290.47h4.7v4.91h-4.7zM583.78 290.47h4.7v4.91h-4.7zM588.18 290.47h4.7v4.91h-4.7zM614.59 290.47h4.7v4.91h-4.7zM623.39 290.47h4.7v4.91h-4.7zM425.31 295.07h4.7v4.91h-4.7zM438.52 295.07h4.7v4.91h-4.7zM460.53 295.07h4.7v4.91h-4.7zM469.33 295.07h4.7v4.91h-4.7zM486.94 295.07h4.7v4.91h-4.7zM500.14 295.07h4.7v4.91h-4.7zM530.96 295.07h4.7v4.91h-4.7zM539.76 295.07h4.7v4.91h-4.7zM552.96 295.07h4.7v4.91h-4.7zM557.37 295.07h4.7v4.91h-4.7zM566.17 295.07h4.7v4.91h-4.7zM579.38 295.07h4.7v4.91h-4.7zM592.58 295.07h4.7v4.91h-4.7zM605.79 295.07h4.7v4.91h-4.7zM614.59 295.07h4.7v4.91h-4.7zM618.99 295.07h4.7v4.91h-4.7zM623.39 295.07h4.7v4.91h-4.7zM636.6 295.07h4.7v4.91h-4.7zM438.52 299.68h4.7v4.91h-4.7zM447.32 299.68h4.7v4.91h-4.7zM451.72 299.68h4.7v4.91h-4.7zM460.53 299.68h4.7v4.91h-4.7zM464.93 299.68h4.7v4.91h-4.7zM478.13 299.68h4.7v4.91h-4.7zM495.74 299.68h4.7v4.91h-4.7zM526.55 299.68h4.7v4.91h-4.7zM535.36 299.68h4.7v4.91h-4.7zM561.77 299.68h4.7v4.91h-4.7zM570.57 299.68h4.7v4.91h-4.7zM574.97 299.68h4.7v4.91h-4.7zM579.38 299.68h4.7v4.91h-4.7zM588.18 299.68h4.7v4.91h-4.7zM601.38 299.68h4.7v4.91h-4.7zM614.59 299.68h4.7v4.91h-4.7zM636.6 299.68h4.7v4.91h-4.7zM442.92 304.29h4.7v4.91h-4.7zM456.12 304.29h4.7v4.91h-4.7zM460.53 304.29h4.7v4.91h-4.7zM464.93 304.29h4.7v4.91h-4.7zM491.34 304.29h4.7v4.91h-4.7zM500.14 304.29h4.7v4.91h-4.7zM504.54 304.29h4.7v4.91h-4.7zM513.35 304.29h4.7v4.91h-4.7zM517.75 304.29h4.7v4.91h-4.7zM522.15 304.29h4.7v4.91h-4.7zM530.96 304.29h4.7v4.91h-4.7zM535.36 304.29h4.7v4.91h-4.7zM539.76 304.29h4.7v4.91h-4.7zM548.56 304.29h4.7v4.91h-4.7zM570.57 304.29h4.7v4.91h-4.7zM579.38 304.29h4.7v4.91h-4.7zM583.78 304.29h4.7v4.91h-4.7zM592.58 304.29h4.7v4.91h-4.7zM596.98 304.29h4.7v4.91h-4.7zM601.38 304.29h4.7v4.91h-4.7zM614.59 304.29h4.7v4.91h-4.7zM618.99 304.29h4.7v4.91h-4.7zM434.12 308.89h4.7v4.91h-4.7zM438.52 308.89h4.7v4.91h-4.7zM447.32 308.89h4.7v4.91h-4.7zM464.93 308.89h4.7v4.91h-4.7zM469.33 308.89h4.7v4.91h-4.7zM482.54 308.89h4.7v4.91h-4.7zM504.54 308.89h4.7v4.91h-4.7zM513.35 308.89h4.7v4.91h-4.7zM517.75 308.89h4.7v4.91h-4.7zM522.15 308.89h4.7v4.91h-4.7zM530.96 308.89h4.7v4.91h-4.7zM535.36 308.89h4.7v4.91h-4.7zM544.16 308.89h4.7v4.91h-4.7zM561.77 308.89h4.7v4.91h-4.7zM570.57 308.89h4.7v4.91h-4.7zM579.38 308.89h4.7v4.91h-4.7zM588.18 308.89h4.7v4.91h-4.7zM592.58 308.89h4.7v4.91h-4.7zM596.98 308.89h4.7v4.91h-4.7zM623.39 308.89h4.7v4.91h-4.7zM627.79 308.89h4.7v4.91h-4.7zM632.2 308.89h4.7v4.91h-4.7z"/>
<path fill="#2a36f6" d="M517.75 244.4h4.7v4.91h-4.7zM482.54 249.01h4.7v4.91h-4.7zM486.94 249.01h4.7v4.91h-4.7zM486.94 258.22h4.7v4.91h-4.7zM447.32 262.83h4.7v4.91h-4.7zM504.54 262.83h4.7v4.91h-4.7zM522.15 262.83h4.7v4.91h-4.7zM526.55 262.83h4.7v4.91h-4.7zM530.96 262.83h4.7v4.91h-4.7zM596.98 262.83h4.7v4.91h-4.7zM618.99 262.83h4.7v4.91h-4.7zM442.92 267.43h4.7v4.91h-4.7zM583.78 267.43h4.7v4.91h-4.7zM605.79 267.43h4.7v4.91h-4.7zM610.19 272.04h4.7v4.91h-4.7zM429.71 285.86h4.7v4.91h-4.7zM429.71 290.47h4.7v4.91h-4.7zM425.31 299.68h4.7v4.91h-4.7zM636.6 308.89h4.7v4.91h-4.7z"/>
<path fill="#1e30f6" d="M522.15 244.4h4.7v4.91h-4.7zM442.92 253.61h4.7v4.91h-4.7zM464.93 262.83h4.7v4.91h-4.7zM482.54 262.83h4.7v4.91h-4.7zM574.97 262.83h4.7v4.91h-4.7zM601.38 262.83h4.7v4.91h-4.7zM614.59 262.83h4.7v4.91h-4.7zM438.52 267.43h4.7v4.91h-4.7zM504.54 267.43h4.7v4.91h-4.7zM517.75 267.43h4.7v4.91h-4.7zM557.37 267.43h4.7v4.91h-4.7zM588.18 267.43h4.7v4.91h-4.7zM601.38 267.43h4.7v4.91h-4.7zM504.54 272.04h4.7v4.91h-4.7zM570.57 272.04h4.7v4.91h-4.7zM486.94 281.25h4.7v4.91h-4.7zM513.35 295.07h4.7v4.91h-4.7zM627.79 295.07h4.7v4.91h-4.7zM500.14 299.68h4.7v4.91h-4.7zM508.95 299.68h4.7v4.91h-4.7zM623.39 299.68h4.7v4.91h-4.7zM627.79 299.68h4.7v4.91h-4.7zM425.31 304.29h4.7v4.91h-4.7zM508.95 304.29h4.7v4.91h-4.7zM632.2 304.29h4.7v4.91h-4.7z"/>
<path fill="#1e2ad8" d="M544.16 244.4h4.7v4.91h-4.7zM557.37 253.61h4.7v4.91h-4.7zM623.39 258.22h4.7v4.91h-4.7z"/>
<path fill="#2424ba" d="M548.56 244.4h4.7v4.91h-4.7z"/>
<path fill="#181ea8" d="M552.96 244.4h4.7v4.91h-4.7z"/>
<path fill="#1218a2" d="M557.37 244.4h4.7v4.91h-4.7z"/>
<path fill="#0c128a" d="M561.77 244.4h4.7v4.91h-4.7z"/>
<path fill="#181878" d="M566.17 244.4h4.7v4.91h-4.7z"/>
<path fill="#0c126c" d="M570.57 244.4h4.7v4.91h-4.7z"/>
<path fill="#0c1260" d="M574.97 244.4h4.7v4.91h-4.7z"/>
<path fill="#18125a" d="M579.38 244.4h4.7v4.91h-4.7zM618.99 244.4h4.7v4.91h-4.7z"/>
<path fill="#0c0c5a" d="M583.78 244.4h4.7v4.91h-4.7z"/>
<path fill="#060c5a" d="M588.18 244.4h4.7v4.91h-4.7z"/>
<path fill="#12125a" d="M592.58 244.4h4.7v4.91h-4.7z"/>
<path fill="#121260" d="M596.98 244.4h4.7v4.91h-4.7z"/>
<path fill="#181266" d="M601.38 244.4h4.7v4.91h-4.7z"/>
<path fill="#0c0c66" d="M605.79 244.4h4.7v4.91h-4.7zM610.19 244.4h4.7v4.91h-4.7z"/>
<path fill="#180c4e" d="M623.39 244.4h4.7v4.91h-4.7z"/>
<path fill="#240c54" d="M627.79 244.4h4.7v4.91h-4.7z"/>
<path fill="#36066c" d="M632.2 244.4h4.7v4.91h-4.7z"/>
<path fill="#420c78" d="M636.6 244.4h4.7v4.91h-4.7z"/>
<path fill="#5a1ede" d="M394.5 249.01h4.7v4.91h-4.7z"/>
<path fill="#6c1eea" d="M398.9 249.01h4.7v4.91h-4.7z"/>
<path fill="#6618f0" d="M403.3 249.01h4.7v4.91h-4.7z"/>
<path fill="#303cf6" d="M451.72 249.01h4.7v4.91h-4.7z"/>
<path fill="#1e30ea" d="M478.13 249.01h4.7v4.91h-4.7zM442.92 258.22h4.7v4.91h-4.7zM478.13 258.22h4.7v4.91h-4.7zM552.96 258.22h4.7v4.91h-4.7zM429.71 299.68h4.7v4.91h-4.7z"/>
<path fill="#2436f6" d="M517.75 249.01h4.7v4.91h-4.7zM473.73 253.61h4.7v4.91h-4.7zM500.14 253.61h4.7v4.91h-4.7zM530.96 253.61h4.7v4.91h-4.7zM482.54 258.22h4.7v4.91h-4.7zM495.74 258.22h4.7v4.91h-4.7zM500.14 258.22h4.7v4.91h-4.7zM517.75 258.22h4.7v4.91h-4.7zM526.55 258.22h4.7v4.91h-4.7zM544.16 258.22h4.7v4.91h-4.7zM438.52 262.83h4.7v4.91h-4.7zM517.75 262.83h4.7v4.91h-4.7zM513.35 267.43h4.7v4.91h-4.7zM566.17 267.43h4.7v4.91h-4.7zM614.59 267.43h4.7v4.91h-4.7zM447.32 272.04h4.7v4.91h-4.7zM539.76 272.04h4.7v4.91h-4.7zM557.37 272.04h4.7v4.91h-4.7zM561.77 272.04h4.7v4.91h-4.7zM464.93 276.65h4.7v4.91h-4.7zM495.74 276.65h4.7v4.91h-4.7zM500.14 276.65h4.7v4.91h-4.7zM535.36 276.65h4.7v4.91h-4.7zM570.57 276.65h4.7v4.91h-4.7zM574.97 276.65h4.7v4.91h-4.7zM495.74 281.25h4.7v4.91h-4.7zM535.36 281.25h4.7v4.91h-4.7zM610.19 281.25h4.7v4.91h-4.7zM473.73 285.86h4.7v4.91h-4.7zM478.13 285.86h4.7v4.91h-4.7zM486.94 285.86h4.7v4.91h-4.7zM491.34 285.86h4.7v4.91h-4.7zM473.73 290.47h4.7v4.91h-4.7zM522.15 290.47h4.7v4.91h-4.7zM535.36 290.47h4.7v4.91h-4.7zM552.96 290.47h4.7v4.91h-4.7zM601.38 290.47h4.7v4.91h-4.7zM478.13 295.07h4.7v4.91h-4.7zM504.54 295.07h4.7v4.91h-4.7zM517.75 295.07h4.7v4.91h-4.7zM522.15 295.07h4.7v4.91h-4.7zM632.2 295.07h4.7v4.91h-4.7zM486.94 299.68h4.7v4.91h-4.7zM513.35 299.68h4.7v4.91h-4.7zM632.2 299.68h4.7v4.91h-4.7zM434.12 304.29h4.7v4.91h-4.7zM561.77 304.29h4.7v4.91h-4.7zM566.17 304.29h4.7v4.91h-4.7zM610.19 304.29h4.7v4.91h-4.7zM623.39 304.29h4.7v4.91h-4.7zM636.6 304.29h4.7v4.91h-4.7zM566.17 308.89h4.7v4.91h-4.7zM614.59 308.89h4.7v4.91h-4.7z"/>
<path fill="#122af0" d="M530.96 249.01h4.7v4.91h-4.7z"/>
<path fill="#2430ea" d="M544.16 249.01h4.7v4.91h-4.7zM561.77 258.22h4.7v4.91h-4.7zM601.38 258.22h4.7v4.91h-4.7zM614.59 258.22h4.7v4.91h-4.7zM442.92 262.83h4.7v4.91h-4.7zM605.79 262.83h4.7v4.91h-4.7z"/>
<path fill="#1e24c6" d="M552.96 249.01h4.7v4.91h-4.7zM588.18 253.61h4.7v4.91h-4.7z"/>
<path fill="#1824c0" d="M557.37 249.01h4.7v4.91h-4.7z"/>
<path fill="#1824ba" d="M561.77 249.01h4.7v4.91h-4.7z"/>
<path fill="#181eba" d="M566.17 249.01h4.7v4.91h-4.7z"/>
<path fill="#121ea2" d="M570.57 249.01h4.7v4.91h-4.7z"/>
<path fill="#181e96" d="M574.97 249.01h4.7v4.91h-4.7zM588.18 249.01h4.7v4.91h-4.7z"/>
<path fill="#0c18a2" d="M579.38 249.01h4.7v4.91h-4.7z"/>
<path fill="#121896" d="M592.58 249.01h4.7v4.91h-4.7z"/>
<path fill="#1e1ea2" d="M605.79 249.01h4.7v4.91h-4.7z"/>
<path fill="#181e9c" d="M610.19 249.01h4.7v4.91h-4.7z"/>
<path fill="#1e1e90" d="M614.59 249.01h4.7v4.91h-4.7z"/>
<path fill="#12188a" d="M618.99 249.01h4.7v4.91h-4.7z"/>
<path fill="#0c127e" d="M623.39 249.01h4.7v4.91h-4.7z"/>
<path fill="#3c0c9c" d="M632.2 249.01h4.7v4.91h-4.7z"/>
<path fill="#661ef6" d="M403.3 253.61h4.7v4.91h-4.7z"/>
<path fill="#6624f6" d="M407.71 253.61h4.7v4.91h-4.7z"/>
<path fill="#2436f0" d="M447.32 253.61h4.7v4.91h-4.7zM451.72 253.61h4.7v4.91h-4.7zM513.35 258.22h4.7v4.91h-4.7zM566.17 258.22h4.7v4.91h-4.7zM478.13 262.83h4.7v4.91h-4.7zM561.77 262.83h4.7v4.91h-4.7zM566.17 262.83h4.7v4.91h-4.7zM610.19 262.83h4.7v4.91h-4.7zM491.34 276.65h4.7v4.91h-4.7zM491.34 281.25h4.7v4.91h-4.7zM482.54 285.86h4.7v4.91h-4.7zM473.73 295.07h4.7v4.91h-4.7zM491.34 308.89h4.7v4.91h-4.7zM508.95 308.89h4.7v4.91h-4.7zM610.19 308.89h4.7v4.91h-4.7z"/>
<path fill="#2a3cfc" d="M460.53 253.61h4.7v4.91h-4.7zM460.53 258.22h4.7v4.91h-4.7zM460.53 262.83h4.7v4.91h-4.7zM517.75 272.04h4.7v4.91h-4.7zM579.38 272.04h4.7v4.91h-4.7zM588.18 272.04h4.7v4.91h-4.7zM596.98 272.04h4.7v4.91h-4.7zM517.75 276.65h4.7v4.91h-4.7zM561.77 276.65h4.7v4.91h-4.7zM583.78 276.65h4.7v4.91h-4.7zM588.18 276.65h4.7v4.91h-4.7zM592.58 276.65h4.7v4.91h-4.7zM614.59 276.65h4.7v4.91h-4.7zM627.79 276.65h4.7v4.91h-4.7zM557.37 281.25h4.7v4.91h-4.7zM566.17 281.25h4.7v4.91h-4.7zM434.12 285.86h4.7v4.91h-4.7zM464.93 285.86h4.7v4.91h-4.7zM513.35 285.86h4.7v4.91h-4.7zM451.72 290.47h4.7v4.91h-4.7zM456.12 290.47h4.7v4.91h-4.7zM460.53 290.47h4.7v4.91h-4.7zM504.54 290.47h4.7v4.91h-4.7zM526.55 290.47h4.7v4.91h-4.7zM530.96 290.47h4.7v4.91h-4.7zM592.58 290.47h4.7v4.91h-4.7zM618.99 290.47h4.7v4.91h-4.7zM442.92 295.07h4.7v4.91h-4.7zM451.72 295.07h4.7v4.91h-4.7zM456.12 295.07h4.7v4.91h-4.7zM561.77 295.07h4.7v4.91h-4.7zM570.57 295.07h4.7v4.91h-4.7zM610.19 295.07h4.7v4.91h-4.7zM469.33 299.68h4.7v4.91h-4.7zM473.73 299.68h4.7v4.91h-4.7zM539.76 299.68h4.7v4.91h-4.7zM544.16 299.68h4.7v4.91h-4.7zM552.96 299.68h4.7v4.91h-4.7zM596.98 299.68h4.7v4.91h-4.7zM605.79 299.68h4.7v4.91h-4.7zM610.19 299.68h4.7v4.91h-4.7zM451.72 304.29h4.7v4.91h-4.7zM469.33 304.29h4.7v4.91h-4.7zM526.55 304.29h4.7v4.91h-4.7zM442.92 308.89h4.7v4.91h-4.7zM456.12 308.89h4.7v4.91h-4.7zM473.73 308.89h4.7v4.91h-4.7zM495.74 308.89h4.7v4.91h-4.7zM539.76 308.89h4.7v4.91h-4.7zM583.78 308.89h4.7v4.91h-4.7z"/>
<path fill="#1e36fc" d="M469.33 253.61h4.7v4.91h-4.7zM464.93 258.22h4.7v4.91h-4.7zM535.36 258.22h4.7v4.91h-4.7zM539.76 258.22h4.7v4.91h-4.7zM456.12 262.83h4.7v4.91h-4.7zM469.33 262.83h4.7v4.91h-4.7zM500.14 262.83h4.7v4.91h-4.7zM508.95 262.83h4.7v4.91h-4.7zM473.73 267.43h4.7v4.91h-4.7zM535.36 267.43h4.7v4.91h-4.7zM548.56 267.43h4.7v4.91h-4.7zM596.98 267.43h4.7v4.91h-4.7zM469.33 272.04h4.7v4.91h-4.7zM473.73 272.04h4.7v4.91h-4.7zM478.13 272.04h4.7v4.91h-4.7zM526.55 272.04h4.7v4.91h-4.7zM552.96 272.04h4.7v4.91h-4.7zM583.78 272.04h4.7v4.91h-4.7zM627.79 272.04h4.7v4.91h-4.7zM460.53 276.65h4.7v4.91h-4.7zM544.16 276.65h4.7v4.91h-4.7zM605.79 276.65h4.7v4.91h-4.7zM442.92 285.86h4.7v4.91h-4.7zM447.32 285.86h4.7v4.91h-4.7zM548.56 285.86h4.7v4.91h-4.7zM557.37 285.86h4.7v4.91h-4.7zM561.77 285.86h4.7v4.91h-4.7zM596.98 285.86h4.7v4.91h-4.7zM447.32 290.47h4.7v4.91h-4.7zM482.54 290.47h4.7v4.91h-4.7zM491.34 290.47h4.7v4.91h-4.7zM500.14 290.47h4.7v4.91h-4.7zM596.98 290.47h4.7v4.91h-4.7zM632.2 290.47h4.7v4.91h-4.7zM482.54 295.07h4.7v4.91h-4.7zM491.34 295.07h4.7v4.91h-4.7zM508.95 295.07h4.7v4.91h-4.7zM535.36 295.07h4.7v4.91h-4.7zM544.16 295.07h4.7v4.91h-4.7zM574.97 295.07h4.7v4.91h-4.7zM583.78 295.07h4.7v4.91h-4.7zM588.18 295.07h4.7v4.91h-4.7zM601.38 295.07h4.7v4.91h-4.7zM442.92 299.68h4.7v4.91h-4.7zM491.34 299.68h4.7v4.91h-4.7zM530.96 299.68h4.7v4.91h-4.7zM566.17 299.68h4.7v4.91h-4.7zM583.78 299.68h4.7v4.91h-4.7zM592.58 299.68h4.7v4.91h-4.7zM438.52 304.29h4.7v4.91h-4.7zM473.73 304.29h4.7v4.91h-4.7zM544.16 304.29h4.7v4.91h-4.7zM552.96 304.29h4.7v4.91h-4.7zM574.97 304.29h4.7v4.91h-4.7zM605.79 304.29h4.7v4.91h-4.7zM460.53 308.89h4.7v4.91h-4.7zM478.13 308.89h4.7v4.91h-4.7zM526.55 308.89h4.7v4.91h-4.7z"/>
<path fill="#1e30f0" d="M478.13 253.61h4.7v4.91h-4.7zM447.32 258.22h4.7v4.91h-4.7zM491.34 258.22h4.7v4.91h-4.7zM548.56 258.22h4.7v4.91h-4.7zM557.37 258.22h4.7v4.91h-4.7zM570.57 258.22h4.7v4.91h-4.7zM583.78 262.83h4.7v4.91h-4.7zM508.95 267.43h4.7v4.91h-4.7zM464.93 272.04h4.7v4.91h-4.7zM522.15 285.86h4.7v4.91h-4.7zM434.12 295.07h4.7v4.91h-4.7zM504.54 299.68h4.7v4.91h-4.7zM522.15 299.68h4.7v4.91h-4.7zM627.79 304.29h4.7v4.91h-4.7zM486.94 308.89h4.7v4.91h-4.7zM605.79 308.89h4.7v4.91h-4.7z"/>
<path fill="#1e36f6" d="M513.35 253.61h4.7v4.91h-4.7zM504.54 258.22h4.7v4.91h-4.7zM473.73 262.83h4.7v4.91h-4.7zM482.54 304.29h4.7v4.91h-4.7zM557.37 308.89h4.7v4.91h-4.7z"/>
<path fill="#1e2ade" d="M552.96 253.61h4.7v4.91h-4.7zM592.58 258.22h4.7v4.91h-4.7zM618.99 258.22h4.7v4.91h-4.7zM425.31 281.25h4.7v4.91h-4.7z"/>
<path fill="#182ad8" d="M561.77 253.61h4.7v4.91h-4.7z"/>
<path fill="#242ad2" d="M570.57 253.61h4.7v4.91h-4.7zM601.38 253.61h4.7v4.91h-4.7z"/>
<path fill="#1224c6" d="M574.97 253.61h4.7v4.91h-4.7z"/>
<path fill="#1824d2" d="M579.38 253.61h4.7v4.91h-4.7z"/>
<path fill="#1e2ad2" d="M583.78 253.61h4.7v4.91h-4.7zM605.79 253.61h4.7v4.91h-4.7zM610.19 253.61h4.7v4.91h-4.7zM588.18 258.22h4.7v4.91h-4.7z"/>
<path fill="#1e2acc" d="M592.58 253.61h4.7v4.91h-4.7z"/>
<path fill="#1824cc" d="M596.98 253.61h4.7v4.91h-4.7z"/>
<path fill="#1e24c0" d="M614.59 253.61h4.7v4.91h-4.7z"/>
<path fill="#1e24b4" d="M618.99 253.61h4.7v4.91h-4.7z"/>
<path fill="#2a18a8" d="M627.79 253.61h4.7v4.91h-4.7z"/>
<path fill="#6024d8" d="M394.5 258.22h4.7v4.91h-4.7z"/>
<path fill="#6c24ea" d="M403.3 258.22h4.7v4.91h-4.7z"/>
<path fill="#1830f6" d="M451.72 258.22h4.7v4.91h-4.7zM508.95 258.22h4.7v4.91h-4.7zM464.93 267.43h4.7v4.91h-4.7z"/>
<path fill="#2a36e4" d="M574.97 258.22h4.7v4.91h-4.7z"/>
<path fill="#2430e4" d="M579.38 258.22h4.7v4.91h-4.7zM605.79 258.22h4.7v4.91h-4.7zM588.18 262.83h4.7v4.91h-4.7z"/>
<path fill="#1e30e4" d="M583.78 258.22h4.7v4.91h-4.7zM596.98 258.22h4.7v4.91h-4.7z"/>
<path fill="#5a24f0" d="M394.5 267.43h4.7v4.91h-4.7z"/>
<path fill="#3630f6" d="M420.91 267.43h4.7v4.91h-4.7z"/>
<path fill="#362af0" d="M416.51 272.04h4.7v4.91h-4.7zM416.51 276.65h4.7v4.91h-4.7zM394.5 299.68h4.7v4.91h-4.7z"/>
<path fill="#1830fc" d="M482.54 272.04h4.7v4.91h-4.7zM579.38 276.65h4.7v4.91h-4.7zM438.52 281.25h4.7v4.91h-4.7zM544.16 290.47h4.7v4.91h-4.7zM627.79 290.47h4.7v4.91h-4.7zM447.32 304.29h4.7v4.91h-4.7z"/>
<path fill="#2436ea" d="M508.95 272.04h4.7v4.91h-4.7zM434.12 299.68h4.7v4.91h-4.7z"/>
<path fill="#2a2af0" d="M420.91 276.65h4.7v4.91h-4.7z"/>
<path fill="#3036f0" d="M425.31 276.65h4.7v4.91h-4.7z"/>
<path fill="#243cfc" d="M495.74 290.47h4.7v4.91h-4.7zM447.32 295.07h4.7v4.91h-4.7zM596.98 295.07h4.7v4.91h-4.7zM495.74 304.29h4.7v4.91h-4.7zM588.18 304.29h4.7v4.91h-4.7zM451.72 308.89h4.7v4.91h-4.7zM500.14 308.89h4.7v4.91h-4.7z"/>
<path fill="#362afc" d="M407.71 295.07h4.7v4.91h-4.7z"/>
<path fill="#3030f0" d="M394.5 304.29h4.7v4.91h-4.7z"/>
<path fill="#3c3cfc" d="M416.51 304.29h4.7v4.91h-4.7z"/>
<path fill="#2a2af6" d="M394.5 308.89h4.7v4.91h-4.7z"/></g>
<g shape-rendering="crispEdges"><path fill="#3024f4" d="M45.8 368.3h4.79v4.9h-4.79zM59.26 368.3h9.27v4.9h-9.27zM86.18 368.3h9.27v4.9h-9.27zM86.18 372.9h9.27v9.5h-9.27zM45.8 382.1h4.79v9.5h-4.79zM59.26 391.29h9.27v9.5h-9.27zM45.8 400.49h4.79v9.5h-4.79zM59.26 409.69h9.27v9.5h-9.27zM193.86 428.08h9.27v9.5h-9.27zM131.05 446.47h9.27v9.5h-9.27zM148.99 455.67h9.27v9.5h-9.27zM95.15 464.87h9.27v9.5h-9.27zM86.18 492.46h9.27v9.5h-9.27zM68.23 510.85h9.27v9.5h-9.27zM45.8 584.42h4.79v9.5h-4.79zM211.81 593.62h9.27v9.5h-9.27zM45.8 621.21h4.79v9.5h-4.79zM131.05 621.21h9.27v9.5h-9.27zM238.73 639.6h9.27v4.9h-9.27z"/>
<path fill="#3024ff" d="M50.29 368.3h9.27v4.9h-9.27zM68.23 368.3h9.27v4.9h-9.27zM59.26 382.1h9.27v9.5h-9.27zM283.59 382.1h9.27v9.5h-9.27zM50.29 391.29h9.27v9.5h-9.27zM202.83 400.49h9.27v9.5h-9.27zM283.59 400.49h9.27v9.5h-9.27zM193.86 437.28h9.27v9.5h-9.27zM193.86 455.67h9.27v9.5h-9.27zM86.18 464.87h9.27v9.5h-9.27zM193.86 566.03h9.27v9.5h-9.27zM202.83 602.82h9.27v9.5h-9.27zM220.78 602.82h9.27v9.5h-9.27zM59.26 612.01h9.27v9.5h-9.27zM122.07 612.01h9.27v9.5h-9.27zM113.1 630.4h9.27v9.5h-9.27zM131.05 630.4h9.27v9.5h-9.27zM175.91 630.4h9.27v9.5h-9.27zM95.15 639.6h9.27v4.9h-9.27zM256.67 639.6h9.27v4.9h-9.27z"/>
<path fill="#3424f8" d="M77.21 368.3h9.27v4.9h-9.27zM310.51 368.3h4.79v4.9h-4.79zM184.89 382.1h9.27v9.5h-9.27zM148.99 428.08h9.27v9.5h-9.27zM140.02 446.47h9.27v9.5h-9.27zM77.21 474.06h9.27v9.5h-9.27zM95.15 474.06h9.27v9.5h-9.27zM68.23 483.26h9.27v9.5h-9.27zM68.23 602.82h9.27v9.5h-9.27zM220.78 621.21h9.27v9.5h-9.27zM184.89 630.4h9.27v9.5h-9.27zM220.78 639.6h9.27v4.9h-9.27z"/>
<path fill="#280cd8" d="M95.15 368.3h9.27v4.9h-9.27zM59.26 593.62h9.27v9.5h-9.27zM184.89 593.62h9.27v9.5h-9.27zM292.57 639.6h9.27v4.9h-9.27zM301.54 639.6h9.27v4.9h-9.27zM310.51 639.6h4.79v4.9h-4.79z"/>
<path fill="#5810f0" d="M104.13 368.3h9.27v4.9h-9.27zM95.15 382.1h9.27v9.5h-9.27zM220.78 382.1h9.27v9.5h-9.27zM68.23 464.87h9.27v9.5h-9.27zM140.02 483.26h9.27v9.5h-9.27zM104.13 492.46h9.27v9.5h-9.27zM77.21 547.63h9.27v9.5h-9.27zM77.21 556.83h9.27v9.5h-9.27zM113.1 593.62h9.27v9.5h-9.27z"/>
<path fill="#5410e8" d="M113.1 368.3h9.27v4.9h-9.27zM166.94 368.3h9.27v4.9h-9.27zM256.67 372.9h9.27v9.5h-9.27zM229.75 382.1h9.27v9.5h-9.27zM157.97 391.29h9.27v9.5h-9.27zM238.73 391.29h9.27v9.5h-9.27zM229.75 400.49h9.27v9.5h-9.27zM184.89 446.47h9.27v9.5h-9.27zM131.05 464.87h9.27v9.5h-9.27zM148.99 464.87h9.27v9.5h-9.27zM131.05 474.06h9.27v9.5h-9.27zM86.18 520.05h9.27v9.5h-9.27zM77.21 538.44h9.27v9.5h-9.27zM104.13 584.42h9.27v9.5h-9.27z"/>
<path fill="#5c10f8" d="M122.07 368.3h9.27v4.9h-9.27zM220.78 368.3h9.27v4.9h-9.27zM256.67 368.3h9.27v4.9h-9.27zM122.07 372.9h9.27v9.5h-9.27zM202.83 409.69h9.27v9.5h-9.27zM256.67 409.69h9.27v9.5h-9.27zM113.1 584.42h9.27v9.5h-9.27z"/>
<path fill="#7008bc" d="M131.05 368.3h9.27v4.9h-9.27zM86.18 538.44h9.27v9.5h-9.27z"/>
<path fill="#4c0890" d="M140.02 368.3h9.27v4.9h-9.27zM140.02 391.29h9.27v9.5h-9.27zM131.05 400.49h9.27v9.5h-9.27zM113.1 409.69h9.27v9.5h-9.27zM301.54 409.69h9.27v9.5h-9.27zM265.65 418.88h9.27v9.5h-9.27zM247.7 428.08h9.27v9.5h-9.27z"/>
<path fill="#4c0490" d="M148.99 368.3h9.27v4.9h-9.27zM131.05 391.29h9.27v9.5h-9.27zM310.51 409.69h4.79v9.5h-4.79zM310.51 418.88h4.79v9.5h-4.79zM50.29 455.67h9.27v9.5h-9.27zM86.18 455.67h9.27v9.5h-9.27zM184.89 566.03h9.27v9.5h-9.27z"/>
<path fill="#500890" d="M157.97 368.3h9.27v4.9h-9.27zM301.54 418.88h9.27v9.5h-9.27zM113.1 428.08h9.27v9.5h-9.27z"/>
<path fill="#5410ec" d="M175.91 368.3h9.27v4.9h-9.27zM104.13 372.9h9.27v9.5h-9.27zM220.78 372.9h9.27v9.5h-9.27zM220.78 400.49h9.27v9.5h-9.27zM256.67 400.49h9.27v9.5h-9.27zM68.23 409.69h9.27v9.5h-9.27zM184.89 455.67h9.27v9.5h-9.27zM104.13 501.65h9.27v9.5h-9.27z"/>
<path fill="#280ce0" d="M184.89 368.3h9.27v4.9h-9.27zM140.02 418.88h9.27v9.5h-9.27zM122.07 474.06h9.27v9.5h-9.27zM184.89 612.01h9.27v9.5h-9.27z"/>
<path fill="#3024fc" d="M193.86 368.3h9.27v4.9h-9.27zM193.86 382.1h9.27v9.5h-9.27zM68.23 391.29h9.27v9.5h-9.27zM50.29 400.49h9.27v9.5h-9.27zM122.07 455.67h9.27v9.5h-9.27zM131.05 455.67h9.27v9.5h-9.27zM140.02 455.67h9.27v9.5h-9.27zM122.07 464.87h9.27v9.5h-9.27zM86.18 474.06h9.27v9.5h-9.27zM45.8 566.03h4.79v9.5h-4.79zM193.86 584.42h9.27v9.5h-9.27zM50.29 593.62h9.27v9.5h-9.27zM193.86 593.62h9.27v9.5h-9.27zM122.07 602.82h9.27v9.5h-9.27zM50.29 612.01h9.27v9.5h-9.27zM202.83 612.01h9.27v9.5h-9.27zM175.91 621.21h9.27v9.5h-9.27zM122.07 630.4h9.27v9.5h-9.27zM193.86 630.4h9.27v9.5h-9.27zM202.83 639.6h9.27v4.9h-9.27zM265.65 639.6h9.27v4.9h-9.27zM274.62 639.6h9.27v4.9h-9.27z"/>
<path fill="#502cf4" d="M202.83 368.3h9.27v4.9h-9.27zM265.65 368.3h9.27v4.9h-9.27zM211.81 602.82h9.27v9.5h-9.27z"/>
<path fill="#5410f0" d="M211.81 368.3h9.27v4.9h-9.27zM104.13 575.23h9.27v9.5h-9.27z"/>
<path fill="#542cff" d="M229.75 368.3h9.27v4.9h-9.27zM265.65 382.1h9.27v9.5h-9.27zM202.83 391.29h9.27v9.5h-9.27zM68.23 400.49h9.27v9.5h-9.27zM265.65 400.49h9.27v9.5h-9.27zM45.8 418.88h4.79v9.5h-4.79zM50.29 418.88h9.27v9.5h-9.27zM157.97 455.67h9.27v9.5h-9.27zM45.8 501.65h4.79v9.5h-4.79zM45.8 510.85h4.79v9.5h-4.79zM50.29 520.05h9.27v9.5h-9.27zM122.07 575.23h9.27v9.5h-9.27zM68.23 621.21h9.27v9.5h-9.27zM86.18 639.6h9.27v4.9h-9.27z"/>
<path fill="#502cf8" d="M238.73 368.3h9.27v4.9h-9.27zM265.65 391.29h9.27v9.5h-9.27zM265.65 409.69h9.27v9.5h-9.27zM157.97 446.47h9.27v9.5h-9.27zM175.91 455.67h9.27v9.5h-9.27zM50.29 492.46h9.27v9.5h-9.27zM45.8 520.05h4.79v9.5h-4.79zM122.07 593.62h9.27v9.5h-9.27zM86.18 621.21h9.27v9.5h-9.27z"/>
<path fill="#3428ff" d="M247.7 368.3h9.27v4.9h-9.27zM301.54 368.3h9.27v4.9h-9.27zM193.86 391.29h9.27v9.5h-9.27zM157.97 418.88h9.27v9.5h-9.27zM68.23 474.06h9.27v9.5h-9.27zM95.15 492.46h9.27v9.5h-9.27zM59.26 520.05h9.27v9.5h-9.27zM77.21 520.05h9.27v9.5h-9.27zM59.26 556.83h9.27v9.5h-9.27zM50.29 575.23h9.27v9.5h-9.27zM86.18 575.23h9.27v9.5h-9.27zM193.86 575.23h9.27v9.5h-9.27zM50.29 621.21h9.27v9.5h-9.27zM59.26 621.21h9.27v9.5h-9.27zM104.13 621.21h9.27v9.5h-9.27zM202.83 621.21h9.27v9.5h-9.27zM104.13 639.6h9.27v4.9h-9.27zM211.81 639.6h9.27v4.9h-9.27z"/>
<path fill="#502cff" d="M274.62 368.3h9.27v4.9h-9.27zM59.26 510.85h9.27v9.5h-9.27zM45.8 529.24h4.79v9.5h-4.79zM122.07 566.03h9.27v9.5h-9.27zM77.21 602.82h9.27v9.5h-9.27zM77.21 621.21h9.27v9.5h-9.27z"/>
<path fill="#3424ff" d="M283.59 368.3h9.27v4.9h-9.27zM68.23 372.9h9.27v9.5h-9.27zM247.7 372.9h9.27v9.5h-9.27zM283.59 372.9h9.27v9.5h-9.27zM301.54 372.9h9.27v9.5h-9.27zM310.51 372.9h4.79v9.5h-4.79zM50.29 382.1h9.27v9.5h-9.27zM77.21 382.1h9.27v9.5h-9.27zM292.57 382.1h9.27v9.5h-9.27zM301.54 382.1h9.27v9.5h-9.27zM310.51 382.1h4.79v9.5h-4.79zM184.89 391.29h9.27v9.5h-9.27zM283.59 391.29h9.27v9.5h-9.27zM292.57 391.29h9.27v9.5h-9.27zM310.51 391.29h4.79v9.5h-4.79zM175.91 400.49h9.27v9.5h-9.27zM175.91 409.69h9.27v9.5h-9.27zM148.99 418.88h9.27v9.5h-9.27zM193.86 418.88h9.27v9.5h-9.27zM140.02 437.28h9.27v9.5h-9.27zM148.99 446.47h9.27v9.5h-9.27zM193.86 446.47h9.27v9.5h-9.27zM104.13 474.06h9.27v9.5h-9.27zM77.21 483.26h9.27v9.5h-9.27zM95.15 483.26h9.27v9.5h-9.27zM104.13 483.26h9.27v9.5h-9.27zM77.21 529.24h9.27v9.5h-9.27zM50.29 547.63h9.27v9.5h-9.27zM68.23 547.63h9.27v9.5h-9.27zM86.18 566.03h9.27v9.5h-9.27zM45.8 575.23h4.79v9.5h-4.79zM95.15 584.42h9.27v9.5h-9.27zM45.8 593.62h4.79v9.5h-4.79zM45.8 602.82h4.79v9.5h-4.79zM50.29 602.82h9.27v9.5h-9.27zM193.86 602.82h9.27v9.5h-9.27zM45.8 612.01h4.79v9.5h-4.79zM193.86 612.01h9.27v9.5h-9.27zM122.07 621.21h9.27v9.5h-9.27zM50.29 630.4h9.27v9.5h-9.27zM202.83 630.4h9.27v9.5h-9.27zM220.78 630.4h9.27v9.5h-9.27zM59.26 639.6h9.27v4.9h-9.27zM113.1 639.6h9.27v4.9h-9.27zM122.07 639.6h9.27v4.9h-9.27zM131.05 639.6h9.27v4.9h-9.27zM175.91 639.6h9.27v4.9h-9.27zM229.75 639.6h9.27v4.9h-9.27zM247.7 639.6h9.27v4.9h-9.27z"/>
<path fill="#3020f4" d="M292.57 368.3h9.27v4.9h-9.27zM50.29 372.9h9.27v9.5h-9.27zM59.26 372.9h9.27v9.5h-9.27zM68.23 382.1h9.27v9.5h-9.27zM301.54 391.29h9.27v9.5h-9.27zM131.05 437.28h9.27v9.5h-9.27zM59.26 529.24h9.27v9.5h-9.27zM50.29 584.42h9.27v9.5h-9.27zM77.21 593.62h9.27v9.5h-9.27zM59.26 630.4h9.27v9.5h-9.27zM45.8 639.6h4.79v4.9h-4.79z"/>
<path fill="#2c24f0" d="M45.8 372.9h4.79v9.5h-4.79z"/>
<path fill="#3020f0" d="M77.21 372.9h9.27v9.5h-9.27zM122.07 446.47h9.27v9.5h-9.27z"/>
<path fill="#2c0ce0" d="M95.15 372.9h9.27v9.5h-9.27zM220.78 593.62h9.27v9.5h-9.27zM148.99 639.6h9.27v4.9h-9.27z"/>
<path fill="#5810f8" d="M113.1 372.9h9.27v9.5h-9.27zM211.81 400.49h9.27v9.5h-9.27z"/>
<path fill="#6808b4" d="M131.05 372.9h9.27v9.5h-9.27zM95.15 391.29h9.27v9.5h-9.27zM113.1 400.49h9.27v9.5h-9.27zM122.07 400.49h9.27v9.5h-9.27zM238.73 400.49h9.27v9.5h-9.27zM229.75 409.69h9.27v9.5h-9.27zM229.75 418.88h9.27v9.5h-9.27zM175.91 464.87h9.27v9.5h-9.27zM113.1 556.83h9.27v9.5h-9.27z"/>
<path fill="#440888" d="M140.02 372.9h9.27v9.5h-9.27z"/>
<path fill="#4c048c" d="M148.99 372.9h9.27v9.5h-9.27zM157.97 372.9h9.27v9.5h-9.27zM283.59 409.69h9.27v9.5h-9.27zM122.07 428.08h9.27v9.5h-9.27zM202.83 455.67h9.27v9.5h-9.27zM166.94 621.21h9.27v9.5h-9.27z"/>
<path fill="#5810fc" d="M166.94 372.9h9.27v9.5h-9.27zM157.97 409.69h9.27v9.5h-9.27z"/>
<path fill="#5810f4" d="M175.91 372.9h9.27v9.5h-9.27zM122.07 382.1h9.27v9.5h-9.27zM211.81 382.1h9.27v9.5h-9.27zM77.21 391.29h9.27v9.5h-9.27zM256.67 391.29h9.27v9.5h-9.27zM202.83 418.88h9.27v9.5h-9.27zM77.21 464.87h9.27v9.5h-9.27zM86.18 529.24h9.27v9.5h-9.27zM104.13 566.03h9.27v9.5h-9.27zM175.91 612.01h9.27v9.5h-9.27z"/>
<path fill="#2c0ce4" d="M184.89 372.9h9.27v9.5h-9.27zM166.94 391.29h9.27v9.5h-9.27zM59.26 575.23h9.27v9.5h-9.27zM202.83 584.42h9.27v9.5h-9.27z"/>
<path fill="#3024f8" d="M193.86 372.9h9.27v9.5h-9.27zM45.8 391.29h4.79v9.5h-4.79zM274.62 391.29h9.27v9.5h-9.27zM45.8 409.69h4.79v9.5h-4.79zM50.29 409.69h9.27v9.5h-9.27zM166.94 418.88h9.27v9.5h-9.27zM148.99 437.28h9.27v9.5h-9.27zM104.13 464.87h9.27v9.5h-9.27zM86.18 483.26h9.27v9.5h-9.27zM95.15 501.65h9.27v9.5h-9.27zM59.26 538.44h9.27v9.5h-9.27zM68.23 538.44h9.27v9.5h-9.27zM45.8 547.63h4.79v9.5h-4.79zM50.29 566.03h9.27v9.5h-9.27zM86.18 584.42h9.27v9.5h-9.27zM229.75 621.21h9.27v9.5h-9.27zM45.8 630.4h4.79v9.5h-4.79zM50.29 639.6h9.27v4.9h-9.27z"/>
<path fill="#5028f4" d="M202.83 372.9h9.27v9.5h-9.27zM50.29 510.85h9.27v9.5h-9.27z"/>
<path fill="#5810ec" d="M211.81 372.9h9.27v9.5h-9.27zM202.83 428.08h9.27v9.5h-9.27zM131.05 483.26h9.27v9.5h-9.27zM50.29 556.83h9.27v9.5h-9.27z"/>
<path fill="#502cfc" d="M229.75 372.9h9.27v9.5h-9.27zM274.62 372.9h9.27v9.5h-9.27zM184.89 437.28h9.27v9.5h-9.27zM175.91 446.47h9.27v9.5h-9.27zM95.15 602.82h9.27v9.5h-9.27zM113.1 602.82h9.27v9.5h-9.27zM77.21 612.01h9.27v9.5h-9.27zM77.21 639.6h9.27v4.9h-9.27z"/>
<path fill="#5430ff" d="M238.73 372.9h9.27v9.5h-9.27zM265.65 372.9h9.27v9.5h-9.27zM238.73 382.1h9.27v9.5h-9.27zM59.26 492.46h9.27v9.5h-9.27zM86.18 602.82h9.27v9.5h-9.27zM104.13 602.82h9.27v9.5h-9.27zM113.1 612.01h9.27v9.5h-9.27zM86.18 630.4h9.27v9.5h-9.27z"/>
<path fill="#3020f8" d="M292.57 372.9h9.27v9.5h-9.27zM140.02 428.08h9.27v9.5h-9.27zM59.26 547.63h9.27v9.5h-9.27zM140.02 639.6h9.27v4.9h-9.27z"/>
<path fill="#3020fc" d="M86.18 382.1h9.27v9.5h-9.27z"/>
<path fill="#6408b0" d="M104.13 382.1h9.27v9.5h-9.27zM157.97 382.1h9.27v9.5h-9.27zM77.21 409.69h9.27v9.5h-9.27zM86.18 437.28h9.27v9.5h-9.27zM131.05 556.83h9.27v9.5h-9.27z"/>
<path fill="#5010e8" d="M113.1 382.1h9.27v9.5h-9.27z"/>
<path fill="#700cb8" d="M131.05 382.1h9.27v9.5h-9.27z"/>
<path fill="#480888" d="M140.02 382.1h9.27v9.5h-9.27z"/>
<path fill="#6c08b8" d="M148.99 382.1h9.27v9.5h-9.27zM86.18 391.29h9.27v9.5h-9.27zM247.7 400.49h9.27v9.5h-9.27zM68.23 418.88h9.27v9.5h-9.27zM104.13 556.83h9.27v9.5h-9.27z"/>
<path fill="#5c10ff" d="M166.94 382.1h9.27v9.5h-9.27zM157.97 428.08h9.27v9.5h-9.27z"/>
<path fill="#6c08bc" d="M175.91 382.1h9.27v9.5h-9.27zM256.67 382.1h9.27v9.5h-9.27zM148.99 391.29h9.27v9.5h-9.27zM68.23 428.08h9.27v9.5h-9.27zM77.21 455.67h9.27v9.5h-9.27zM148.99 474.06h9.27v9.5h-9.27z"/>
<path fill="#4c28f8" d="M202.83 382.1h9.27v9.5h-9.27zM59.26 501.65h9.27v9.5h-9.27z"/>
<path fill="#2c0ce8" d="M247.7 382.1h9.27v9.5h-9.27zM166.94 400.49h9.27v9.5h-9.27zM274.62 400.49h9.27v9.5h-9.27zM122.07 483.26h9.27v9.5h-9.27zM95.15 575.23h9.27v9.5h-9.27z"/>
<path fill="#5830ff" d="M274.62 382.1h9.27v9.5h-9.27zM122.07 584.42h9.27v9.5h-9.27zM68.23 630.4h9.27v9.5h-9.27z"/>
<path fill="#880094" d="M104.13 391.29h9.27v9.5h-9.27z"/>
<path fill="#6008ac" d="M113.1 391.29h9.27v9.5h-9.27z"/>
<path fill="#6408ac" d="M122.07 391.29h9.27v9.5h-9.27zM247.7 418.88h9.27v9.5h-9.27zM86.18 547.63h9.27v9.5h-9.27z"/>
<path fill="#540cec" d="M175.91 391.29h9.27v9.5h-9.27zM220.78 391.29h9.27v9.5h-9.27z"/>
<path fill="#5c10fc" d="M211.81 391.29h9.27v9.5h-9.27zM229.75 391.29h9.27v9.5h-9.27zM113.1 566.03h9.27v9.5h-9.27z"/>
<path fill="#5410e4" d="M247.7 391.29h9.27v9.5h-9.27z"/>
<path fill="#483cfc" d="M59.26 400.49h9.27v9.5h-9.27zM68.23 492.46h9.27v9.5h-9.27z"/>
<path fill="#6404b0" d="M77.21 400.49h9.27v9.5h-9.27z"/>
<path fill="#6c08b4" d="M86.18 400.49h9.27v9.5h-9.27zM211.81 409.69h9.27v9.5h-9.27zM86.18 556.83h9.27v9.5h-9.27z"/>
<path fill="#5c047c" d="M95.15 400.49h9.27v9.5h-9.27zM59.26 455.67h9.27v9.5h-9.27z"/>
<path fill="#840090" d="M104.13 400.49h9.27v9.5h-9.27z"/>
<path fill="#4c088c" d="M140.02 400.49h9.27v9.5h-9.27zM59.26 428.08h9.27v9.5h-9.27zM211.81 428.08h9.27v9.5h-9.27zM301.54 428.08h9.27v9.5h-9.27zM184.89 464.87h9.27v9.5h-9.27zM175.91 520.05h9.27v9.5h-9.27zM175.91 529.24h9.27v9.5h-9.27z"/>
<path fill="#6808b8" d="M148.99 400.49h9.27v9.5h-9.27zM122.07 409.69h9.27v9.5h-9.27z"/>
<path fill="#5c14fc" d="M157.97 400.49h9.27v9.5h-9.27zM45.8 556.83h4.79v9.5h-4.79z"/>
<path fill="#4c40ff" d="M184.89 400.49h9.27v9.5h-9.27zM175.91 418.88h9.27v9.5h-9.27zM184.89 418.88h9.27v9.5h-9.27zM166.94 446.47h9.27v9.5h-9.27zM113.1 474.06h9.27v9.5h-9.27zM77.21 492.46h9.27v9.5h-9.27zM68.23 501.65h9.27v9.5h-9.27zM86.18 593.62h9.27v9.5h-9.27zM211.81 612.01h9.27v9.5h-9.27zM193.86 621.21h9.27v9.5h-9.27zM211.81 621.21h9.27v9.5h-9.27z"/>
<path fill="#483cff" d="M193.86 400.49h9.27v9.5h-9.27zM113.1 483.26h9.27v9.5h-9.27z"/>
<path fill="#2810e8" d="M292.57 400.49h9.27v9.5h-9.27z"/>
<path fill="#4c0894" d="M301.54 400.49h9.27v9.5h-9.27zM131.05 409.69h9.27v9.5h-9.27zM50.29 446.47h9.27v9.5h-9.27z"/>
<path fill="#48088c" d="M310.51 400.49h4.79v9.5h-4.79zM45.8 446.47h4.79v9.5h-4.79zM202.83 446.47h9.27v9.5h-9.27zM45.8 455.67h4.79v9.5h-4.79z"/>
<path fill="#4c0494" d="M86.18 409.69h9.27v9.5h-9.27z"/>
<path fill="#540074" d="M95.15 409.69h9.27v9.5h-9.27zM77.21 437.28h9.27v9.5h-9.27z"/>
<path fill="#540078" d="M104.13 409.69h9.27v9.5h-9.27zM59.26 437.28h9.27v9.5h-9.27zM68.23 446.47h9.27v9.5h-9.27z"/>
<path fill="#2810e0" d="M140.02 409.69h9.27v9.5h-9.27zM104.13 630.4h9.27v9.5h-9.27z"/>
<path fill="#2c10dc" d="M148.99 409.69h9.27v9.5h-9.27zM265.65 630.4h9.27v9.5h-9.27z"/>
<path fill="#540ce8" d="M166.94 409.69h9.27v9.5h-9.27z"/>
<path fill="#4840ff" d="M184.89 409.69h9.27v9.5h-9.27zM166.94 428.08h9.27v9.5h-9.27zM175.91 428.08h9.27v9.5h-9.27zM166.94 455.67h9.27v9.5h-9.27zM113.1 464.87h9.27v9.5h-9.27zM77.21 501.65h9.27v9.5h-9.27zM95.15 593.62h9.27v9.5h-9.27zM220.78 612.01h9.27v9.5h-9.27z"/>
<path fill="#443cf4" d="M193.86 409.69h9.27v9.5h-9.27zM184.89 428.08h9.27v9.5h-9.27z"/>
<path fill="#480884" d="M220.78 409.69h9.27v9.5h-9.27zM113.1 418.88h9.27v9.5h-9.27zM86.18 446.47h9.27v9.5h-9.27zM184.89 575.23h9.27v9.5h-9.27z"/>
<path fill="#7c008c" d="M238.73 409.69h9.27v9.5h-9.27z"/>
<path fill="#80048c" d="M247.7 409.69h9.27v9.5h-9.27zM229.75 428.08h9.27v9.5h-9.27zM229.75 437.28h9.27v9.5h-9.27z"/>
<path fill="#2810d8" d="M274.62 409.69h9.27v9.5h-9.27zM157.97 464.87h9.27v9.5h-9.27zM166.94 464.87h9.27v9.5h-9.27zM59.26 483.26h9.27v9.5h-9.27zM68.23 520.05h9.27v9.5h-9.27zM59.26 584.42h9.27v9.5h-9.27zM95.15 621.21h9.27v9.5h-9.27z"/>
<path fill="#0c0444" d="M292.57 409.69h9.27v9.5h-9.27zM95.15 437.28h9.27v9.5h-9.27zM104.13 437.28h9.27v9.5h-9.27zM45.8 464.87h4.79v9.5h-4.79zM131.05 566.03h9.27v9.5h-9.27zM131.05 575.23h9.27v9.5h-9.27zM140.02 593.62h9.27v9.5h-9.27zM140.02 612.01h9.27v9.5h-9.27zM157.97 630.4h9.27v9.5h-9.27z"/>
<path fill="#480488" d="M59.26 418.88h9.27v9.5h-9.27zM157.97 474.06h9.27v9.5h-9.27zM175.91 538.44h9.27v9.5h-9.27z"/>
<path fill="#800490" d="M77.21 418.88h9.27v9.5h-9.27z"/>
<path fill="#840494" d="M86.18 418.88h9.27v9.5h-9.27z"/>
<path fill="#58007c" d="M95.15 418.88h9.27v9.5h-9.27zM68.23 455.67h9.27v9.5h-9.27z"/>
<path fill="#2c0444" d="M104.13 418.88h9.27v9.5h-9.27zM265.65 428.08h9.27v9.5h-9.27zM50.29 437.28h9.27v9.5h-9.27zM301.54 437.28h9.27v9.5h-9.27zM193.86 483.26h9.27v9.5h-9.27zM184.89 547.63h9.27v9.5h-9.27zM140.02 575.23h9.27v9.5h-9.27zM148.99 584.42h9.27v9.5h-9.27zM157.97 593.62h9.27v9.5h-9.27zM157.97 612.01h9.27v9.5h-9.27z"/>
<path fill="#48048c" d="M122.07 418.88h9.27v9.5h-9.27zM220.78 418.88h9.27v9.5h-9.27zM157.97 483.26h9.27v9.5h-9.27z"/>
<path fill="#1408a8" d="M131.05 418.88h9.27v9.5h-9.27zM113.1 437.28h9.27v9.5h-9.27zM59.26 464.87h9.27v9.5h-9.27zM77.21 575.23h9.27v9.5h-9.27zM211.81 584.42h9.27v9.5h-9.27zM229.75 602.82h9.27v9.5h-9.27z"/>
<path fill="#6808b0" d="M211.81 418.88h9.27v9.5h-9.27zM256.67 418.88h9.27v9.5h-9.27zM148.99 483.26h9.27v9.5h-9.27z"/>
<path fill="#840094" d="M238.73 418.88h9.27v9.5h-9.27zM131.05 547.63h9.27v9.5h-9.27z"/>
<path fill="#500894" d="M274.62 418.88h9.27v9.5h-9.27zM95.15 428.08h9.27v9.5h-9.27zM310.51 428.08h4.79v9.5h-4.79z"/>
<path fill="#300048" d="M283.59 418.88h9.27v9.5h-9.27z"/>
<path fill="#300444" d="M292.57 418.88h9.27v9.5h-9.27zM104.13 428.08h9.27v9.5h-9.27zM247.7 437.28h9.27v9.5h-9.27zM193.86 464.87h9.27v9.5h-9.27zM193.86 474.06h9.27v9.5h-9.27zM175.91 556.83h9.27v9.5h-9.27zM229.75 575.23h9.27v9.5h-9.27zM229.75 584.42h9.27v9.5h-9.27z"/>
<path fill="#280ce4" d="M45.8 428.08h4.79v9.5h-4.79z"/>
<path fill="#2c10e8" d="M50.29 428.08h9.27v9.5h-9.27zM131.05 602.82h9.27v9.5h-9.27zM283.59 639.6h9.27v4.9h-9.27z"/>
<path fill="#7c0088" d="M77.21 428.08h9.27v9.5h-9.27zM113.1 501.65h9.27v9.5h-9.27zM95.15 520.05h9.27v9.5h-9.27z"/>
<path fill="#84008c" d="M86.18 428.08h9.27v9.5h-9.27z"/>
<path fill="#1408a4" d="M131.05 428.08h9.27v9.5h-9.27zM95.15 446.47h9.27v9.5h-9.27zM113.1 446.47h9.27v9.5h-9.27zM68.23 584.42h9.27v9.5h-9.27zM157.97 639.6h9.27v4.9h-9.27z"/>
<path fill="#4c0888" d="M220.78 428.08h9.27v9.5h-9.27zM175.91 602.82h9.27v9.5h-9.27z"/>
<path fill="#60004c" d="M238.73 428.08h9.27v9.5h-9.27zM211.81 446.47h9.27v9.5h-9.27zM238.73 446.47h9.27v9.5h-9.27zM184.89 474.06h9.27v9.5h-9.27zM184.89 483.26h9.27v9.5h-9.27zM104.13 520.05h9.27v9.5h-9.27zM95.15 538.44h9.27v9.5h-9.27zM122.07 547.63h9.27v9.5h-9.27zM166.94 612.01h9.27v9.5h-9.27z"/>
<path fill="#2c0440" d="M256.67 428.08h9.27v9.5h-9.27zM45.8 437.28h4.79v9.5h-4.79zM256.67 437.28h9.27v9.5h-9.27zM184.89 520.05h9.27v9.5h-9.27zM184.89 529.24h9.27v9.5h-9.27zM140.02 556.83h9.27v9.5h-9.27zM184.89 556.83h9.27v9.5h-9.27zM148.99 612.01h9.27v9.5h-9.27z"/>
<path fill="#0c0440" d="M274.62 428.08h9.27v9.5h-9.27zM45.8 474.06h4.79v9.5h-4.79zM50.29 474.06h9.27v9.5h-9.27zM131.05 584.42h9.27v9.5h-9.27zM140.02 584.42h9.27v9.5h-9.27zM157.97 621.21h9.27v9.5h-9.27z"/>
<path fill="#300440" d="M283.59 428.08h9.27v9.5h-9.27zM292.57 428.08h9.27v9.5h-9.27zM184.89 538.44h9.27v9.5h-9.27z"/>
<path fill="#580478" d="M68.23 437.28h9.27v9.5h-9.27z"/>
<path fill="#1408a0" d="M122.07 437.28h9.27v9.5h-9.27zM95.15 455.67h9.27v9.5h-9.27zM166.94 483.26h9.27v9.5h-9.27zM166.94 630.4h9.27v9.5h-9.27z"/>
<path fill="#4c28f4" d="M157.97 437.28h9.27v9.5h-9.27zM50.29 501.65h9.27v9.5h-9.27z"/>
<path fill="#443cf8" d="M166.94 437.28h9.27v9.5h-9.27z"/>
<path fill="#483cf8" d="M175.91 437.28h9.27v9.5h-9.27z"/>
<path fill="#480484" d="M202.83 437.28h9.27v9.5h-9.27z"/>
<path fill="#5c004c" d="M211.81 437.28h9.27v9.5h-9.27z"/>
<path fill="#80002c" d="M220.78 437.28h9.27v9.5h-9.27zM229.75 446.47h9.27v9.5h-9.27zM202.83 464.87h9.27v9.5h-9.27zM157.97 547.63h9.27v9.5h-9.27z"/>
<path fill="#680050" d="M238.73 437.28h9.27v9.5h-9.27zM175.91 483.26h9.27v9.5h-9.27zM113.1 547.63h9.27v9.5h-9.27z"/>
<path fill="#080808" d="M265.65 437.28h9.27v9.5h-9.27zM247.7 464.87h9.27v9.5h-9.27zM265.65 464.87h9.27v9.5h-9.27zM292.57 464.87h9.27v9.5h-9.27zM310.51 464.87h4.79v9.5h-4.79zM310.51 474.06h4.79v9.5h-4.79zM229.75 483.26h9.27v9.5h-9.27zM247.7 483.26h9.27v9.5h-9.27zM283.59 483.26h9.27v9.5h-9.27zM301.54 483.26h9.27v9.5h-9.27zM229.75 492.46h9.27v9.5h-9.27zM265.65 492.46h9.27v9.5h-9.27zM283.59 492.46h9.27v9.5h-9.27zM301.54 492.46h9.27v9.5h-9.27zM202.83 501.65h9.27v9.5h-9.27zM211.81 501.65h9.27v9.5h-9.27zM238.73 501.65h9.27v9.5h-9.27zM274.62 501.65h9.27v9.5h-9.27zM211.81 510.85h9.27v9.5h-9.27zM220.78 510.85h9.27v9.5h-9.27zM229.75 510.85h9.27v9.5h-9.27zM256.67 510.85h9.27v9.5h-9.27zM274.62 510.85h9.27v9.5h-9.27zM301.54 510.85h9.27v9.5h-9.27zM193.86 520.05h9.27v9.5h-9.27zM202.83 520.05h9.27v9.5h-9.27zM265.65 520.05h9.27v9.5h-9.27zM274.62 520.05h9.27v9.5h-9.27zM193.86 529.24h9.27v9.5h-9.27zM229.75 529.24h9.27v9.5h-9.27zM238.73 529.24h9.27v9.5h-9.27zM247.7 529.24h9.27v9.5h-9.27zM283.59 529.24h9.27v9.5h-9.27zM301.54 529.24h9.27v9.5h-9.27zM211.81 538.44h9.27v9.5h-9.27zM229.75 538.44h9.27v9.5h-9.27zM247.7 538.44h9.27v9.5h-9.27zM256.67 538.44h9.27v9.5h-9.27zM202.83 547.63h9.27v9.5h-9.27zM220.78 547.63h9.27v9.5h-9.27zM247.7 547.63h9.27v9.5h-9.27zM274.62 547.63h9.27v9.5h-9.27zM301.54 547.63h9.27v9.5h-9.27zM220.78 556.83h9.27v9.5h-9.27zM229.75 556.83h9.27v9.5h-9.27zM238.73 556.83h9.27v9.5h-9.27zM265.65 556.83h9.27v9.5h-9.27zM292.57 556.83h9.27v9.5h-9.27z"/>
<path fill="#2c0040" d="M274.62 437.28h9.27v9.5h-9.27zM292.57 437.28h9.27v9.5h-9.27zM229.75 566.03h9.27v9.5h-9.27zM157.97 602.82h9.27v9.5h-9.27z"/>
<path fill="#18080c" d="M283.59 437.28h9.27v9.5h-9.27zM283.59 446.47h9.27v9.5h-9.27zM301.54 455.67h9.27v9.5h-9.27zM220.78 474.06h9.27v9.5h-9.27zM193.86 492.46h9.27v9.5h-9.27zM193.86 510.85h9.27v9.5h-9.27zM310.51 538.44h4.79v9.5h-4.79z"/>
<path fill="#300044" d="M310.51 437.28h4.79v9.5h-4.79zM148.99 593.62h9.27v9.5h-9.27z"/>
<path fill="#580078" d="M59.26 446.47h9.27v9.5h-9.27z"/>
<path fill="#540474" d="M77.21 446.47h9.27v9.5h-9.27z"/>
<path fill="#1408ac" d="M104.13 446.47h9.27v9.5h-9.27zM274.62 630.4h9.27v9.5h-9.27z"/>
<path fill="#500004" d="M220.78 446.47h9.27v9.5h-9.27zM211.81 464.87h9.27v9.5h-9.27zM175.91 566.03h9.27v9.5h-9.27zM157.97 575.23h9.27v9.5h-9.27zM175.91 584.42h9.27v9.5h-9.27z"/>
<path fill="#1c080c" d="M247.7 446.47h9.27v9.5h-9.27zM301.54 446.47h9.27v9.5h-9.27zM310.51 446.47h4.79v9.5h-4.79zM247.7 455.67h9.27v9.5h-9.27zM274.62 455.67h9.27v9.5h-9.27zM283.59 455.67h9.27v9.5h-9.27zM292.57 455.67h9.27v9.5h-9.27zM310.51 455.67h4.79v9.5h-4.79zM229.75 464.87h9.27v9.5h-9.27zM193.86 501.65h9.27v9.5h-9.27zM310.51 520.05h4.79v9.5h-4.79z"/>
<path fill="#0c080c" d="M256.67 446.47h9.27v9.5h-9.27zM256.67 464.87h9.27v9.5h-9.27zM301.54 464.87h9.27v9.5h-9.27zM229.75 474.06h9.27v9.5h-9.27zM301.54 474.06h9.27v9.5h-9.27zM274.62 483.26h9.27v9.5h-9.27zM229.75 501.65h9.27v9.5h-9.27zM229.75 520.05h9.27v9.5h-9.27zM256.67 520.05h9.27v9.5h-9.27zM283.59 520.05h9.27v9.5h-9.27zM202.83 529.24h9.27v9.5h-9.27zM220.78 529.24h9.27v9.5h-9.27zM274.62 529.24h9.27v9.5h-9.27zM292.57 529.24h9.27v9.5h-9.27zM220.78 538.44h9.27v9.5h-9.27zM274.62 538.44h9.27v9.5h-9.27zM265.65 547.63h9.27v9.5h-9.27zM211.81 556.83h9.27v9.5h-9.27zM274.62 556.83h9.27v9.5h-9.27z"/>
<path fill="#080c0c" d="M265.65 446.47h9.27v9.5h-9.27zM283.59 464.87h9.27v9.5h-9.27zM283.59 474.06h9.27v9.5h-9.27zM292.57 483.26h9.27v9.5h-9.27zM310.51 492.46h4.79v9.5h-4.79zM202.83 510.85h9.27v9.5h-9.27zM238.73 510.85h9.27v9.5h-9.27zM301.54 538.44h9.27v9.5h-9.27zM229.75 547.63h9.27v9.5h-9.27zM292.57 547.63h9.27v9.5h-9.27zM247.7 556.83h9.27v9.5h-9.27zM256.67 556.83h9.27v9.5h-9.27z"/>
<path fill="#180808" d="M274.62 446.47h9.27v9.5h-9.27z"/>
<path fill="#180810" d="M292.57 446.47h9.27v9.5h-9.27z"/>
<path fill="#140ca8" d="M104.13 455.67h9.27v9.5h-9.27z"/>
<path fill="#14089c" d="M113.1 455.67h9.27v9.5h-9.27zM166.94 474.06h9.27v9.5h-9.27zM77.21 566.03h9.27v9.5h-9.27zM68.23 575.23h9.27v9.5h-9.27zM140.02 621.21h9.27v9.5h-9.27z"/>
<path fill="#64004c" d="M211.81 455.67h9.27v9.5h-9.27zM104.13 529.24h9.27v9.5h-9.27zM166.94 529.24h9.27v9.5h-9.27zM166.94 538.44h9.27v9.5h-9.27zM104.13 547.63h9.27v9.5h-9.27zM175.91 593.62h9.27v9.5h-9.27z"/>
<path fill="#4c0004" d="M220.78 455.67h9.27v9.5h-9.27zM122.07 510.85h9.27v9.5h-9.27zM175.91 510.85h9.27v9.5h-9.27zM131.05 529.24h9.27v9.5h-9.27zM131.05 538.44h9.27v9.5h-9.27zM140.02 538.44h9.27v9.5h-9.27zM148.99 547.63h9.27v9.5h-9.27zM166.94 556.83h9.27v9.5h-9.27zM166.94 566.03h9.27v9.5h-9.27zM175.91 575.23h9.27v9.5h-9.27zM166.94 584.42h9.27v9.5h-9.27z"/>
<path fill="#7c002c" d="M229.75 455.67h9.27v9.5h-9.27zM175.91 492.46h9.27v9.5h-9.27zM140.02 510.85h9.27v9.5h-9.27z"/>
<path fill="#600050" d="M238.73 455.67h9.27v9.5h-9.27zM166.94 520.05h9.27v9.5h-9.27z"/>
<path fill="#08080c" d="M256.67 455.67h9.27v9.5h-9.27zM265.65 455.67h9.27v9.5h-9.27zM238.73 474.06h9.27v9.5h-9.27zM247.7 474.06h9.27v9.5h-9.27zM256.67 474.06h9.27v9.5h-9.27zM265.65 474.06h9.27v9.5h-9.27zM292.57 474.06h9.27v9.5h-9.27zM256.67 483.26h9.27v9.5h-9.27zM202.83 492.46h9.27v9.5h-9.27zM220.78 492.46h9.27v9.5h-9.27zM256.67 492.46h9.27v9.5h-9.27zM274.62 492.46h9.27v9.5h-9.27zM292.57 492.46h9.27v9.5h-9.27zM220.78 501.65h9.27v9.5h-9.27zM247.7 501.65h9.27v9.5h-9.27zM265.65 501.65h9.27v9.5h-9.27zM283.59 501.65h9.27v9.5h-9.27zM310.51 501.65h4.79v9.5h-4.79zM211.81 520.05h9.27v9.5h-9.27zM220.78 520.05h9.27v9.5h-9.27zM247.7 520.05h9.27v9.5h-9.27zM292.57 520.05h9.27v9.5h-9.27zM301.54 520.05h9.27v9.5h-9.27zM211.81 529.24h9.27v9.5h-9.27zM256.67 529.24h9.27v9.5h-9.27zM265.65 529.24h9.27v9.5h-9.27zM211.81 547.63h9.27v9.5h-9.27zM256.67 547.63h9.27v9.5h-9.27zM283.59 547.63h9.27v9.5h-9.27zM283.59 556.83h9.27v9.5h-9.27zM310.51 566.03h4.79v9.5h-4.79z"/>
<path fill="#080440" d="M50.29 464.87h9.27v9.5h-9.27zM193.86 556.83h9.27v9.5h-9.27z"/>
<path fill="#2c10e0" d="M140.02 464.87h9.27v9.5h-9.27zM184.89 602.82h9.27v9.5h-9.27z"/>
<path fill="#340008" d="M220.78 464.87h9.27v9.5h-9.27zM113.1 538.44h9.27v9.5h-9.27zM148.99 566.03h9.27v9.5h-9.27z"/>
<path fill="#0c0808" d="M238.73 464.87h9.27v9.5h-9.27zM274.62 464.87h9.27v9.5h-9.27zM310.51 483.26h4.79v9.5h-4.79zM238.73 492.46h9.27v9.5h-9.27zM256.67 501.65h9.27v9.5h-9.27zM265.65 510.85h9.27v9.5h-9.27zM292.57 510.85h9.27v9.5h-9.27zM310.51 510.85h4.79v9.5h-4.79zM238.73 520.05h9.27v9.5h-9.27zM292.57 538.44h9.27v9.5h-9.27zM301.54 556.83h9.27v9.5h-9.27zM310.51 556.83h4.79v9.5h-4.79z"/>
<path fill="#2810dc" d="M59.26 474.06h9.27v9.5h-9.27zM238.73 621.21h9.27v9.5h-9.27zM265.65 621.21h9.27v9.5h-9.27zM166.94 639.6h9.27v4.9h-9.27z"/>
<path fill="#5814f4" d="M140.02 474.06h9.27v9.5h-9.27z"/>
<path fill="#640050" d="M175.91 474.06h9.27v9.5h-9.27zM95.15 547.63h9.27v9.5h-9.27zM166.94 602.82h9.27v9.5h-9.27z"/>
<path fill="#2c0008" d="M202.83 474.06h9.27v9.5h-9.27zM202.83 483.26h9.27v9.5h-9.27zM148.99 556.83h9.27v9.5h-9.27zM166.94 593.62h9.27v9.5h-9.27z"/>
<path fill="#300004" d="M211.81 474.06h9.27v9.5h-9.27zM113.1 520.05h9.27v9.5h-9.27zM113.1 529.24h9.27v9.5h-9.27z"/>
<path fill="#080c08" d="M274.62 474.06h9.27v9.5h-9.27zM238.73 483.26h9.27v9.5h-9.27zM265.65 483.26h9.27v9.5h-9.27zM211.81 492.46h9.27v9.5h-9.27zM247.7 492.46h9.27v9.5h-9.27zM292.57 501.65h9.27v9.5h-9.27zM301.54 501.65h9.27v9.5h-9.27zM247.7 510.85h9.27v9.5h-9.27zM202.83 538.44h9.27v9.5h-9.27zM238.73 538.44h9.27v9.5h-9.27zM283.59 538.44h9.27v9.5h-9.27zM310.51 575.23h4.79v9.5h-4.79z"/>
<path fill="#0c0840" d="M45.8 483.26h4.79v9.5h-4.79zM131.05 593.62h9.27v9.5h-9.27zM140.02 602.82h9.27v9.5h-9.27z"/>
<path fill="#080840" d="M50.29 483.26h9.27v9.5h-9.27z"/>
<path fill="#300008" d="M211.81 483.26h9.27v9.5h-9.27z"/>
<path fill="#18040c" d="M220.78 483.26h9.27v9.5h-9.27z"/>
<path fill="#5028f8" d="M45.8 492.46h4.79v9.5h-4.79zM77.21 630.4h9.27v9.5h-9.27z"/>
<path fill="#780084" d="M113.1 492.46h9.27v9.5h-9.27z"/>
<path fill="#ac003c" d="M122.07 492.46h9.27v9.5h-9.27z"/>
<path fill="#a4003c" d="M131.05 492.46h9.27v9.5h-9.27z"/>
<path fill="#a80084" d="M140.02 492.46h9.27v9.5h-9.27zM140.02 501.65h9.27v9.5h-9.27z"/>
<path fill="#a0043c" d="M148.99 492.46h9.27v9.5h-9.27z"/>
<path fill="#880490" d="M157.97 492.46h9.27v9.5h-9.27z"/>
<path fill="#740008" d="M166.94 492.46h9.27v9.5h-9.27zM166.94 501.65h9.27v9.5h-9.27zM113.1 510.85h9.27v9.5h-9.27z"/>
<path fill="#7c0008" d="M184.89 492.46h9.27v9.5h-9.27zM131.05 510.85h9.27v9.5h-9.27z"/>
<path fill="#3024f0" d="M86.18 501.65h9.27v9.5h-9.27z"/>
<path fill="#ac043c" d="M122.07 501.65h9.27v9.5h-9.27z"/>
<path fill="#a8043c" d="M131.05 501.65h9.27v9.5h-9.27zM148.99 501.65h9.27v9.5h-9.27zM148.99 510.85h9.27v9.5h-9.27z"/>
<path fill="#880090" d="M157.97 501.65h9.27v9.5h-9.27z"/>
<path fill="#800030" d="M175.91 501.65h9.27v9.5h-9.27z"/>
<path fill="#780008" d="M184.89 501.65h9.27v9.5h-9.27zM184.89 510.85h9.27v9.5h-9.27zM148.99 520.05h9.27v9.5h-9.27z"/>
<path fill="#3424fc" d="M77.21 510.85h9.27v9.5h-9.27zM59.26 602.82h9.27v9.5h-9.27zM113.1 621.21h9.27v9.5h-9.27zM229.75 630.4h9.27v9.5h-9.27zM184.89 639.6h9.27v4.9h-9.27z"/>
<path fill="#2810e4" d="M86.18 510.85h9.27v9.5h-9.27z"/>
<path fill="#5814f8" d="M95.15 510.85h9.27v9.5h-9.27z"/>
<path fill="#b0048c" d="M104.13 510.85h9.27v9.5h-9.27z"/>
<path fill="#700008" d="M157.97 510.85h9.27v9.5h-9.27z"/>
<path fill="#740004" d="M166.94 510.85h9.27v9.5h-9.27z"/>
<path fill="#0c0c0c" d="M283.59 510.85h9.27v9.5h-9.27z"/>
<path fill="#2c0404" d="M122.07 520.05h9.27v9.5h-9.27z"/>
<path fill="#480004" d="M131.05 520.05h9.27v9.5h-9.27zM166.94 547.63h9.27v9.5h-9.27z"/>
<path fill="#4c0000" d="M140.02 520.05h9.27v9.5h-9.27zM140.02 529.24h9.27v9.5h-9.27zM157.97 556.83h9.27v9.5h-9.27zM157.97 566.03h9.27v9.5h-9.27zM166.94 575.23h9.27v9.5h-9.27z"/>
<path fill="#84002c" d="M157.97 520.05h9.27v9.5h-9.27zM157.97 529.24h9.27v9.5h-9.27z"/>
<path fill="#5028fc" d="M50.29 529.24h9.27v9.5h-9.27zM95.15 612.01h9.27v9.5h-9.27zM104.13 612.01h9.27v9.5h-9.27z"/>
<path fill="#2c0cec" d="M68.23 529.24h9.27v9.5h-9.27z"/>
<path fill="#80008c" d="M95.15 529.24h9.27v9.5h-9.27z"/>
<path fill="#300408" d="M122.07 529.24h9.27v9.5h-9.27z"/>
<path fill="#800008" d="M148.99 529.24h9.27v9.5h-9.27z"/>
<path fill="#1c0810" d="M310.51 529.24h4.79v9.5h-4.79zM310.51 547.63h4.79v9.5h-4.79z"/>
<path fill="#582cff" d="M45.8 538.44h4.79v9.5h-4.79z"/>
<path fill="#542cfc" d="M50.29 538.44h9.27v9.5h-9.27zM104.13 593.62h9.27v9.5h-9.27zM68.23 639.6h9.27v4.9h-9.27z"/>
<path fill="#840030" d="M104.13 538.44h9.27v9.5h-9.27z"/>
<path fill="#480000" d="M122.07 538.44h9.27v9.5h-9.27z"/>
<path fill="#500000" d="M148.99 538.44h9.27v9.5h-9.27z"/>
<path fill="#7c0488" d="M157.97 538.44h9.27v9.5h-9.27z"/>
<path fill="#040428" d="M193.86 538.44h9.27v9.5h-9.27zM193.86 547.63h9.27v9.5h-9.27zM202.83 556.83h9.27v9.5h-9.27zM211.81 566.03h9.27v9.5h-9.27zM220.78 566.03h9.27v9.5h-9.27zM247.7 566.03h9.27v9.5h-9.27zM256.67 566.03h9.27v9.5h-9.27zM265.65 566.03h9.27v9.5h-9.27zM283.59 566.03h9.27v9.5h-9.27zM292.57 566.03h9.27v9.5h-9.27zM211.81 575.23h9.27v9.5h-9.27zM220.78 575.23h9.27v9.5h-9.27zM247.7 575.23h9.27v9.5h-9.27zM256.67 575.23h9.27v9.5h-9.27zM265.65 575.23h9.27v9.5h-9.27zM283.59 575.23h9.27v9.5h-9.27zM292.57 575.23h9.27v9.5h-9.27zM220.78 584.42h9.27v9.5h-9.27zM238.73 584.42h9.27v9.5h-9.27zM247.7 584.42h9.27v9.5h-9.27zM265.65 584.42h9.27v9.5h-9.27zM274.62 584.42h9.27v9.5h-9.27zM283.59 584.42h9.27v9.5h-9.27zM292.57 584.42h9.27v9.5h-9.27zM301.54 584.42h9.27v9.5h-9.27zM310.51 584.42h4.79v9.5h-4.79zM283.59 593.62h9.27v9.5h-9.27zM310.51 593.62h4.79v9.5h-4.79zM283.59 602.82h9.27v9.5h-9.27zM292.57 602.82h9.27v9.5h-9.27zM301.54 602.82h9.27v9.5h-9.27zM238.73 612.01h9.27v9.5h-9.27zM292.57 612.01h9.27v9.5h-9.27zM301.54 612.01h9.27v9.5h-9.27zM301.54 621.21h9.27v9.5h-9.27zM310.51 621.21h4.79v9.5h-4.79zM301.54 630.4h9.27v9.5h-9.27zM310.51 630.4h4.79v9.5h-4.79z"/>
<path fill="#0c0c08" d="M265.65 538.44h9.27v9.5h-9.27zM238.73 547.63h9.27v9.5h-9.27z"/>
<path fill="#300404" d="M140.02 547.63h9.27v9.5h-9.27z"/>
<path fill="#28003c" d="M175.91 547.63h9.27v9.5h-9.27z"/>
<path fill="#2c10ec" d="M68.23 556.83h9.27v9.5h-9.27zM59.26 566.03h9.27v9.5h-9.27zM131.05 612.01h9.27v9.5h-9.27z"/>
<path fill="#480890" d="M95.15 556.83h9.27v9.5h-9.27z"/>
<path fill="#84048c" d="M122.07 556.83h9.27v9.5h-9.27z"/>
<path fill="#1008a0" d="M68.23 566.03h9.27v9.5h-9.27z"/>
<path fill="#2810d4" d="M95.15 566.03h9.27v9.5h-9.27z"/>
<path fill="#2c043c" d="M140.02 566.03h9.27v9.5h-9.27z"/>
<path fill="#04045c" d="M202.83 566.03h9.27v9.5h-9.27zM265.65 593.62h9.27v9.5h-9.27zM247.7 612.01h9.27v9.5h-9.27zM256.67 612.01h9.27v9.5h-9.27z"/>
<path fill="#040424" d="M238.73 566.03h9.27v9.5h-9.27zM274.62 566.03h9.27v9.5h-9.27zM238.73 575.23h9.27v9.5h-9.27zM301.54 575.23h9.27v9.5h-9.27zM256.67 584.42h9.27v9.5h-9.27zM292.57 593.62h9.27v9.5h-9.27zM301.54 593.62h9.27v9.5h-9.27zM238.73 602.82h9.27v9.5h-9.27zM283.59 612.01h9.27v9.5h-9.27zM310.51 612.01h4.79v9.5h-4.79z"/>
<path fill="#04042c" d="M301.54 566.03h9.27v9.5h-9.27zM274.62 575.23h9.27v9.5h-9.27zM238.73 593.62h9.27v9.5h-9.27z"/>
<path fill="#5c14ff" d="M113.1 575.23h9.27v9.5h-9.27z"/>
<path fill="#2c0004" d="M148.99 575.23h9.27v9.5h-9.27z"/>
<path fill="#000464" d="M202.83 575.23h9.27v9.5h-9.27zM265.65 612.01h9.27v9.5h-9.27z"/>
<path fill="#280cdc" d="M77.21 584.42h9.27v9.5h-9.27z"/>
<path fill="#340004" d="M157.97 584.42h9.27v9.5h-9.27z"/>
<path fill="#7c0484" d="M184.89 584.42h9.27v9.5h-9.27z"/>
<path fill="#2c0cdc" d="M68.23 593.62h9.27v9.5h-9.27z"/>
<path fill="#443cfc" d="M202.83 593.62h9.27v9.5h-9.27z"/>
<path fill="#10089c" d="M229.75 593.62h9.27v9.5h-9.27zM148.99 630.4h9.27v9.5h-9.27z"/>
<path fill="#04005c" d="M247.7 593.62h9.27v9.5h-9.27zM274.62 612.01h9.27v9.5h-9.27zM283.59 621.21h9.27v9.5h-9.27z"/>
<path fill="#040460" d="M256.67 593.62h9.27v9.5h-9.27zM265.65 602.82h9.27v9.5h-9.27zM247.7 621.21h9.27v9.5h-9.27zM292.57 621.21h9.27v9.5h-9.27z"/>
<path fill="#00045c" d="M274.62 593.62h9.27v9.5h-9.27z"/>
<path fill="#2c0044" d="M148.99 602.82h9.27v9.5h-9.27z"/>
<path fill="#040064" d="M247.7 602.82h9.27v9.5h-9.27zM283.59 630.4h9.27v9.5h-9.27z"/>
<path fill="#040468" d="M256.67 602.82h9.27v9.5h-9.27z"/>
<path fill="#000460" d="M274.62 602.82h9.27v9.5h-9.27zM292.57 630.4h9.27v9.5h-9.27z"/>
<path fill="#08042c" d="M310.51 602.82h4.79v9.5h-4.79z"/>
<path fill="#3420f8" d="M68.23 612.01h9.27v9.5h-9.27z"/>
<path fill="#4c2cf4" d="M86.18 612.01h9.27v9.5h-9.27z"/>
<path fill="#1808ac" d="M229.75 612.01h9.27v9.5h-9.27z"/>
<path fill="#0c043c" d="M148.99 621.21h9.27v9.5h-9.27z"/>
<path fill="#3420fc" d="M184.89 621.21h9.27v9.5h-9.27z"/>
<path fill="#040464" d="M256.67 621.21h9.27v9.5h-9.27zM274.62 621.21h9.27v9.5h-9.27zM256.67 630.4h9.27v9.5h-9.27z"/>
<path fill="#3028ff" d="M95.15 630.4h9.27v9.5h-9.27zM211.81 630.4h9.27v9.5h-9.27zM193.86 639.6h9.27v4.9h-9.27z"/>
<path fill="#2c10e4" d="M140.02 630.4h9.27v9.5h-9.27z"/>
<path fill="#3020ff" d="M238.73 630.4h9.27v9.5h-9.27z"/>
<path fill="#040060" d="M247.7 630.4h9.27v9.5h-9.27z"/></g>
<g shape-rendering="crispEdges"><path fill="#5c10fc" d="M396.25 366.4h4.8v4.93h-4.8zM418.75 389.57h9.3v9.57h-9.3zM418.75 398.83h9.3v9.57h-9.3zM409.75 408.1h9.3v9.57h-9.3zM418.75 547.1h9.3v9.57h-9.3zM661.75 602.7h4.8v9.57h-4.8zM616.75 621.23h9.3v9.57h-9.3z"/>
<path fill="#5c10f8" d="M400.75 366.4h9.3v4.93h-9.3zM418.75 408.1h9.3v9.57h-9.3zM427.75 500.77h9.3v9.57h-9.3zM445.75 584.17h9.3v9.57h-9.3zM652.75 584.17h9.3v9.57h-9.3zM661.75 584.17h4.8v9.57h-4.8zM544.75 593.43h9.3v9.57h-9.3zM553.75 593.43h9.3v9.57h-9.3zM634.75 602.7h9.3v9.57h-9.3zM634.75 611.97h9.3v9.57h-9.3z"/>
<path fill="#2c10e4" d="M409.75 366.4h9.3v4.93h-9.3zM400.75 417.37h9.3v9.57h-9.3zM418.75 584.17h9.3v9.57h-9.3z"/>
<path fill="#48088c" d="M418.75 366.4h9.3v4.93h-9.3zM463.75 510.03h9.3v9.57h-9.3z"/>
<path fill="#4c0890" d="M427.75 366.4h9.3v4.93h-9.3zM436.75 389.57h9.3v9.57h-9.3zM445.75 472.97h9.3v9.57h-9.3z"/>
<path fill="#280440" d="M436.75 366.4h9.3v4.93h-9.3z"/>
<path fill="#300440" d="M445.75 366.4h9.3v4.93h-9.3zM472.75 445.17h9.3v9.57h-9.3zM490.75 500.77h9.3v9.57h-9.3z"/>
<path fill="#18080c" d="M454.75 366.4h9.3v4.93h-9.3zM490.75 366.4h9.3v4.93h-9.3zM535.75 366.4h9.3v4.93h-9.3zM454.75 371.03h9.3v9.57h-9.3zM499.75 371.03h9.3v9.57h-9.3zM508.75 371.03h9.3v9.57h-9.3zM517.75 371.03h9.3v9.57h-9.3zM535.75 371.03h9.3v9.57h-9.3zM454.75 380.3h9.3v9.57h-9.3zM544.75 380.3h9.3v9.57h-9.3zM553.75 389.57h9.3v9.57h-9.3zM562.75 389.57h9.3v9.57h-9.3zM553.75 398.83h9.3v9.57h-9.3zM481.75 408.1h9.3v9.57h-9.3zM553.75 408.1h9.3v9.57h-9.3zM562.75 408.1h9.3v9.57h-9.3zM589.75 408.1h9.3v9.57h-9.3zM598.75 408.1h9.3v9.57h-9.3zM616.75 408.1h9.3v9.57h-9.3zM625.75 408.1h9.3v9.57h-9.3zM643.75 408.1h9.3v9.57h-9.3zM661.75 408.1h4.8v9.57h-4.8zM472.75 417.37h9.3v9.57h-9.3zM553.75 417.37h9.3v9.57h-9.3zM562.75 417.37h9.3v9.57h-9.3zM553.75 435.9h9.3v9.57h-9.3zM562.75 435.9h9.3v9.57h-9.3zM634.75 435.9h9.3v9.57h-9.3zM643.75 435.9h9.3v9.57h-9.3zM553.75 445.17h9.3v9.57h-9.3zM481.75 454.43h9.3v9.57h-9.3zM553.75 454.43h9.3v9.57h-9.3zM580.75 454.43h9.3v9.57h-9.3zM589.75 454.43h9.3v9.57h-9.3zM598.75 454.43h9.3v9.57h-9.3zM544.75 472.97h9.3v9.57h-9.3zM517.75 482.23h9.3v9.57h-9.3zM472.75 491.5h9.3v9.57h-9.3zM481.75 491.5h9.3v9.57h-9.3zM544.75 491.5h9.3v9.57h-9.3zM553.75 491.5h9.3v9.57h-9.3zM544.75 510.03h9.3v9.57h-9.3zM571.75 510.03h9.3v9.57h-9.3zM544.75 519.3h9.3v9.57h-9.3zM562.75 519.3h9.3v9.57h-9.3zM544.75 528.57h9.3v9.57h-9.3zM625.75 537.83h9.3v9.57h-9.3zM517.75 547.1h9.3v9.57h-9.3zM526.75 547.1h9.3v9.57h-9.3zM562.75 565.63h9.3v9.57h-9.3zM544.75 574.9h9.3v9.57h-9.3z"/>
<path fill="#0c0808" d="M463.75 366.4h9.3v4.93h-9.3zM481.75 371.03h9.3v9.57h-9.3zM481.75 380.3h9.3v9.57h-9.3zM472.75 398.83h9.3v9.57h-9.3zM517.75 426.63h9.3v9.57h-9.3zM508.75 482.23h9.3v9.57h-9.3z"/>
<path fill="#0c0c0c" d="M472.75 366.4h9.3v4.93h-9.3zM463.75 371.03h9.3v9.57h-9.3zM508.75 380.3h9.3v9.57h-9.3zM526.75 398.83h9.3v9.57h-9.3zM526.75 417.37h9.3v9.57h-9.3z"/>
<path fill="#0c080c" d="M481.75 366.4h9.3v4.93h-9.3zM499.75 398.83h9.3v9.57h-9.3zM490.75 426.63h9.3v9.57h-9.3zM544.75 454.43h9.3v9.57h-9.3zM490.75 463.7h9.3v9.57h-9.3zM526.75 463.7h9.3v9.57h-9.3zM499.75 472.97h9.3v9.57h-9.3z"/>
<path fill="#1c080c" d="M499.75 366.4h9.3v4.93h-9.3zM508.75 366.4h9.3v4.93h-9.3zM526.75 366.4h9.3v4.93h-9.3zM526.75 371.03h9.3v9.57h-9.3zM517.75 380.3h9.3v9.57h-9.3zM526.75 380.3h9.3v9.57h-9.3zM535.75 380.3h9.3v9.57h-9.3zM553.75 380.3h9.3v9.57h-9.3zM562.75 380.3h9.3v9.57h-9.3zM517.75 389.57h9.3v9.57h-9.3zM526.75 389.57h9.3v9.57h-9.3zM535.75 389.57h9.3v9.57h-9.3zM562.75 398.83h9.3v9.57h-9.3zM571.75 398.83h9.3v9.57h-9.3zM607.75 408.1h9.3v9.57h-9.3zM634.75 408.1h9.3v9.57h-9.3zM652.75 408.1h9.3v9.57h-9.3zM553.75 426.63h9.3v9.57h-9.3zM652.75 435.9h9.3v9.57h-9.3zM544.75 445.17h9.3v9.57h-9.3zM562.75 454.43h9.3v9.57h-9.3zM481.75 472.97h9.3v9.57h-9.3zM535.75 472.97h9.3v9.57h-9.3zM481.75 482.23h9.3v9.57h-9.3zM562.75 491.5h9.3v9.57h-9.3zM553.75 510.03h9.3v9.57h-9.3zM562.75 510.03h9.3v9.57h-9.3zM535.75 528.57h9.3v9.57h-9.3zM526.75 537.83h9.3v9.57h-9.3zM535.75 537.83h9.3v9.57h-9.3zM544.75 537.83h9.3v9.57h-9.3zM553.75 537.83h9.3v9.57h-9.3zM535.75 547.1h9.3v9.57h-9.3zM544.75 547.1h9.3v9.57h-9.3z"/>
<path fill="#1c0810" d="M517.75 366.4h9.3v4.93h-9.3zM544.75 389.57h9.3v9.57h-9.3zM481.75 445.17h9.3v9.57h-9.3z"/>
<path fill="#200408" d="M544.75 366.4h9.3v4.93h-9.3zM553.75 366.4h9.3v4.93h-9.3zM562.75 366.4h9.3v4.93h-9.3zM571.75 366.4h9.3v4.93h-9.3zM553.75 371.03h9.3v9.57h-9.3zM661.75 371.03h4.8v9.57h-4.8zM643.75 380.3h9.3v9.57h-9.3zM589.75 398.83h9.3v9.57h-9.3zM607.75 398.83h9.3v9.57h-9.3z"/>
<path fill="#200404" d="M580.75 366.4h9.3v4.93h-9.3zM598.75 366.4h9.3v4.93h-9.3zM634.75 366.4h9.3v4.93h-9.3zM562.75 371.03h9.3v9.57h-9.3zM616.75 371.03h9.3v9.57h-9.3zM652.75 371.03h9.3v9.57h-9.3zM571.75 380.3h9.3v9.57h-9.3zM598.75 389.57h9.3v9.57h-9.3zM634.75 389.57h9.3v9.57h-9.3zM652.75 389.57h9.3v9.57h-9.3zM643.75 398.83h9.3v9.57h-9.3zM661.75 398.83h4.8v9.57h-4.8z"/>
<path fill="#200008" d="M589.75 366.4h9.3v4.93h-9.3zM607.75 366.4h9.3v4.93h-9.3zM616.75 366.4h9.3v4.93h-9.3zM625.75 366.4h9.3v4.93h-9.3zM589.75 371.03h9.3v9.57h-9.3zM598.75 371.03h9.3v9.57h-9.3zM607.75 371.03h9.3v9.57h-9.3zM625.75 371.03h9.3v9.57h-9.3zM598.75 380.3h9.3v9.57h-9.3zM634.75 380.3h9.3v9.57h-9.3zM661.75 380.3h4.8v9.57h-4.8zM625.75 398.83h9.3v9.57h-9.3z"/>
<path fill="#200004" d="M643.75 366.4h9.3v4.93h-9.3zM652.75 366.4h9.3v4.93h-9.3zM544.75 371.03h9.3v9.57h-9.3zM571.75 371.03h9.3v9.57h-9.3zM589.75 380.3h9.3v9.57h-9.3zM625.75 380.3h9.3v9.57h-9.3zM652.75 380.3h9.3v9.57h-9.3zM607.75 389.57h9.3v9.57h-9.3zM616.75 389.57h9.3v9.57h-9.3zM625.75 389.57h9.3v9.57h-9.3zM643.75 389.57h9.3v9.57h-9.3zM616.75 398.83h9.3v9.57h-9.3zM571.75 408.1h9.3v9.57h-9.3z"/>
<path fill="#240004" d="M661.75 366.4h4.8v4.93h-4.8zM634.75 398.83h9.3v9.57h-9.3zM652.75 398.83h9.3v9.57h-9.3z"/>
<path fill="#5410e8" d="M396.25 371.03h4.8v9.57h-4.8zM427.75 519.3h9.3v9.57h-9.3zM643.75 547.1h9.3v9.57h-9.3zM652.75 547.1h9.3v9.57h-9.3zM661.75 565.63h4.8v9.57h-4.8zM625.75 602.7h9.3v9.57h-9.3zM643.75 602.7h9.3v9.57h-9.3zM652.75 602.7h9.3v9.57h-9.3zM625.75 639.77h9.3v4.93h-9.3z"/>
<path fill="#5c14fc" d="M400.75 371.03h9.3v9.57h-9.3zM490.75 602.7h9.3v9.57h-9.3z"/>
<path fill="#2810e0" d="M409.75 371.03h9.3v9.57h-9.3zM436.75 417.37h9.3v9.57h-9.3zM571.75 593.43h9.3v9.57h-9.3z"/>
<path fill="#480884" d="M418.75 371.03h9.3v9.57h-9.3z"/>
<path fill="#4c088c" d="M427.75 371.03h9.3v9.57h-9.3zM463.75 454.43h9.3v9.57h-9.3z"/>
<path fill="#300444" d="M436.75 371.03h9.3v9.57h-9.3zM445.75 380.3h9.3v9.57h-9.3zM454.75 408.1h9.3v9.57h-9.3zM472.75 454.43h9.3v9.57h-9.3zM607.75 574.9h9.3v9.57h-9.3z"/>
<path fill="#2c003c" d="M445.75 371.03h9.3v9.57h-9.3z"/>
<path fill="#08080c" d="M472.75 371.03h9.3v9.57h-9.3zM490.75 380.3h9.3v9.57h-9.3zM454.75 389.57h9.3v9.57h-9.3zM499.75 389.57h9.3v9.57h-9.3zM517.75 398.83h9.3v9.57h-9.3zM535.75 398.83h9.3v9.57h-9.3zM499.75 408.1h9.3v9.57h-9.3zM508.75 408.1h9.3v9.57h-9.3zM499.75 417.37h9.3v9.57h-9.3zM517.75 417.37h9.3v9.57h-9.3zM499.75 426.63h9.3v9.57h-9.3zM544.75 426.63h9.3v9.57h-9.3zM499.75 435.9h9.3v9.57h-9.3zM535.75 435.9h9.3v9.57h-9.3zM517.75 454.43h9.3v9.57h-9.3zM526.75 454.43h9.3v9.57h-9.3zM535.75 454.43h9.3v9.57h-9.3zM544.75 463.7h9.3v9.57h-9.3zM490.75 482.23h9.3v9.57h-9.3zM499.75 482.23h9.3v9.57h-9.3z"/>
<path fill="#18040c" d="M490.75 371.03h9.3v9.57h-9.3zM481.75 463.7h9.3v9.57h-9.3zM553.75 519.3h9.3v9.57h-9.3z"/>
<path fill="#240008" d="M580.75 371.03h9.3v9.57h-9.3zM580.75 380.3h9.3v9.57h-9.3zM616.75 380.3h9.3v9.57h-9.3zM571.75 389.57h9.3v9.57h-9.3zM661.75 389.57h4.8v9.57h-4.8zM580.75 398.83h9.3v9.57h-9.3zM580.75 408.1h9.3v9.57h-9.3z"/>
<path fill="#240404" d="M634.75 371.03h9.3v9.57h-9.3zM589.75 389.57h9.3v9.57h-9.3zM598.75 398.83h9.3v9.57h-9.3z"/>
<path fill="#240408" d="M643.75 371.03h9.3v9.57h-9.3z"/>
<path fill="#3424ff" d="M396.25 380.3h4.8v9.57h-4.8zM400.75 398.83h9.3v9.57h-9.3zM409.75 426.63h9.3v9.57h-9.3zM436.75 435.9h9.3v9.57h-9.3zM427.75 463.7h9.3v9.57h-9.3zM427.75 482.23h9.3v9.57h-9.3zM427.75 491.5h9.3v9.57h-9.3zM409.75 510.03h9.3v9.57h-9.3zM400.75 519.3h9.3v9.57h-9.3zM400.75 528.57h9.3v9.57h-9.3zM396.25 547.1h4.8v9.57h-4.8zM400.75 547.1h9.3v9.57h-9.3zM409.75 547.1h9.3v9.57h-9.3zM396.25 565.63h4.8v9.57h-4.8zM454.75 565.63h9.3v9.57h-9.3zM418.75 574.9h9.3v9.57h-9.3zM445.75 574.9h9.3v9.57h-9.3zM454.75 574.9h9.3v9.57h-9.3zM607.75 584.17h9.3v9.57h-9.3zM400.75 602.7h9.3v9.57h-9.3zM418.75 602.7h9.3v9.57h-9.3zM526.75 602.7h9.3v9.57h-9.3zM562.75 602.7h9.3v9.57h-9.3zM571.75 602.7h9.3v9.57h-9.3zM589.75 602.7h9.3v9.57h-9.3zM400.75 611.97h9.3v9.57h-9.3zM436.75 611.97h9.3v9.57h-9.3zM454.75 611.97h9.3v9.57h-9.3zM463.75 611.97h9.3v9.57h-9.3zM535.75 611.97h9.3v9.57h-9.3zM562.75 611.97h9.3v9.57h-9.3zM598.75 611.97h9.3v9.57h-9.3zM436.75 621.23h9.3v9.57h-9.3zM661.75 621.23h4.8v9.57h-4.8zM409.75 630.5h9.3v9.57h-9.3zM427.75 630.5h9.3v9.57h-9.3zM652.75 630.5h9.3v9.57h-9.3zM396.25 639.77h4.8v4.93h-4.8zM418.75 639.77h9.3v4.93h-9.3zM427.75 639.77h9.3v4.93h-9.3zM436.75 639.77h9.3v4.93h-9.3z"/>
<path fill="#3024ff" d="M400.75 380.3h9.3v9.57h-9.3zM445.75 454.43h9.3v9.57h-9.3zM396.25 519.3h4.8v9.57h-4.8zM436.75 574.9h9.3v9.57h-9.3zM436.75 584.17h9.3v9.57h-9.3zM580.75 593.43h9.3v9.57h-9.3zM553.75 602.7h9.3v9.57h-9.3zM508.75 621.23h9.3v9.57h-9.3zM454.75 639.77h9.3v4.93h-9.3zM634.75 639.77h9.3v4.93h-9.3zM661.75 639.77h4.8v4.93h-4.8z"/>
<path fill="#3428ff" d="M409.75 380.3h9.3v9.57h-9.3zM396.25 398.83h4.8v9.57h-4.8zM409.75 519.3h9.3v9.57h-9.3zM396.25 537.83h4.8v9.57h-4.8zM400.75 565.63h9.3v9.57h-9.3zM463.75 565.63h9.3v9.57h-9.3zM400.75 593.43h9.3v9.57h-9.3zM544.75 602.7h9.3v9.57h-9.3zM589.75 611.97h9.3v9.57h-9.3zM418.75 621.23h9.3v9.57h-9.3zM445.75 621.23h9.3v9.57h-9.3zM454.75 630.5h9.3v9.57h-9.3z"/>
<path fill="#2c0cdc" d="M418.75 380.3h9.3v9.57h-9.3zM661.75 537.83h4.8v9.57h-4.8zM526.75 611.97h9.3v9.57h-9.3z"/>
<path fill="#1008a0" d="M427.75 380.3h9.3v9.57h-9.3z"/>
<path fill="#48048c" d="M436.75 380.3h9.3v9.57h-9.3zM445.75 482.23h9.3v9.57h-9.3zM445.75 500.77h9.3v9.57h-9.3zM445.75 519.3h9.3v9.57h-9.3z"/>
<path fill="#080808" d="M463.75 380.3h9.3v9.57h-9.3zM499.75 380.3h9.3v9.57h-9.3zM463.75 389.57h9.3v9.57h-9.3zM472.75 389.57h9.3v9.57h-9.3zM454.75 398.83h9.3v9.57h-9.3zM481.75 398.83h9.3v9.57h-9.3zM508.75 398.83h9.3v9.57h-9.3zM544.75 398.83h9.3v9.57h-9.3zM544.75 408.1h9.3v9.57h-9.3zM481.75 417.37h9.3v9.57h-9.3zM490.75 417.37h9.3v9.57h-9.3zM508.75 417.37h9.3v9.57h-9.3zM535.75 417.37h9.3v9.57h-9.3zM535.75 426.63h9.3v9.57h-9.3zM490.75 435.9h9.3v9.57h-9.3zM526.75 435.9h9.3v9.57h-9.3zM499.75 445.17h9.3v9.57h-9.3zM517.75 445.17h9.3v9.57h-9.3zM526.75 445.17h9.3v9.57h-9.3zM490.75 454.43h9.3v9.57h-9.3zM499.75 454.43h9.3v9.57h-9.3zM508.75 454.43h9.3v9.57h-9.3zM499.75 463.7h9.3v9.57h-9.3zM517.75 463.7h9.3v9.57h-9.3zM571.75 463.7h9.3v9.57h-9.3zM490.75 491.5h9.3v9.57h-9.3z"/>
<path fill="#080c0c" d="M472.75 380.3h9.3v9.57h-9.3zM481.75 389.57h9.3v9.57h-9.3zM463.75 398.83h9.3v9.57h-9.3zM517.75 408.1h9.3v9.57h-9.3zM526.75 408.1h9.3v9.57h-9.3zM535.75 408.1h9.3v9.57h-9.3zM544.75 417.37h9.3v9.57h-9.3zM526.75 426.63h9.3v9.57h-9.3zM508.75 435.9h9.3v9.57h-9.3zM517.75 435.9h9.3v9.57h-9.3zM544.75 435.9h9.3v9.57h-9.3zM490.75 445.17h9.3v9.57h-9.3zM535.75 463.7h9.3v9.57h-9.3zM526.75 472.97h9.3v9.57h-9.3z"/>
<path fill="#1c0008" d="M607.75 380.3h9.3v9.57h-9.3z"/>
<path fill="#5430ff" d="M396.25 389.57h4.8v9.57h-4.8zM396.25 408.1h4.8v9.57h-4.8zM400.75 454.43h9.3v9.57h-9.3zM418.75 472.97h9.3v9.57h-9.3zM427.75 472.97h9.3v9.57h-9.3zM481.75 621.23h9.3v9.57h-9.3zM526.75 630.5h9.3v9.57h-9.3zM580.75 639.77h9.3v4.93h-9.3z"/>
<path fill="#542cff" d="M400.75 389.57h9.3v9.57h-9.3zM396.25 426.63h4.8v9.57h-4.8zM400.75 426.63h9.3v9.57h-9.3zM396.25 445.17h4.8v9.57h-4.8zM418.75 445.17h9.3v9.57h-9.3zM396.25 472.97h4.8v9.57h-4.8zM400.75 472.97h9.3v9.57h-9.3zM409.75 472.97h9.3v9.57h-9.3zM580.75 584.17h9.3v9.57h-9.3zM607.75 593.43h9.3v9.57h-9.3zM472.75 611.97h9.3v9.57h-9.3zM481.75 611.97h9.3v9.57h-9.3zM463.75 621.23h9.3v9.57h-9.3zM598.75 621.23h9.3v9.57h-9.3zM607.75 621.23h9.3v9.57h-9.3zM463.75 630.5h9.3v9.57h-9.3zM481.75 630.5h9.3v9.57h-9.3zM490.75 630.5h9.3v9.57h-9.3zM508.75 630.5h9.3v9.57h-9.3zM517.75 630.5h9.3v9.57h-9.3zM589.75 630.5h9.3v9.57h-9.3zM490.75 639.77h9.3v4.93h-9.3zM508.75 639.77h9.3v4.93h-9.3zM526.75 639.77h9.3v4.93h-9.3zM571.75 639.77h9.3v4.93h-9.3zM607.75 639.77h9.3v4.93h-9.3z"/>
<path fill="#3424fc" d="M409.75 389.57h9.3v9.57h-9.3zM418.75 491.5h9.3v9.57h-9.3zM418.75 519.3h9.3v9.57h-9.3zM634.75 574.9h9.3v9.57h-9.3zM472.75 602.7h9.3v9.57h-9.3zM409.75 639.77h9.3v4.93h-9.3z"/>
<path fill="#6808b4" d="M427.75 389.57h9.3v9.57h-9.3zM436.75 500.77h9.3v9.57h-9.3zM508.75 500.77h9.3v9.57h-9.3zM427.75 547.1h9.3v9.57h-9.3zM652.75 556.37h9.3v9.57h-9.3zM472.75 565.63h9.3v9.57h-9.3zM562.75 584.17h9.3v9.57h-9.3zM517.75 593.43h9.3v9.57h-9.3zM535.75 621.23h9.3v9.57h-9.3z"/>
<path fill="#0c0444" d="M445.75 389.57h9.3v9.57h-9.3zM463.75 426.63h9.3v9.57h-9.3zM463.75 435.9h9.3v9.57h-9.3zM643.75 528.57h9.3v9.57h-9.3zM571.75 565.63h9.3v9.57h-9.3zM625.75 565.63h9.3v9.57h-9.3zM553.75 574.9h9.3v9.57h-9.3z"/>
<path fill="#080c08" d="M490.75 389.57h9.3v9.57h-9.3zM508.75 389.57h9.3v9.57h-9.3zM490.75 408.1h9.3v9.57h-9.3zM508.75 445.17h9.3v9.57h-9.3zM535.75 445.17h9.3v9.57h-9.3zM508.75 463.7h9.3v9.57h-9.3zM490.75 472.97h9.3v9.57h-9.3zM508.75 472.97h9.3v9.57h-9.3zM517.75 472.97h9.3v9.57h-9.3z"/>
<path fill="#1c0004" d="M580.75 389.57h9.3v9.57h-9.3z"/>
<path fill="#5810f8" d="M409.75 398.83h9.3v9.57h-9.3zM580.75 574.9h9.3v9.57h-9.3zM490.75 593.43h9.3v9.57h-9.3z"/>
<path fill="#6808b8" d="M427.75 398.83h9.3v9.57h-9.3z"/>
<path fill="#0c0440" d="M436.75 398.83h9.3v9.57h-9.3zM481.75 426.63h9.3v9.57h-9.3zM472.75 435.9h9.3v9.57h-9.3zM499.75 491.5h9.3v9.57h-9.3zM652.75 528.57h9.3v9.57h-9.3zM643.75 537.83h9.3v9.57h-9.3zM652.75 537.83h9.3v9.57h-9.3z"/>
<path fill="#0c043c" d="M445.75 398.83h9.3v9.57h-9.3z"/>
<path fill="#0c0c08" d="M490.75 398.83h9.3v9.57h-9.3zM508.75 426.63h9.3v9.57h-9.3z"/>
<path fill="#502cfc" d="M400.75 408.1h9.3v9.57h-9.3zM589.75 593.43h9.3v9.57h-9.3zM490.75 621.23h9.3v9.57h-9.3zM499.75 621.23h9.3v9.57h-9.3zM499.75 630.5h9.3v9.57h-9.3zM544.75 630.5h9.3v9.57h-9.3z"/>
<path fill="#280ce0" d="M427.75 408.1h9.3v9.57h-9.3zM396.25 584.17h4.8v9.57h-4.8z"/>
<path fill="#480888" d="M436.75 408.1h9.3v9.57h-9.3zM508.75 491.5h9.3v9.57h-9.3zM472.75 547.1h9.3v9.57h-9.3zM427.75 565.63h9.3v9.57h-9.3z"/>
<path fill="#2c0440" d="M445.75 408.1h9.3v9.57h-9.3zM463.75 408.1h9.3v9.57h-9.3zM472.75 463.7h9.3v9.57h-9.3zM580.75 463.7h9.3v9.57h-9.3z"/>
<path fill="#2c0040" d="M472.75 408.1h9.3v9.57h-9.3zM481.75 500.77h9.3v9.57h-9.3z"/>
<path fill="#280cd8" d="M396.25 417.37h4.8v9.57h-4.8zM598.75 584.17h9.3v9.57h-9.3zM643.75 593.43h9.3v9.57h-9.3zM508.75 602.7h9.3v9.57h-9.3zM508.75 611.97h9.3v9.57h-9.3zM409.75 621.23h9.3v9.57h-9.3zM553.75 621.23h9.3v9.57h-9.3z"/>
<path fill="#2c10ec" d="M409.75 417.37h9.3v9.57h-9.3zM409.75 565.63h9.3v9.57h-9.3zM409.75 584.17h9.3v9.57h-9.3zM625.75 611.97h9.3v9.57h-9.3z"/>
<path fill="#2810d8" d="M418.75 417.37h9.3v9.57h-9.3zM409.75 574.9h9.3v9.57h-9.3zM463.75 574.9h9.3v9.57h-9.3z"/>
<path fill="#2810e8" d="M427.75 417.37h9.3v9.57h-9.3zM409.75 528.57h9.3v9.57h-9.3z"/>
<path fill="#1408a0" d="M445.75 417.37h9.3v9.57h-9.3zM436.75 565.63h9.3v9.57h-9.3z"/>
<path fill="#0c0840" d="M454.75 417.37h9.3v9.57h-9.3zM463.75 417.37h9.3v9.57h-9.3z"/>
<path fill="#340004" d="M571.75 417.37h9.3v9.57h-9.3zM580.75 445.17h9.3v9.57h-9.3zM643.75 454.43h9.3v9.57h-9.3zM472.75 482.23h9.3v9.57h-9.3zM589.75 510.03h9.3v9.57h-9.3zM526.75 528.57h9.3v9.57h-9.3zM562.75 537.83h9.3v9.57h-9.3zM526.75 556.37h9.3v9.57h-9.3z"/>
<path fill="#300408" d="M580.75 417.37h9.3v9.57h-9.3zM598.75 426.63h9.3v9.57h-9.3zM616.75 426.63h9.3v9.57h-9.3zM598.75 435.9h9.3v9.57h-9.3zM571.75 454.43h9.3v9.57h-9.3zM625.75 454.43h9.3v9.57h-9.3zM652.75 454.43h9.3v9.57h-9.3zM535.75 500.77h9.3v9.57h-9.3z"/>
<path fill="#300008" d="M589.75 417.37h9.3v9.57h-9.3zM598.75 417.37h9.3v9.57h-9.3zM607.75 417.37h9.3v9.57h-9.3zM616.75 417.37h9.3v9.57h-9.3zM634.75 417.37h9.3v9.57h-9.3zM643.75 417.37h9.3v9.57h-9.3zM580.75 426.63h9.3v9.57h-9.3zM625.75 426.63h9.3v9.57h-9.3zM634.75 426.63h9.3v9.57h-9.3zM652.75 426.63h9.3v9.57h-9.3zM661.75 426.63h4.8v9.57h-4.8zM580.75 435.9h9.3v9.57h-9.3zM625.75 435.9h9.3v9.57h-9.3zM562.75 445.17h9.3v9.57h-9.3zM571.75 445.17h9.3v9.57h-9.3zM463.75 500.77h9.3v9.57h-9.3zM544.75 500.77h9.3v9.57h-9.3zM562.75 500.77h9.3v9.57h-9.3zM535.75 519.3h9.3v9.57h-9.3zM562.75 528.57h9.3v9.57h-9.3zM607.75 547.1h9.3v9.57h-9.3zM616.75 547.1h9.3v9.57h-9.3zM508.75 565.63h9.3v9.57h-9.3z"/>
<path fill="#300404" d="M625.75 417.37h9.3v9.57h-9.3zM652.75 417.37h9.3v9.57h-9.3zM661.75 454.43h4.8v9.57h-4.8zM544.75 482.23h9.3v9.57h-9.3zM535.75 491.5h9.3v9.57h-9.3zM553.75 500.77h9.3v9.57h-9.3zM616.75 537.83h9.3v9.57h-9.3z"/>
<path fill="#300004" d="M661.75 417.37h4.8v9.57h-4.8zM571.75 426.63h9.3v9.57h-9.3zM589.75 426.63h9.3v9.57h-9.3zM607.75 426.63h9.3v9.57h-9.3zM643.75 426.63h9.3v9.57h-9.3zM571.75 435.9h9.3v9.57h-9.3zM589.75 435.9h9.3v9.57h-9.3zM643.75 445.17h9.3v9.57h-9.3zM607.75 454.43h9.3v9.57h-9.3zM472.75 472.97h9.3v9.57h-9.3zM553.75 472.97h9.3v9.57h-9.3zM535.75 482.23h9.3v9.57h-9.3zM553.75 482.23h9.3v9.57h-9.3zM472.75 500.77h9.3v9.57h-9.3zM535.75 510.03h9.3v9.57h-9.3zM580.75 510.03h9.3v9.57h-9.3zM517.75 528.57h9.3v9.57h-9.3zM553.75 528.57h9.3v9.57h-9.3zM517.75 537.83h9.3v9.57h-9.3zM553.75 547.1h9.3v9.57h-9.3zM571.75 547.1h9.3v9.57h-9.3zM508.75 556.37h9.3v9.57h-9.3zM589.75 556.37h9.3v9.57h-9.3zM535.75 574.9h9.3v9.57h-9.3z"/>
<path fill="#280cdc" d="M418.75 426.63h9.3v9.57h-9.3zM436.75 472.97h9.3v9.57h-9.3zM427.75 528.57h9.3v9.57h-9.3zM625.75 574.9h9.3v9.57h-9.3z"/>
<path fill="#1408ac" d="M427.75 426.63h9.3v9.57h-9.3zM445.75 435.9h9.3v9.57h-9.3zM454.75 445.17h9.3v9.57h-9.3z"/>
<path fill="#3024f4" d="M436.75 426.63h9.3v9.57h-9.3zM396.25 510.03h4.8v9.57h-4.8zM400.75 556.37h9.3v9.57h-9.3zM625.75 593.43h9.3v9.57h-9.3zM427.75 602.7h9.3v9.57h-9.3zM463.75 602.7h9.3v9.57h-9.3zM607.75 602.7h9.3v9.57h-9.3zM607.75 611.97h9.3v9.57h-9.3zM396.25 630.5h4.8v9.57h-4.8zM436.75 630.5h9.3v9.57h-9.3zM643.75 630.5h9.3v9.57h-9.3zM652.75 639.77h9.3v4.93h-9.3z"/>
<path fill="#1408a8" d="M445.75 426.63h9.3v9.57h-9.3zM463.75 445.17h9.3v9.57h-9.3zM661.75 528.57h4.8v9.57h-4.8z"/>
<path fill="#080440" d="M454.75 426.63h9.3v9.57h-9.3z"/>
<path fill="#100844" d="M472.75 426.63h9.3v9.57h-9.3z"/>
<path fill="#180808" d="M562.75 426.63h9.3v9.57h-9.3z"/>
<path fill="#5028f4" d="M396.25 435.9h4.8v9.57h-4.8zM616.75 593.43h9.3v9.57h-9.3zM490.75 611.97h9.3v9.57h-9.3zM580.75 630.5h9.3v9.57h-9.3zM598.75 630.5h9.3v9.57h-9.3zM472.75 639.77h9.3v4.93h-9.3z"/>
<path fill="#502cf8" d="M400.75 435.9h9.3v9.57h-9.3zM396.25 454.43h4.8v9.57h-4.8zM643.75 565.63h9.3v9.57h-9.3zM652.75 565.63h9.3v9.57h-9.3zM652.75 574.9h9.3v9.57h-9.3zM616.75 584.17h9.3v9.57h-9.3zM625.75 584.17h9.3v9.57h-9.3zM634.75 584.17h9.3v9.57h-9.3zM589.75 621.23h9.3v9.57h-9.3zM553.75 630.5h9.3v9.57h-9.3zM481.75 639.77h9.3v4.93h-9.3zM598.75 639.77h9.3v4.93h-9.3z"/>
<path fill="#5830ff" d="M409.75 435.9h9.3v9.57h-9.3zM517.75 639.77h9.3v4.93h-9.3z"/>
<path fill="#582cff" d="M418.75 435.9h9.3v9.57h-9.3zM409.75 445.17h9.3v9.57h-9.3zM661.75 574.9h4.8v9.57h-4.8zM598.75 593.43h9.3v9.57h-9.3zM499.75 639.77h9.3v4.93h-9.3z"/>
<path fill="#4c2cf4" d="M427.75 435.9h9.3v9.57h-9.3z"/>
<path fill="#0c083c" d="M454.75 435.9h9.3v9.57h-9.3z"/>
<path fill="#0c0844" d="M481.75 435.9h9.3v9.57h-9.3z"/>
<path fill="#2c0004" d="M607.75 435.9h9.3v9.57h-9.3zM661.75 445.17h4.8v9.57h-4.8zM499.75 565.63h9.3v9.57h-9.3z"/>
<path fill="#2c0008" d="M616.75 435.9h9.3v9.57h-9.3zM607.75 445.17h9.3v9.57h-9.3zM625.75 445.17h9.3v9.57h-9.3zM562.75 547.1h9.3v9.57h-9.3z"/>
<path fill="#1c0c0c" d="M661.75 435.9h4.8v9.57h-4.8z"/>
<path fill="#502cff" d="M400.75 445.17h9.3v9.57h-9.3zM436.75 463.7h9.3v9.57h-9.3zM472.75 630.5h9.3v9.57h-9.3z"/>
<path fill="#2810dc" d="M427.75 445.17h9.3v9.57h-9.3zM436.75 537.83h9.3v9.57h-9.3zM517.75 602.7h9.3v9.57h-9.3z"/>
<path fill="#4c44ff" d="M436.75 445.17h9.3v9.57h-9.3z"/>
<path fill="#483cfc" d="M445.75 445.17h9.3v9.57h-9.3zM396.25 491.5h4.8v9.57h-4.8z"/>
<path fill="#340408" d="M589.75 445.17h9.3v9.57h-9.3zM517.75 556.37h9.3v9.57h-9.3z"/>
<path fill="#340008" d="M598.75 445.17h9.3v9.57h-9.3zM634.75 445.17h9.3v9.57h-9.3zM652.75 445.17h9.3v9.57h-9.3zM616.75 454.43h9.3v9.57h-9.3zM526.75 482.23h9.3v9.57h-9.3zM517.75 565.63h9.3v9.57h-9.3z"/>
<path fill="#340404" d="M616.75 445.17h9.3v9.57h-9.3z"/>
<path fill="#4840ff" d="M409.75 454.43h9.3v9.57h-9.3zM396.25 463.7h4.8v9.57h-4.8zM409.75 463.7h9.3v9.57h-9.3zM409.75 482.23h9.3v9.57h-9.3zM400.75 491.5h9.3v9.57h-9.3zM396.25 500.77h4.8v9.57h-4.8zM400.75 500.77h9.3v9.57h-9.3z"/>
<path fill="#443cf8" d="M418.75 454.43h9.3v9.57h-9.3zM436.75 454.43h9.3v9.57h-9.3z"/>
<path fill="#443cf4" d="M427.75 454.43h9.3v9.57h-9.3z"/>
<path fill="#2c0cec" d="M454.75 454.43h9.3v9.57h-9.3z"/>
<path fill="#2c0404" d="M634.75 454.43h9.3v9.57h-9.3z"/>
<path fill="#483cff" d="M400.75 463.7h9.3v9.57h-9.3zM400.75 482.23h9.3v9.57h-9.3z"/>
<path fill="#4c40ff" d="M418.75 463.7h9.3v9.57h-9.3zM409.75 491.5h9.3v9.57h-9.3zM571.75 611.97h9.3v9.57h-9.3zM562.75 621.23h9.3v9.57h-9.3z"/>
<path fill="#2c10e8" d="M445.75 463.7h9.3v9.57h-9.3zM436.75 491.5h9.3v9.57h-9.3zM427.75 537.83h9.3v9.57h-9.3zM634.75 565.63h9.3v9.57h-9.3zM400.75 574.9h9.3v9.57h-9.3zM463.75 584.17h9.3v9.57h-9.3zM427.75 611.97h9.3v9.57h-9.3zM517.75 611.97h9.3v9.57h-9.3zM634.75 630.5h9.3v9.57h-9.3z"/>
<path fill="#500494" d="M454.75 463.7h9.3v9.57h-9.3zM454.75 519.3h9.3v9.57h-9.3z"/>
<path fill="#4c0490" d="M463.75 463.7h9.3v9.57h-9.3zM616.75 574.9h9.3v9.57h-9.3zM535.75 584.17h9.3v9.57h-9.3z"/>
<path fill="#040428" d="M553.75 463.7h9.3v9.57h-9.3zM562.75 463.7h9.3v9.57h-9.3z"/>
<path fill="#4c0004" d="M589.75 463.7h9.3v9.57h-9.3zM598.75 463.7h9.3v9.57h-9.3zM634.75 463.7h9.3v9.57h-9.3zM562.75 472.97h9.3v9.57h-9.3zM589.75 472.97h9.3v9.57h-9.3zM598.75 472.97h9.3v9.57h-9.3zM625.75 472.97h9.3v9.57h-9.3zM661.75 472.97h4.8v9.57h-4.8zM571.75 482.23h9.3v9.57h-9.3zM598.75 482.23h9.3v9.57h-9.3zM607.75 482.23h9.3v9.57h-9.3zM616.75 482.23h9.3v9.57h-9.3zM625.75 482.23h9.3v9.57h-9.3zM643.75 482.23h9.3v9.57h-9.3zM463.75 491.5h9.3v9.57h-9.3zM571.75 491.5h9.3v9.57h-9.3zM580.75 491.5h9.3v9.57h-9.3zM589.75 491.5h9.3v9.57h-9.3zM616.75 491.5h9.3v9.57h-9.3zM625.75 491.5h9.3v9.57h-9.3zM661.75 491.5h4.8v9.57h-4.8zM526.75 500.77h9.3v9.57h-9.3zM580.75 500.77h9.3v9.57h-9.3zM589.75 500.77h9.3v9.57h-9.3zM616.75 500.77h9.3v9.57h-9.3zM625.75 500.77h9.3v9.57h-9.3zM634.75 500.77h9.3v9.57h-9.3zM661.75 500.77h4.8v9.57h-4.8zM607.75 510.03h9.3v9.57h-9.3zM616.75 510.03h9.3v9.57h-9.3zM661.75 510.03h4.8v9.57h-4.8zM526.75 519.3h9.3v9.57h-9.3zM571.75 519.3h9.3v9.57h-9.3zM589.75 519.3h9.3v9.57h-9.3zM607.75 519.3h9.3v9.57h-9.3zM634.75 519.3h9.3v9.57h-9.3zM652.75 519.3h9.3v9.57h-9.3zM580.75 528.57h9.3v9.57h-9.3zM598.75 528.57h9.3v9.57h-9.3zM598.75 537.83h9.3v9.57h-9.3zM589.75 547.1h9.3v9.57h-9.3zM580.75 556.37h9.3v9.57h-9.3z"/>
<path fill="#500004" d="M607.75 463.7h9.3v9.57h-9.3zM625.75 463.7h9.3v9.57h-9.3zM652.75 463.7h9.3v9.57h-9.3zM616.75 472.97h9.3v9.57h-9.3zM634.75 472.97h9.3v9.57h-9.3zM463.75 482.23h9.3v9.57h-9.3zM598.75 500.77h9.3v9.57h-9.3zM625.75 510.03h9.3v9.57h-9.3zM643.75 510.03h9.3v9.57h-9.3zM571.75 528.57h9.3v9.57h-9.3zM508.75 537.83h9.3v9.57h-9.3zM607.75 537.83h9.3v9.57h-9.3zM598.75 547.1h9.3v9.57h-9.3zM535.75 556.37h9.3v9.57h-9.3zM553.75 556.37h9.3v9.57h-9.3z"/>
<path fill="#4c0000" d="M616.75 463.7h9.3v9.57h-9.3zM634.75 482.23h9.3v9.57h-9.3zM652.75 482.23h9.3v9.57h-9.3zM661.75 482.23h4.8v9.57h-4.8zM571.75 500.77h9.3v9.57h-9.3zM634.75 510.03h9.3v9.57h-9.3zM589.75 528.57h9.3v9.57h-9.3zM508.75 547.1h9.3v9.57h-9.3zM544.75 565.63h9.3v9.57h-9.3z"/>
<path fill="#480004" d="M643.75 463.7h9.3v9.57h-9.3zM661.75 463.7h4.8v9.57h-4.8zM580.75 472.97h9.3v9.57h-9.3zM607.75 472.97h9.3v9.57h-9.3zM589.75 482.23h9.3v9.57h-9.3zM454.75 491.5h9.3v9.57h-9.3zM598.75 491.5h9.3v9.57h-9.3zM607.75 491.5h9.3v9.57h-9.3zM634.75 491.5h9.3v9.57h-9.3zM652.75 491.5h9.3v9.57h-9.3zM607.75 500.77h9.3v9.57h-9.3zM643.75 500.77h9.3v9.57h-9.3zM652.75 500.77h9.3v9.57h-9.3zM598.75 510.03h9.3v9.57h-9.3zM652.75 510.03h9.3v9.57h-9.3zM580.75 519.3h9.3v9.57h-9.3zM598.75 519.3h9.3v9.57h-9.3zM544.75 556.37h9.3v9.57h-9.3zM562.75 556.37h9.3v9.57h-9.3zM571.75 556.37h9.3v9.57h-9.3zM553.75 565.63h9.3v9.57h-9.3z"/>
<path fill="#2c0444" d="M454.75 472.97h9.3v9.57h-9.3zM634.75 528.57h9.3v9.57h-9.3z"/>
<path fill="#640050" d="M463.75 472.97h9.3v9.57h-9.3zM454.75 500.77h9.3v9.57h-9.3zM472.75 537.83h9.3v9.57h-9.3zM607.75 556.37h9.3v9.57h-9.3zM481.75 565.63h9.3v9.57h-9.3zM517.75 584.17h9.3v9.57h-9.3z"/>
<path fill="#500000" d="M571.75 472.97h9.3v9.57h-9.3zM652.75 472.97h9.3v9.57h-9.3zM580.75 482.23h9.3v9.57h-9.3zM580.75 537.83h9.3v9.57h-9.3z"/>
<path fill="#480000" d="M643.75 472.97h9.3v9.57h-9.3zM562.75 482.23h9.3v9.57h-9.3zM643.75 491.5h9.3v9.57h-9.3zM643.75 519.3h9.3v9.57h-9.3zM661.75 519.3h4.8v9.57h-4.8zM625.75 528.57h9.3v9.57h-9.3zM589.75 537.83h9.3v9.57h-9.3zM580.75 547.1h9.3v9.57h-9.3z"/>
<path fill="#4440f8" d="M396.25 482.23h4.8v9.57h-4.8z"/>
<path fill="#4840fc" d="M418.75 482.23h9.3v9.57h-9.3z"/>
<path fill="#5810f4" d="M436.75 482.23h9.3v9.57h-9.3zM418.75 510.03h9.3v9.57h-9.3zM409.75 556.37h9.3v9.57h-9.3zM643.75 584.17h9.3v9.57h-9.3zM445.75 593.43h9.3v9.57h-9.3zM499.75 593.43h9.3v9.57h-9.3zM652.75 611.97h9.3v9.57h-9.3zM607.75 630.5h9.3v9.57h-9.3zM625.75 630.5h9.3v9.57h-9.3z"/>
<path fill="#68004c" d="M454.75 482.23h9.3v9.57h-9.3z"/>
<path fill="#64004c" d="M445.75 491.5h9.3v9.57h-9.3zM517.75 500.77h9.3v9.57h-9.3zM625.75 547.1h9.3v9.57h-9.3zM436.75 556.37h9.3v9.57h-9.3z"/>
<path fill="#680050" d="M517.75 491.5h9.3v9.57h-9.3zM445.75 510.03h9.3v9.57h-9.3zM481.75 528.57h9.3v9.57h-9.3zM490.75 537.83h9.3v9.57h-9.3zM499.75 556.37h9.3v9.57h-9.3z"/>
<path fill="#780008" d="M526.75 491.5h9.3v9.57h-9.3zM526.75 510.03h9.3v9.57h-9.3zM517.75 519.3h9.3v9.57h-9.3zM625.75 519.3h9.3v9.57h-9.3zM616.75 528.57h9.3v9.57h-9.3zM517.75 574.9h9.3v9.57h-9.3z"/>
<path fill="#3020f4" d="M409.75 500.77h9.3v9.57h-9.3zM445.75 602.7h9.3v9.57h-9.3zM535.75 602.7h9.3v9.57h-9.3zM445.75 639.77h9.3v4.93h-9.3z"/>
<path fill="#3024f8" d="M418.75 500.77h9.3v9.57h-9.3zM445.75 565.63h9.3v9.57h-9.3zM396.25 593.43h4.8v9.57h-4.8zM409.75 593.43h9.3v9.57h-9.3zM436.75 602.7h9.3v9.57h-9.3zM499.75 602.7h9.3v9.57h-9.3zM580.75 602.7h9.3v9.57h-9.3zM499.75 611.97h9.3v9.57h-9.3zM544.75 611.97h9.3v9.57h-9.3zM580.75 611.97h9.3v9.57h-9.3zM400.75 621.23h9.3v9.57h-9.3zM517.75 621.23h9.3v9.57h-9.3zM625.75 621.23h9.3v9.57h-9.3zM400.75 630.5h9.3v9.57h-9.3zM418.75 630.5h9.3v9.57h-9.3zM571.75 630.5h9.3v9.57h-9.3zM661.75 630.5h4.8v9.57h-4.8zM643.75 639.77h9.3v4.93h-9.3z"/>
<path fill="#6c08b4" d="M499.75 500.77h9.3v9.57h-9.3z"/>
<path fill="#3020fc" d="M400.75 510.03h9.3v9.57h-9.3zM427.75 584.17h9.3v9.57h-9.3zM634.75 593.43h9.3v9.57h-9.3z"/>
<path fill="#6408b0" d="M427.75 510.03h9.3v9.57h-9.3zM436.75 547.1h9.3v9.57h-9.3zM472.75 584.17h9.3v9.57h-9.3zM481.75 584.17h9.3v9.57h-9.3zM553.75 584.17h9.3v9.57h-9.3z"/>
<path fill="#6c08bc" d="M436.75 510.03h9.3v9.57h-9.3zM454.75 510.03h9.3v9.57h-9.3z"/>
<path fill="#4c0494" d="M472.75 510.03h9.3v9.57h-9.3z"/>
<path fill="#80048c" d="M481.75 510.03h9.3v9.57h-9.3zM499.75 584.17h9.3v9.57h-9.3z"/>
<path fill="#840494" d="M490.75 510.03h9.3v9.57h-9.3zM589.75 565.63h9.3v9.57h-9.3z"/>
<path fill="#800490" d="M499.75 510.03h9.3v9.57h-9.3z"/>
<path fill="#60004c" d="M508.75 510.03h9.3v9.57h-9.3zM472.75 528.57h9.3v9.57h-9.3zM463.75 537.83h9.3v9.57h-9.3zM445.75 556.37h9.3v9.57h-9.3zM490.75 565.63h9.3v9.57h-9.3z"/>
<path fill="#ac043c" d="M517.75 510.03h9.3v9.57h-9.3zM499.75 528.57h9.3v9.57h-9.3z"/>
<path fill="#1808a8" d="M436.75 519.3h9.3v9.57h-9.3z"/>
<path fill="#6c08b8" d="M463.75 519.3h9.3v9.57h-9.3zM472.75 519.3h9.3v9.57h-9.3zM445.75 537.83h9.3v9.57h-9.3zM472.75 574.9h9.3v9.57h-9.3zM544.75 584.17h9.3v9.57h-9.3zM508.75 593.43h9.3v9.57h-9.3zM661.75 593.43h4.8v9.57h-4.8z"/>
<path fill="#6408b4" d="M481.75 519.3h9.3v9.57h-9.3zM445.75 528.57h9.3v9.57h-9.3zM472.75 556.37h9.3v9.57h-9.3z"/>
<path fill="#7008bc" d="M490.75 519.3h9.3v9.57h-9.3z"/>
<path fill="#680054" d="M499.75 519.3h9.3v9.57h-9.3zM454.75 537.83h9.3v9.57h-9.3zM481.75 537.83h9.3v9.57h-9.3zM445.75 547.1h9.3v9.57h-9.3z"/>
<path fill="#7c002c" d="M508.75 519.3h9.3v9.57h-9.3z"/>
<path fill="#700008" d="M616.75 519.3h9.3v9.57h-9.3z"/>
<path fill="#3420ff" d="M396.25 528.57h4.8v9.57h-4.8z"/>
<path fill="#2c0ce4" d="M418.75 528.57h9.3v9.57h-9.3zM589.75 584.17h9.3v9.57h-9.3zM418.75 611.97h9.3v9.57h-9.3zM634.75 621.23h9.3v9.57h-9.3z"/>
<path fill="#6408ac" d="M436.75 528.57h9.3v9.57h-9.3z"/>
<path fill="#4c0888" d="M454.75 528.57h9.3v9.57h-9.3z"/>
<path fill="#600048" d="M463.75 528.57h9.3v9.57h-9.3z"/>
<path fill="#80002c" d="M490.75 528.57h9.3v9.57h-9.3zM499.75 537.83h9.3v9.57h-9.3zM571.75 537.83h9.3v9.57h-9.3z"/>
<path fill="#a40438" d="M508.75 528.57h9.3v9.57h-9.3z"/>
<path fill="#740008" d="M607.75 528.57h9.3v9.57h-9.3zM535.75 565.63h9.3v9.57h-9.3zM526.75 574.9h9.3v9.57h-9.3z"/>
<path fill="#3420f8" d="M400.75 537.83h9.3v9.57h-9.3z"/>
<path fill="#3424f8" d="M409.75 537.83h9.3v9.57h-9.3z"/>
<path fill="#5c10f4" d="M418.75 537.83h9.3v9.57h-9.3zM616.75 630.5h9.3v9.57h-9.3z"/>
<path fill="#300448" d="M634.75 537.83h9.3v9.57h-9.3z"/>
<path fill="#480488" d="M454.75 547.1h9.3v9.57h-9.3zM616.75 565.63h9.3v9.57h-9.3z"/>
<path fill="#300044" d="M463.75 547.1h9.3v9.57h-9.3z"/>
<path fill="#80008c" d="M481.75 547.1h9.3v9.57h-9.3z"/>
<path fill="#800488" d="M490.75 547.1h9.3v9.57h-9.3z"/>
<path fill="#a40038" d="M499.75 547.1h9.3v9.57h-9.3z"/>
<path fill="#5814fc" d="M634.75 547.1h9.3v9.57h-9.3z"/>
<path fill="#2c0ce0" d="M661.75 547.1h4.8v9.57h-4.8z"/>
<path fill="#3024fc" d="M396.25 556.37h4.8v9.57h-4.8zM427.75 593.43h9.3v9.57h-9.3zM436.75 593.43h9.3v9.57h-9.3zM454.75 602.7h9.3v9.57h-9.3zM598.75 602.7h9.3v9.57h-9.3zM396.25 611.97h4.8v9.57h-4.8zM445.75 611.97h9.3v9.57h-9.3zM396.25 621.23h4.8v9.57h-4.8zM643.75 621.23h9.3v9.57h-9.3zM652.75 621.23h9.3v9.57h-9.3zM445.75 630.5h9.3v9.57h-9.3zM400.75 639.77h9.3v4.93h-9.3z"/>
<path fill="#5410ec" d="M418.75 556.37h9.3v9.57h-9.3zM454.75 584.17h9.3v9.57h-9.3zM616.75 639.77h9.3v4.93h-9.3z"/>
<path fill="#a40084" d="M427.75 556.37h9.3v9.57h-9.3zM598.75 565.63h9.3v9.57h-9.3z"/>
<path fill="#1408a4" d="M454.75 556.37h9.3v9.57h-9.3zM463.75 556.37h9.3v9.57h-9.3z"/>
<path fill="#a40484" d="M481.75 556.37h9.3v9.57h-9.3z"/>
<path fill="#a40080" d="M490.75 556.37h9.3v9.57h-9.3z"/>
<path fill="#78002c" d="M598.75 556.37h9.3v9.57h-9.3z"/>
<path fill="#84008c" d="M616.75 556.37h9.3v9.57h-9.3zM508.75 584.17h9.3v9.57h-9.3z"/>
<path fill="#7c0488" d="M625.75 556.37h9.3v9.57h-9.3z"/>
<path fill="#500490" d="M634.75 556.37h9.3v9.57h-9.3z"/>
<path fill="#6c0cbc" d="M643.75 556.37h9.3v9.57h-9.3z"/>
<path fill="#540ce8" d="M661.75 556.37h4.8v9.57h-4.8zM589.75 574.9h9.3v9.57h-9.3zM616.75 602.7h9.3v9.57h-9.3z"/>
<path fill="#480484" d="M418.75 565.63h9.3v9.57h-9.3zM580.75 565.63h9.3v9.57h-9.3z"/>
<path fill="#7c0008" d="M526.75 565.63h9.3v9.57h-9.3z"/>
<path fill="#a00080" d="M607.75 565.63h9.3v9.57h-9.3z"/>
<path fill="#2c10e0" d="M396.25 574.9h4.8v9.57h-4.8z"/>
<path fill="#5810f0" d="M427.75 574.9h9.3v9.57h-9.3zM454.75 593.43h9.3v9.57h-9.3zM472.75 593.43h9.3v9.57h-9.3zM643.75 611.97h9.3v9.57h-9.3z"/>
<path fill="#7c008c" d="M481.75 574.9h9.3v9.57h-9.3z"/>
<path fill="#7c0088" d="M490.75 574.9h9.3v9.57h-9.3z"/>
<path fill="#4c0894" d="M499.75 574.9h9.3v9.57h-9.3z"/>
<path fill="#600050" d="M508.75 574.9h9.3v9.57h-9.3z"/>
<path fill="#1408b0" d="M562.75 574.9h9.3v9.57h-9.3z"/>
<path fill="#5410e4" d="M571.75 574.9h9.3v9.57h-9.3z"/>
<path fill="#6808b0" d="M598.75 574.9h9.3v9.57h-9.3zM490.75 584.17h9.3v9.57h-9.3zM526.75 593.43h9.3v9.57h-9.3zM535.75 593.43h9.3v9.57h-9.3z"/>
<path fill="#502cf4" d="M643.75 574.9h9.3v9.57h-9.3zM472.75 621.23h9.3v9.57h-9.3zM562.75 630.5h9.3v9.57h-9.3zM463.75 639.77h9.3v4.93h-9.3z"/>
<path fill="#2c10d8" d="M400.75 584.17h9.3v9.57h-9.3z"/>
<path fill="#500890" d="M526.75 584.17h9.3v9.57h-9.3z"/>
<path fill="#5410f0" d="M571.75 584.17h9.3v9.57h-9.3zM481.75 593.43h9.3v9.57h-9.3zM652.75 593.43h9.3v9.57h-9.3z"/>
<path fill="#2c24f4" d="M418.75 593.43h9.3v9.57h-9.3z"/>
<path fill="#5810ec" d="M463.75 593.43h9.3v9.57h-9.3z"/>
<path fill="#2810e4" d="M562.75 593.43h9.3v9.57h-9.3z"/>
<path fill="#3420fc" d="M396.25 602.7h4.8v9.57h-4.8zM454.75 621.23h9.3v9.57h-9.3z"/>
<path fill="#3028ff" d="M409.75 602.7h9.3v9.57h-9.3z"/>
<path fill="#5810fc" d="M481.75 602.7h9.3v9.57h-9.3z"/>
<path fill="#2c0ce8" d="M409.75 611.97h9.3v9.57h-9.3zM616.75 611.97h9.3v9.57h-9.3z"/>
<path fill="#3020f8" d="M553.75 611.97h9.3v9.57h-9.3z"/>
<path fill="#5c14f8" d="M661.75 611.97h4.8v9.57h-4.8zM544.75 621.23h9.3v9.57h-9.3z"/>
<path fill="#3020f0" d="M427.75 621.23h9.3v9.57h-9.3z"/>
<path fill="#5030ff" d="M526.75 621.23h9.3v9.57h-9.3z"/>
<path fill="#3024f0" d="M571.75 621.23h9.3v9.57h-9.3z"/>
<path fill="#2810ec" d="M580.75 621.23h9.3v9.57h-9.3z"/>
<path fill="#4c28f4" d="M535.75 630.5h9.3v9.57h-9.3zM589.75 639.77h9.3v4.93h-9.3z"/>
<path fill="#542cfc" d="M535.75 639.77h9.3v4.93h-9.3z"/>
<path fill="#5028f8" d="M544.75 639.77h9.3v4.93h-9.3zM562.75 639.77h9.3v4.93h-9.3z"/>
<path fill="#5028f0" d="M553.75 639.77h9.3v4.93h-9.3z"/></g>
<line x1="149.667" y1="32.5" x2="149.667" y2="313.5" stroke="#cfc4ff" stroke-width="0.85" stroke-dasharray="4.5 2.5" opacity="0.85"/>
<line x1="231.833" y1="32.5" x2="231.833" y2="313.5" stroke="#cfc4ff" stroke-width="0.85" stroke-dasharray="4.5 2.5" opacity="0.85"/>
<line x1="67.5" y1="79.3333" x2="314" y2="79.3333" stroke="#cfc4ff" stroke-width="0.85" stroke-dasharray="4.5 2.5" opacity="0.85"/>
<line x1="67.5" y1="173" x2="314" y2="173" stroke="#cfc4ff" stroke-width="0.85" stroke-dasharray="4.5 2.5" opacity="0.85"/>
<line x1="67.5" y1="266.667" x2="314" y2="266.667" stroke="#cfc4ff" stroke-width="0.85" stroke-dasharray="4.5 2.5" opacity="0.85"/>
<line x1="476.667" y1="32.5" x2="476.667" y2="313.5" stroke="#cfc4ff" stroke-width="0.85" stroke-dasharray="4.5 2.5" opacity="0.85"/>
<line x1="558.833" y1="32.5" x2="558.833" y2="313.5" stroke="#cfc4ff" stroke-width="0.85" stroke-dasharray="4.5 2.5" opacity="0.85"/>
<line x1="394.5" y1="79.3333" x2="641" y2="79.3333" stroke="#cfc4ff" stroke-width="0.85" stroke-dasharray="4.5 2.5" opacity="0.85"/>
<line x1="394.5" y1="173" x2="641" y2="173" stroke="#cfc4ff" stroke-width="0.85" stroke-dasharray="4.5 2.5" opacity="0.85"/>
<line x1="394.5" y1="266.667" x2="641" y2="266.667" stroke="#cfc4ff" stroke-width="0.85" stroke-dasharray="4.5 2.5" opacity="0.85"/>
<line x1="45.8" y1="460.267" x2="315" y2="460.267" stroke="#b9b4d6" stroke-width="0.8" stroke-dasharray="4 3" opacity="0.6"/>
<line x1="45.8" y1="552.233" x2="315" y2="552.233" stroke="#b9b4d6" stroke-width="0.8" stroke-dasharray="4 3" opacity="0.6"/>
<line x1="486.25" y1="366.4" x2="486.25" y2="644.4" stroke="#b9b4d6" stroke-width="0.8" stroke-dasharray="4 3" opacity="0.6"/>
<line x1="576.25" y1="366.4" x2="576.25" y2="644.4" stroke="#b9b4d6" stroke-width="0.8" stroke-dasharray="4 3" opacity="0.6"/>
<clipPath id="ca"><rect x="67.5" y="32.5" width="246.5" height="281"/></clipPath>
<g clip-path="url(#ca)">
<polyline fill="none" stroke="#fff" stroke-width="0.95" stroke-linejoin="round" points="173.8,33.0 170.8,40.0 170.0,47.5 173.8,52.5 172.0,57.5 175.5,62.5 175.5,67.5 172.0,70.5"/>
<polyline fill="none" stroke="#fff" stroke-width="0.95" stroke-linejoin="round" points="172.0,70.5 167.5,67.0 162.5,66.2 158.8,68.0 155.0,66.2 148.8,68.0 142.5,66.2 138.8,68.0 132.5,65.0 127.5,68.8 122.5,67.5 118.0,66.2 117.0,70.0 120.0,73.8 120.0,78.8 116.2,81.2 111.2,80.5 113.8,86.2 118.8,88.8 120.0,92.5 118.8,97.5 121.2,101.2 120.0,105.0 113.8,104.5 108.8,107.5 105.0,112.5 102.5,118.8 96.2,120.0 101.2,123.8 106.2,125.0 105.0,130.0 108.8,135.0 107.5,140.0 106.2,146.2 110.0,148.8 113.8,147.0 118.8,148.8 125.0,151.2 131.2,153.8 136.2,153.0 140.0,156.2 143.8,161.2 145.0,167.5 142.5,172.5 143.8,177.5 140.0,181.2 138.8,186.2 142.5,190.0 140.0,195.0 135.0,198.8 130.0,197.5 127.5,202.0 123.8,200.0 118.8,198.0 112.5,198.0 107.5,200.0 103.8,203.8 103.0,208.8 106.2,213.8 103.8,218.8 106.2,225.0 108.0,231.2 106.2,236.2 101.2,241.2 97.0,245.0 93.8,241.2 90.0,236.2 86.2,231.2 82.5,227.5 77.5,232.5 73.8,226.2 75.5,222.0 72.0,219.5 70.0,223.8 67.5,220.0"/>
<polyline fill="none" stroke="#fff" stroke-width="0.95" stroke-linejoin="round" points="172.0,70.5 172.5,78.8 173.8,85.0 177.5,87.5 185.0,88.8 190.0,90.5 193.8,95.0 200.0,96.2 206.2,97.5 212.5,100.0 218.8,101.2 223.8,104.5 227.5,108.8 231.2,111.2 232.5,116.2 237.5,118.0 243.8,120.0 247.5,115.0 250.0,120.0 256.2,121.2 260.0,123.8 263.8,127.5 267.5,132.5 272.5,130.0 277.5,132.5 282.5,133.8 287.5,137.5 290.0,141.2 288.8,147.5 285.0,150.0 286.2,155.0 288.8,161.2 287.5,168.8 286.2,175.0 282.5,178.8 277.5,180.0 273.8,182.5 272.5,187.5 273.8,195.0 274.2,203.0 275.0,203.8 278.8,210.0 282.0,215.0 282.0,225.0 281.2,233.8 277.5,238.8 272.5,240.5 266.2,240.0 260.0,238.8 256.2,241.2 250.0,240.0 246.2,238.8 240.0,240.0 235.0,242.5 230.0,243.8 225.0,242.5 218.8,241.2 213.8,240.0 210.0,239.2 208.0,242.5 202.5,243.8 205.0,250.0 208.8,256.2 213.8,261.2 220.0,267.0 213.8,270.0 205.0,271.2 196.2,275.0 187.5,271.2 180.0,273.8 173.8,272.5 167.5,277.5 162.5,275.0 158.8,270.0 153.8,265.0 150.0,262.5 148.8,261.2 142.5,258.8 135.0,259.5 127.5,257.5 120.0,258.8 112.5,258.8 108.8,262.5 107.5,268.8 108.8,275.0 113.0,281.2 113.8,287.5 110.0,292.5 107.5,296.2 103.8,298.8 100.0,302.5 93.8,305.0 92.5,307.5 96.2,312.5 101.2,312.5 106.2,311.2 110.0,313.2"/>
</g>
<clipPath id="cb"><rect x="394.5" y="32.5" width="246.5" height="281"/></clipPath>
<g clip-path="url(#cb)">
<polyline fill="none" stroke="#fff" stroke-width="0.95" stroke-linejoin="round" points="500.8,33.0 497.8,40.0 497.0,47.5 500.8,52.5 499.0,57.5 502.5,62.5 502.5,67.5 499.0,70.5"/>
<polyline fill="none" stroke="#fff" stroke-width="0.95" stroke-linejoin="round" points="499.0,70.5 494.5,67.0 489.5,66.2 485.8,68.0 482.0,66.2 475.8,68.0 469.5,66.2 465.8,68.0 459.5,65.0 454.5,68.8 449.5,67.5 445.0,66.2 444.0,70.0 447.0,73.8 447.0,78.8 443.2,81.2 438.2,80.5 440.8,86.2 445.8,88.8 447.0,92.5 445.8,97.5 448.2,101.2 447.0,105.0 440.8,104.5 435.8,107.5 432.0,112.5 429.5,118.8 423.2,120.0 428.2,123.8 433.2,125.0 432.0,130.0 435.8,135.0 434.5,140.0 433.2,146.2 437.0,148.8 440.8,147.0 445.8,148.8 452.0,151.2 458.2,153.8 463.2,153.0 467.0,156.2 470.8,161.2 472.0,167.5 469.5,172.5 470.8,177.5 467.0,181.2 465.8,186.2 469.5,190.0 467.0,195.0 462.0,198.8 457.0,197.5 454.5,202.0 450.8,200.0 445.8,198.0 439.5,198.0 434.5,200.0 430.8,203.8 430.0,208.8 433.2,213.8 430.8,218.8 433.2,225.0 435.0,231.2 433.2,236.2 428.2,241.2 424.0,245.0 420.8,241.2 417.0,236.2 413.2,231.2 409.5,227.5 404.5,232.5 400.8,226.2 402.5,222.0 399.0,219.5 397.0,223.8 394.5,220.0"/>
<polyline fill="none" stroke="#fff" stroke-width="0.95" stroke-linejoin="round" points="499.0,70.5 499.5,78.8 500.8,85.0 504.5,87.5 512.0,88.8 517.0,90.5 520.8,95.0 527.0,96.2 533.2,97.5 539.5,100.0 545.8,101.2 550.8,104.5 554.5,108.8 558.2,111.2 559.5,116.2 564.5,118.0 570.8,120.0 574.5,115.0 577.0,120.0 583.2,121.2 587.0,123.8 590.8,127.5 594.5,132.5 599.5,130.0 604.5,132.5 609.5,133.8 614.5,137.5 617.0,141.2 615.8,147.5 612.0,150.0 613.2,155.0 615.8,161.2 614.5,168.8 613.2,175.0 609.5,178.8 604.5,180.0 600.8,182.5 599.5,187.5 600.8,195.0 601.2,203.0 602.0,203.8 605.8,210.0 609.0,215.0 609.0,225.0 608.2,233.8 604.5,238.8 599.5,240.5 593.2,240.0 587.0,238.8 583.2,241.2 577.0,240.0 573.2,238.8 567.0,240.0 562.0,242.5 557.0,243.8 552.0,242.5 545.8,241.2 540.8,240.0 537.0,239.2 535.0,242.5 529.5,243.8 532.0,250.0 535.8,256.2 540.8,261.2 547.0,267.0 540.8,270.0 532.0,271.2 523.2,275.0 514.5,271.2 507.0,273.8 500.8,272.5 494.5,277.5 489.5,275.0 485.8,270.0 480.8,265.0 477.0,262.5 475.8,261.2 469.5,258.8 462.0,259.5 454.5,257.5 447.0,258.8 439.5,258.8 435.8,262.5 434.5,268.8 435.8,275.0 440.0,281.2 440.8,287.5 437.0,292.5 434.5,296.2 430.8,298.8 427.0,302.5 420.8,305.0 419.5,307.5 423.2,312.5 428.2,312.5 433.2,311.2 437.0,313.2"/>
</g>
<line x1="150.5" y1="160.8" x2="272.5" y2="160.8" stroke="#fff" stroke-width="1.2" opacity="0.92"/>
<line x1="200.9" y1="80.5" x2="200.9" y2="217" stroke="#fff" stroke-width="1.2" opacity="0.92"/>
<polygon fill="#fff" points="244.30,141.20 244.99,143.05 246.96,143.13 245.42,144.36 245.95,146.27 244.30,145.18 242.65,146.27 243.18,144.36 241.64,143.13 243.61,143.05"/>
<polygon fill="#fff" points="203.00,150.50 203.69,152.35 205.66,152.43 204.12,153.66 204.65,155.57 203.00,154.48 201.35,155.57 201.88,153.66 200.34,152.43 202.31,152.35"/>
<polygon fill="#fff" points="200.90,158.50 201.59,160.35 203.56,160.43 202.02,161.66 202.55,163.57 200.90,162.48 199.25,163.57 199.78,161.66 198.24,160.43 200.21,160.35"/>
<polygon fill="#fff" points="194.50,170.70 195.19,172.55 197.16,172.63 195.62,173.86 196.15,175.77 194.50,174.68 192.85,175.77 193.38,173.86 191.84,172.63 193.81,172.55"/>
<polygon fill="#fff" points="249.60,184.20 250.29,186.05 252.26,186.13 250.72,187.36 251.25,189.27 249.60,188.18 247.95,189.27 248.48,187.36 246.94,186.13 248.91,186.05"/>
<text x="155.5" y="158.2" font-family="'Liberation Serif','Noto Serif CJK SC',serif" font-style="italic" font-size="13.5" fill="#fff" text-anchor="middle">A</text>
<text x="271.5" y="157.8" font-family="'Liberation Serif','Noto Serif CJK SC',serif" font-style="italic" font-size="13.5" fill="#fff" text-anchor="middle">B</text>
<text x="201.5" y="76.3" font-family="'Liberation Serif','Noto Serif CJK SC',serif" font-style="italic" font-size="13.5" fill="#fff" text-anchor="middle">C</text>
<text x="201.5" y="228.8" font-family="'Liberation Serif','Noto Serif CJK SC',serif" font-style="italic" font-size="13.5" fill="#fff" text-anchor="middle">D</text>
<line x1="232" y1="296.8" x2="306.3" y2="296.8" stroke="#fff" stroke-width="1.5"/>
<line x1="232" y1="294.2" x2="232" y2="297.4" stroke="#fff" stroke-width="1.1"/>
<line x1="250.575" y1="294.2" x2="250.575" y2="297.4" stroke="#fff" stroke-width="1.1"/>
<line x1="269.15" y1="294.2" x2="269.15" y2="297.4" stroke="#fff" stroke-width="1.1"/>
<line x1="287.725" y1="294.2" x2="287.725" y2="297.4" stroke="#fff" stroke-width="1.1"/>
<line x1="306.3" y1="294.2" x2="306.3" y2="297.4" stroke="#fff" stroke-width="1.1"/>
<text x="233.7" y="309.2" font-family="'Liberation Serif','Noto Serif CJK SC',serif" font-size="11.5" fill="#fff" text-anchor="middle">0</text>
<text x="251" y="309.2" font-family="'Liberation Serif','Noto Serif CJK SC',serif" font-size="11.5" fill="#fff" text-anchor="middle">25</text>
<text x="269.3" y="309.2" font-family="'Liberation Serif','Noto Serif CJK SC',serif" font-size="11.5" fill="#fff" text-anchor="middle">50</text>
<text x="287.6" y="309.2" font-family="'Liberation Serif','Noto Serif CJK SC',serif" font-size="11.5" fill="#fff" text-anchor="middle">75</text>
<text x="304" y="309.2" font-family="'Liberation Serif','Noto Serif CJK SC',serif" font-size="11.5" fill="#fff" text-anchor="middle">100</text>
<text x="278.5" y="291.5" font-family="'Liberation Serif','Noto Serif CJK SC',serif" font-size="12" fill="#fff" text-anchor="middle">km</text>
<line x1="477.5" y1="160.8" x2="599.5" y2="160.8" stroke="#fff" stroke-width="1.2" opacity="0.92"/>
<line x1="527.9" y1="80.5" x2="527.9" y2="217" stroke="#fff" stroke-width="1.2" opacity="0.92"/>
<polygon fill="#fff" points="571.30,141.20 571.99,143.05 573.96,143.13 572.42,144.36 572.95,146.27 571.30,145.18 569.65,146.27 570.18,144.36 568.64,143.13 570.61,143.05"/>
<polygon fill="#fff" points="530.00,150.50 530.69,152.35 532.66,152.43 531.12,153.66 531.65,155.57 530.00,154.48 528.35,155.57 528.88,153.66 527.34,152.43 529.31,152.35"/>
<polygon fill="#fff" points="527.90,158.50 528.59,160.35 530.56,160.43 529.02,161.66 529.55,163.57 527.90,162.48 526.25,163.57 526.78,161.66 525.24,160.43 527.21,160.35"/>
<polygon fill="#fff" points="521.50,170.70 522.19,172.55 524.16,172.63 522.62,173.86 523.15,175.77 521.50,174.68 519.85,175.77 520.38,173.86 518.84,172.63 520.81,172.55"/>
<polygon fill="#fff" points="576.60,184.20 577.29,186.05 579.26,186.13 577.72,187.36 578.25,189.27 576.60,188.18 574.95,189.27 575.48,187.36 573.94,186.13 575.91,186.05"/>
<text x="482.5" y="158.2" font-family="'Liberation Serif','Noto Serif CJK SC',serif" font-style="italic" font-size="13.5" fill="#fff" text-anchor="middle">A</text>
<text x="598.5" y="157.8" font-family="'Liberation Serif','Noto Serif CJK SC',serif" font-style="italic" font-size="13.5" fill="#fff" text-anchor="middle">B</text>
<text x="528.5" y="76.3" font-family="'Liberation Serif','Noto Serif CJK SC',serif" font-style="italic" font-size="13.5" fill="#fff" text-anchor="middle">C</text>
<text x="528.5" y="228.8" font-family="'Liberation Serif','Noto Serif CJK SC',serif" font-style="italic" font-size="13.5" fill="#fff" text-anchor="middle">D</text>
<line x1="559" y1="296.8" x2="633.3" y2="296.8" stroke="#fff" stroke-width="1.5"/>
<line x1="559" y1="294.2" x2="559" y2="297.4" stroke="#fff" stroke-width="1.1"/>
<line x1="577.575" y1="294.2" x2="577.575" y2="297.4" stroke="#fff" stroke-width="1.1"/>
<line x1="596.15" y1="294.2" x2="596.15" y2="297.4" stroke="#fff" stroke-width="1.1"/>
<line x1="614.725" y1="294.2" x2="614.725" y2="297.4" stroke="#fff" stroke-width="1.1"/>
<line x1="633.3" y1="294.2" x2="633.3" y2="297.4" stroke="#fff" stroke-width="1.1"/>
<text x="560.7" y="309.2" font-family="'Liberation Serif','Noto Serif CJK SC',serif" font-size="11.5" fill="#fff" text-anchor="middle">0</text>
<text x="578" y="309.2" font-family="'Liberation Serif','Noto Serif CJK SC',serif" font-size="11.5" fill="#fff" text-anchor="middle">25</text>
<text x="596.3" y="309.2" font-family="'Liberation Serif','Noto Serif CJK SC',serif" font-size="11.5" fill="#fff" text-anchor="middle">50</text>
<text x="614.6" y="309.2" font-family="'Liberation Serif','Noto Serif CJK SC',serif" font-size="11.5" fill="#fff" text-anchor="middle">75</text>
<text x="631" y="309.2" font-family="'Liberation Serif','Noto Serif CJK SC',serif" font-size="11.5" fill="#fff" text-anchor="middle">100</text>
<text x="605.5" y="291.5" font-family="'Liberation Serif','Noto Serif CJK SC',serif" font-size="12" fill="#fff" text-anchor="middle">km</text>
<rect x="67.5" y="32.5" width="246.5" height="281" fill="none" stroke="#222" stroke-width="1"/>
<line x1="67.5" y1="29.5" x2="67.5" y2="32.5" stroke="#222" stroke-width="0.9"/>
<line x1="67.5" y1="313.5" x2="67.5" y2="316.5" stroke="#222" stroke-width="0.9"/>
<line x1="64.5" y1="32.5" x2="67.5" y2="32.5" stroke="#222" stroke-width="0.9"/>
<line x1="314" y1="32.5" x2="317" y2="32.5" stroke="#222" stroke-width="0.9"/>
<line x1="108.583" y1="29.5" x2="108.583" y2="32.5" stroke="#222" stroke-width="0.9"/>
<line x1="108.583" y1="313.5" x2="108.583" y2="316.5" stroke="#222" stroke-width="0.9"/>
<line x1="64.5" y1="79.3333" x2="67.5" y2="79.3333" stroke="#222" stroke-width="0.9"/>
<line x1="314" y1="79.3333" x2="317" y2="79.3333" stroke="#222" stroke-width="0.9"/>
<line x1="149.667" y1="29.5" x2="149.667" y2="32.5" stroke="#222" stroke-width="0.9"/>
<line x1="149.667" y1="313.5" x2="149.667" y2="316.5" stroke="#222" stroke-width="0.9"/>
<line x1="64.5" y1="126.167" x2="67.5" y2="126.167" stroke="#222" stroke-width="0.9"/>
<line x1="314" y1="126.167" x2="317" y2="126.167" stroke="#222" stroke-width="0.9"/>
<line x1="190.75" y1="29.5" x2="190.75" y2="32.5" stroke="#222" stroke-width="0.9"/>
<line x1="190.75" y1="313.5" x2="190.75" y2="316.5" stroke="#222" stroke-width="0.9"/>
<line x1="64.5" y1="173" x2="67.5" y2="173" stroke="#222" stroke-width="0.9"/>
<line x1="314" y1="173" x2="317" y2="173" stroke="#222" stroke-width="0.9"/>
<line x1="231.833" y1="29.5" x2="231.833" y2="32.5" stroke="#222" stroke-width="0.9"/>
<line x1="231.833" y1="313.5" x2="231.833" y2="316.5" stroke="#222" stroke-width="0.9"/>
<line x1="64.5" y1="219.833" x2="67.5" y2="219.833" stroke="#222" stroke-width="0.9"/>
<line x1="314" y1="219.833" x2="317" y2="219.833" stroke="#222" stroke-width="0.9"/>
<line x1="272.917" y1="29.5" x2="272.917" y2="32.5" stroke="#222" stroke-width="0.9"/>
<line x1="272.917" y1="313.5" x2="272.917" y2="316.5" stroke="#222" stroke-width="0.9"/>
<line x1="64.5" y1="266.667" x2="67.5" y2="266.667" stroke="#222" stroke-width="0.9"/>
<line x1="314" y1="266.667" x2="317" y2="266.667" stroke="#222" stroke-width="0.9"/>
<line x1="314" y1="29.5" x2="314" y2="32.5" stroke="#222" stroke-width="0.9"/>
<line x1="314" y1="313.5" x2="314" y2="316.5" stroke="#222" stroke-width="0.9"/>
<line x1="64.5" y1="313.5" x2="67.5" y2="313.5" stroke="#222" stroke-width="0.9"/>
<line x1="314" y1="313.5" x2="317" y2="313.5" stroke="#222" stroke-width="0.9"/>
<text x="63" y="83.7333" font-family="'Liberation Serif','Noto Serif CJK SC',serif" font-size="13" fill="#111" text-anchor="end">37°<tspan dx="1.8">N</tspan></text>
<text x="63" y="177.4" font-family="'Liberation Serif','Noto Serif CJK SC',serif" font-size="13" fill="#111" text-anchor="end">36°<tspan dx="1.8">N</tspan></text>
<text x="63" y="271.067" font-family="'Liberation Serif','Noto Serif CJK SC',serif" font-size="13" fill="#111" text-anchor="end">35°<tspan dx="1.8">N</tspan></text>
<text x="142.667" y="325.9" font-family="'Liberation Serif','Noto Serif CJK SC',serif" font-size="13" fill="#111" text-anchor="start">107°<tspan dx="2">E</tspan></text>
<text x="224.833" y="325.9" font-family="'Liberation Serif','Noto Serif CJK SC',serif" font-size="13" fill="#111" text-anchor="start">108°<tspan dx="2">E</tspan></text>
<rect x="394.5" y="32.5" width="246.5" height="281" fill="none" stroke="#222" stroke-width="1"/>
<line x1="394.5" y1="29.5" x2="394.5" y2="32.5" stroke="#222" stroke-width="0.9"/>
<line x1="394.5" y1="313.5" x2="394.5" y2="316.5" stroke="#222" stroke-width="0.9"/>
<line x1="391.5" y1="32.5" x2="394.5" y2="32.5" stroke="#222" stroke-width="0.9"/>
<line x1="641" y1="32.5" x2="644" y2="32.5" stroke="#222" stroke-width="0.9"/>
<line x1="435.583" y1="29.5" x2="435.583" y2="32.5" stroke="#222" stroke-width="0.9"/>
<line x1="435.583" y1="313.5" x2="435.583" y2="316.5" stroke="#222" stroke-width="0.9"/>
<line x1="391.5" y1="79.3333" x2="394.5" y2="79.3333" stroke="#222" stroke-width="0.9"/>
<line x1="641" y1="79.3333" x2="644" y2="79.3333" stroke="#222" stroke-width="0.9"/>
<line x1="476.667" y1="29.5" x2="476.667" y2="32.5" stroke="#222" stroke-width="0.9"/>
<line x1="476.667" y1="313.5" x2="476.667" y2="316.5" stroke="#222" stroke-width="0.9"/>
<line x1="391.5" y1="126.167" x2="394.5" y2="126.167" stroke="#222" stroke-width="0.9"/>
<line x1="641" y1="126.167" x2="644" y2="126.167" stroke="#222" stroke-width="0.9"/>
<line x1="517.75" y1="29.5" x2="517.75" y2="32.5" stroke="#222" stroke-width="0.9"/>
<line x1="517.75" y1="313.5" x2="517.75" y2="316.5" stroke="#222" stroke-width="0.9"/>
<line x1="391.5" y1="173" x2="394.5" y2="173" stroke="#222" stroke-width="0.9"/>
<line x1="641" y1="173" x2="644" y2="173" stroke="#222" stroke-width="0.9"/>
<line x1="558.833" y1="29.5" x2="558.833" y2="32.5" stroke="#222" stroke-width="0.9"/>
<line x1="558.833" y1="313.5" x2="558.833" y2="316.5" stroke="#222" stroke-width="0.9"/>
<line x1="391.5" y1="219.833" x2="394.5" y2="219.833" stroke="#222" stroke-width="0.9"/>
<line x1="641" y1="219.833" x2="644" y2="219.833" stroke="#222" stroke-width="0.9"/>
<line x1="599.917" y1="29.5" x2="599.917" y2="32.5" stroke="#222" stroke-width="0.9"/>
<line x1="599.917" y1="313.5" x2="599.917" y2="316.5" stroke="#222" stroke-width="0.9"/>
<line x1="391.5" y1="266.667" x2="394.5" y2="266.667" stroke="#222" stroke-width="0.9"/>
<line x1="641" y1="266.667" x2="644" y2="266.667" stroke="#222" stroke-width="0.9"/>
<line x1="641" y1="29.5" x2="641" y2="32.5" stroke="#222" stroke-width="0.9"/>
<line x1="641" y1="313.5" x2="641" y2="316.5" stroke="#222" stroke-width="0.9"/>
<line x1="391.5" y1="313.5" x2="394.5" y2="313.5" stroke="#222" stroke-width="0.9"/>
<line x1="641" y1="313.5" x2="644" y2="313.5" stroke="#222" stroke-width="0.9"/>
<text x="390" y="83.7333" font-family="'Liberation Serif','Noto Serif CJK SC',serif" font-size="13" fill="#111" text-anchor="end">37°<tspan dx="1.8">N</tspan></text>
<text x="390" y="177.4" font-family="'Liberation Serif','Noto Serif CJK SC',serif" font-size="13" fill="#111" text-anchor="end">36°<tspan dx="1.8">N</tspan></text>
<text x="390" y="271.067" font-family="'Liberation Serif','Noto Serif CJK SC',serif" font-size="13" fill="#111" text-anchor="end">35°<tspan dx="1.8">N</tspan></text>
<text x="469.667" y="325.9" font-family="'Liberation Serif','Noto Serif CJK SC',serif" font-size="13" fill="#111" text-anchor="start">107°<tspan dx="2">E</tspan></text>
<text x="551.833" y="325.9" font-family="'Liberation Serif','Noto Serif CJK SC',serif" font-size="13" fill="#111" text-anchor="start">108°<tspan dx="2">E</tspan></text>
<rect x="45.8" y="368.3" width="269.2" height="275.9" fill="none" stroke="#222" stroke-width="1"/>
<line x1="45.8" y1="365.3" x2="45.8" y2="368.3" stroke="#222" stroke-width="0.9"/>
<line x1="45.8" y1="644.2" x2="45.8" y2="647.2" stroke="#222" stroke-width="0.9"/>
<text x="47.5" y="659.5" font-family="'Liberation Serif','Noto Serif CJK SC',serif" font-size="13" fill="#111" text-anchor="middle" >23:15</text>
<line x1="99.64" y1="365.3" x2="99.64" y2="368.3" stroke="#222" stroke-width="0.9"/>
<line x1="99.64" y1="644.2" x2="99.64" y2="647.2" stroke="#222" stroke-width="0.9"/>
<text x="101.34" y="659.5" font-family="'Liberation Serif','Noto Serif CJK SC',serif" font-size="13" fill="#111" text-anchor="middle" >00:45</text>
<line x1="153.48" y1="365.3" x2="153.48" y2="368.3" stroke="#222" stroke-width="0.9"/>
<line x1="153.48" y1="644.2" x2="153.48" y2="647.2" stroke="#222" stroke-width="0.9"/>
<text x="155.18" y="659.5" font-family="'Liberation Serif','Noto Serif CJK SC',serif" font-size="13" fill="#111" text-anchor="middle" >02:15</text>
<line x1="207.32" y1="365.3" x2="207.32" y2="368.3" stroke="#222" stroke-width="0.9"/>
<line x1="207.32" y1="644.2" x2="207.32" y2="647.2" stroke="#222" stroke-width="0.9"/>
<text x="209.02" y="659.5" font-family="'Liberation Serif','Noto Serif CJK SC',serif" font-size="13" fill="#111" text-anchor="middle" >03:45</text>
<line x1="261.16" y1="365.3" x2="261.16" y2="368.3" stroke="#222" stroke-width="0.9"/>
<line x1="261.16" y1="644.2" x2="261.16" y2="647.2" stroke="#222" stroke-width="0.9"/>
<text x="262.86" y="659.5" font-family="'Liberation Serif','Noto Serif CJK SC',serif" font-size="13" fill="#111" text-anchor="middle" >05:15</text>
<line x1="315" y1="365.3" x2="315" y2="368.3" stroke="#222" stroke-width="0.9"/>
<line x1="315" y1="644.2" x2="315" y2="647.2" stroke="#222" stroke-width="0.9"/>
<text x="316.7" y="659.5" font-family="'Liberation Serif','Noto Serif CJK SC',serif" font-size="13" fill="#111" text-anchor="middle" >06:45</text>
<line x1="42.8" y1="368.3" x2="45.8" y2="368.3" stroke="#222" stroke-width="0.9"/>
<line x1="315" y1="368.3" x2="318" y2="368.3" stroke="#222" stroke-width="0.9"/>
<text x="41" y="372.7" font-family="'Liberation Serif','Noto Serif CJK SC',serif" font-size="13" fill="#111" text-anchor="end">37°<tspan dx="1.6">N</tspan></text>
<line x1="42.8" y1="460.267" x2="45.8" y2="460.267" stroke="#222" stroke-width="0.9"/>
<line x1="315" y1="460.267" x2="318" y2="460.267" stroke="#222" stroke-width="0.9"/>
<text x="41" y="464.667" font-family="'Liberation Serif','Noto Serif CJK SC',serif" font-size="13" fill="#111" text-anchor="end">36.5°<tspan dx="1.6">N</tspan></text>
<line x1="42.8" y1="552.233" x2="45.8" y2="552.233" stroke="#222" stroke-width="0.9"/>
<line x1="315" y1="552.233" x2="318" y2="552.233" stroke="#222" stroke-width="0.9"/>
<text x="41" y="556.633" font-family="'Liberation Serif','Noto Serif CJK SC',serif" font-size="13" fill="#111" text-anchor="end">36°<tspan dx="1.6">N</tspan></text>
<line x1="42.8" y1="644.2" x2="45.8" y2="644.2" stroke="#222" stroke-width="0.9"/>
<line x1="315" y1="644.2" x2="318" y2="644.2" stroke="#222" stroke-width="0.9"/>
<text x="41" y="648.6" font-family="'Liberation Serif','Noto Serif CJK SC',serif" font-size="13" fill="#111" text-anchor="end">35.5°<tspan dx="1.6">N</tspan></text>
<rect x="396.25" y="366.4" width="270" height="278" fill="none" stroke="#222" stroke-width="1"/>
<line x1="396.25" y1="363.4" x2="396.25" y2="366.4" stroke="#222" stroke-width="0.9"/>
<line x1="396.25" y1="644.4" x2="396.25" y2="647.4" stroke="#222" stroke-width="0.9"/>
<text x="404.55" y="659.7" font-family="'Liberation Serif','Noto Serif CJK SC',serif" font-size="13" fill="#111" text-anchor="middle">107°<tspan dx="1.5">E</tspan></text>
<line x1="486.25" y1="363.4" x2="486.25" y2="366.4" stroke="#222" stroke-width="0.9"/>
<line x1="486.25" y1="644.4" x2="486.25" y2="647.4" stroke="#222" stroke-width="0.9"/>
<text x="491.55" y="659.7" font-family="'Liberation Serif','Noto Serif CJK SC',serif" font-size="13" fill="#111" text-anchor="middle">107.5°<tspan dx="1.5">E</tspan></text>
<line x1="576.25" y1="363.4" x2="576.25" y2="366.4" stroke="#222" stroke-width="0.9"/>
<line x1="576.25" y1="644.4" x2="576.25" y2="647.4" stroke="#222" stroke-width="0.9"/>
<text x="582.25" y="659.7" font-family="'Liberation Serif','Noto Serif CJK SC',serif" font-size="13" fill="#111" text-anchor="middle">108°<tspan dx="1.5">E</tspan></text>
<line x1="666.25" y1="363.4" x2="666.25" y2="366.4" stroke="#222" stroke-width="0.9"/>
<line x1="666.25" y1="644.4" x2="666.25" y2="647.4" stroke="#222" stroke-width="0.9"/>
<text x="670.25" y="659.7" font-family="'Liberation Serif','Noto Serif CJK SC',serif" font-size="13" fill="#111" text-anchor="middle">108.5°<tspan dx="1.5">E</tspan></text>
<line x1="393.25" y1="366.4" x2="396.25" y2="366.4" stroke="#222" stroke-width="0.9"/>
<line x1="666.25" y1="366.4" x2="669.25" y2="366.4" stroke="#222" stroke-width="0.9"/>
<text x="390.25" y="370.8" font-family="'Liberation Serif','Noto Serif CJK SC',serif" font-size="13" fill="#111" text-anchor="end" >06:45</text>
<line x1="393.25" y1="422" x2="396.25" y2="422" stroke="#222" stroke-width="0.9"/>
<line x1="666.25" y1="422" x2="669.25" y2="422" stroke="#222" stroke-width="0.9"/>
<text x="390.25" y="426.4" font-family="'Liberation Serif','Noto Serif CJK SC',serif" font-size="13" fill="#111" text-anchor="end" >05:15</text>
<line x1="393.25" y1="477.6" x2="396.25" y2="477.6" stroke="#222" stroke-width="0.9"/>
<line x1="666.25" y1="477.6" x2="669.25" y2="477.6" stroke="#222" stroke-width="0.9"/>
<text x="390.25" y="482" font-family="'Liberation Serif','Noto Serif CJK SC',serif" font-size="13" fill="#111" text-anchor="end" >03:45</text>
<line x1="393.25" y1="533.2" x2="396.25" y2="533.2" stroke="#222" stroke-width="0.9"/>
<line x1="666.25" y1="533.2" x2="669.25" y2="533.2" stroke="#222" stroke-width="0.9"/>
<text x="390.25" y="537.6" font-family="'Liberation Serif','Noto Serif CJK SC',serif" font-size="13" fill="#111" text-anchor="end" >02:15</text>
<line x1="393.25" y1="588.8" x2="396.25" y2="588.8" stroke="#222" stroke-width="0.9"/>
<line x1="666.25" y1="588.8" x2="669.25" y2="588.8" stroke="#222" stroke-width="0.9"/>
<text x="390.25" y="593.2" font-family="'Liberation Serif','Noto Serif CJK SC',serif" font-size="13" fill="#111" text-anchor="end" >00:45</text>
<line x1="393.25" y1="644.4" x2="396.25" y2="644.4" stroke="#222" stroke-width="0.9"/>
<line x1="666.25" y1="644.4" x2="669.25" y2="644.4" stroke="#222" stroke-width="0.9"/>
<text x="390.25" y="648.8" font-family="'Liberation Serif','Noto Serif CJK SC',serif" font-size="13" fill="#111" text-anchor="end" >23:15</text>
<text x="183.5" y="11.3" font-family="'Liberation Serif','Noto Serif CJK SC',serif" font-size="13" fill="#111" text-anchor="middle">(<tspan dx="3.2" font-weight="bold">a</tspan><tspan dx="3.2">)</tspan></text>
<text x="508.8" y="11.3" font-family="'Liberation Serif','Noto Serif CJK SC',serif" font-size="13" fill="#111" text-anchor="middle">(<tspan dx="3.2" font-weight="bold">b</tspan><tspan dx="3.2">)</tspan></text>
<text x="183" y="349.5" font-family="'Liberation Serif','Noto Serif CJK SC',serif" font-size="13" fill="#111" text-anchor="middle">(<tspan dx="3.2" font-weight="bold">c</tspan><tspan dx="3.2">)</tspan></text>
<text x="509.8" y="349.5" font-family="'Liberation Serif','Noto Serif CJK SC',serif" font-size="13" fill="#111" text-anchor="middle">(<tspan dx="3.2" font-weight="bold">d</tspan><tspan dx="3.2">)</tspan></text>
<text x="173" y="677" font-family="'Liberation Serif','Noto Serif CJK SC',serif" font-size="13" fill="#111" text-anchor="middle" font-weight="300">北京时</text>
<text transform="translate(347.5,503) rotate(-90)" font-family="'Liberation Serif','Noto Serif CJK SC',serif" font-size="13" font-weight="300" fill="#111" text-anchor="middle">北京时</text>
<rect x="60" y="679.5" width="83.8286" height="14" fill="rgb(85,80,255)"/>
<rect x="143.429" y="679.5" width="83.8286" height="14" fill="rgb(112,72,255)"/>
<rect x="226.857" y="679.5" width="83.8286" height="14" fill="rgb(160,0,42)"/>
<rect x="310.286" y="679.5" width="83.8286" height="14" fill="rgb(10,6,10)"/>
<rect x="393.714" y="679.5" width="83.8286" height="14" fill="rgb(82,0,6)"/>
<rect x="477.143" y="679.5" width="83.8286" height="14" fill="rgb(2,2,200)"/>
<rect x="560.571" y="679.5" width="83.4286" height="14" fill="rgb(70,42,255)"/>
<text x="104" y="710" font-family="'Liberation Serif','Noto Serif CJK SC',serif" font-size="13" fill="#111" text-anchor="middle" font-weight="300">晴空</text>
<text x="182.5" y="710" font-family="'Liberation Serif','Noto Serif CJK SC',serif" font-size="13" fill="#111" text-anchor="middle" font-weight="300">晴空</text>
<text x="273.5" y="710" font-family="'Liberation Serif','Noto Serif CJK SC',serif" font-size="13" fill="#111" text-anchor="middle" font-weight="300">厚中层云</text>
<text x="355" y="710" font-family="'Liberation Serif','Noto Serif CJK SC',serif" font-size="13" fill="#111" text-anchor="middle" font-weight="300">冷厚冰云</text>
<text x="430" y="710" font-family="'Liberation Serif','Noto Serif CJK SC',serif" font-size="13" fill="#111" text-anchor="middle" font-weight="300">厚冰云</text>
<text x="521" y="710" font-family="'Liberation Serif','Noto Serif CJK SC',serif" font-size="13" fill="#111" text-anchor="middle" font-weight="300">薄卷云</text>
<text x="605" y="710" font-family="'Liberation Serif','Noto Serif CJK SC',serif" font-size="13" fill="#111" text-anchor="middle" font-weight="300">极薄卷云</text>
</svg>
</body></html>
